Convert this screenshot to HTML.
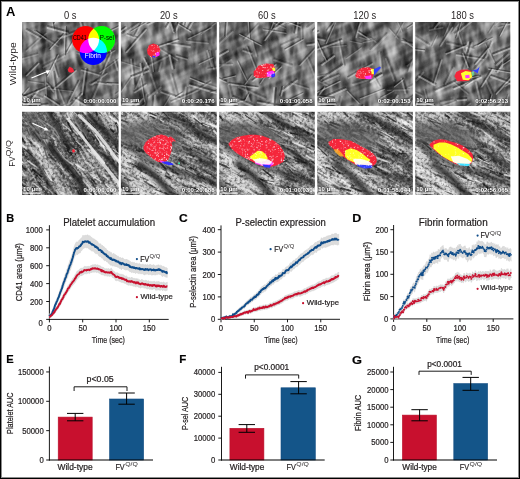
<!DOCTYPE html>
<html><head><meta charset="utf-8"><style>
html,body{margin:0;padding:0;background:#fff;}
body{width:520px;height:479px;position:relative;overflow:hidden;font-family:"Liberation Sans",sans-serif;}
svg text{font-family:"Liberation Sans",sans-serif;} .ct text{stroke:#231f20;stroke-width:0.22px;} .ct text.nb{stroke:none;}
</style></head><body>
<svg xmlns="http://www.w3.org/2000/svg" width="520" height="479" viewBox="0 0 520 479" style="position:absolute;left:0;top:0;will-change:transform">
<defs>
<filter id="blur1" x="-20%" y="-20%" width="140%" height="140%"><feGaussianBlur stdDeviation="1.2"/></filter>
<filter id="blur2" x="-30%" y="-30%" width="160%" height="160%"><feGaussianBlur stdDeviation="2.5"/></filter>
<filter id="blur4" x="-30%" y="-30%" width="160%" height="160%"><feGaussianBlur stdDeviation="4"/></filter>
<filter id="blur05"><feGaussianBlur stdDeviation="0.5"/></filter>
<filter id="b05" filterUnits="userSpaceOnUse" x="0" y="0" width="520" height="479"><feGaussianBlur stdDeviation="0.5"/></filter>
<filter id="b15" filterUnits="userSpaceOnUse" x="0" y="0" width="520" height="479"><feGaussianBlur stdDeviation="1.5"/></filter>
<filter id="b1" filterUnits="userSpaceOnUse" x="0" y="0" width="520" height="479"><feGaussianBlur stdDeviation="1"/></filter>
<filter id="b2" filterUnits="userSpaceOnUse" x="0" y="0" width="520" height="479"><feGaussianBlur stdDeviation="2"/></filter>
<filter id="b3" filterUnits="userSpaceOnUse" x="0" y="0" width="520" height="479"><feGaussianBlur stdDeviation="3"/></filter>
<filter id="b4" filterUnits="userSpaceOnUse" x="0" y="0" width="520" height="479"><feGaussianBlur stdDeviation="4"/></filter>
<filter id="b5" filterUnits="userSpaceOnUse" x="0" y="0" width="520" height="479"><feGaussianBlur stdDeviation="5"/></filter>
<filter id="b6" filterUnits="userSpaceOnUse" x="0" y="0" width="520" height="479"><feGaussianBlur stdDeviation="6"/></filter>
<filter id="soft" x="0" y="0" width="100%" height="100%"><feGaussianBlur stdDeviation="0.55"/></filter>
</defs>
<text x="5.98" y="15.7" font-size="12" font-weight="bold" fill="#000" textLength="9.38" lengthAdjust="spacingAndGlyphs">A</text>
<text x="64.01" y="18.7" font-size="10.2" fill="#231f20" textLength="12.52" lengthAdjust="spacingAndGlyphs">0 s</text>
<text x="159.91" y="18.7" font-size="10.2" fill="#231f20" textLength="17.74" lengthAdjust="spacingAndGlyphs">20 s</text>
<text x="258.06" y="18.7" font-size="10.2" fill="#231f20" textLength="17.74" lengthAdjust="spacingAndGlyphs">60 s</text>
<text x="353.34" y="18.7" font-size="10.2" fill="#231f20" textLength="22.96" lengthAdjust="spacingAndGlyphs">120 s</text>
<text x="451.09" y="18.7" font-size="10.2" fill="#231f20" textLength="22.96" lengthAdjust="spacingAndGlyphs">180 s</text>
<g transform="translate(16.2,64) rotate(-90)"><text x="-21.25" y="0" font-size="9.4" fill="#231f20" textLength="42.94" lengthAdjust="spacingAndGlyphs">Wild-type</text></g>
<g transform="translate(15.4,166) rotate(-90)">
<text x="-0.64" y="0" font-size="9.2" fill="#231f20" textLength="10.2" lengthAdjust="spacingAndGlyphs">FV</text>
<text x="9.6" y="-4.1" font-size="6.6" fill="#231f20" textLength="16.44" lengthAdjust="spacingAndGlyphs">Q/Q</text>
</g>
<clipPath id="c00"><rect x="22" y="22" width="96.6" height="84"/></clipPath>
<g clip-path="url(#c00)">
<g filter="url(#soft)">
<rect x="20" y="20" width="100.6" height="88" fill="rgb(104,104,104)"/>
<line x1="23.49" y1="22" x2="23.49" y2="106" stroke="rgb(200,200,200)" stroke-opacity="0.5" stroke-width="2.61" filter="url(#b1)"/>
<line x1="42.52" y1="22" x2="48.12" y2="106" stroke="rgb(60,60,60)" stroke-opacity="0.35" stroke-width="6.53" filter="url(#b3)"/>
<line x1="22" y1="83.6" x2="119" y2="50" stroke="rgb(70,70,70)" stroke-opacity="0.3" stroke-width="5.6" filter="url(#b4)"/>
<filter id="c00f0" x="0" y="0" width="100%" height="100%" color-interpolation-filters="sRGB"><feTurbulence type="fractalNoise" baseFrequency="0.14 0.025" numOctaves="2" seed="11"/><feColorMatrix type="matrix" values="1.4 0 0 0 -0.2  1.4 0 0 0 -0.2  1.4 0 0 0 -0.2  0 0 0 0 1"/></filter>
<g transform="rotate(65 70.3 64)" opacity="0.5" style="mix-blend-mode:hard-light"><rect x="-4.7" y="-11" width="150" height="150" filter="url(#c00f0)"/></g>
<filter id="c00f1" x="0" y="0" width="100%" height="100%" color-interpolation-filters="sRGB"><feTurbulence type="fractalNoise" baseFrequency="0.14 0.025" numOctaves="2" seed="12"/><feColorMatrix type="matrix" values="1.4 0 0 0 -0.2  1.4 0 0 0 -0.2  1.4 0 0 0 -0.2  0 0 0 0 1"/></filter>
<g transform="rotate(-20 70.3 64)" opacity="0.5" style="mix-blend-mode:hard-light"><rect x="-4.7" y="-11" width="150" height="150" filter="url(#c00f1)"/></g>
<filter id="c00f2" x="0" y="0" width="100%" height="100%" color-interpolation-filters="sRGB"><feTurbulence type="fractalNoise" baseFrequency="0.18 0.03" numOctaves="2" seed="13"/><feColorMatrix type="matrix" values="1.2 0 0 0 -0.1  1.2 0 0 0 -0.1  1.2 0 0 0 -0.1  0 0 0 0 1"/></filter>
<g transform="rotate(5 70.3 64)" opacity="0.45" style="mix-blend-mode:hard-light"><rect x="-4.7" y="-11" width="150" height="150" filter="url(#c00f2)"/></g>
<filter id="c00f3" x="0" y="0" width="100%" height="100%" color-interpolation-filters="sRGB"><feTurbulence type="fractalNoise" baseFrequency="0.06 0.06" numOctaves="2" seed="14"/><feColorMatrix type="matrix" values="1.0 0 0 0 0  1.0 0 0 0 0  1.0 0 0 0 0  0 0 0 0 1"/></filter>
<g transform="rotate(0 70.3 64)" opacity="0.4" style="mix-blend-mode:hard-light"><rect x="-4.7" y="-11" width="150" height="150" filter="url(#c00f3)"/></g>
<path d="M23.2 95.1L29.3 88.0M107.9 56.0L113.1 45.7M49.6 8.6L53.4 30.0M82.8 48.2L110.8 43.7M102.9 57.2L115.0 50.7" stroke="#fff" stroke-opacity="0.28" stroke-width="1.17" stroke-linecap="round" fill="none"/>
<path d="M22.2 94.3L28.3 87.1M106.7 55.4L112.0 45.1M50.9 8.4L54.7 29.8M82.6 46.9L110.6 42.4M102.3 56.0L114.4 49.6" stroke="#000" stroke-opacity="0.28" stroke-width="1.17" stroke-linecap="round" fill="none"/>
<path d="M108.7 61.3L111.8 53.3M48.4 114.7L73.4 101.4M13.0 109.2L25.2 96.9M18.2 60.3L37.8 54.6M33.9 31.8L57.8 46.3M78.1 95.1L79.3 120.6M26.7 51.0L46.5 33.5M58.4 89.7L68.2 114.1M118.2 98.9L132.0 84.5" stroke="#fff" stroke-opacity="0.19" stroke-width="1.50" stroke-linecap="round" fill="none"/>
<path d="M107.1 60.7L110.2 52.7M47.6 113.2L72.7 99.9M11.8 108.1L24.1 95.7M17.7 58.7L37.3 53.0M34.7 30.4L58.7 44.9M79.8 95.1L80.9 120.5M25.7 49.7L45.4 32.3M59.9 89.0L69.7 113.5M117.0 97.8L130.8 83.4" stroke="#000" stroke-opacity="0.19" stroke-width="1.50" stroke-linecap="round" fill="none"/>
<path d="M9.0 84.6L21.3 76.1M47.5 28.0L67.8 33.4M-1.7 91.3L26.6 97.7M74.4 99.6L84.9 105.3M27.1 108.1L47.9 105.3M24.4 109.7L38.2 91.3M120.9 25.4L122.5 35.0M85.5 68.9L82.0 94.7M112.5 115.5L125.2 109.9" stroke="#fff" stroke-opacity="0.36" stroke-width="1.83" stroke-linecap="round" fill="none"/>
<path d="M7.9 83.0L20.2 74.5M48.0 26.0L68.3 31.5M-1.3 89.3L27.1 95.7M75.4 97.8L85.9 103.5M26.8 106.1L47.6 103.3M22.8 108.5L36.6 90.1M122.9 25.1L124.5 34.6M87.5 69.1L84.0 95.0M111.7 113.7L124.4 108.0" stroke="#000" stroke-opacity="0.36" stroke-width="1.83" stroke-linecap="round" fill="none"/>
<path d="M68.8 102.5L79.7 81.1M52.9 19.3L64.5 13.5M100.3 79.7L111.3 52.4M69.1 108.6L82.4 93.6M117.7 2.2L132.5 26.6M53.3 63.7L57.4 77.2M94.9 82.7L111.5 85.0M81.5 70.3L100.3 75.8M91.9 84.9L107.0 73.6" stroke="#fff" stroke-opacity="0.28" stroke-width="1.50" stroke-linecap="round" fill="none"/>
<path d="M67.3 101.7L78.2 80.4M52.2 17.8L63.8 12.1M98.8 79.1L109.7 51.7M67.9 107.5L81.2 92.5M119.2 1.3L133.9 25.7M54.9 63.2L59.0 76.7M95.1 81.1L111.7 83.4M81.9 68.7L100.8 74.2M90.9 83.6L106.0 72.3" stroke="#000" stroke-opacity="0.28" stroke-width="1.50" stroke-linecap="round" fill="none"/>
<path d="M46.8 83.4L53.5 91.7M26.7 75.7L38.8 63.6M44.6 96.2L58.7 105.5M24.3 97.3L50.0 86.1M38.0 105.0L39.2 115.5M16.0 101.8L24.6 104.0M53.4 90.0L76.1 70.9M86.5 58.8L105.0 36.3M114.2 120.0L126.6 107.2M89.7 41.7L110.5 51.1" stroke="#fff" stroke-opacity="0.36" stroke-width="1.50" stroke-linecap="round" fill="none"/>
<path d="M48.0 82.4L54.8 90.6M25.5 74.5L37.6 62.4M45.5 94.8L59.6 104.1M23.7 95.8L49.3 84.6M39.7 104.9L40.8 115.3M16.5 100.2L25.0 102.4M52.3 88.7L75.0 69.7M85.3 57.7L103.7 35.3M113.0 118.8L125.4 106.1M90.4 40.2L111.2 49.6" stroke="#000" stroke-opacity="0.36" stroke-width="1.50" stroke-linecap="round" fill="none"/>
<path d="M99.8 73.0L122.2 57.2M44.9 74.0L46.5 96.2M76.5 53.1L101.0 60.8M116.1 94.5L127.7 85.3M28.2 81.6L43.6 83.9M107.1 115.2L132.1 103.4M46.5 88.6L72.7 91.5" stroke="#fff" stroke-opacity="0.19" stroke-width="1.17" stroke-linecap="round" fill="none"/>
<path d="M99.1 71.9L121.5 56.1M46.2 73.9L47.8 96.1M76.9 51.8L101.4 59.6M115.3 93.4L126.9 84.3M28.4 80.3L43.8 82.6M106.6 114.1L131.5 102.2M46.7 87.3L72.9 90.3" stroke="#000" stroke-opacity="0.19" stroke-width="1.17" stroke-linecap="round" fill="none"/>
<path d="M54.8 23.9L67.0 1.1M67.3 52.5L74.4 39.8M107.1 83.7L122.6 84.5M65.2 26.6L64.2 55.0M105.9 33.3L123.3 25.0M36.0 31.7L45.7 38.6M47.9 76.5L58.4 55.2M50.2 49.5L64.1 34.4" stroke="#fff" stroke-opacity="0.36" stroke-width="1.17" stroke-linecap="round" fill="none"/>
<path d="M53.6 23.3L65.9 0.5M66.2 51.8L73.3 39.2M107.1 82.4L122.7 83.2M66.5 26.7L65.5 55.0M105.3 32.2L122.7 23.8M36.7 30.7L46.4 37.5M46.8 76.0L57.2 54.6M49.3 48.7L63.2 33.5" stroke="#000" stroke-opacity="0.36" stroke-width="1.17" stroke-linecap="round" fill="none"/>
<path d="M120.4 15.2L121.7 23.8M114.5 60.4L117.5 70.3M109.7 17.7L129.6 24.2M122.4 9.1L125.7 38.3M26.0 30.6L39.8 38.3M77.5 12.8L84.9 38.1M52.3 71.9L56.3 98.3M59.0 38.6L79.5 31.5" stroke="#fff" stroke-opacity="0.28" stroke-width="1.83" stroke-linecap="round" fill="none"/>
<path d="M122.4 14.9L123.7 23.5M116.4 59.8L119.4 69.7M110.4 15.7L130.2 22.3M124.4 8.9L127.7 38.0M26.9 28.9L40.8 36.6M79.4 12.2L86.9 37.5M54.3 71.6L58.3 98.0M58.3 36.6L78.8 29.5" stroke="#000" stroke-opacity="0.28" stroke-width="1.83" stroke-linecap="round" fill="none"/>
<path d="M22.2 108.0L29.9 101.6M32.6 95.1L41.9 98.9M43.6 67.5L65.2 55.8M90.5 84.7L101.0 80.0M92.8 99.3L101.5 79.1" stroke="#fff" stroke-opacity="0.19" stroke-width="1.83" stroke-linecap="round" fill="none"/>
<path d="M20.9 106.5L28.6 100.1M33.4 93.2L42.7 97.0M42.6 65.7L64.2 54.1M89.7 82.9L100.2 78.2M90.9 98.5L99.7 78.3" stroke="#000" stroke-opacity="0.19" stroke-width="1.83" stroke-linecap="round" fill="none"/>
</g>
<polygon points="67.7,69.6 69.57,66.8 72.74,68.29 74.23,71.47 71.43,72.77 68.63,72.03" fill="#f5283a" filter="url(#b05)" stroke-linejoin="round"/>
</g>
<clipPath id="c01"><rect x="120.9" y="22" width="95.9" height="84"/></clipPath>
<g clip-path="url(#c01)">
<g filter="url(#soft)">
<rect x="118.9" y="20" width="99.9" height="88" fill="rgb(106,106,106)"/>
<line x1="197.38" y1="22" x2="196.45" y2="106" stroke="rgb(45,45,45)" stroke-opacity="0.6" stroke-width="4.66" filter="url(#b2)"/>
<line x1="120.9" y1="78" x2="217.9" y2="40.67" stroke="rgb(70,70,70)" stroke-opacity="0.3" stroke-width="4.66" filter="url(#b3)"/>
<line x1="124.63" y1="22" x2="132.09" y2="106" stroke="rgb(60,60,60)" stroke-opacity="0.3" stroke-width="5.6" filter="url(#b3)"/>
<filter id="c01f0" x="0" y="0" width="100%" height="100%" color-interpolation-filters="sRGB"><feTurbulence type="fractalNoise" baseFrequency="0.14 0.025" numOctaves="2" seed="21"/><feColorMatrix type="matrix" values="1.4 0 0 0 -0.2  1.4 0 0 0 -0.2  1.4 0 0 0 -0.2  0 0 0 0 1"/></filter>
<g transform="rotate(65 168.85 64)" opacity="0.5" style="mix-blend-mode:hard-light"><rect x="93.85" y="-11" width="150" height="150" filter="url(#c01f0)"/></g>
<filter id="c01f1" x="0" y="0" width="100%" height="100%" color-interpolation-filters="sRGB"><feTurbulence type="fractalNoise" baseFrequency="0.14 0.025" numOctaves="2" seed="22"/><feColorMatrix type="matrix" values="1.4 0 0 0 -0.2  1.4 0 0 0 -0.2  1.4 0 0 0 -0.2  0 0 0 0 1"/></filter>
<g transform="rotate(-20 168.85 64)" opacity="0.5" style="mix-blend-mode:hard-light"><rect x="93.85" y="-11" width="150" height="150" filter="url(#c01f1)"/></g>
<filter id="c01f2" x="0" y="0" width="100%" height="100%" color-interpolation-filters="sRGB"><feTurbulence type="fractalNoise" baseFrequency="0.18 0.03" numOctaves="2" seed="23"/><feColorMatrix type="matrix" values="1.2 0 0 0 -0.1  1.2 0 0 0 -0.1  1.2 0 0 0 -0.1  0 0 0 0 1"/></filter>
<g transform="rotate(5 168.85 64)" opacity="0.45" style="mix-blend-mode:hard-light"><rect x="93.85" y="-11" width="150" height="150" filter="url(#c01f2)"/></g>
<filter id="c01f3" x="0" y="0" width="100%" height="100%" color-interpolation-filters="sRGB"><feTurbulence type="fractalNoise" baseFrequency="0.06 0.06" numOctaves="2" seed="24"/><feColorMatrix type="matrix" values="1.0 0 0 0 0  1.0 0 0 0 0  1.0 0 0 0 0  0 0 0 0 1"/></filter>
<g transform="rotate(0 168.85 64)" opacity="0.4" style="mix-blend-mode:hard-light"><rect x="93.85" y="-11" width="150" height="150" filter="url(#c01f3)"/></g>
<path d="M199.4 103.4L210.4 99.4M216.9 77.0L217.0 97.5M219.3 19.1L224.8 10.9M159.3 114.2L171.0 95.5M121.4 91.8L132.3 76.3M201.3 34.6L217.9 21.5M100.2 28.2L124.1 19.1M113.9 59.7L139.9 67.9" stroke="#fff" stroke-opacity="0.19" stroke-width="1.17" stroke-linecap="round" fill="none"/>
<path d="M198.9 102.2L209.9 98.1M218.2 77.0L218.3 97.5M218.2 18.3L223.8 10.2M158.2 113.5L169.9 94.9M120.4 91.1L131.3 75.6M200.5 33.6L217.1 20.5M99.8 27.0L123.6 17.9M114.3 58.4L140.3 66.7" stroke="#000" stroke-opacity="0.19" stroke-width="1.17" stroke-linecap="round" fill="none"/>
<path d="M171.5 102.4L199.0 90.3M126.9 35.2L136.5 38.5M134.6 37.3L147.6 13.0M191.8 93.7L211.1 82.2M134.9 92.6L146.6 84.9M176.3 56.4L186.9 59.5M209.7 51.3L213.9 68.9M171.7 114.3L179.7 112.4" stroke="#fff" stroke-opacity="0.28" stroke-width="1.50" stroke-linecap="round" fill="none"/>
<path d="M170.8 100.9L198.3 88.8M127.4 33.7L137.1 36.9M133.1 36.5L146.1 12.3M190.9 92.3L210.2 80.8M134.0 91.2L145.7 83.5M176.8 54.8L187.4 57.9M211.3 50.9L215.5 68.5M171.3 112.7L179.3 110.8" stroke="#000" stroke-opacity="0.28" stroke-width="1.50" stroke-linecap="round" fill="none"/>
<path d="M153.1 122.5L155.1 95.4M207.2 51.0L211.8 66.3M161.4 92.5L179.2 99.0M167.8 43.8L189.9 47.1M132.8 108.7L142.9 98.9M105.2 83.9L120.6 105.3M131.0 59.3L133.4 83.8M205.3 104.1L219.7 111.9M185.7 87.4L183.9 101.9" stroke="#fff" stroke-opacity="0.28" stroke-width="1.83" stroke-linecap="round" fill="none"/>
<path d="M151.1 122.4L153.1 95.3M209.1 50.4L213.7 65.7M162.1 90.6L179.9 97.1M168.1 41.8L190.2 45.1M131.4 107.2L141.5 97.4M106.8 82.7L122.3 104.1M133.0 59.1L135.4 83.6M206.3 102.4L220.7 110.2M187.7 87.6L185.9 102.2" stroke="#000" stroke-opacity="0.28" stroke-width="1.83" stroke-linecap="round" fill="none"/>
<path d="M129.9 20.3L147.5 10.1M105.1 92.9L117.7 101.9M186.6 41.5L208.3 43.6M198.9 82.3L222.3 90.0M135.9 88.7L147.5 62.0M146.3 94.2L144.8 104.4M176.1 14.5L177.0 39.7M208.3 69.6L223.7 66.9M121.4 120.2L144.5 105.0M158.3 48.4L177.5 60.4" stroke="#fff" stroke-opacity="0.19" stroke-width="1.50" stroke-linecap="round" fill="none"/>
<path d="M129.1 18.9L146.6 8.6M106.0 91.6L118.7 100.6M186.8 39.9L208.5 42.0M199.4 80.7L222.8 88.5M134.4 88.1L145.9 61.3M147.9 94.5L146.5 104.6M177.7 14.4L178.6 39.6M208.0 68.0L223.5 65.3M120.5 118.8L143.6 103.6M159.2 47.0L178.4 59.0" stroke="#000" stroke-opacity="0.19" stroke-width="1.50" stroke-linecap="round" fill="none"/>
<path d="M189.7 85.4L216.2 93.3M132.0 77.7L148.6 71.2M220.4 20.4L222.1 28.7M169.4 55.1L172.4 68.7M103.0 117.5L128.0 111.0M167.7 15.7L173.6 32.3M188.7 29.6L201.6 6.7M167.3 27.7L177.4 10.0M140.3 63.9L141.7 74.8M216.3 50.7L218.1 78.0M148.2 24.7L158.1 19.6M176.0 31.5L181.4 17.4M121.5 119.7L127.0 112.6" stroke="#fff" stroke-opacity="0.36" stroke-width="1.83" stroke-linecap="round" fill="none"/>
<path d="M190.3 83.5L216.8 91.3M131.3 75.8L147.9 69.3M222.4 20.0L224.0 28.3M171.4 54.7L174.4 68.2M102.5 115.6L127.5 109.1M169.6 15.0L175.5 31.6M186.9 28.6L199.9 5.7M165.6 26.7L175.6 9.0M142.3 63.7L143.7 74.6M218.3 50.6L220.2 77.8M147.3 23.0L157.1 17.8M174.1 30.8L179.5 16.7M119.9 118.5L125.4 111.3" stroke="#000" stroke-opacity="0.36" stroke-width="1.83" stroke-linecap="round" fill="none"/>
<path d="M154.9 48.2L178.6 40.4M197.4 21.5L214.6 7.3M126.8 52.2L146.3 29.7M143.8 58.4L148.1 67.0M188.1 0.9L183.2 24.5M110.7 39.0L126.1 27.8" stroke="#fff" stroke-opacity="0.36" stroke-width="1.50" stroke-linecap="round" fill="none"/>
<path d="M154.4 46.6L178.1 38.9M196.4 20.2L213.6 6.0M125.5 51.1L145.1 28.6M145.2 57.7L149.6 66.3M189.7 1.2L184.8 24.8M109.7 37.7L125.1 26.5" stroke="#000" stroke-opacity="0.36" stroke-width="1.50" stroke-linecap="round" fill="none"/>
<path d="M210.7 93.0L219.6 90.2M130.8 32.0L150.3 20.5M140.5 78.8L144.6 101.5M147.3 114.3L156.5 118.4M188.4 39.0L211.7 27.7M151.3 56.2L153.3 71.4M199.2 64.3L213.1 57.7" stroke="#fff" stroke-opacity="0.28" stroke-width="1.17" stroke-linecap="round" fill="none"/>
<path d="M210.3 91.7L219.2 89.0M130.1 30.9L149.7 19.4M141.8 78.6L145.9 101.3M147.8 113.1L157.0 117.3M187.8 37.8L211.2 26.5M152.6 56.0L154.6 71.3M198.7 63.1L212.6 56.5" stroke="#000" stroke-opacity="0.28" stroke-width="1.17" stroke-linecap="round" fill="none"/>
<path d="M176.1 97.2L183.0 93.0M190.0 78.2L204.1 84.0M178.4 24.5L190.6 31.9" stroke="#fff" stroke-opacity="0.36" stroke-width="1.17" stroke-linecap="round" fill="none"/>
<path d="M175.5 96.1L182.3 91.9M190.5 77.0L204.6 82.8M179.1 23.4L191.2 30.8" stroke="#000" stroke-opacity="0.36" stroke-width="1.17" stroke-linecap="round" fill="none"/>
<path d="M150.8 74.2L157.2 92.9M159.2 71.3L161.4 62.4M170.7 74.4L176.3 94.8M123.1 34.7L139.1 23.8M148.9 97.6L160.6 87.6M143.4 68.9L170.2 55.5" stroke="#fff" stroke-opacity="0.19" stroke-width="1.83" stroke-linecap="round" fill="none"/>
<path d="M152.7 73.5L159.1 92.2M157.3 70.8L159.5 61.9M172.6 73.9L178.3 94.3M122.0 33.0L138.0 22.1M147.6 96.1L159.3 86.1M142.5 67.1L169.3 53.7" stroke="#000" stroke-opacity="0.19" stroke-width="1.83" stroke-linecap="round" fill="none"/>
</g>
<polygon points="147.02,50 148.88,45.33 153.54,43.47 158.21,45.33 160.45,50 159.14,54.67 155.41,57.47 150.75,57.09 147.58,54.11" fill="#f5283a" filter="url(#b05)" stroke-linejoin="round"/>
<polygon points="155.41,52.8 159.14,51.87 159.7,55.23 156.34,57.09" fill="#ff20ff" filter="url(#b05)" stroke-linejoin="round"/>
<polygon points="152.61,55.6 156.34,56.53 154.48,57.84 152.24,57.09" fill="#3030ff" filter="url(#b05)" stroke-linejoin="round"/>
<clipPath id="c01s"><polygon points="147.02,50 148.88,45.33 153.54,43.47 158.21,45.33 160.45,50 159.14,54.67 155.41,57.47 150.75,57.09 147.58,54.11"/></clipPath>
<g clip-path="url(#c01s)">
<path d="M154.8 53.9a0.63 0.63 0 1 0 1.26 0a0.63 0.63 0 1 0 -1.26 0M148.0 47.0a0.38 0.38 0 1 0 0.75 0a0.38 0.38 0 1 0 -0.75 0M157.3 45.4a0.46 0.46 0 1 0 0.91 0a0.46 0.46 0 1 0 -0.91 0M159.4 51.0a0.52 0.52 0 1 0 1.04 0a0.52 0.52 0 1 0 -1.04 0M154.6 43.5a0.55 0.55 0 1 0 1.10 0a0.55 0.55 0 1 0 -1.10 0M150.9 50.2a0.36 0.36 0 1 0 0.72 0a0.36 0.36 0 1 0 -0.72 0M150.0 56.6a0.43 0.43 0 1 0 0.85 0a0.43 0.43 0 1 0 -0.85 0M157.2 52.2a0.54 0.54 0 1 0 1.08 0a0.54 0.54 0 1 0 -1.08 0M148.7 57.2a0.31 0.31 0 1 0 0.62 0a0.31 0.31 0 1 0 -0.62 0M152.7 50.3a0.41 0.41 0 1 0 0.82 0a0.41 0.41 0 1 0 -0.82 0M153.5 51.1a0.43 0.43 0 1 0 0.85 0a0.43 0.43 0 1 0 -0.85 0" fill="#fff" fill-opacity="0.85"/>
<path d="M156.4 56.4a0.59 0.59 0 1 0 1.19 0a0.59 0.59 0 1 0 -1.19 0M156.8 47.0a0.62 0.62 0 1 0 1.23 0a0.62 0.62 0 1 0 -1.23 0M148.1 50.0a0.43 0.43 0 1 0 0.87 0a0.43 0.43 0 1 0 -0.87 0M148.4 57.1a0.37 0.37 0 1 0 0.75 0a0.37 0.37 0 1 0 -0.75 0M149.5 57.2a0.40 0.40 0 1 0 0.80 0a0.40 0.40 0 1 0 -0.80 0M148.8 57.0a0.64 0.64 0 1 0 1.28 0a0.64 0.64 0 1 0 -1.28 0M154.2 43.6a0.55 0.55 0 1 0 1.10 0a0.55 0.55 0 1 0 -1.10 0M154.8 56.8a0.56 0.56 0 1 0 1.13 0a0.56 0.56 0 1 0 -1.13 0M160.1 45.7a0.33 0.33 0 1 0 0.66 0a0.33 0.33 0 1 0 -0.66 0M154.7 56.4a0.38 0.38 0 1 0 0.77 0a0.38 0.38 0 1 0 -0.77 0M153.0 55.2a0.64 0.64 0 1 0 1.29 0a0.64 0.64 0 1 0 -1.29 0M152.5 57.5a0.64 0.64 0 1 0 1.28 0a0.64 0.64 0 1 0 -1.28 0M150.4 50.0a0.34 0.34 0 1 0 0.68 0a0.34 0.34 0 1 0 -0.68 0M157.5 50.9a0.52 0.52 0 1 0 1.04 0a0.52 0.52 0 1 0 -1.04 0M153.2 48.2a0.47 0.47 0 1 0 0.94 0a0.47 0.47 0 1 0 -0.94 0" fill="#fff" fill-opacity="0.35"/>
<path d="M150.4 56.3a0.36 0.36 0 1 0 0.71 0a0.36 0.36 0 1 0 -0.71 0M158.6 47.6a0.45 0.45 0 1 0 0.89 0a0.45 0.45 0 1 0 -0.89 0M159.2 47.2a0.41 0.41 0 1 0 0.81 0a0.41 0.41 0 1 0 -0.81 0M147.4 48.4a0.47 0.47 0 1 0 0.94 0a0.47 0.47 0 1 0 -0.94 0M152.0 51.2a0.43 0.43 0 1 0 0.86 0a0.43 0.43 0 1 0 -0.86 0M159.0 56.7a0.48 0.48 0 1 0 0.96 0a0.48 0.48 0 1 0 -0.96 0M158.7 47.0a0.34 0.34 0 1 0 0.68 0a0.34 0.34 0 1 0 -0.68 0M156.8 54.6a0.31 0.31 0 1 0 0.63 0a0.31 0.31 0 1 0 -0.63 0M159.2 44.7a0.48 0.48 0 1 0 0.96 0a0.48 0.48 0 1 0 -0.96 0M151.3 45.5a0.62 0.62 0 1 0 1.25 0a0.62 0.62 0 1 0 -1.25 0M153.9 47.8a0.41 0.41 0 1 0 0.81 0a0.41 0.41 0 1 0 -0.81 0M154.5 55.0a0.53 0.53 0 1 0 1.06 0a0.53 0.53 0 1 0 -1.06 0M154.3 45.3a0.34 0.34 0 1 0 0.67 0a0.34 0.34 0 1 0 -0.67 0M152.4 45.6a0.40 0.40 0 1 0 0.81 0a0.40 0.40 0 1 0 -0.81 0" fill="#fff" fill-opacity="0.6"/>
</g>
</g>
<clipPath id="c02"><rect x="219.2" y="22" width="95.6" height="84"/></clipPath>
<g clip-path="url(#c02)">
<g filter="url(#soft)">
<rect x="217.2" y="20" width="99.6" height="88" fill="rgb(106,106,106)"/>
<polyline points="236.92,20.13 239.72,59.33 243.45,107.87" fill="none" stroke="rgb(40,40,40)" stroke-opacity="0.5" stroke-width="5.6" stroke-linejoin="round" stroke-linecap="round" filter="url(#b3)"/>
<polyline points="247.18,92.93 275.16,81.73 305.01,68.67" fill="none" stroke="rgb(230,230,230)" stroke-opacity="0.6" stroke-width="1.87" stroke-linejoin="round" stroke-linecap="round" filter="url(#b1)"/>
<polyline points="217.33,68.67 256.51,50 293.82,33.2" fill="none" stroke="rgb(60,60,60)" stroke-opacity="0.35" stroke-width="3.73" stroke-linejoin="round" stroke-linecap="round" filter="url(#b3)"/>
<filter id="c02f0" x="0" y="0" width="100%" height="100%" color-interpolation-filters="sRGB"><feTurbulence type="fractalNoise" baseFrequency="0.14 0.025" numOctaves="2" seed="31"/><feColorMatrix type="matrix" values="1.4 0 0 0 -0.2  1.4 0 0 0 -0.2  1.4 0 0 0 -0.2  0 0 0 0 1"/></filter>
<g transform="rotate(65 267 64)" opacity="0.5" style="mix-blend-mode:hard-light"><rect x="192" y="-11" width="150" height="150" filter="url(#c02f0)"/></g>
<filter id="c02f1" x="0" y="0" width="100%" height="100%" color-interpolation-filters="sRGB"><feTurbulence type="fractalNoise" baseFrequency="0.14 0.025" numOctaves="2" seed="32"/><feColorMatrix type="matrix" values="1.4 0 0 0 -0.2  1.4 0 0 0 -0.2  1.4 0 0 0 -0.2  0 0 0 0 1"/></filter>
<g transform="rotate(-20 267 64)" opacity="0.5" style="mix-blend-mode:hard-light"><rect x="192" y="-11" width="150" height="150" filter="url(#c02f1)"/></g>
<filter id="c02f2" x="0" y="0" width="100%" height="100%" color-interpolation-filters="sRGB"><feTurbulence type="fractalNoise" baseFrequency="0.18 0.03" numOctaves="2" seed="33"/><feColorMatrix type="matrix" values="1.2 0 0 0 -0.1  1.2 0 0 0 -0.1  1.2 0 0 0 -0.1  0 0 0 0 1"/></filter>
<g transform="rotate(5 267 64)" opacity="0.45" style="mix-blend-mode:hard-light"><rect x="192" y="-11" width="150" height="150" filter="url(#c02f2)"/></g>
<filter id="c02f3" x="0" y="0" width="100%" height="100%" color-interpolation-filters="sRGB"><feTurbulence type="fractalNoise" baseFrequency="0.06 0.06" numOctaves="2" seed="34"/><feColorMatrix type="matrix" values="1.0 0 0 0 0  1.0 0 0 0 0  1.0 0 0 0 0  0 0 0 0 1"/></filter>
<g transform="rotate(0 267 64)" opacity="0.4" style="mix-blend-mode:hard-light"><rect x="192" y="-11" width="150" height="150" filter="url(#c02f3)"/></g>
<path d="M253.0 81.2L276.0 64.9M205.8 73.6L225.9 82.4M277.6 115.5L302.0 102.1M231.1 104.4L246.1 100.4M281.3 95.7L283.7 86.8M226.3 35.9L228.2 8.2M228.9 84.2L257.6 88.1M313.7 31.1L321.3 23.5M265.1 40.4L280.5 20.0" stroke="#fff" stroke-opacity="0.36" stroke-width="1.50" stroke-linecap="round" fill="none"/>
<path d="M252.0 79.9L275.0 63.6M206.4 72.1L226.5 80.9M276.8 114.0L301.2 100.7M230.7 102.8L245.7 98.8M279.7 95.3L282.1 86.4M224.7 35.8L226.6 8.1M229.2 82.6L257.9 86.5M312.5 29.9L320.1 22.4M263.8 39.4L279.2 19.0" stroke="#000" stroke-opacity="0.36" stroke-width="1.50" stroke-linecap="round" fill="none"/>
<path d="M317.8 59.8L330.4 63.6M300.1 65.5L317.3 47.2M247.0 47.3L257.3 73.1M285.7 107.7L287.4 116.9M320.8 38.1L315.4 65.2" stroke="#fff" stroke-opacity="0.28" stroke-width="1.50" stroke-linecap="round" fill="none"/>
<path d="M318.2 58.2L330.8 62.0M298.9 64.4L316.1 46.1M248.5 46.7L258.8 72.4M287.3 107.4L289.0 116.6M322.4 38.5L317.1 65.5" stroke="#000" stroke-opacity="0.28" stroke-width="1.50" stroke-linecap="round" fill="none"/>
<path d="M242.4 21.4L267.1 7.5M307.1 58.1L318.6 85.0M273.9 60.2L291.5 66.3M228.3 85.3L230.9 96.9M248.1 120.5L271.9 102.7M308.1 28.4L316.7 22.1M281.6 46.3L298.6 38.7M315.3 90.0L320.5 98.0M289.3 24.6L309.7 15.7M239.0 87.3L265.1 99.2M212.9 49.7L232.8 32.0" stroke="#fff" stroke-opacity="0.19" stroke-width="1.83" stroke-linecap="round" fill="none"/>
<path d="M241.4 19.6L266.2 5.8M309.0 57.4L320.4 84.2M274.6 58.3L292.2 64.4M230.3 84.8L232.9 96.4M246.9 118.9L270.7 101.1M306.9 26.7L315.5 20.4M280.8 44.5L297.8 36.9M317.0 88.9L322.2 96.9M288.4 22.7L308.9 13.8M239.8 85.5L265.9 97.4M211.5 48.2L231.4 30.5" stroke="#000" stroke-opacity="0.19" stroke-width="1.83" stroke-linecap="round" fill="none"/>
<path d="M206.5 105.8L219.9 100.1M307.4 45.4L335.9 41.2M275.2 29.1L294.5 16.7M257.6 102.6L286.2 108.4M207.8 62.8L228.1 51.3M274.1 87.8L271.6 117.0M323.2 74.4L324.0 84.1M296.2 32.8L298.1 22.0" stroke="#fff" stroke-opacity="0.36" stroke-width="1.83" stroke-linecap="round" fill="none"/>
<path d="M205.7 104.0L219.1 98.2M307.1 43.4L335.6 39.2M274.1 27.4L293.4 15.0M258.0 100.7L286.6 106.4M206.8 61.1L227.1 49.6M276.1 88.0L273.6 117.2M325.2 74.3L326.0 83.9M294.2 32.5L296.1 21.7" stroke="#000" stroke-opacity="0.36" stroke-width="1.83" stroke-linecap="round" fill="none"/>
<path d="M316.0 112.2L320.0 94.9M263.1 18.3L285.1 28.4M219.4 26.8L221.4 18.1M213.0 97.7L212.6 120.5" stroke="#fff" stroke-opacity="0.19" stroke-width="1.17" stroke-linecap="round" fill="none"/>
<path d="M314.7 111.9L318.7 94.6M263.7 17.1L285.6 27.2M218.2 26.6L220.2 17.8M214.3 97.7L213.9 120.5" stroke="#000" stroke-opacity="0.19" stroke-width="1.17" stroke-linecap="round" fill="none"/>
<path d="M315.7 112.6L318.7 89.7M285.6 49.9L303.4 39.7M247.6 12.7L249.4 38.4M244.9 101.5L249.3 93.5M282.7 20.3L300.6 27.1M269.0 78.6L281.6 67.0M239.7 34.6L261.2 45.8M301.0 108.0L319.4 113.8M223.0 79.2L235.7 76.0" stroke="#fff" stroke-opacity="0.36" stroke-width="1.17" stroke-linecap="round" fill="none"/>
<path d="M314.4 112.4L317.5 89.6M284.9 48.8L302.8 38.6M248.9 12.6L250.6 38.3M243.8 100.9L248.2 92.9M283.1 19.1L301.1 25.9M268.2 77.6L280.8 66.0M240.2 33.5L261.8 44.7M301.4 106.8L319.8 112.6M222.7 78.0L235.4 74.8" stroke="#000" stroke-opacity="0.36" stroke-width="1.17" stroke-linecap="round" fill="none"/>
<path d="M291.7 106.3L304.9 100.4M245.0 84.6L252.2 75.4M237.4 61.5L247.0 81.2M260.5 83.7L265.5 76.3M270.0 32.4L275.5 16.8M263.2 29.9L285.9 33.3M287.8 101.3L303.1 93.5M306.3 16.5L330.2 31.8" stroke="#fff" stroke-opacity="0.28" stroke-width="1.17" stroke-linecap="round" fill="none"/>
<path d="M291.2 105.1L304.4 99.3M244.0 83.8L251.2 74.6M238.5 61.0L248.2 80.7M259.4 83.0L264.5 75.6M268.8 32.0L274.2 16.3M263.4 28.6L286.1 32.0M287.2 100.1L302.5 92.4M307.0 15.4L330.9 30.7" stroke="#000" stroke-opacity="0.28" stroke-width="1.17" stroke-linecap="round" fill="none"/>
<path d="M252.9 114.6L282.2 118.7M245.3 87.3L249.9 101.2M215.9 70.1L231.4 59.9M299.8 23.3L318.8 12.6M205.8 65.1L232.6 64.9M244.3 40.0L258.7 24.9M252.1 40.9L256.4 56.4M301.1 26.0L301.6 39.8M207.9 26.0L230.9 18.9M290.5 83.3L308.2 89.0" stroke="#fff" stroke-opacity="0.19" stroke-width="1.50" stroke-linecap="round" fill="none"/>
<path d="M253.1 113.0L282.4 117.1M246.8 86.8L251.5 100.7M215.0 68.8L230.5 58.5M299.0 21.8L318.0 11.1M205.8 63.5L232.5 63.3M243.1 38.9L257.5 23.7M253.7 40.5L258.0 56.0M302.7 25.9L303.2 39.8M207.4 24.4L230.4 17.3M291.0 81.8L308.7 87.4" stroke="#000" stroke-opacity="0.19" stroke-width="1.50" stroke-linecap="round" fill="none"/>
<path d="M317.5 93.3L324.4 100.9M316.2 47.3L324.3 44.1M283.5 90.9L297.3 80.6M243.1 51.0L251.3 53.8M316.2 42.4L318.6 52.5M232.9 97.7L253.9 107.1" stroke="#fff" stroke-opacity="0.28" stroke-width="1.83" stroke-linecap="round" fill="none"/>
<path d="M319.0 91.9L325.9 99.5M315.5 45.4L323.6 42.3M282.3 89.3L296.1 79.0M243.8 49.1L251.9 51.9M318.2 41.9L320.5 52.0M233.7 95.8L254.8 105.2" stroke="#000" stroke-opacity="0.28" stroke-width="1.83" stroke-linecap="round" fill="none"/>
</g>
<polygon points="253.71,71.47 258.37,65.87 265.83,63.44 273.3,64 275.16,68.67 274.23,75.2 269.57,77.07 262.1,78 256.51,78 253.71,76.13" fill="#f5283a" filter="url(#b05)" stroke-linejoin="round"/>
<polygon points="266.77,72.03 273.3,70.16 275.16,74.27 271.43,77.07 266.77,76.51" fill="#ff30ff" filter="url(#b05)" stroke-linejoin="round"/>
<polygon points="270.5,75.2 274.79,72.77 275.16,76.13 272.36,77.63" fill="#3030ff" filter="url(#b05)" stroke-linejoin="round"/>
<polygon points="271.99,67.73 274.79,67.73 275.16,70.91 272.92,70.91" fill="#ffff30" filter="url(#b05)" stroke-linejoin="round"/>
<clipPath id="c02s"><polygon points="253.71,71.47 258.37,65.87 265.83,63.44 273.3,64 275.16,68.67 274.23,75.2 269.57,77.07 262.1,78 256.51,78 253.71,76.13"/></clipPath>
<g clip-path="url(#c02s)">
<path d="M270.2 75.4a0.57 0.57 0 1 0 1.13 0a0.57 0.57 0 1 0 -1.13 0M270.3 74.1a0.62 0.62 0 1 0 1.24 0a0.62 0.62 0 1 0 -1.24 0M257.6 72.7a0.33 0.33 0 1 0 0.67 0a0.33 0.33 0 1 0 -0.67 0M272.7 72.5a0.43 0.43 0 1 0 0.86 0a0.43 0.43 0 1 0 -0.86 0M267.5 76.4a0.57 0.57 0 1 0 1.15 0a0.57 0.57 0 1 0 -1.15 0M261.4 64.6a0.46 0.46 0 1 0 0.93 0a0.46 0.46 0 1 0 -0.93 0M273.0 67.1a0.62 0.62 0 1 0 1.25 0a0.62 0.62 0 1 0 -1.25 0M263.5 65.5a0.47 0.47 0 1 0 0.95 0a0.47 0.47 0 1 0 -0.95 0M266.8 70.2a0.53 0.53 0 1 0 1.06 0a0.53 0.53 0 1 0 -1.06 0M274.0 76.9a0.54 0.54 0 1 0 1.09 0a0.54 0.54 0 1 0 -1.09 0M258.9 72.8a0.56 0.56 0 1 0 1.11 0a0.56 0.56 0 1 0 -1.11 0M265.5 73.4a0.43 0.43 0 1 0 0.85 0a0.43 0.43 0 1 0 -0.85 0M270.2 75.3a0.33 0.33 0 1 0 0.65 0a0.33 0.33 0 1 0 -0.65 0M257.2 77.0a0.57 0.57 0 1 0 1.14 0a0.57 0.57 0 1 0 -1.14 0M271.1 67.7a0.40 0.40 0 1 0 0.80 0a0.40 0.40 0 1 0 -0.80 0M273.5 64.7a0.40 0.40 0 1 0 0.80 0a0.40 0.40 0 1 0 -0.80 0M274.1 69.7a0.31 0.31 0 1 0 0.62 0a0.31 0.31 0 1 0 -0.62 0M269.3 74.2a0.43 0.43 0 1 0 0.86 0a0.43 0.43 0 1 0 -0.86 0M256.4 71.7a0.58 0.58 0 1 0 1.16 0a0.58 0.58 0 1 0 -1.16 0M262.1 65.8a0.65 0.65 0 1 0 1.30 0a0.65 0.65 0 1 0 -1.30 0" fill="#fff" fill-opacity="0.6"/>
<path d="M254.0 65.6a0.46 0.46 0 1 0 0.93 0a0.46 0.46 0 1 0 -0.93 0M264.8 64.8a0.49 0.49 0 1 0 0.99 0a0.49 0.49 0 1 0 -0.99 0M270.4 67.3a0.54 0.54 0 1 0 1.08 0a0.54 0.54 0 1 0 -1.08 0M262.2 67.1a0.33 0.33 0 1 0 0.67 0a0.33 0.33 0 1 0 -0.67 0M254.1 76.6a0.62 0.62 0 1 0 1.24 0a0.62 0.62 0 1 0 -1.24 0M266.9 73.6a0.64 0.64 0 1 0 1.28 0a0.64 0.64 0 1 0 -1.28 0M253.9 68.7a0.45 0.45 0 1 0 0.90 0a0.45 0.45 0 1 0 -0.90 0M260.8 65.2a0.61 0.61 0 1 0 1.22 0a0.61 0.61 0 1 0 -1.22 0M264.6 65.1a0.39 0.39 0 1 0 0.79 0a0.39 0.39 0 1 0 -0.79 0M257.7 76.0a0.48 0.48 0 1 0 0.97 0a0.48 0.48 0 1 0 -0.97 0M257.3 65.9a0.42 0.42 0 1 0 0.83 0a0.42 0.42 0 1 0 -0.83 0M264.4 67.7a0.65 0.65 0 1 0 1.30 0a0.65 0.65 0 1 0 -1.30 0M254.2 69.6a0.65 0.65 0 1 0 1.30 0a0.65 0.65 0 1 0 -1.30 0M267.7 70.0a0.57 0.57 0 1 0 1.15 0a0.57 0.57 0 1 0 -1.15 0M270.5 66.2a0.46 0.46 0 1 0 0.92 0a0.46 0.46 0 1 0 -0.92 0M262.3 70.5a0.47 0.47 0 1 0 0.93 0a0.47 0.47 0 1 0 -0.93 0M256.8 75.5a0.30 0.30 0 1 0 0.60 0a0.30 0.30 0 1 0 -0.60 0M255.3 65.0a0.47 0.47 0 1 0 0.93 0a0.47 0.47 0 1 0 -0.93 0M266.8 67.3a0.46 0.46 0 1 0 0.92 0a0.46 0.46 0 1 0 -0.92 0M262.8 67.5a0.50 0.50 0 1 0 1.01 0a0.50 0.50 0 1 0 -1.01 0M255.2 75.3a0.38 0.38 0 1 0 0.77 0a0.38 0.38 0 1 0 -0.77 0M260.5 64.6a0.54 0.54 0 1 0 1.07 0a0.54 0.54 0 1 0 -1.07 0M261.8 65.4a0.47 0.47 0 1 0 0.95 0a0.47 0.47 0 1 0 -0.95 0M254.7 64.5a0.64 0.64 0 1 0 1.28 0a0.64 0.64 0 1 0 -1.28 0M273.4 73.6a0.62 0.62 0 1 0 1.24 0a0.62 0.62 0 1 0 -1.24 0M265.3 63.5a0.44 0.44 0 1 0 0.87 0a0.44 0.44 0 1 0 -0.87 0M269.6 75.9a0.45 0.45 0 1 0 0.91 0a0.45 0.45 0 1 0 -0.91 0M261.6 78.0a0.60 0.60 0 1 0 1.20 0a0.60 0.60 0 1 0 -1.20 0M256.1 66.8a0.58 0.58 0 1 0 1.16 0a0.58 0.58 0 1 0 -1.16 0M263.3 64.3a0.55 0.55 0 1 0 1.10 0a0.55 0.55 0 1 0 -1.10 0" fill="#fff" fill-opacity="0.85"/>
<path d="M269.6 68.9a0.40 0.40 0 1 0 0.79 0a0.40 0.40 0 1 0 -0.79 0M271.4 68.3a0.43 0.43 0 1 0 0.85 0a0.43 0.43 0 1 0 -0.85 0M263.7 75.6a0.48 0.48 0 1 0 0.96 0a0.48 0.48 0 1 0 -0.96 0M268.8 69.0a0.35 0.35 0 1 0 0.70 0a0.35 0.35 0 1 0 -0.70 0M255.2 69.9a0.61 0.61 0 1 0 1.22 0a0.61 0.61 0 1 0 -1.22 0M268.5 69.4a0.37 0.37 0 1 0 0.73 0a0.37 0.37 0 1 0 -0.73 0M257.0 63.8a0.39 0.39 0 1 0 0.78 0a0.39 0.39 0 1 0 -0.78 0M262.8 64.3a0.51 0.51 0 1 0 1.03 0a0.51 0.51 0 1 0 -1.03 0M273.2 75.9a0.62 0.62 0 1 0 1.24 0a0.62 0.62 0 1 0 -1.24 0M256.6 67.4a0.45 0.45 0 1 0 0.90 0a0.45 0.45 0 1 0 -0.90 0M258.1 68.8a0.54 0.54 0 1 0 1.08 0a0.54 0.54 0 1 0 -1.08 0M258.4 68.1a0.52 0.52 0 1 0 1.04 0a0.52 0.52 0 1 0 -1.04 0M268.7 64.4a0.55 0.55 0 1 0 1.09 0a0.55 0.55 0 1 0 -1.09 0M256.1 75.6a0.36 0.36 0 1 0 0.71 0a0.36 0.36 0 1 0 -0.71 0M268.0 75.0a0.59 0.59 0 1 0 1.17 0a0.59 0.59 0 1 0 -1.17 0M254.3 77.9a0.55 0.55 0 1 0 1.09 0a0.55 0.55 0 1 0 -1.09 0M257.3 73.7a0.40 0.40 0 1 0 0.80 0a0.40 0.40 0 1 0 -0.80 0M261.3 73.1a0.36 0.36 0 1 0 0.71 0a0.36 0.36 0 1 0 -0.71 0M266.8 69.0a0.30 0.30 0 1 0 0.61 0a0.30 0.30 0 1 0 -0.61 0M255.5 68.8a0.32 0.32 0 1 0 0.64 0a0.32 0.32 0 1 0 -0.64 0" fill="#fff" fill-opacity="0.35"/>
</g>
</g>
<clipPath id="c03"><rect x="317.2" y="22" width="95.6" height="84"/></clipPath>
<g clip-path="url(#c03)">
<g filter="url(#soft)">
<rect x="315.2" y="20" width="99.6" height="88" fill="rgb(104,104,104)"/>
<polyline points="334.92,20.13 337.72,59.33 341.45,107.87" fill="none" stroke="rgb(40,40,40)" stroke-opacity="0.5" stroke-width="5.6" stroke-linejoin="round" stroke-linecap="round" filter="url(#b3)"/>
<polyline points="345.18,92.93 373.16,81.73 403.01,68.67" fill="none" stroke="rgb(230,230,230)" stroke-opacity="0.6" stroke-width="1.87" stroke-linejoin="round" stroke-linecap="round" filter="url(#b1)"/>
<polyline points="315.33,68.67 354.51,50 391.82,33.2" fill="none" stroke="rgb(60,60,60)" stroke-opacity="0.35" stroke-width="3.73" stroke-linejoin="round" stroke-linecap="round" filter="url(#b3)"/>
<filter id="c03f0" x="0" y="0" width="100%" height="100%" color-interpolation-filters="sRGB"><feTurbulence type="fractalNoise" baseFrequency="0.14 0.025" numOctaves="2" seed="41"/><feColorMatrix type="matrix" values="1.4 0 0 0 -0.2  1.4 0 0 0 -0.2  1.4 0 0 0 -0.2  0 0 0 0 1"/></filter>
<g transform="rotate(65 365 64)" opacity="0.5" style="mix-blend-mode:hard-light"><rect x="290" y="-11" width="150" height="150" filter="url(#c03f0)"/></g>
<filter id="c03f1" x="0" y="0" width="100%" height="100%" color-interpolation-filters="sRGB"><feTurbulence type="fractalNoise" baseFrequency="0.14 0.025" numOctaves="2" seed="42"/><feColorMatrix type="matrix" values="1.4 0 0 0 -0.2  1.4 0 0 0 -0.2  1.4 0 0 0 -0.2  0 0 0 0 1"/></filter>
<g transform="rotate(-20 365 64)" opacity="0.5" style="mix-blend-mode:hard-light"><rect x="290" y="-11" width="150" height="150" filter="url(#c03f1)"/></g>
<filter id="c03f2" x="0" y="0" width="100%" height="100%" color-interpolation-filters="sRGB"><feTurbulence type="fractalNoise" baseFrequency="0.18 0.03" numOctaves="2" seed="43"/><feColorMatrix type="matrix" values="1.2 0 0 0 -0.1  1.2 0 0 0 -0.1  1.2 0 0 0 -0.1  0 0 0 0 1"/></filter>
<g transform="rotate(5 365 64)" opacity="0.45" style="mix-blend-mode:hard-light"><rect x="290" y="-11" width="150" height="150" filter="url(#c03f2)"/></g>
<filter id="c03f3" x="0" y="0" width="100%" height="100%" color-interpolation-filters="sRGB"><feTurbulence type="fractalNoise" baseFrequency="0.06 0.06" numOctaves="2" seed="44"/><feColorMatrix type="matrix" values="1.0 0 0 0 0  1.0 0 0 0 0  1.0 0 0 0 0  0 0 0 0 1"/></filter>
<g transform="rotate(0 365 64)" opacity="0.4" style="mix-blend-mode:hard-light"><rect x="290" y="-11" width="150" height="150" filter="url(#c03f3)"/></g>
<path d="M310.7 20.4L325.7 9.4M353.3 85.1L381.7 75.6M324.3 112.9L339.1 103.4M336.6 119.5L341.8 96.9M308.5 109.0L322.2 116.4M407.4 65.9L419.3 56.9M371.7 50.5L387.9 34.3M416.4 84.4L427.1 78.9M379.2 52.4L381.2 71.0M385.8 58.9L394.0 80.7M349.5 20.0L363.7 11.6M364.6 21.8L369.9 9.2M404.6 90.4L430.7 77.7" stroke="#fff" stroke-opacity="0.19" stroke-width="1.83" stroke-linecap="round" fill="none"/>
<path d="M309.5 18.7L324.5 7.8M352.7 83.1L381.1 73.7M323.2 111.2L338.1 101.7M334.7 119.0L339.8 96.5M309.4 107.2L323.2 114.6M406.2 64.3L418.0 55.3M370.3 49.0L386.5 32.9M415.5 82.6L426.2 77.1M381.2 52.2L383.2 70.7M387.7 58.2L395.9 80.0M348.5 18.2L362.7 9.9M362.7 21.0L368.0 8.5M403.7 88.6L429.8 75.9" stroke="#000" stroke-opacity="0.19" stroke-width="1.83" stroke-linecap="round" fill="none"/>
<path d="M363.1 42.7L375.7 40.1M350.0 41.3L362.0 43.9M305.0 78.9L327.6 74.8M358.8 27.0L372.0 4.3M328.9 47.2L346.1 45.7M387.4 90.3L409.8 89.9M346.7 58.4L361.8 47.8M367.3 36.3L376.0 42.2M391.2 6.8L401.6 31.6M395.9 37.3L404.2 22.2M299.7 41.8L316.9 18.0M408.6 115.0L434.7 101.5M389.1 28.8L398.1 38.8M354.7 110.4L369.5 113.6M402.4 103.8L418.2 92.9" stroke="#fff" stroke-opacity="0.19" stroke-width="1.17" stroke-linecap="round" fill="none"/>
<path d="M362.8 41.5L375.4 38.8M350.3 40.0L362.3 42.7M304.8 77.7L327.4 73.6M357.7 26.3L370.9 3.6M328.8 45.9L346.0 44.4M387.4 89.0L409.8 88.6M346.0 57.4L361.0 46.8M368.0 35.3L376.7 41.1M392.4 6.3L402.8 31.1M394.7 36.7L403.1 21.5M298.6 41.1L315.9 17.3M408.0 113.9L434.1 100.3M390.0 28.0L399.0 37.9M355.0 109.1L369.8 112.3M401.7 102.7L417.5 91.8" stroke="#000" stroke-opacity="0.19" stroke-width="1.17" stroke-linecap="round" fill="none"/>
<path d="M317.8 49.5L342.0 40.9M322.1 65.0L334.5 56.1M413.8 101.3L421.1 97.0M320.7 100.2L345.9 89.2M323.6 19.9L337.1 21.0M353.1 121.1L364.0 106.2M370.6 82.2L382.2 74.8" stroke="#fff" stroke-opacity="0.36" stroke-width="1.83" stroke-linecap="round" fill="none"/>
<path d="M317.2 47.6L341.3 39.0M320.9 63.4L333.3 54.4M412.8 99.6L420.1 95.3M319.9 98.4L345.1 87.4M323.8 17.9L337.2 18.9M351.5 120.0L362.4 105.0M369.5 80.5L381.1 73.1" stroke="#000" stroke-opacity="0.36" stroke-width="1.83" stroke-linecap="round" fill="none"/>
<path d="M374.1 77.9L378.9 86.6M359.4 37.4L367.9 40.0M361.5 118.8L366.9 106.8M303.5 73.7L328.0 86.0M409.0 71.3L412.7 60.3M338.2 39.9L343.5 65.3" stroke="#fff" stroke-opacity="0.19" stroke-width="1.50" stroke-linecap="round" fill="none"/>
<path d="M375.5 77.1L380.4 85.8M359.9 35.8L368.4 38.4M360.0 118.1L365.4 106.2M304.2 72.3L328.7 84.6M407.4 70.8L411.1 59.8M339.9 39.5L345.1 64.9" stroke="#000" stroke-opacity="0.19" stroke-width="1.50" stroke-linecap="round" fill="none"/>
<path d="M390.3 15.7L418.6 11.1M407.7 28.3L415.2 23.4M394.5 86.9L403.5 79.7M321.5 50.0L326.2 60.8M316.2 38.9L323.4 56.4M316.2 93.1L340.2 81.4" stroke="#fff" stroke-opacity="0.36" stroke-width="1.17" stroke-linecap="round" fill="none"/>
<path d="M390.1 14.4L418.4 9.8M407.0 27.2L414.5 22.3M393.7 85.9L402.7 78.7M322.7 49.5L327.3 60.3M317.4 38.4L324.6 55.9M315.7 92.0L339.6 80.3" stroke="#000" stroke-opacity="0.36" stroke-width="1.17" stroke-linecap="round" fill="none"/>
<path d="M323.2 82.1L338.9 75.3M401.3 78.6L405.3 93.2M338.7 108.6L340.6 116.8M306.6 36.4L324.8 40.6M381.6 120.9L397.9 95.8M321.3 80.2L343.2 66.0M406.2 117.5L416.2 93.1M307.7 50.1L312.6 73.7M333.2 113.0L354.0 107.5" stroke="#fff" stroke-opacity="0.28" stroke-width="1.83" stroke-linecap="round" fill="none"/>
<path d="M322.4 80.3L338.1 73.5M403.2 78.1L407.2 92.7M340.7 108.1L342.5 116.3M307.1 34.5L325.3 38.6M379.9 119.8L396.2 94.7M320.2 78.5L342.1 64.3M404.3 116.7L414.3 92.3M309.7 49.7L314.6 73.3M332.7 111.1L353.5 105.5" stroke="#000" stroke-opacity="0.28" stroke-width="1.83" stroke-linecap="round" fill="none"/>
<path d="M308.5 28.1L315.6 32.3M326.4 43.5L335.5 23.0M360.3 98.9L384.6 89.4M347.2 91.5L358.9 103.5M381.0 98.2L393.7 91.0" stroke="#fff" stroke-opacity="0.28" stroke-width="1.17" stroke-linecap="round" fill="none"/>
<path d="M309.2 27.0L316.2 31.2M325.2 42.9L334.3 22.5M359.9 97.7L384.1 88.2M348.1 90.6L359.8 102.6M380.4 97.1L393.1 89.9" stroke="#000" stroke-opacity="0.28" stroke-width="1.17" stroke-linecap="round" fill="none"/>
<path d="M402.2 39.8L425.0 55.6M307.0 95.2L334.0 98.8M357.8 32.2L369.0 39.2M299.6 41.3L319.0 32.3M401.9 41.7L422.8 47.4M312.9 103.1L324.8 87.8" stroke="#fff" stroke-opacity="0.36" stroke-width="1.50" stroke-linecap="round" fill="none"/>
<path d="M403.1 38.4L426.0 54.3M307.2 93.6L334.2 97.2M358.7 30.8L369.9 37.8M298.9 39.8L318.3 30.8M402.4 40.1L423.2 45.8M311.6 102.1L323.5 86.8" stroke="#000" stroke-opacity="0.36" stroke-width="1.50" stroke-linecap="round" fill="none"/>
<path d="M356.3 37.2L361.9 16.5M348.7 78.1L372.6 64.0M327.8 30.9L334.1 22.7" stroke="#fff" stroke-opacity="0.28" stroke-width="1.50" stroke-linecap="round" fill="none"/>
<path d="M354.7 36.8L360.3 16.0M347.8 76.7L371.7 62.6M326.5 29.9L332.7 21.7" stroke="#000" stroke-opacity="0.28" stroke-width="1.50" stroke-linecap="round" fill="none"/>
</g>
<polygon points="355.44,75.2 357.31,70.53 361.97,67.73 368.5,67.17 373.16,68.67 374.09,73.33 372.23,78 367.57,78.93 361.97,78.93 356.37,78" fill="#f5283a" filter="url(#b05)" stroke-linejoin="round"/>
<polygon points="370.92,68.67 374.09,69.04 374.65,73.89 371.67,74.27" fill="#ffff30" filter="url(#b05)" stroke-linejoin="round"/>
<polygon points="373.72,69.6 379.69,66.43 381,67.73 376.52,72.4 374.09,75.2" fill="#3040ff" filter="url(#b05)" stroke-linejoin="round"/>
<polygon points="364.77,76.13 371.3,75.2 371.67,78.93 365.7,79.12" fill="#ff30ff" filter="url(#b05)" stroke-linejoin="round"/>
<clipPath id="c03s"><polygon points="355.44,75.2 357.31,70.53 361.97,67.73 368.5,67.17 373.16,68.67 374.09,73.33 372.23,78 367.57,78.93 361.97,78.93 356.37,78"/></clipPath>
<g clip-path="url(#c03s)">
<path d="M361.2 68.9a0.32 0.32 0 1 0 0.63 0a0.32 0.32 0 1 0 -0.63 0M370.4 68.3a0.32 0.32 0 1 0 0.64 0a0.32 0.32 0 1 0 -0.64 0M357.2 69.8a0.50 0.50 0 1 0 1.01 0a0.50 0.50 0 1 0 -1.01 0M364.9 73.9a0.59 0.59 0 1 0 1.17 0a0.59 0.59 0 1 0 -1.17 0M358.4 74.0a0.37 0.37 0 1 0 0.73 0a0.37 0.37 0 1 0 -0.73 0M356.9 75.5a0.32 0.32 0 1 0 0.64 0a0.32 0.32 0 1 0 -0.64 0M372.9 68.1a0.50 0.50 0 1 0 1.00 0a0.50 0.50 0 1 0 -1.00 0M371.3 70.9a0.42 0.42 0 1 0 0.85 0a0.42 0.42 0 1 0 -0.85 0M372.7 72.7a0.32 0.32 0 1 0 0.65 0a0.32 0.32 0 1 0 -0.65 0M368.4 70.8a0.65 0.65 0 1 0 1.30 0a0.65 0.65 0 1 0 -1.30 0M362.8 71.5a0.41 0.41 0 1 0 0.82 0a0.41 0.41 0 1 0 -0.82 0M357.3 77.3a0.53 0.53 0 1 0 1.06 0a0.53 0.53 0 1 0 -1.06 0M368.7 72.5a0.58 0.58 0 1 0 1.16 0a0.58 0.58 0 1 0 -1.16 0M360.8 68.9a0.42 0.42 0 1 0 0.84 0a0.42 0.42 0 1 0 -0.84 0M365.2 67.5a0.40 0.40 0 1 0 0.81 0a0.40 0.40 0 1 0 -0.81 0" fill="#fff" fill-opacity="0.85"/>
<path d="M364.5 67.6a0.45 0.45 0 1 0 0.89 0a0.45 0.45 0 1 0 -0.89 0M355.9 77.3a0.45 0.45 0 1 0 0.89 0a0.45 0.45 0 1 0 -0.89 0M358.7 75.2a0.57 0.57 0 1 0 1.14 0a0.57 0.57 0 1 0 -1.14 0M363.7 78.0a0.40 0.40 0 1 0 0.81 0a0.40 0.40 0 1 0 -0.81 0M360.5 73.0a0.56 0.56 0 1 0 1.11 0a0.56 0.56 0 1 0 -1.11 0M358.1 71.2a0.45 0.45 0 1 0 0.90 0a0.45 0.45 0 1 0 -0.90 0M370.2 70.5a0.61 0.61 0 1 0 1.22 0a0.61 0.61 0 1 0 -1.22 0M361.6 78.2a0.36 0.36 0 1 0 0.72 0a0.36 0.36 0 1 0 -0.72 0M357.3 67.9a0.35 0.35 0 1 0 0.69 0a0.35 0.35 0 1 0 -0.69 0M359.7 71.8a0.33 0.33 0 1 0 0.66 0a0.33 0.33 0 1 0 -0.66 0M370.9 70.4a0.65 0.65 0 1 0 1.29 0a0.65 0.65 0 1 0 -1.29 0M370.6 69.3a0.30 0.30 0 1 0 0.60 0a0.30 0.30 0 1 0 -0.60 0M357.7 68.4a0.51 0.51 0 1 0 1.03 0a0.51 0.51 0 1 0 -1.03 0M356.4 69.6a0.35 0.35 0 1 0 0.70 0a0.35 0.35 0 1 0 -0.70 0M359.7 71.3a0.47 0.47 0 1 0 0.93 0a0.47 0.47 0 1 0 -0.93 0M357.1 72.9a0.47 0.47 0 1 0 0.94 0a0.47 0.47 0 1 0 -0.94 0M358.9 78.4a0.35 0.35 0 1 0 0.70 0a0.35 0.35 0 1 0 -0.70 0M367.0 68.2a0.48 0.48 0 1 0 0.96 0a0.48 0.48 0 1 0 -0.96 0" fill="#fff" fill-opacity="0.6"/>
<path d="M359.3 73.7a0.59 0.59 0 1 0 1.18 0a0.59 0.59 0 1 0 -1.18 0M356.0 74.1a0.64 0.64 0 1 0 1.28 0a0.64 0.64 0 1 0 -1.28 0M369.9 75.4a0.33 0.33 0 1 0 0.66 0a0.33 0.33 0 1 0 -0.66 0M360.3 78.7a0.48 0.48 0 1 0 0.96 0a0.48 0.48 0 1 0 -0.96 0M364.1 76.5a0.59 0.59 0 1 0 1.19 0a0.59 0.59 0 1 0 -1.19 0M363.2 73.6a0.59 0.59 0 1 0 1.17 0a0.59 0.59 0 1 0 -1.17 0M367.8 71.6a0.35 0.35 0 1 0 0.71 0a0.35 0.35 0 1 0 -0.71 0M358.4 69.9a0.30 0.30 0 1 0 0.61 0a0.30 0.30 0 1 0 -0.61 0M362.3 71.9a0.47 0.47 0 1 0 0.94 0a0.47 0.47 0 1 0 -0.94 0M362.5 69.4a0.45 0.45 0 1 0 0.91 0a0.45 0.45 0 1 0 -0.91 0M357.2 74.2a0.30 0.30 0 1 0 0.60 0a0.30 0.30 0 1 0 -0.60 0M359.9 76.9a0.48 0.48 0 1 0 0.96 0a0.48 0.48 0 1 0 -0.96 0M371.9 71.4a0.49 0.49 0 1 0 0.97 0a0.49 0.49 0 1 0 -0.97 0M369.5 71.1a0.51 0.51 0 1 0 1.03 0a0.51 0.51 0 1 0 -1.03 0M369.6 76.1a0.58 0.58 0 1 0 1.16 0a0.58 0.58 0 1 0 -1.16 0M370.3 75.9a0.37 0.37 0 1 0 0.74 0a0.37 0.37 0 1 0 -0.74 0M364.1 75.8a0.58 0.58 0 1 0 1.15 0a0.58 0.58 0 1 0 -1.15 0" fill="#fff" fill-opacity="0.35"/>
</g>
</g>
<clipPath id="c04"><rect x="415.2" y="22" width="95.1" height="84"/></clipPath>
<g clip-path="url(#c04)">
<g filter="url(#soft)">
<rect x="413.2" y="20" width="99.1" height="88" fill="rgb(104,104,104)"/>
<polyline points="432.92,20.13 435.72,59.33 439.45,107.87" fill="none" stroke="rgb(40,40,40)" stroke-opacity="0.5" stroke-width="5.6" stroke-linejoin="round" stroke-linecap="round" filter="url(#b3)"/>
<polyline points="443.18,92.93 471.16,81.73 501.01,68.67" fill="none" stroke="rgb(230,230,230)" stroke-opacity="0.6" stroke-width="1.87" stroke-linejoin="round" stroke-linecap="round" filter="url(#b1)"/>
<polyline points="413.33,68.67 452.51,50 489.82,33.2" fill="none" stroke="rgb(60,60,60)" stroke-opacity="0.35" stroke-width="3.73" stroke-linejoin="round" stroke-linecap="round" filter="url(#b3)"/>
<filter id="c04f0" x="0" y="0" width="100%" height="100%" color-interpolation-filters="sRGB"><feTurbulence type="fractalNoise" baseFrequency="0.14 0.025" numOctaves="2" seed="51"/><feColorMatrix type="matrix" values="1.4 0 0 0 -0.2  1.4 0 0 0 -0.2  1.4 0 0 0 -0.2  0 0 0 0 1"/></filter>
<g transform="rotate(65 462.75 64)" opacity="0.5" style="mix-blend-mode:hard-light"><rect x="387.75" y="-11" width="150" height="150" filter="url(#c04f0)"/></g>
<filter id="c04f1" x="0" y="0" width="100%" height="100%" color-interpolation-filters="sRGB"><feTurbulence type="fractalNoise" baseFrequency="0.14 0.025" numOctaves="2" seed="52"/><feColorMatrix type="matrix" values="1.4 0 0 0 -0.2  1.4 0 0 0 -0.2  1.4 0 0 0 -0.2  0 0 0 0 1"/></filter>
<g transform="rotate(-20 462.75 64)" opacity="0.5" style="mix-blend-mode:hard-light"><rect x="387.75" y="-11" width="150" height="150" filter="url(#c04f1)"/></g>
<filter id="c04f2" x="0" y="0" width="100%" height="100%" color-interpolation-filters="sRGB"><feTurbulence type="fractalNoise" baseFrequency="0.18 0.03" numOctaves="2" seed="53"/><feColorMatrix type="matrix" values="1.2 0 0 0 -0.1  1.2 0 0 0 -0.1  1.2 0 0 0 -0.1  0 0 0 0 1"/></filter>
<g transform="rotate(5 462.75 64)" opacity="0.45" style="mix-blend-mode:hard-light"><rect x="387.75" y="-11" width="150" height="150" filter="url(#c04f2)"/></g>
<filter id="c04f3" x="0" y="0" width="100%" height="100%" color-interpolation-filters="sRGB"><feTurbulence type="fractalNoise" baseFrequency="0.06 0.06" numOctaves="2" seed="54"/><feColorMatrix type="matrix" values="1.0 0 0 0 0  1.0 0 0 0 0  1.0 0 0 0 0  0 0 0 0 1"/></filter>
<g transform="rotate(0 462.75 64)" opacity="0.4" style="mix-blend-mode:hard-light"><rect x="387.75" y="-11" width="150" height="150" filter="url(#c04f3)"/></g>
<path d="M490.8 76.9L512.6 84.7M454.3 89.1L481.1 77.7M408.4 124.7L417.0 102.9M457.8 100.6L466.4 99.8M497.7 72.2L503.6 63.5M493.7 55.2L517.1 45.8M468.2 42.2L465.8 51.9M406.9 75.9L407.3 98.5M418.8 76.4L434.7 85.3" stroke="#fff" stroke-opacity="0.36" stroke-width="1.83" stroke-linecap="round" fill="none"/>
<path d="M491.5 75.0L513.3 82.8M453.5 87.3L480.3 75.8M406.5 124.0L415.2 102.1M457.6 98.6L466.3 97.8M496.1 71.1L501.9 62.4M493.0 53.3L516.4 43.9M470.1 42.6L467.7 52.4M409.0 75.8L409.3 98.4M419.8 74.6L435.7 83.5" stroke="#000" stroke-opacity="0.36" stroke-width="1.83" stroke-linecap="round" fill="none"/>
<path d="M498.6 28.1L519.7 21.0M495.6 25.3L513.8 7.5M395.6 83.9L421.4 95.6M452.6 32.1L459.1 24.0M453.9 82.8L467.8 94.2M436.0 109.6L455.9 101.7M456.2 28.0L465.9 56.1M429.6 30.2L442.7 27.7M424.3 89.8L427.1 101.5M407.3 22.3L416.2 10.6" stroke="#fff" stroke-opacity="0.19" stroke-width="1.50" stroke-linecap="round" fill="none"/>
<path d="M498.1 26.6L519.2 19.4M494.5 24.2L512.7 6.3M396.3 82.4L422.1 94.1M451.3 31.0L457.8 23.0M455.0 81.5L468.8 93.0M435.4 108.1L455.2 100.2M457.7 27.5L467.4 55.5M429.3 28.5L442.4 26.0M425.9 89.4L428.7 101.1M406.0 21.3L414.9 9.6" stroke="#000" stroke-opacity="0.19" stroke-width="1.50" stroke-linecap="round" fill="none"/>
<path d="M418.0 99.9L433.9 105.7M401.0 48.3L424.4 50.9M466.8 78.8L478.9 76.3M500.4 36.1L508.0 21.5M465.8 86.0L472.6 81.7M485.2 116.7L492.1 94.7M503.4 64.8L525.2 49.5M478.3 46.0L486.8 39.6M467.3 113.5L486.0 101.2M488.5 69.1L514.5 73.7" stroke="#fff" stroke-opacity="0.36" stroke-width="1.17" stroke-linecap="round" fill="none"/>
<path d="M418.4 98.7L434.4 104.5M401.2 47.1L424.6 49.6M466.5 77.5L478.6 75.0M499.3 35.5L506.8 20.9M465.1 84.9L471.9 80.6M484.0 116.3L490.9 94.3M502.6 63.8L524.5 48.5M477.5 44.9L486.0 38.6M466.6 112.5L485.3 100.1M488.7 67.9L514.7 72.4" stroke="#000" stroke-opacity="0.36" stroke-width="1.17" stroke-linecap="round" fill="none"/>
<path d="M411.0 5.8L427.7 19.5M444.5 36.2L450.2 22.8M502.7 55.4L502.5 67.3M501.6 112.8L508.8 94.8M485.3 44.2L494.3 62.7M432.6 46.3L437.4 36.0M489.0 33.2L504.6 9.5" stroke="#fff" stroke-opacity="0.19" stroke-width="1.17" stroke-linecap="round" fill="none"/>
<path d="M411.9 4.8L428.5 18.5M443.3 35.7L449.0 22.3M503.9 55.4L503.8 67.3M500.4 112.4L507.6 94.3M486.5 43.6L495.5 62.1M431.5 45.7L436.3 35.4M487.9 32.5L503.5 8.8" stroke="#000" stroke-opacity="0.19" stroke-width="1.17" stroke-linecap="round" fill="none"/>
<path d="M496.6 65.3L508.8 54.4M436.2 91.4L458.7 81.0M475.8 82.5L481.6 107.8M455.8 34.4L474.9 19.0M486.0 57.1L492.6 42.2M434.7 28.3L450.0 9.2" stroke="#fff" stroke-opacity="0.28" stroke-width="1.83" stroke-linecap="round" fill="none"/>
<path d="M495.3 63.8L507.4 52.9M435.4 89.6L457.8 79.1M477.8 82.1L483.6 107.4M454.5 32.8L473.6 17.5M484.1 56.3L490.8 41.4M433.1 27.1L448.5 7.9" stroke="#000" stroke-opacity="0.28" stroke-width="1.83" stroke-linecap="round" fill="none"/>
<path d="M502.4 117.5L522.9 103.8M481.4 126.8L489.1 100.7M502.0 24.0L513.6 24.7M456.6 55.2L483.5 59.7M406.6 32.1L414.3 21.2M489.6 111.4L501.4 103.4M434.5 83.3L441.9 60.0M440.8 46.0L452.6 27.8" stroke="#fff" stroke-opacity="0.28" stroke-width="1.50" stroke-linecap="round" fill="none"/>
<path d="M501.5 116.1L522.0 102.4M479.8 126.3L487.5 100.3M502.1 22.4L513.7 23.0M456.8 53.5L483.7 58.1M405.3 31.2L413.0 20.2M488.7 110.1L500.5 102.0M432.9 82.8L440.3 59.5M439.4 45.1L451.2 26.9" stroke="#000" stroke-opacity="0.28" stroke-width="1.50" stroke-linecap="round" fill="none"/>
<path d="M415.0 37.2L428.5 45.8M482.8 110.2L484.3 121.4M441.0 103.0L453.1 100.6M445.7 84.2L454.0 68.0M463.5 70.6L472.6 42.6M416.6 80.6L423.5 72.5M454.0 117.1L470.4 103.6M403.3 51.3L412.5 45.4M447.0 43.6L473.6 49.6M485.5 80.7L491.6 93.5M472.5 73.0L487.7 55.8" stroke="#fff" stroke-opacity="0.19" stroke-width="1.83" stroke-linecap="round" fill="none"/>
<path d="M416.1 35.5L429.5 44.1M484.8 109.9L486.3 121.1M440.6 101.0L452.7 98.6M443.9 83.3L452.2 67.1M461.6 69.9L470.7 42.0M415.0 79.3L422.0 71.2M452.7 115.6L469.1 102.1M402.2 49.6L411.4 43.7M447.4 41.7L474.0 47.6M487.4 79.8L493.4 92.7M471.0 71.7L486.2 54.4" stroke="#000" stroke-opacity="0.19" stroke-width="1.83" stroke-linecap="round" fill="none"/>
<path d="M475.8 64.3L489.1 48.3M496.5 94.1L514.6 74.3M462.9 53.8L468.0 67.4M481.9 86.9L492.9 69.5M446.2 54.0L466.4 45.9" stroke="#fff" stroke-opacity="0.36" stroke-width="1.50" stroke-linecap="round" fill="none"/>
<path d="M474.5 63.2L487.8 47.3M495.2 93.0L513.4 73.2M464.4 53.2L469.5 66.8M480.5 86.1L491.5 68.6M445.6 52.5L465.8 44.4" stroke="#000" stroke-opacity="0.36" stroke-width="1.50" stroke-linecap="round" fill="none"/>
<path d="M456.7 38.0L462.5 19.0M474.3 47.2L492.8 38.3M505.4 86.3L521.4 76.4M394.7 27.9L418.0 9.8" stroke="#fff" stroke-opacity="0.28" stroke-width="1.17" stroke-linecap="round" fill="none"/>
<path d="M455.5 37.6L461.3 18.6M473.7 46.0L492.2 37.2M504.7 85.2L520.7 75.3M393.9 26.8L417.2 8.8" stroke="#000" stroke-opacity="0.28" stroke-width="1.17" stroke-linecap="round" fill="none"/>
</g>
<polygon points="454.37,76.13 456.24,72.03 460.9,69.79 467.43,69.6 471.16,70.91 472.09,76.13 469.3,80.8 462.77,81.36 457.17,81.36" fill="#f5283a" filter="url(#b05)" stroke-linejoin="round"/>
<polygon points="460.9,73.33 465.57,70.91 471.16,72.03 472.09,77.07 468.36,80.24 462.77,79.87" fill="#ffff30" filter="url(#b05)" stroke-linejoin="round"/>
<polygon points="465.19,75.2 469.3,74.64 469.67,78 465.57,78.37" fill="#ff30ff" filter="url(#b05)" stroke-linejoin="round"/>
<polygon points="471.16,71.65 473.77,71.65 474.52,75.01 472.28,76.13" fill="#60ffa0" fill-opacity="0.6" filter="url(#b05)" stroke-linejoin="round"/>
<polygon points="472.09,70.53 476.76,69.6 479.56,66.8 477.69,73.33 474.52,71.47" fill="#3040ff" filter="url(#b05)" stroke-linejoin="round"/>
</g>
<clipPath id="c10"><rect x="22" y="111.7" width="96.6" height="83.3"/></clipPath>
<g clip-path="url(#c10)">
<g filter="url(#soft)">
<rect x="20" y="109.7" width="100.6" height="87.3" fill="rgb(105,105,105)"/>
<polyline points="30,135 45,160 60,197" fill="none" stroke="rgb(205,205,205)" stroke-opacity="0.8" stroke-width="14" stroke-linejoin="round" stroke-linecap="round" filter="url(#b2)"/>
<polyline points="20,140 34,150" fill="none" stroke="rgb(200,200,200)" stroke-opacity="0.7" stroke-width="10" stroke-linejoin="round" stroke-linecap="round" filter="url(#b2)"/>
<polygon points="93,109 121,109 121,133 105,125" fill="rgb(195,195,195)" fill-opacity="0.75" filter="url(#b2)"/>
<polygon points="80,153 100,153 110,197 90,197" fill="rgb(175,175,175)" fill-opacity="0.5" filter="url(#b2)"/>
<polygon points="107,181 121,181 121,197 107,197" fill="rgb(200,200,200)" fill-opacity="0.6" filter="url(#b2)"/>
<polygon points="20,165 30,165 40,197 20,197" fill="rgb(130,130,130)" fill-opacity="0.4" filter="url(#b2)"/>
<filter id="c10f0" x="0" y="0" width="100%" height="100%" color-interpolation-filters="sRGB"><feTurbulence type="fractalNoise" baseFrequency="0.3 0.05" numOctaves="2" seed="61"/><feColorMatrix type="matrix" values="1.6 0 0 0 -0.3  1.6 0 0 0 -0.3  1.6 0 0 0 -0.3  0 0 0 0 1"/></filter>
<g transform="rotate(-35 70.3 153.35)" opacity="0.6" style="mix-blend-mode:hard-light"><rect x="-4.7" y="78.35" width="150" height="150" filter="url(#c10f0)"/></g>
<filter id="c10f1" x="0" y="0" width="100%" height="100%" color-interpolation-filters="sRGB"><feTurbulence type="fractalNoise" baseFrequency="0.4 0.4" numOctaves="2" seed="64"/><feColorMatrix type="matrix" values="1.5 0 0 0 -0.25  1.5 0 0 0 -0.25  1.5 0 0 0 -0.25  0 0 0 0 1"/></filter>
<g transform="rotate(0 70.3 153.35)" opacity="0.5" style="mix-blend-mode:hard-light"><rect x="-4.7" y="78.35" width="150" height="150" filter="url(#c10f1)"/></g>
<path d="M10.8 167.5L13.3 172.8M127.2 105.6L130.0 108.9M27.7 160.8L38.9 168.6M19.5 159.6L22.5 162.3M110.3 153.1L114.7 160.0M96.5 187.4L99.4 193.4M89.9 189.1L97.9 196.6M43.9 139.7L50.3 151.8M62.2 157.1L72.6 164.7M120.7 121.0L129.2 126.8M103.2 145.5L107.0 154.8" stroke="#fff" stroke-opacity="0.68" stroke-width="1.45" stroke-linecap="round" fill="none"/>
<path d="M103.3 175.1L107.7 179.1M85.0 161.3L93.6 168.2M80.6 131.6L84.0 137.9M83.6 180.8L90.8 189.0M50.2 147.2L55.4 154.9M90.7 174.5L100.6 181.9M117.1 194.6L120.3 201.3M107.1 195.7L111.3 199.1M10.0 172.8L16.6 181.1M15.7 124.4L20.3 128.5" stroke="#fff" stroke-opacity="0.55" stroke-width="1.82" stroke-linecap="round" fill="none"/>
<path d="M101.3 143.9L110.3 151.5M19.2 180.0L29.8 187.4M65.9 187.6L71.3 193.2M38.6 118.4L45.5 125.9M28.6 169.1L35.7 180.2M32.0 103.3L35.5 109.3M123.3 107.3L128.1 120.4M97.9 108.2L104.8 118.1M15.2 174.0L18.7 178.9M24.9 191.0L28.1 193.8M60.0 162.8L63.0 169.9M124.4 162.3L127.3 169.8M11.9 165.6L15.4 172.0M111.4 120.0L112.4 123.0" stroke="#fff" stroke-opacity="0.42" stroke-width="1.45" stroke-linecap="round" fill="none"/>
<path d="M104.1 191.3L112.9 200.7M92.7 101.9L97.8 110.9M82.7 110.9L90.4 119.0M13.5 135.5L18.1 143.8M21.1 115.1L27.3 124.7M69.4 111.6L72.4 115.2M94.9 198.3L100.3 205.8M83.5 130.9L87.6 138.2M12.0 104.7L15.5 109.2M109.1 136.4L112.6 139.8M121.5 184.9L131.1 193.8M113.1 149.1L118.8 153.7M36.0 190.3L39.2 193.6M95.6 134.7L102.1 145.8" stroke="#fff" stroke-opacity="0.68" stroke-width="1.08" stroke-linecap="round" fill="none"/>
<path d="M91.0 180.5L95.8 189.3M54.6 131.5L57.5 135.0M13.9 154.7L17.6 160.8M123.6 196.6L127.5 207.0M87.6 121.6L94.6 128.0M34.3 104.4L38.4 113.3M43.9 147.2L47.9 159.9" stroke="#000" stroke-opacity="0.42" stroke-width="1.45" stroke-linecap="round" fill="none"/>
<path d="M69.0 170.1L71.6 173.5M12.5 113.2L16.6 115.7M52.9 115.1L55.5 118.3M43.8 115.2L45.9 119.4M24.0 105.5L31.3 113.2M79.4 128.6L82.3 131.3M86.6 192.9L87.7 197.1M51.3 191.7L59.6 198.6M47.6 176.1L51.3 180.8M57.4 149.0L65.5 159.5M72.7 110.5L76.8 114.9M88.0 116.5L93.7 122.2M70.6 167.9L77.9 177.6M87.2 149.2L90.3 152.5M51.0 136.5L54.6 139.3" stroke="#fff" stroke-opacity="0.55" stroke-width="1.08" stroke-linecap="round" fill="none"/>
<path d="M67.2 113.7L69.6 118.3M85.7 189.0L94.6 198.2M98.8 149.9L106.3 154.3M63.7 105.9L72.2 112.0M109.9 116.5L120.4 125.3M115.0 156.9L124.6 165.6M11.3 132.3L17.7 139.8M21.0 144.3L26.3 148.3M75.8 164.2L83.9 170.0M32.4 100.7L37.7 111.9M106.0 184.1L112.2 191.5M36.8 104.2L39.7 108.7M11.8 131.2L14.9 134.7" stroke="#fff" stroke-opacity="0.68" stroke-width="1.82" stroke-linecap="round" fill="none"/>
<path d="M73.9 167.1L80.2 175.0M86.1 108.2L90.9 113.3M14.6 164.5L22.6 175.8M34.4 183.7L41.1 189.5M37.9 144.6L42.2 154.0M105.4 198.9L112.2 206.3M22.2 134.1L28.6 141.0M45.9 172.2L51.6 180.6M75.5 122.3L80.0 127.5M54.4 128.8L59.1 136.7M76.8 141.5L83.0 147.0M62.4 123.9L70.8 130.8M21.4 117.2L24.0 120.6M118.1 155.5L122.3 158.5M69.9 201.5L74.2 205.1M47.1 123.6L53.6 128.3M63.4 106.3L65.5 109.3" stroke="#fff" stroke-opacity="0.55" stroke-width="1.45" stroke-linecap="round" fill="none"/>
<path d="M46.9 182.2L47.9 189.9M11.2 164.8L17.6 170.3M117.5 162.8L122.8 169.2M94.7 179.2L99.2 182.1M27.0 138.7L30.9 142.9" stroke="#000" stroke-opacity="0.42" stroke-width="1.82" stroke-linecap="round" fill="none"/>
<path d="M70.0 200.7L74.6 205.5M14.6 117.5L23.9 125.7M16.7 122.9L18.9 126.5M118.7 190.6L126.2 200.3M21.7 183.8L24.2 186.9M66.2 202.9L69.7 206.7" stroke="#000" stroke-opacity="0.55" stroke-width="1.45" stroke-linecap="round" fill="none"/>
<path d="M17.7 161.0L25.8 170.1M92.1 191.3L93.7 195.7M18.2 132.9L24.9 142.7M116.1 123.0L119.4 133.5M33.0 169.8L41.5 176.6" stroke="#000" stroke-opacity="0.68" stroke-width="1.82" stroke-linecap="round" fill="none"/>
<path d="M93.0 106.1L97.2 110.5M32.6 187.9L38.6 193.0M33.7 132.2L40.7 141.1M74.9 152.7L79.0 162.9M26.7 128.5L29.3 134.8M55.2 193.4L58.4 196.3M24.5 149.1L32.3 156.1" stroke="#000" stroke-opacity="0.68" stroke-width="1.08" stroke-linecap="round" fill="none"/>
<path d="M110.6 129.3L113.5 131.9M12.1 184.6L19.0 192.5M110.9 112.6L120.4 122.0M49.1 154.8L55.5 161.1M111.9 193.3L116.2 200.9M115.1 144.2L117.7 151.4M29.8 122.7L38.5 133.0" stroke="#000" stroke-opacity="0.55" stroke-width="1.82" stroke-linecap="round" fill="none"/>
<path d="M36.6 175.1L43.0 182.3M91.0 178.4L94.1 181.5M91.3 131.8L98.8 142.4M23.4 119.5L34.1 128.3" stroke="#000" stroke-opacity="0.55" stroke-width="1.08" stroke-linecap="round" fill="none"/>
<path d="M119.4 169.5L126.1 178.7M98.2 187.3L103.1 192.7M82.3 147.7L87.9 155.0M117.7 105.7L122.4 116.1M20.1 169.6L25.0 175.6M75.1 119.8L81.7 130.3M63.1 108.1L71.7 116.5M20.6 169.8L22.4 173.1M112.9 194.2L120.6 204.0M54.7 142.1L56.3 145.1M46.4 139.9L48.8 146.4M10.7 183.2L14.0 186.2M71.9 195.0L77.5 201.7M26.5 122.6L34.5 129.0M42.0 143.1L47.8 148.1" stroke="#fff" stroke-opacity="0.42" stroke-width="1.82" stroke-linecap="round" fill="none"/>
<path d="M15.8 110.5L20.3 121.7M44.6 186.6L54.2 194.3M46.8 165.7L51.4 174.8M73.1 129.8L77.4 134.8M72.9 148.5L75.8 150.9M79.6 150.4L85.6 161.2M121.3 162.0L129.6 172.8M116.5 124.5L121.6 128.8M39.0 154.4L43.1 158.5M44.4 173.6L53.1 181.6M40.9 119.7L49.4 125.7M76.0 155.7L79.3 162.2M100.0 187.0L109.0 197.2" stroke="#fff" stroke-opacity="0.42" stroke-width="1.08" stroke-linecap="round" fill="none"/>
<path d="M27.5 190.7L32.5 202.6M67.7 122.4L73.0 132.6M95.8 111.9L97.2 115.0" stroke="#000" stroke-opacity="0.68" stroke-width="1.45" stroke-linecap="round" fill="none"/>
<path d="M41.9 167.2L45.8 173.3M39.6 184.4L48.5 195.0M19.8 199.0L21.7 201.5M99.7 112.9L101.9 115.4" stroke="#000" stroke-opacity="0.42" stroke-width="1.08" stroke-linecap="round" fill="none"/>
<polygon points="20,109 47,109 60,135 40,140 20,137" fill="rgb(98,98,98)" fill-opacity="0.45" filter="url(#b2)"/>
<polyline points="47.5,109 64.5,139.3 70,148" fill="none" stroke="rgb(25,25,25)" stroke-opacity="0.8" stroke-width="5" stroke-linejoin="round" stroke-linecap="round" filter="url(#b15)"/>
<polyline points="31.4,132.7 53.1,153.1" fill="none" stroke="rgb(30,30,30)" stroke-opacity="0.7" stroke-width="4" stroke-linejoin="round" stroke-linecap="round" filter="url(#b15)"/>
<polyline points="28,150 29.5,153 40.9,170 53.1,190.7 56,197" fill="none" stroke="rgb(25,25,25)" stroke-opacity="0.8" stroke-width="3" stroke-linejoin="round" stroke-linecap="round" filter="url(#b1)"/>
<polyline points="50,145 55,153 71,170 79.4,181.3 85.1,197" fill="none" stroke="rgb(20,20,20)" stroke-opacity="0.85" stroke-width="6" stroke-linejoin="round" stroke-linecap="round" filter="url(#b15)"/>
<polyline points="75,118 90,140 100,153" fill="none" stroke="rgb(30,30,30)" stroke-opacity="0.7" stroke-width="4" stroke-linejoin="round" stroke-linecap="round" filter="url(#b15)"/>
<polyline points="88.9,115.7 117.2,144 121,148" fill="none" stroke="rgb(25,25,25)" stroke-opacity="0.8" stroke-width="6" stroke-linejoin="round" stroke-linecap="round" filter="url(#b15)"/>
<polyline points="103,153 121,173" fill="none" stroke="rgb(25,25,25)" stroke-opacity="0.8" stroke-width="5" stroke-linejoin="round" stroke-linecap="round" filter="url(#b15)"/>
<polyline points="68,119 95.5,153.1 104,163" fill="none" stroke="rgb(235,235,235)" stroke-opacity="0.85" stroke-width="2.6" stroke-linejoin="round" stroke-linecap="round" filter="url(#b05)"/>
<polyline points="79,115.5 94.5,129.9 105.8,144 112.5,153.1 121,164" fill="none" stroke="rgb(235,235,235)" stroke-opacity="0.85" stroke-width="2.8" stroke-linejoin="round" stroke-linecap="round" filter="url(#b05)"/>
<polyline points="92,150 105.8,167.2 117.2,181.3 121,186" fill="none" stroke="rgb(230,230,230)" stroke-opacity="0.85" stroke-width="3.2" stroke-linejoin="round" stroke-linecap="round" filter="url(#b05)"/>
</g>
<polygon points="71.99,149.97 74.23,149.03 75.16,151.83 72.74,152.77" fill="#f5283a" filter="url(#b05)" stroke-linejoin="round"/>
</g>
<clipPath id="c11"><rect x="120.9" y="111.7" width="95.9" height="83.3"/></clipPath>
<g clip-path="url(#c11)">
<g filter="url(#soft)">
<rect x="118.9" y="109.7" width="99.9" height="87.3" fill="rgb(110,110,110)"/>
<polygon points="119.03,109.83 163.8,109.83 158.21,121.03 119.03,122.9" fill="rgb(210,210,210)" fill-opacity="0.8" filter="url(#b3)"/>
<polyline points="173.13,109.83 221.63,128.5" fill="none" stroke="rgb(215,215,215)" stroke-opacity="0.75" stroke-width="6.53" stroke-linejoin="round" stroke-linecap="round" filter="url(#b2)"/>
<polygon points="119.03,147.17 132.09,147.17 158.21,162.1 180.59,171.43 182.46,197.57 119.03,197.57" fill="rgb(215,215,215)" fill-opacity="0.85" filter="url(#b3)"/>
<polyline points="188.05,137.83 221.63,156.5" fill="none" stroke="rgb(205,205,205)" stroke-opacity="0.65" stroke-width="4.66" stroke-linejoin="round" stroke-linecap="round" filter="url(#b2)"/>
<polyline points="176.86,177.03 221.63,191.97" fill="none" stroke="rgb(205,205,205)" stroke-opacity="0.6" stroke-width="4.66" stroke-linejoin="round" stroke-linecap="round" filter="url(#b3)"/>
<filter id="c11f0" x="0" y="0" width="100%" height="100%" color-interpolation-filters="sRGB"><feTurbulence type="fractalNoise" baseFrequency="0.3 0.05" numOctaves="2" seed="71"/><feColorMatrix type="matrix" values="1.6 0 0 0 -0.3  1.6 0 0 0 -0.3  1.6 0 0 0 -0.3  0 0 0 0 1"/></filter>
<g transform="rotate(-60 168.85 153.35)" opacity="0.6" style="mix-blend-mode:hard-light"><rect x="93.85" y="78.35" width="150" height="150" filter="url(#c11f0)"/></g>
<filter id="c11f1" x="0" y="0" width="100%" height="100%" color-interpolation-filters="sRGB"><feTurbulence type="fractalNoise" baseFrequency="0.4 0.4" numOctaves="2" seed="74"/><feColorMatrix type="matrix" values="1.5 0 0 0 -0.25  1.5 0 0 0 -0.25  1.5 0 0 0 -0.25  0 0 0 0 1"/></filter>
<g transform="rotate(0 168.85 153.35)" opacity="0.5" style="mix-blend-mode:hard-light"><rect x="93.85" y="78.35" width="150" height="150" filter="url(#c11f1)"/></g>
<path d="M204.5 110.6L207.7 112.2M115.4 109.6L122.6 112.6M160.5 119.9L163.3 121.4M158.5 133.0L168.5 140.5M222.1 133.6L228.0 136.7M201.3 186.7L208.1 191.5M156.2 128.8L169.8 130.1M205.3 190.3L212.7 198.0M202.9 124.6L209.0 126.5M144.3 133.3L153.5 136.2M110.8 157.1L114.4 160.3M202.4 182.0L207.4 185.6M138.6 133.5L147.7 137.7M159.0 150.3L167.8 160.8M168.4 101.3L176.4 103.4M189.3 156.4L195.9 158.1M147.5 141.2L156.7 145.1M213.1 151.6L217.6 155.4" stroke="#fff" stroke-opacity="0.68" stroke-width="1.08" stroke-linecap="round" fill="none"/>
<path d="M177.0 106.3L180.5 107.4M160.0 162.8L165.8 166.4M117.1 122.4L120.3 124.2M139.3 123.8L147.9 129.6M177.1 141.0L180.7 143.8M192.3 151.2L203.0 156.1M145.0 167.1L153.8 170.9M216.7 125.8L221.9 129.1M190.9 121.0L194.4 122.8M177.4 120.7L186.9 123.2M179.6 199.8L184.8 201.5M173.4 197.7L185.7 203.5" stroke="#fff" stroke-opacity="0.55" stroke-width="1.08" stroke-linecap="round" fill="none"/>
<path d="M122.3 133.1L126.8 134.1M216.2 174.6L220.3 176.1M108.2 130.7L115.2 133.0M156.9 169.1L161.6 171.8M134.9 106.5L142.0 109.0M140.4 177.2L148.1 180.2" stroke="#000" stroke-opacity="0.42" stroke-width="1.45" stroke-linecap="round" fill="none"/>
<path d="M171.9 162.4L180.7 168.9M217.0 171.6L225.7 174.5M125.3 154.2L130.5 161.4M140.3 180.4L145.6 182.6M207.8 196.4L217.2 201.6M194.4 158.1L197.4 159.1M160.6 158.5L170.9 166.3M119.0 198.6L131.4 204.0M135.5 107.1L147.7 113.6M182.2 200.1L191.1 208.0M213.7 165.4L218.5 168.3" stroke="#fff" stroke-opacity="0.55" stroke-width="1.82" stroke-linecap="round" fill="none"/>
<path d="M159.1 130.8L167.8 134.5M190.6 167.6L193.8 169.5M156.5 137.2L161.6 140.4M187.1 155.5L193.9 157.2M150.4 116.2L154.7 118.1" stroke="#000" stroke-opacity="0.68" stroke-width="1.08" stroke-linecap="round" fill="none"/>
<path d="M165.5 104.6L169.6 106.9M136.5 137.1L145.9 142.1M136.0 132.6L144.2 137.7M152.8 180.9L160.4 187.3M124.1 103.7L130.6 105.7M109.9 126.5L116.7 130.0M217.6 179.7L221.8 182.1M193.2 115.7L200.6 122.8" stroke="#fff" stroke-opacity="0.68" stroke-width="1.45" stroke-linecap="round" fill="none"/>
<path d="M199.2 107.6L207.3 110.0M119.4 138.9L130.1 144.8M146.6 157.0L156.4 159.7M176.8 126.6L180.9 130.4M201.1 156.8L208.9 160.3M143.8 198.4L147.6 199.9M157.0 168.5L160.3 169.1M194.8 193.3L200.2 195.7M213.7 187.4L217.9 189.9M117.9 119.0L128.7 126.9M182.8 171.6L188.0 175.7" stroke="#fff" stroke-opacity="0.42" stroke-width="1.82" stroke-linecap="round" fill="none"/>
<path d="M146.1 161.9L158.1 167.7M169.2 197.3L177.0 202.2M215.6 159.2L219.3 162.1M212.5 128.2L216.8 130.7M184.5 170.1L195.6 176.5M191.5 143.9L198.8 145.5M168.6 117.0L180.7 121.7M141.9 155.9L149.6 162.6M215.2 166.8L219.8 170.0M202.0 178.7L208.0 183.1M217.4 143.9L222.7 149.2M190.6 116.2L202.1 122.6M138.7 153.9L144.0 154.1M120.4 122.3L132.0 128.0M168.6 155.6L174.4 158.2M166.2 151.7L175.6 153.6M158.1 123.2L168.6 126.9" stroke="#fff" stroke-opacity="0.42" stroke-width="1.08" stroke-linecap="round" fill="none"/>
<path d="M153.7 190.3L158.7 193.2M208.3 198.1L215.4 202.0M166.1 172.2L174.4 174.3M222.6 184.9L228.7 190.5M148.6 110.1L155.9 112.4M204.1 173.8L210.6 175.6M208.4 144.1L217.3 148.3M186.4 169.2L195.8 173.8M196.0 127.5L199.1 130.0M153.8 141.7L163.7 147.2M199.6 183.2L211.1 189.4M114.3 110.0L122.2 114.4M175.0 144.1L181.9 147.3M123.8 145.4L127.7 146.9M152.4 126.2L162.6 131.8M221.6 174.5L230.6 178.5M196.8 201.8L201.7 203.6" stroke="#fff" stroke-opacity="0.55" stroke-width="1.45" stroke-linecap="round" fill="none"/>
<path d="M184.9 102.5L189.5 103.4M223.7 120.2L226.8 123.4M165.6 184.2L176.0 190.1M191.5 197.9L194.7 199.3M169.3 191.9L179.0 195.1M137.5 168.5L143.9 172.7M173.8 139.0L179.5 141.5M209.5 173.4L219.9 181.5M165.4 165.7L173.9 170.3" stroke="#000" stroke-opacity="0.42" stroke-width="1.08" stroke-linecap="round" fill="none"/>
<path d="M150.0 113.0L156.2 115.8M165.8 175.9L170.3 178.5M181.2 102.7L189.7 109.7M136.6 150.0L139.4 151.6M153.0 126.5L161.0 132.9" stroke="#000" stroke-opacity="0.68" stroke-width="1.45" stroke-linecap="round" fill="none"/>
<path d="M124.7 177.8L130.5 180.5M124.4 189.7L133.4 198.1M165.1 192.7L173.9 198.7M155.4 101.9L165.6 107.5M144.5 148.5L147.2 150.1M214.5 128.5L221.6 136.3M121.8 120.1L127.6 122.4" stroke="#000" stroke-opacity="0.55" stroke-width="1.82" stroke-linecap="round" fill="none"/>
<path d="M220.0 186.6L230.1 193.0M166.6 105.0L173.9 111.6M208.1 109.3L215.4 109.9M160.0 162.6L165.4 168.6M121.2 186.3L132.1 194.2" stroke="#000" stroke-opacity="0.68" stroke-width="1.82" stroke-linecap="round" fill="none"/>
<path d="M215.7 202.5L223.3 205.0M146.0 151.1L154.1 152.0M194.1 147.6L197.4 149.0M191.9 187.5L198.1 189.3M127.4 162.6L135.6 165.4M155.9 189.7L162.4 192.2M162.8 111.8L169.6 119.0" stroke="#000" stroke-opacity="0.55" stroke-width="1.08" stroke-linecap="round" fill="none"/>
<path d="M144.4 181.5L154.5 187.3M163.8 169.8L169.0 174.8M194.2 118.5L204.1 126.0" stroke="#000" stroke-opacity="0.55" stroke-width="1.45" stroke-linecap="round" fill="none"/>
<path d="M126.4 194.3L130.4 196.1M166.6 101.4L170.3 103.8M137.6 166.4L145.7 169.7" stroke="#000" stroke-opacity="0.42" stroke-width="1.82" stroke-linecap="round" fill="none"/>
<path d="M188.2 156.0L191.7 157.1M115.7 125.0L122.9 128.1M140.6 194.4L144.2 196.1M160.0 170.5L165.1 171.7M182.5 144.8L189.0 147.8M213.9 130.8L223.8 140.6M210.5 124.5L217.9 127.5M217.9 118.9L228.0 125.2M178.4 166.0L184.2 168.8M144.6 138.5L152.3 145.4M141.5 172.9L153.0 179.3" stroke="#fff" stroke-opacity="0.68" stroke-width="1.82" stroke-linecap="round" fill="none"/>
<path d="M179.6 136.4L191.4 142.7M153.8 150.1L156.5 151.4M147.9 147.1L161.2 149.6M220.7 156.2L231.3 160.6M212.5 150.6L217.4 153.3M148.7 110.3L152.4 111.9M218.7 123.6L228.5 131.1M178.5 143.9L181.5 145.3M182.7 150.1L189.7 152.8M126.9 105.6L138.6 111.2M151.2 115.1L156.1 117.5M217.3 126.3L221.6 127.4M211.8 197.9L224.4 200.3M172.0 117.7L180.8 121.2M177.7 172.1L181.8 173.7" stroke="#fff" stroke-opacity="0.42" stroke-width="1.45" stroke-linecap="round" fill="none"/>
<polygon points="119.03,122.9 158.21,121.97 182.46,132.23 182.46,149.03 158.21,149.03 119.03,144.37" fill="rgb(92,92,92)" fill-opacity="0.7" filter="url(#b3)"/>
<polyline points="163.8,109.83 199.25,132.23 221.63,144.37" fill="none" stroke="rgb(25,25,25)" stroke-opacity="0.8" stroke-width="5.6" stroke-linejoin="round" stroke-linecap="round" filter="url(#b2)"/>
<polyline points="184.32,147.17 221.63,171.43" fill="none" stroke="rgb(30,30,30)" stroke-opacity="0.7" stroke-width="5.22" stroke-linejoin="round" stroke-linecap="round" filter="url(#b2)"/>
<polyline points="128.36,147.17 158.21,164.9 176.86,170.5 221.63,184.5" fill="none" stroke="rgb(20,20,20)" stroke-opacity="0.8" stroke-width="4.1" stroke-linejoin="round" stroke-linecap="round" filter="url(#b2)"/>
<polyline points="139.55,163.97 154.48,175.17 175,197.57" fill="none" stroke="rgb(15,15,15)" stroke-opacity="0.8" stroke-width="7.09" stroke-linejoin="round" stroke-linecap="round" filter="url(#b2)"/>
<polyline points="119.03,178.9 135.82,197.57" fill="none" stroke="rgb(25,25,25)" stroke-opacity="0.7" stroke-width="5.22" stroke-linejoin="round" stroke-linecap="round" filter="url(#b2)"/>
</g>
<polygon points="143.5,146.4 145.4,142.5 148.5,139.5 152.3,137.2 156.9,135.2 161.5,134.5 165.4,135.6 168.5,137.2 170.8,136.4 173.8,138.7 176.2,141.8 173.8,141 171.5,142.5 172.3,146.4 171.5,151 170,155.6 168.5,159.5 165.4,161.8 161.5,162.5 157.7,161.8 153.8,159.5 150,156.4 146.2,153.3 143.8,150.2" fill="#f5283a" filter="url(#b05)" stroke-linejoin="round"/>
<polygon points="160,160.6 164.6,161.4 163.1,162.6 160.4,162.2" fill="#ff30ff" filter="url(#b05)" stroke-linejoin="round"/>
<polygon points="161.5,161.8 166.9,161.4 172.3,163.3 173.8,164.8 169.2,165.2 163.1,163.3" fill="#3030ff" filter="url(#b05)" stroke-linejoin="round"/>
<polygon points="178.5,162.5 180,162.8 179.6,164.3 178.2,164" fill="#30ffb0" filter="url(#b05)" stroke-linejoin="round"/>
<clipPath id="c11s"><polygon points="143.5,146.4 145.4,142.5 148.5,139.5 152.3,137.2 156.9,135.2 161.5,134.5 165.4,135.6 168.5,137.2 170.8,136.4 173.8,138.7 176.2,141.8 173.8,141 171.5,142.5 172.3,146.4 171.5,151 170,155.6 168.5,159.5 165.4,161.8 161.5,162.5 157.7,161.8 153.8,159.5 150,156.4 146.2,153.3 143.8,150.2"/></clipPath>
<g clip-path="url(#c11s)">
<path d="M150.1 161.9a0.37 0.37 0 1 0 0.74 0a0.37 0.37 0 1 0 -0.74 0M151.1 162.8a0.44 0.44 0 1 0 0.87 0a0.44 0.44 0 1 0 -0.87 0M170.0 137.1a0.42 0.42 0 1 0 0.84 0a0.42 0.42 0 1 0 -0.84 0M173.9 148.2a0.35 0.35 0 1 0 0.70 0a0.35 0.35 0 1 0 -0.70 0M160.6 144.0a0.40 0.40 0 1 0 0.81 0a0.40 0.40 0 1 0 -0.81 0M170.0 159.9a0.53 0.53 0 1 0 1.06 0a0.53 0.53 0 1 0 -1.06 0M146.5 161.0a0.37 0.37 0 1 0 0.74 0a0.37 0.37 0 1 0 -0.74 0M167.7 142.7a0.58 0.58 0 1 0 1.16 0a0.58 0.58 0 1 0 -1.16 0M174.7 135.8a0.62 0.62 0 1 0 1.24 0a0.62 0.62 0 1 0 -1.24 0M153.7 153.1a0.56 0.56 0 1 0 1.12 0a0.56 0.56 0 1 0 -1.12 0M154.1 162.0a0.53 0.53 0 1 0 1.05 0a0.53 0.53 0 1 0 -1.05 0M153.8 146.5a0.33 0.33 0 1 0 0.66 0a0.33 0.33 0 1 0 -0.66 0M144.3 135.4a0.34 0.34 0 1 0 0.68 0a0.34 0.34 0 1 0 -0.68 0M167.1 152.8a0.40 0.40 0 1 0 0.80 0a0.40 0.40 0 1 0 -0.80 0M152.3 158.5a0.47 0.47 0 1 0 0.94 0a0.47 0.47 0 1 0 -0.94 0M159.4 136.4a0.32 0.32 0 1 0 0.65 0a0.32 0.32 0 1 0 -0.65 0M148.9 148.4a0.58 0.58 0 1 0 1.16 0a0.58 0.58 0 1 0 -1.16 0M173.1 156.8a0.31 0.31 0 1 0 0.62 0a0.31 0.31 0 1 0 -0.62 0M148.8 141.7a0.46 0.46 0 1 0 0.92 0a0.46 0.46 0 1 0 -0.92 0M168.5 158.2a0.60 0.60 0 1 0 1.20 0a0.60 0.60 0 1 0 -1.20 0M164.0 144.6a0.59 0.59 0 1 0 1.17 0a0.59 0.59 0 1 0 -1.17 0M167.1 162.0a0.48 0.48 0 1 0 0.96 0a0.48 0.48 0 1 0 -0.96 0M147.7 159.9a0.45 0.45 0 1 0 0.90 0a0.45 0.45 0 1 0 -0.90 0M168.5 136.9a0.33 0.33 0 1 0 0.66 0a0.33 0.33 0 1 0 -0.66 0M173.2 143.8a0.34 0.34 0 1 0 0.68 0a0.34 0.34 0 1 0 -0.68 0M153.4 145.8a0.35 0.35 0 1 0 0.69 0a0.35 0.35 0 1 0 -0.69 0M149.6 149.3a0.59 0.59 0 1 0 1.18 0a0.59 0.59 0 1 0 -1.18 0M165.5 152.0a0.59 0.59 0 1 0 1.18 0a0.59 0.59 0 1 0 -1.18 0M158.3 138.9a0.47 0.47 0 1 0 0.93 0a0.47 0.47 0 1 0 -0.93 0M163.1 135.1a0.63 0.63 0 1 0 1.25 0a0.63 0.63 0 1 0 -1.25 0M164.6 152.9a0.31 0.31 0 1 0 0.62 0a0.31 0.31 0 1 0 -0.62 0M168.5 148.6a0.33 0.33 0 1 0 0.66 0a0.33 0.33 0 1 0 -0.66 0M168.8 156.0a0.35 0.35 0 1 0 0.70 0a0.35 0.35 0 1 0 -0.70 0M155.6 161.5a0.63 0.63 0 1 0 1.27 0a0.63 0.63 0 1 0 -1.27 0M143.0 146.8a0.41 0.41 0 1 0 0.82 0a0.41 0.41 0 1 0 -0.82 0M143.4 134.2a0.56 0.56 0 1 0 1.12 0a0.56 0.56 0 1 0 -1.12 0M161.7 152.6a0.32 0.32 0 1 0 0.63 0a0.32 0.32 0 1 0 -0.63 0M149.6 143.2a0.45 0.45 0 1 0 0.89 0a0.45 0.45 0 1 0 -0.89 0M173.5 146.7a0.39 0.39 0 1 0 0.78 0a0.39 0.39 0 1 0 -0.78 0M165.5 139.8a0.40 0.40 0 1 0 0.80 0a0.40 0.40 0 1 0 -0.80 0M168.0 143.1a0.38 0.38 0 1 0 0.76 0a0.38 0.38 0 1 0 -0.76 0M151.6 134.6a0.55 0.55 0 1 0 1.09 0a0.55 0.55 0 1 0 -1.09 0M165.3 140.1a0.58 0.58 0 1 0 1.17 0a0.58 0.58 0 1 0 -1.17 0M169.8 140.9a0.45 0.45 0 1 0 0.90 0a0.45 0.45 0 1 0 -0.90 0M162.9 147.6a0.48 0.48 0 1 0 0.96 0a0.48 0.48 0 1 0 -0.96 0M158.8 149.9a0.31 0.31 0 1 0 0.61 0a0.31 0.31 0 1 0 -0.61 0M151.6 161.3a0.47 0.47 0 1 0 0.93 0a0.47 0.47 0 1 0 -0.93 0M155.7 149.9a0.36 0.36 0 1 0 0.73 0a0.36 0.36 0 1 0 -0.73 0M157.5 154.0a0.31 0.31 0 1 0 0.62 0a0.31 0.31 0 1 0 -0.62 0M172.5 146.3a0.57 0.57 0 1 0 1.15 0a0.57 0.57 0 1 0 -1.15 0M168.2 154.8a0.46 0.46 0 1 0 0.91 0a0.46 0.46 0 1 0 -0.91 0M152.4 140.4a0.51 0.51 0 1 0 1.01 0a0.51 0.51 0 1 0 -1.01 0M172.2 140.4a0.53 0.53 0 1 0 1.05 0a0.53 0.53 0 1 0 -1.05 0M157.1 142.4a0.43 0.43 0 1 0 0.87 0a0.43 0.43 0 1 0 -0.87 0M164.0 139.1a0.49 0.49 0 1 0 0.98 0a0.49 0.49 0 1 0 -0.98 0M173.6 135.5a0.32 0.32 0 1 0 0.64 0a0.32 0.32 0 1 0 -0.64 0M171.8 143.2a0.59 0.59 0 1 0 1.17 0a0.59 0.59 0 1 0 -1.17 0M158.9 140.6a0.63 0.63 0 1 0 1.25 0a0.63 0.63 0 1 0 -1.25 0M163.2 149.8a0.49 0.49 0 1 0 0.97 0a0.49 0.49 0 1 0 -0.97 0M174.0 156.1a0.60 0.60 0 1 0 1.21 0a0.60 0.60 0 1 0 -1.21 0M161.6 139.8a0.54 0.54 0 1 0 1.08 0a0.54 0.54 0 1 0 -1.08 0M146.6 152.2a0.61 0.61 0 1 0 1.22 0a0.61 0.61 0 1 0 -1.22 0M154.9 150.4a0.47 0.47 0 1 0 0.94 0a0.47 0.47 0 1 0 -0.94 0M161.3 139.0a0.60 0.60 0 1 0 1.21 0a0.60 0.60 0 1 0 -1.21 0M147.7 140.7a0.63 0.63 0 1 0 1.27 0a0.63 0.63 0 1 0 -1.27 0M164.0 150.5a0.50 0.50 0 1 0 1.00 0a0.50 0.50 0 1 0 -1.00 0M164.3 135.4a0.42 0.42 0 1 0 0.84 0a0.42 0.42 0 1 0 -0.84 0M154.7 140.6a0.43 0.43 0 1 0 0.85 0a0.43 0.43 0 1 0 -0.85 0M151.5 146.5a0.38 0.38 0 1 0 0.76 0a0.38 0.38 0 1 0 -0.76 0M148.9 149.3a0.46 0.46 0 1 0 0.91 0a0.46 0.46 0 1 0 -0.91 0M142.5 146.4a0.53 0.53 0 1 0 1.06 0a0.53 0.53 0 1 0 -1.06 0M150.1 137.1a0.47 0.47 0 1 0 0.93 0a0.47 0.47 0 1 0 -0.93 0M166.0 153.7a0.49 0.49 0 1 0 0.99 0a0.49 0.49 0 1 0 -0.99 0M166.9 136.1a0.52 0.52 0 1 0 1.04 0a0.52 0.52 0 1 0 -1.04 0M172.9 135.5a0.31 0.31 0 1 0 0.62 0a0.31 0.31 0 1 0 -0.62 0M142.8 151.6a0.48 0.48 0 1 0 0.97 0a0.48 0.48 0 1 0 -0.97 0M170.2 142.5a0.64 0.64 0 1 0 1.28 0a0.64 0.64 0 1 0 -1.28 0M172.9 147.3a0.62 0.62 0 1 0 1.25 0a0.62 0.62 0 1 0 -1.25 0M172.5 146.1a0.36 0.36 0 1 0 0.71 0a0.36 0.36 0 1 0 -0.71 0M142.5 154.1a0.59 0.59 0 1 0 1.19 0a0.59 0.59 0 1 0 -1.19 0M143.6 142.3a0.57 0.57 0 1 0 1.14 0a0.57 0.57 0 1 0 -1.14 0M146.9 153.2a0.39 0.39 0 1 0 0.78 0a0.39 0.39 0 1 0 -0.78 0M153.2 142.4a0.37 0.37 0 1 0 0.75 0a0.37 0.37 0 1 0 -0.75 0" fill="#fff" fill-opacity="0.35"/>
<path d="M144.1 138.0a0.37 0.37 0 1 0 0.75 0a0.37 0.37 0 1 0 -0.75 0M158.3 160.4a0.34 0.34 0 1 0 0.68 0a0.34 0.34 0 1 0 -0.68 0M165.3 148.4a0.48 0.48 0 1 0 0.96 0a0.48 0.48 0 1 0 -0.96 0M149.5 157.4a0.32 0.32 0 1 0 0.65 0a0.32 0.32 0 1 0 -0.65 0M170.8 147.2a0.61 0.61 0 1 0 1.22 0a0.61 0.61 0 1 0 -1.22 0M167.8 136.8a0.41 0.41 0 1 0 0.82 0a0.41 0.41 0 1 0 -0.82 0M149.1 138.4a0.40 0.40 0 1 0 0.80 0a0.40 0.40 0 1 0 -0.80 0M164.1 157.4a0.62 0.62 0 1 0 1.24 0a0.62 0.62 0 1 0 -1.24 0M155.1 158.3a0.45 0.45 0 1 0 0.90 0a0.45 0.45 0 1 0 -0.90 0M145.3 136.0a0.33 0.33 0 1 0 0.67 0a0.33 0.33 0 1 0 -0.67 0M145.3 137.1a0.48 0.48 0 1 0 0.97 0a0.48 0.48 0 1 0 -0.97 0M159.2 135.8a0.31 0.31 0 1 0 0.62 0a0.31 0.31 0 1 0 -0.62 0M174.5 156.0a0.36 0.36 0 1 0 0.72 0a0.36 0.36 0 1 0 -0.72 0M155.1 137.1a0.46 0.46 0 1 0 0.92 0a0.46 0.46 0 1 0 -0.92 0M146.8 146.7a0.33 0.33 0 1 0 0.66 0a0.33 0.33 0 1 0 -0.66 0M166.3 154.5a0.62 0.62 0 1 0 1.23 0a0.62 0.62 0 1 0 -1.23 0M164.3 158.0a0.33 0.33 0 1 0 0.67 0a0.33 0.33 0 1 0 -0.67 0M174.4 155.9a0.59 0.59 0 1 0 1.17 0a0.59 0.59 0 1 0 -1.17 0M156.2 155.6a0.60 0.60 0 1 0 1.20 0a0.60 0.60 0 1 0 -1.20 0M155.6 145.1a0.48 0.48 0 1 0 0.97 0a0.48 0.48 0 1 0 -0.97 0M165.3 144.3a0.51 0.51 0 1 0 1.02 0a0.51 0.51 0 1 0 -1.02 0M169.8 141.8a0.44 0.44 0 1 0 0.89 0a0.44 0.44 0 1 0 -0.89 0M154.4 162.0a0.56 0.56 0 1 0 1.12 0a0.56 0.56 0 1 0 -1.12 0M150.8 157.6a0.48 0.48 0 1 0 0.97 0a0.48 0.48 0 1 0 -0.97 0M155.2 153.0a0.65 0.65 0 1 0 1.30 0a0.65 0.65 0 1 0 -1.30 0M171.3 160.3a0.33 0.33 0 1 0 0.66 0a0.33 0.33 0 1 0 -0.66 0M162.7 159.1a0.32 0.32 0 1 0 0.65 0a0.32 0.32 0 1 0 -0.65 0M144.3 150.1a0.36 0.36 0 1 0 0.72 0a0.36 0.36 0 1 0 -0.72 0M166.7 147.9a0.55 0.55 0 1 0 1.10 0a0.55 0.55 0 1 0 -1.10 0M145.4 138.0a0.35 0.35 0 1 0 0.69 0a0.35 0.35 0 1 0 -0.69 0M172.1 160.8a0.50 0.50 0 1 0 0.99 0a0.50 0.50 0 1 0 -0.99 0M165.8 159.2a0.60 0.60 0 1 0 1.19 0a0.60 0.60 0 1 0 -1.19 0M159.8 143.0a0.63 0.63 0 1 0 1.26 0a0.63 0.63 0 1 0 -1.26 0M174.7 149.5a0.40 0.40 0 1 0 0.80 0a0.40 0.40 0 1 0 -0.80 0M143.9 151.4a0.43 0.43 0 1 0 0.86 0a0.43 0.43 0 1 0 -0.86 0M168.3 155.5a0.54 0.54 0 1 0 1.08 0a0.54 0.54 0 1 0 -1.08 0M157.1 137.9a0.34 0.34 0 1 0 0.68 0a0.34 0.34 0 1 0 -0.68 0M155.2 149.9a0.51 0.51 0 1 0 1.01 0a0.51 0.51 0 1 0 -1.01 0M172.7 134.0a0.33 0.33 0 1 0 0.67 0a0.33 0.33 0 1 0 -0.67 0M159.3 148.0a0.59 0.59 0 1 0 1.17 0a0.59 0.59 0 1 0 -1.17 0M156.6 137.2a0.35 0.35 0 1 0 0.70 0a0.35 0.35 0 1 0 -0.70 0M147.3 154.6a0.55 0.55 0 1 0 1.09 0a0.55 0.55 0 1 0 -1.09 0M171.9 157.9a0.54 0.54 0 1 0 1.08 0a0.54 0.54 0 1 0 -1.08 0M153.7 161.4a0.38 0.38 0 1 0 0.77 0a0.38 0.38 0 1 0 -0.77 0M149.7 155.0a0.62 0.62 0 1 0 1.24 0a0.62 0.62 0 1 0 -1.24 0M153.3 150.6a0.38 0.38 0 1 0 0.77 0a0.38 0.38 0 1 0 -0.77 0M143.0 154.4a0.48 0.48 0 1 0 0.95 0a0.48 0.48 0 1 0 -0.95 0M155.0 148.0a0.34 0.34 0 1 0 0.67 0a0.34 0.34 0 1 0 -0.67 0M160.4 139.8a0.62 0.62 0 1 0 1.24 0a0.62 0.62 0 1 0 -1.24 0M144.6 144.0a0.41 0.41 0 1 0 0.82 0a0.41 0.41 0 1 0 -0.82 0M157.8 156.1a0.64 0.64 0 1 0 1.29 0a0.64 0.64 0 1 0 -1.29 0M168.3 135.7a0.53 0.53 0 1 0 1.06 0a0.53 0.53 0 1 0 -1.06 0M173.7 149.2a0.36 0.36 0 1 0 0.71 0a0.36 0.36 0 1 0 -0.71 0M146.3 160.8a0.58 0.58 0 1 0 1.17 0a0.58 0.58 0 1 0 -1.17 0M150.7 158.2a0.47 0.47 0 1 0 0.93 0a0.47 0.47 0 1 0 -0.93 0M158.6 150.5a0.37 0.37 0 1 0 0.74 0a0.37 0.37 0 1 0 -0.74 0M150.8 145.0a0.42 0.42 0 1 0 0.84 0a0.42 0.42 0 1 0 -0.84 0M146.6 149.0a0.31 0.31 0 1 0 0.63 0a0.31 0.31 0 1 0 -0.63 0M151.5 150.3a0.59 0.59 0 1 0 1.19 0a0.59 0.59 0 1 0 -1.19 0M172.8 140.1a0.30 0.30 0 1 0 0.60 0a0.30 0.30 0 1 0 -0.60 0M158.9 159.4a0.44 0.44 0 1 0 0.87 0a0.44 0.44 0 1 0 -0.87 0M152.7 162.4a0.54 0.54 0 1 0 1.07 0a0.54 0.54 0 1 0 -1.07 0M156.6 155.0a0.43 0.43 0 1 0 0.86 0a0.43 0.43 0 1 0 -0.86 0M154.4 159.6a0.53 0.53 0 1 0 1.06 0a0.53 0.53 0 1 0 -1.06 0M154.2 136.4a0.62 0.62 0 1 0 1.24 0a0.62 0.62 0 1 0 -1.24 0M159.2 142.1a0.62 0.62 0 1 0 1.24 0a0.62 0.62 0 1 0 -1.24 0M171.9 148.9a0.36 0.36 0 1 0 0.71 0a0.36 0.36 0 1 0 -0.71 0M163.0 162.3a0.52 0.52 0 1 0 1.04 0a0.52 0.52 0 1 0 -1.04 0M142.9 135.3a0.58 0.58 0 1 0 1.16 0a0.58 0.58 0 1 0 -1.16 0M152.2 138.1a0.51 0.51 0 1 0 1.02 0a0.51 0.51 0 1 0 -1.02 0M143.4 154.2a0.48 0.48 0 1 0 0.96 0a0.48 0.48 0 1 0 -0.96 0M164.7 144.0a0.41 0.41 0 1 0 0.81 0a0.41 0.41 0 1 0 -0.81 0M162.6 140.6a0.61 0.61 0 1 0 1.22 0a0.61 0.61 0 1 0 -1.22 0M161.6 154.1a0.61 0.61 0 1 0 1.22 0a0.61 0.61 0 1 0 -1.22 0M170.3 150.2a0.38 0.38 0 1 0 0.75 0a0.38 0.38 0 1 0 -0.75 0M167.4 145.8a0.50 0.50 0 1 0 1.01 0a0.50 0.50 0 1 0 -1.01 0M171.1 148.2a0.58 0.58 0 1 0 1.15 0a0.58 0.58 0 1 0 -1.15 0M159.1 144.9a0.32 0.32 0 1 0 0.64 0a0.32 0.32 0 1 0 -0.64 0M160.2 159.5a0.37 0.37 0 1 0 0.74 0a0.37 0.37 0 1 0 -0.74 0M151.4 143.8a0.30 0.30 0 1 0 0.61 0a0.30 0.30 0 1 0 -0.61 0M152.5 146.1a0.39 0.39 0 1 0 0.78 0a0.39 0.39 0 1 0 -0.78 0M158.5 135.8a0.38 0.38 0 1 0 0.76 0a0.38 0.38 0 1 0 -0.76 0M163.9 155.5a0.59 0.59 0 1 0 1.18 0a0.59 0.59 0 1 0 -1.18 0M154.0 142.0a0.61 0.61 0 1 0 1.22 0a0.61 0.61 0 1 0 -1.22 0M161.3 159.4a0.55 0.55 0 1 0 1.09 0a0.55 0.55 0 1 0 -1.09 0M164.8 143.7a0.44 0.44 0 1 0 0.89 0a0.44 0.44 0 1 0 -0.89 0M170.3 146.6a0.62 0.62 0 1 0 1.23 0a0.62 0.62 0 1 0 -1.23 0M171.3 155.0a0.34 0.34 0 1 0 0.68 0a0.34 0.34 0 1 0 -0.68 0M152.9 148.1a0.46 0.46 0 1 0 0.91 0a0.46 0.46 0 1 0 -0.91 0M168.4 134.8a0.34 0.34 0 1 0 0.68 0a0.34 0.34 0 1 0 -0.68 0M161.6 157.9a0.33 0.33 0 1 0 0.67 0a0.33 0.33 0 1 0 -0.67 0" fill="#fff" fill-opacity="0.85"/>
<path d="M163.7 147.3a0.44 0.44 0 1 0 0.87 0a0.44 0.44 0 1 0 -0.87 0M161.6 160.0a0.33 0.33 0 1 0 0.66 0a0.33 0.33 0 1 0 -0.66 0M150.2 134.6a0.48 0.48 0 1 0 0.96 0a0.48 0.48 0 1 0 -0.96 0M152.1 144.3a0.35 0.35 0 1 0 0.69 0a0.35 0.35 0 1 0 -0.69 0M154.3 152.7a0.48 0.48 0 1 0 0.95 0a0.48 0.48 0 1 0 -0.95 0M149.8 135.0a0.43 0.43 0 1 0 0.86 0a0.43 0.43 0 1 0 -0.86 0M150.2 145.9a0.44 0.44 0 1 0 0.89 0a0.44 0.44 0 1 0 -0.89 0M147.5 161.2a0.55 0.55 0 1 0 1.10 0a0.55 0.55 0 1 0 -1.10 0M162.4 148.4a0.58 0.58 0 1 0 1.15 0a0.58 0.58 0 1 0 -1.15 0M173.2 150.4a0.46 0.46 0 1 0 0.92 0a0.46 0.46 0 1 0 -0.92 0M161.3 148.5a0.48 0.48 0 1 0 0.97 0a0.48 0.48 0 1 0 -0.97 0M152.2 136.3a0.62 0.62 0 1 0 1.25 0a0.62 0.62 0 1 0 -1.25 0M175.1 140.5a0.33 0.33 0 1 0 0.66 0a0.33 0.33 0 1 0 -0.66 0M159.5 152.1a0.57 0.57 0 1 0 1.15 0a0.57 0.57 0 1 0 -1.15 0M155.1 151.0a0.37 0.37 0 1 0 0.74 0a0.37 0.37 0 1 0 -0.74 0M154.4 146.4a0.59 0.59 0 1 0 1.18 0a0.59 0.59 0 1 0 -1.18 0M166.6 141.9a0.57 0.57 0 1 0 1.15 0a0.57 0.57 0 1 0 -1.15 0M163.2 157.9a0.40 0.40 0 1 0 0.79 0a0.40 0.40 0 1 0 -0.79 0M166.5 151.4a0.38 0.38 0 1 0 0.76 0a0.38 0.38 0 1 0 -0.76 0M146.3 154.9a0.45 0.45 0 1 0 0.90 0a0.45 0.45 0 1 0 -0.90 0M148.0 152.5a0.61 0.61 0 1 0 1.22 0a0.61 0.61 0 1 0 -1.22 0M157.0 154.2a0.50 0.50 0 1 0 1.01 0a0.50 0.50 0 1 0 -1.01 0M162.8 146.0a0.50 0.50 0 1 0 1.00 0a0.50 0.50 0 1 0 -1.00 0M170.0 158.3a0.47 0.47 0 1 0 0.95 0a0.47 0.47 0 1 0 -0.95 0M164.1 137.6a0.31 0.31 0 1 0 0.62 0a0.31 0.31 0 1 0 -0.62 0M171.3 148.7a0.42 0.42 0 1 0 0.84 0a0.42 0.42 0 1 0 -0.84 0M143.0 158.0a0.50 0.50 0 1 0 1.01 0a0.50 0.50 0 1 0 -1.01 0M146.7 162.0a0.50 0.50 0 1 0 0.99 0a0.50 0.50 0 1 0 -0.99 0M161.4 159.4a0.65 0.65 0 1 0 1.30 0a0.65 0.65 0 1 0 -1.30 0M174.9 137.1a0.53 0.53 0 1 0 1.06 0a0.53 0.53 0 1 0 -1.06 0M161.6 161.0a0.43 0.43 0 1 0 0.86 0a0.43 0.43 0 1 0 -0.86 0M150.2 144.5a0.47 0.47 0 1 0 0.93 0a0.47 0.47 0 1 0 -0.93 0M148.1 138.0a0.58 0.58 0 1 0 1.15 0a0.58 0.58 0 1 0 -1.15 0M157.4 142.6a0.60 0.60 0 1 0 1.20 0a0.60 0.60 0 1 0 -1.20 0M157.1 152.2a0.61 0.61 0 1 0 1.23 0a0.61 0.61 0 1 0 -1.23 0M166.2 153.3a0.46 0.46 0 1 0 0.93 0a0.46 0.46 0 1 0 -0.93 0M155.7 154.1a0.41 0.41 0 1 0 0.82 0a0.41 0.41 0 1 0 -0.82 0M164.3 159.1a0.35 0.35 0 1 0 0.71 0a0.35 0.35 0 1 0 -0.71 0M172.5 159.2a0.52 0.52 0 1 0 1.03 0a0.52 0.52 0 1 0 -1.03 0M153.8 137.7a0.33 0.33 0 1 0 0.65 0a0.33 0.33 0 1 0 -0.65 0M162.2 158.4a0.44 0.44 0 1 0 0.88 0a0.44 0.44 0 1 0 -0.88 0M167.8 137.4a0.54 0.54 0 1 0 1.07 0a0.54 0.54 0 1 0 -1.07 0M173.0 158.9a0.51 0.51 0 1 0 1.02 0a0.51 0.51 0 1 0 -1.02 0M148.4 135.6a0.40 0.40 0 1 0 0.79 0a0.40 0.40 0 1 0 -0.79 0M158.5 138.6a0.56 0.56 0 1 0 1.12 0a0.56 0.56 0 1 0 -1.12 0M148.2 143.6a0.50 0.50 0 1 0 1.00 0a0.50 0.50 0 1 0 -1.00 0M173.9 152.1a0.49 0.49 0 1 0 0.99 0a0.49 0.49 0 1 0 -0.99 0M152.4 155.7a0.42 0.42 0 1 0 0.85 0a0.42 0.42 0 1 0 -0.85 0M144.5 145.6a0.32 0.32 0 1 0 0.65 0a0.32 0.32 0 1 0 -0.65 0M151.9 161.3a0.49 0.49 0 1 0 0.98 0a0.49 0.49 0 1 0 -0.98 0M164.2 152.3a0.32 0.32 0 1 0 0.65 0a0.32 0.32 0 1 0 -0.65 0M145.7 155.1a0.41 0.41 0 1 0 0.83 0a0.41 0.41 0 1 0 -0.83 0M146.1 139.6a0.45 0.45 0 1 0 0.90 0a0.45 0.45 0 1 0 -0.90 0M146.6 147.0a0.53 0.53 0 1 0 1.07 0a0.53 0.53 0 1 0 -1.07 0M157.9 153.6a0.59 0.59 0 1 0 1.18 0a0.59 0.59 0 1 0 -1.18 0M172.0 162.6a0.33 0.33 0 1 0 0.66 0a0.33 0.33 0 1 0 -0.66 0M147.8 143.3a0.63 0.63 0 1 0 1.26 0a0.63 0.63 0 1 0 -1.26 0M172.8 146.6a0.56 0.56 0 1 0 1.11 0a0.56 0.56 0 1 0 -1.11 0M143.2 160.4a0.53 0.53 0 1 0 1.06 0a0.53 0.53 0 1 0 -1.06 0M143.6 134.7a0.41 0.41 0 1 0 0.82 0a0.41 0.41 0 1 0 -0.82 0M152.5 134.6a0.56 0.56 0 1 0 1.11 0a0.56 0.56 0 1 0 -1.11 0M162.4 144.2a0.55 0.55 0 1 0 1.11 0a0.55 0.55 0 1 0 -1.11 0M172.0 137.9a0.46 0.46 0 1 0 0.91 0a0.46 0.46 0 1 0 -0.91 0M154.0 148.6a0.31 0.31 0 1 0 0.61 0a0.31 0.31 0 1 0 -0.61 0M170.1 149.4a0.61 0.61 0 1 0 1.22 0a0.61 0.61 0 1 0 -1.22 0M150.3 138.6a0.41 0.41 0 1 0 0.82 0a0.41 0.41 0 1 0 -0.82 0M171.8 137.6a0.40 0.40 0 1 0 0.81 0a0.40 0.40 0 1 0 -0.81 0M147.4 148.0a0.60 0.60 0 1 0 1.20 0a0.60 0.60 0 1 0 -1.20 0M162.6 148.9a0.57 0.57 0 1 0 1.14 0a0.57 0.57 0 1 0 -1.14 0M167.4 134.3a0.46 0.46 0 1 0 0.93 0a0.46 0.46 0 1 0 -0.93 0M150.3 157.9a0.44 0.44 0 1 0 0.89 0a0.44 0.44 0 1 0 -0.89 0M162.8 137.9a0.47 0.47 0 1 0 0.95 0a0.47 0.47 0 1 0 -0.95 0M152.2 150.0a0.33 0.33 0 1 0 0.66 0a0.33 0.33 0 1 0 -0.66 0M154.6 158.8a0.49 0.49 0 1 0 0.98 0a0.49 0.49 0 1 0 -0.98 0M150.5 136.1a0.41 0.41 0 1 0 0.82 0a0.41 0.41 0 1 0 -0.82 0M165.6 143.1a0.54 0.54 0 1 0 1.08 0a0.54 0.54 0 1 0 -1.08 0M171.1 157.1a0.47 0.47 0 1 0 0.94 0a0.47 0.47 0 1 0 -0.94 0M158.6 136.1a0.42 0.42 0 1 0 0.84 0a0.42 0.42 0 1 0 -0.84 0M153.3 142.9a0.46 0.46 0 1 0 0.91 0a0.46 0.46 0 1 0 -0.91 0M157.2 140.0a0.50 0.50 0 1 0 0.99 0a0.50 0.50 0 1 0 -0.99 0M166.4 140.4a0.49 0.49 0 1 0 0.99 0a0.49 0.49 0 1 0 -0.99 0M150.7 145.0a0.51 0.51 0 1 0 1.03 0a0.51 0.51 0 1 0 -1.03 0M154.3 147.1a0.40 0.40 0 1 0 0.79 0a0.40 0.40 0 1 0 -0.79 0M156.3 135.8a0.31 0.31 0 1 0 0.63 0a0.31 0.31 0 1 0 -0.63 0M142.7 150.7a0.52 0.52 0 1 0 1.05 0a0.52 0.52 0 1 0 -1.05 0M159.7 160.6a0.41 0.41 0 1 0 0.82 0a0.41 0.41 0 1 0 -0.82 0" fill="#fff" fill-opacity="0.6"/>
</g>
</g>
<clipPath id="c12"><rect x="219.2" y="111.7" width="95.6" height="83.3"/></clipPath>
<g clip-path="url(#c12)">
<g filter="url(#soft)">
<rect x="217.2" y="109.7" width="99.6" height="87.3" fill="rgb(110,110,110)"/>
<polygon points="217.33,109.83 262.1,109.83 256.51,121.03 217.33,122.9" fill="rgb(210,210,210)" fill-opacity="0.8" filter="url(#b3)"/>
<polyline points="271.43,109.83 319.93,128.5" fill="none" stroke="rgb(215,215,215)" stroke-opacity="0.75" stroke-width="6.53" stroke-linejoin="round" stroke-linecap="round" filter="url(#b2)"/>
<polygon points="217.33,147.17 230.39,147.17 256.51,162.1 278.89,171.43 280.76,197.57 217.33,197.57" fill="rgb(215,215,215)" fill-opacity="0.85" filter="url(#b3)"/>
<polyline points="286.35,137.83 319.93,156.5" fill="none" stroke="rgb(205,205,205)" stroke-opacity="0.65" stroke-width="4.66" stroke-linejoin="round" stroke-linecap="round" filter="url(#b2)"/>
<polyline points="275.16,177.03 319.93,191.97" fill="none" stroke="rgb(205,205,205)" stroke-opacity="0.6" stroke-width="4.66" stroke-linejoin="round" stroke-linecap="round" filter="url(#b3)"/>
<filter id="c12f0" x="0" y="0" width="100%" height="100%" color-interpolation-filters="sRGB"><feTurbulence type="fractalNoise" baseFrequency="0.3 0.05" numOctaves="2" seed="81"/><feColorMatrix type="matrix" values="1.6 0 0 0 -0.3  1.6 0 0 0 -0.3  1.6 0 0 0 -0.3  0 0 0 0 1"/></filter>
<g transform="rotate(-60 267 153.35)" opacity="0.6" style="mix-blend-mode:hard-light"><rect x="192" y="78.35" width="150" height="150" filter="url(#c12f0)"/></g>
<filter id="c12f1" x="0" y="0" width="100%" height="100%" color-interpolation-filters="sRGB"><feTurbulence type="fractalNoise" baseFrequency="0.4 0.4" numOctaves="2" seed="84"/><feColorMatrix type="matrix" values="1.5 0 0 0 -0.25  1.5 0 0 0 -0.25  1.5 0 0 0 -0.25  0 0 0 0 1"/></filter>
<g transform="rotate(0 267 153.35)" opacity="0.5" style="mix-blend-mode:hard-light"><rect x="192" y="78.35" width="150" height="150" filter="url(#c12f1)"/></g>
<path d="M211.8 115.0L216.7 116.7M318.4 137.0L328.0 140.4M304.1 129.9L308.8 133.3M224.0 173.9L228.1 176.0M225.2 183.0L230.0 184.1M311.4 111.7L316.9 113.5M235.4 201.5L240.8 205.1M310.9 200.7L320.1 204.6" stroke="#000" stroke-opacity="0.55" stroke-width="1.45" stroke-linecap="round" fill="none"/>
<path d="M258.1 150.8L265.0 154.9M274.2 154.5L284.5 160.4M252.8 117.8L257.2 119.9M272.1 177.3L278.9 179.7M294.4 112.6L305.8 119.1M232.9 131.5L236.9 132.5M211.6 142.1L218.3 146.0M269.3 127.5L279.3 131.0M283.9 132.3L293.5 137.0M272.2 191.3L283.1 198.4M223.8 152.9L228.9 158.9M275.0 141.6L284.9 145.0M295.8 123.5L299.2 125.8" stroke="#fff" stroke-opacity="0.68" stroke-width="1.08" stroke-linecap="round" fill="none"/>
<path d="M260.1 193.9L268.0 197.7M285.6 197.6L295.2 202.1M319.2 179.5L322.3 180.8M214.5 150.8L218.9 153.1M288.7 168.6L294.4 174.9M214.2 134.6L222.8 144.7M262.5 184.0L265.5 187.4M260.4 179.4L273.6 182.0M240.3 141.4L247.6 146.3M212.9 184.5L222.9 190.4" stroke="#000" stroke-opacity="0.55" stroke-width="1.08" stroke-linecap="round" fill="none"/>
<path d="M301.6 112.0L308.6 113.6M211.6 104.9L218.6 108.6M229.1 149.6L234.5 156.4M289.3 192.6L293.3 194.8M211.8 121.7L216.8 125.8M303.1 133.1L306.6 134.2M270.0 168.6L275.1 169.4M226.3 173.7L234.2 178.1M283.5 143.6L291.3 146.2M313.0 138.3L315.9 139.9M239.6 156.5L248.3 159.1M250.5 127.2L262.7 131.8M242.2 133.5L247.5 136.8M306.9 198.1L313.0 202.4M220.6 128.8L224.5 129.8M229.1 169.8L238.9 174.3M218.8 187.8L228.8 192.0" stroke="#fff" stroke-opacity="0.42" stroke-width="1.08" stroke-linecap="round" fill="none"/>
<path d="M273.4 145.4L280.1 149.9M288.2 151.9L296.5 157.7M308.6 195.1L317.1 198.9M252.9 104.2L256.6 106.4M322.4 186.8L325.4 188.2M319.4 111.9L323.4 113.9M259.2 134.8L262.8 137.4M240.0 101.5L248.7 106.2M228.9 100.0L235.8 106.4M288.6 132.7L291.9 135.4M243.6 129.9L248.9 133.6M271.8 143.2L276.5 145.4M268.2 105.8L274.4 109.9M317.2 163.3L322.3 165.8M313.0 190.1L316.3 191.7M267.9 181.8L273.3 182.9M291.9 112.3L301.7 114.2" stroke="#fff" stroke-opacity="0.68" stroke-width="1.45" stroke-linecap="round" fill="none"/>
<path d="M238.9 168.3L245.3 170.8M223.1 142.3L229.4 143.9M314.4 152.0L321.2 159.5M221.0 192.6L224.0 194.5M306.6 194.5L318.0 202.3" stroke="#000" stroke-opacity="0.68" stroke-width="1.82" stroke-linecap="round" fill="none"/>
<path d="M247.6 128.3L250.1 130.2M314.8 188.1L321.3 191.0M262.1 108.4L273.6 112.0M272.0 190.2L280.2 194.4M300.2 193.5L311.5 198.4M245.4 180.7L257.4 187.7M242.4 105.9L249.9 115.1M283.6 192.9L293.5 199.1M213.1 106.4L222.4 112.5M274.4 117.5L286.0 122.4M309.4 136.9L318.3 140.5M309.6 188.2L323.2 191.0M286.6 163.1L294.9 169.4M226.3 141.0L235.0 146.9M273.2 199.9L278.3 204.8" stroke="#fff" stroke-opacity="0.55" stroke-width="1.82" stroke-linecap="round" fill="none"/>
<path d="M243.5 116.9L253.9 121.7M215.0 107.6L221.9 110.3M310.9 202.5L322.0 203.8M282.5 131.2L290.6 130.5M227.0 166.2L230.9 169.3M264.5 196.0L277.3 200.9M322.7 129.3L326.6 131.1M304.1 192.7L315.6 200.2M301.9 156.2L308.5 160.0M233.9 117.0L238.6 119.4M300.9 136.1L309.3 137.8M241.8 118.1L245.6 119.3M224.5 174.2L231.2 176.8M311.6 136.4L315.5 139.3M290.5 138.9L298.0 143.2M275.1 185.3L284.4 190.8" stroke="#fff" stroke-opacity="0.42" stroke-width="1.45" stroke-linecap="round" fill="none"/>
<path d="M259.9 113.7L271.4 120.4M285.9 146.5L293.2 149.5M269.3 173.2L275.5 176.8M244.1 137.8L247.1 139.1M280.8 102.7L289.7 110.9M264.1 144.8L275.6 150.9M230.2 149.5L235.4 153.7M294.9 143.5L305.6 147.7" stroke="#fff" stroke-opacity="0.42" stroke-width="1.82" stroke-linecap="round" fill="none"/>
<path d="M215.7 161.9L222.0 166.5M263.3 132.6L271.0 137.8M273.8 131.9L283.2 137.5M222.9 128.8L227.7 129.7M210.3 179.9L213.4 181.2M268.4 186.4L274.0 191.5M231.9 194.3L239.4 199.8M213.4 187.9L223.3 191.8M303.3 135.7L309.2 141.1M260.7 157.4L266.5 160.6" stroke="#fff" stroke-opacity="0.55" stroke-width="1.08" stroke-linecap="round" fill="none"/>
<path d="M256.3 109.4L262.1 113.3M282.4 196.6L294.2 200.2M311.5 145.3L316.5 148.0M263.1 169.5L273.2 177.9M290.4 133.0L297.0 134.4M219.0 128.0L229.7 131.9" stroke="#000" stroke-opacity="0.68" stroke-width="1.45" stroke-linecap="round" fill="none"/>
<path d="M249.0 160.9L256.9 163.4M230.9 110.5L240.2 114.7M292.0 112.8L300.9 122.4" stroke="#000" stroke-opacity="0.42" stroke-width="1.45" stroke-linecap="round" fill="none"/>
<path d="M275.8 185.4L287.0 188.4M256.3 114.2L262.6 121.6M267.2 155.0L272.2 157.3M309.1 128.0L313.9 130.5M308.0 101.5L316.2 102.7" stroke="#000" stroke-opacity="0.42" stroke-width="1.82" stroke-linecap="round" fill="none"/>
<path d="M247.4 200.3L254.6 202.5M214.8 111.4L223.0 120.4M237.6 198.6L242.4 200.2M311.5 161.4L320.7 167.1M245.4 115.4L256.0 122.9M217.2 163.4L229.6 168.2M217.5 162.5L227.1 166.4M244.2 201.7L249.0 204.5" stroke="#000" stroke-opacity="0.68" stroke-width="1.08" stroke-linecap="round" fill="none"/>
<path d="M313.4 202.4L321.4 207.0M305.7 146.9L313.7 149.4M317.0 172.5L321.2 174.0M265.3 172.4L274.4 176.1M258.2 180.4L262.1 183.0" stroke="#000" stroke-opacity="0.42" stroke-width="1.08" stroke-linecap="round" fill="none"/>
<path d="M312.6 178.0L321.4 181.1M290.7 123.0L293.8 124.2M282.5 151.9L293.4 158.2M284.8 120.9L294.2 126.1M267.0 197.0L279.8 201.1M251.2 100.0L262.3 105.6M316.4 107.2L322.9 110.8M306.6 155.7L313.9 160.0M294.1 115.8L300.7 121.4M260.1 203.1L264.0 205.3M206.3 149.2L212.1 150.7M248.2 121.4L259.4 128.1M308.1 149.0L313.2 151.8" stroke="#fff" stroke-opacity="0.68" stroke-width="1.82" stroke-linecap="round" fill="none"/>
<path d="M304.2 198.5L315.2 205.5M219.9 153.6L226.1 156.5M248.5 122.7L255.0 127.6M206.3 199.0L216.2 202.7M292.6 142.0L304.5 146.8M318.6 131.3L323.5 137.0M265.7 117.7L271.4 121.9M222.0 197.0L229.1 201.8" stroke="#fff" stroke-opacity="0.55" stroke-width="1.45" stroke-linecap="round" fill="none"/>
<path d="M259.6 178.5L266.9 182.4M294.1 157.0L303.1 161.2M295.6 160.8L306.3 162.9" stroke="#000" stroke-opacity="0.55" stroke-width="1.82" stroke-linecap="round" fill="none"/>
<polygon points="217.33,122.9 256.51,121.97 280.76,132.23 280.76,149.03 256.51,149.03 217.33,144.37" fill="rgb(92,92,92)" fill-opacity="0.7" filter="url(#b3)"/>
<polyline points="262.1,109.83 297.55,132.23 319.93,144.37" fill="none" stroke="rgb(25,25,25)" stroke-opacity="0.8" stroke-width="5.6" stroke-linejoin="round" stroke-linecap="round" filter="url(#b2)"/>
<polyline points="282.62,147.17 319.93,171.43" fill="none" stroke="rgb(30,30,30)" stroke-opacity="0.7" stroke-width="5.22" stroke-linejoin="round" stroke-linecap="round" filter="url(#b2)"/>
<polyline points="226.66,147.17 256.51,164.9 275.16,170.5 319.93,184.5" fill="none" stroke="rgb(20,20,20)" stroke-opacity="0.8" stroke-width="4.1" stroke-linejoin="round" stroke-linecap="round" filter="url(#b2)"/>
<polyline points="237.85,163.97 252.78,175.17 273.3,197.57" fill="none" stroke="rgb(15,15,15)" stroke-opacity="0.8" stroke-width="7.09" stroke-linejoin="round" stroke-linecap="round" filter="url(#b2)"/>
<polyline points="217.33,178.9 234.12,197.57" fill="none" stroke="rgb(25,25,25)" stroke-opacity="0.7" stroke-width="5.22" stroke-linejoin="round" stroke-linecap="round" filter="url(#b2)"/>
</g>
<polygon points="228.4,143.7 231.6,139.9 236.7,137.3 243,135.8 249.4,134.8 255.7,134.8 262.1,135.8 268.4,138 274.8,141.2 279.8,145.6 283.6,151.3 284.9,156.4 283.6,161.5 279.8,164 274.8,165.9 268.4,167.2 262.1,165.9 255.7,163.4 249.4,160.2 243,157 236.7,153.2 231.6,148.8 229.1,145.6" fill="#f5283a" filter="url(#b05)" stroke-linejoin="round"/>
<polygon points="254.5,161.5 262.1,163.4 272.2,161.5 273.5,164.6 268.4,167.2 260.8,165.3 255.7,163.7" fill="#ff30ff" filter="url(#b05)" stroke-linejoin="round"/>
<polygon points="249.4,157 254.5,153.2 257.6,150.7 262.1,151.3 265.9,154.5 267.8,158.3 265.9,160.8 259.5,162.1 253.2,160.2" fill="#ffff20" filter="url(#b05)" stroke-linejoin="round"/>
<polygon points="253.2,159.6 260.8,158.3 268.4,159.6 272.2,162.1 269.7,164.6 262.1,164.6 255.7,162.7" fill="#ffffff" fill-opacity="0.9" filter="url(#b05)" stroke-linejoin="round"/>
<polygon points="262.1,164.6 271,165.3 269.7,167.8 264.6,167.2" fill="#3030ff" filter="url(#b05)" stroke-linejoin="round"/>
<clipPath id="c12s"><polygon points="228.4,143.7 231.6,139.9 236.7,137.3 243,135.8 249.4,134.8 255.7,134.8 262.1,135.8 268.4,138 274.8,141.2 279.8,145.6 283.6,151.3 284.9,156.4 283.6,161.5 279.8,164 274.8,165.9 268.4,167.2 262.1,165.9 255.7,163.4 249.4,160.2 243,157 236.7,153.2 231.6,148.8 229.1,145.6"/></clipPath>
<g clip-path="url(#c12s)">
<path d="M254.0 146.3a0.37 0.37 0 1 0 0.73 0a0.37 0.37 0 1 0 -0.73 0M251.7 139.6a0.34 0.34 0 1 0 0.68 0a0.34 0.34 0 1 0 -0.68 0M266.6 160.1a0.62 0.62 0 1 0 1.24 0a0.62 0.62 0 1 0 -1.24 0M273.5 140.6a0.61 0.61 0 1 0 1.22 0a0.61 0.61 0 1 0 -1.22 0M240.9 158.3a0.64 0.64 0 1 0 1.27 0a0.64 0.64 0 1 0 -1.27 0M227.6 159.2a0.61 0.61 0 1 0 1.23 0a0.61 0.61 0 1 0 -1.23 0M239.2 134.3a0.35 0.35 0 1 0 0.69 0a0.35 0.35 0 1 0 -0.69 0M271.2 157.1a0.36 0.36 0 1 0 0.72 0a0.36 0.36 0 1 0 -0.72 0M262.3 165.6a0.39 0.39 0 1 0 0.79 0a0.39 0.39 0 1 0 -0.79 0M284.1 166.9a0.60 0.60 0 1 0 1.21 0a0.60 0.60 0 1 0 -1.21 0M250.4 163.9a0.51 0.51 0 1 0 1.03 0a0.51 0.51 0 1 0 -1.03 0M277.8 146.1a0.44 0.44 0 1 0 0.88 0a0.44 0.44 0 1 0 -0.88 0M283.8 153.0a0.43 0.43 0 1 0 0.87 0a0.43 0.43 0 1 0 -0.87 0M262.3 134.0a0.37 0.37 0 1 0 0.75 0a0.37 0.37 0 1 0 -0.75 0M252.9 144.7a0.41 0.41 0 1 0 0.82 0a0.41 0.41 0 1 0 -0.82 0M243.9 151.1a0.31 0.31 0 1 0 0.62 0a0.31 0.31 0 1 0 -0.62 0M271.9 152.7a0.45 0.45 0 1 0 0.90 0a0.45 0.45 0 1 0 -0.90 0M281.9 152.5a0.53 0.53 0 1 0 1.07 0a0.53 0.53 0 1 0 -1.07 0M283.9 154.0a0.32 0.32 0 1 0 0.63 0a0.32 0.32 0 1 0 -0.63 0M282.6 145.7a0.47 0.47 0 1 0 0.94 0a0.47 0.47 0 1 0 -0.94 0M255.8 137.3a0.40 0.40 0 1 0 0.79 0a0.40 0.40 0 1 0 -0.79 0M235.0 160.3a0.36 0.36 0 1 0 0.71 0a0.36 0.36 0 1 0 -0.71 0M272.6 162.4a0.36 0.36 0 1 0 0.72 0a0.36 0.36 0 1 0 -0.72 0M233.2 150.2a0.47 0.47 0 1 0 0.94 0a0.47 0.47 0 1 0 -0.94 0M269.3 154.6a0.31 0.31 0 1 0 0.63 0a0.31 0.31 0 1 0 -0.63 0M261.0 136.7a0.51 0.51 0 1 0 1.03 0a0.51 0.51 0 1 0 -1.03 0M246.6 159.8a0.46 0.46 0 1 0 0.92 0a0.46 0.46 0 1 0 -0.92 0M253.4 138.3a0.34 0.34 0 1 0 0.68 0a0.34 0.34 0 1 0 -0.68 0M239.1 162.9a0.38 0.38 0 1 0 0.77 0a0.38 0.38 0 1 0 -0.77 0M242.3 151.1a0.31 0.31 0 1 0 0.61 0a0.31 0.31 0 1 0 -0.61 0M242.0 154.2a0.48 0.48 0 1 0 0.96 0a0.48 0.48 0 1 0 -0.96 0M262.0 141.3a0.54 0.54 0 1 0 1.08 0a0.54 0.54 0 1 0 -1.08 0M234.9 135.3a0.64 0.64 0 1 0 1.28 0a0.64 0.64 0 1 0 -1.28 0M272.2 163.8a0.61 0.61 0 1 0 1.21 0a0.61 0.61 0 1 0 -1.21 0M280.1 165.9a0.31 0.31 0 1 0 0.62 0a0.31 0.31 0 1 0 -0.62 0M260.0 148.5a0.42 0.42 0 1 0 0.83 0a0.42 0.42 0 1 0 -0.83 0M265.6 147.9a0.60 0.60 0 1 0 1.21 0a0.60 0.60 0 1 0 -1.21 0M236.0 139.4a0.48 0.48 0 1 0 0.96 0a0.48 0.48 0 1 0 -0.96 0M259.8 160.4a0.50 0.50 0 1 0 1.00 0a0.50 0.50 0 1 0 -1.00 0M228.1 156.6a0.40 0.40 0 1 0 0.79 0a0.40 0.40 0 1 0 -0.79 0M270.5 143.0a0.48 0.48 0 1 0 0.96 0a0.48 0.48 0 1 0 -0.96 0M254.9 166.8a0.42 0.42 0 1 0 0.83 0a0.42 0.42 0 1 0 -0.83 0M271.9 156.1a0.46 0.46 0 1 0 0.92 0a0.46 0.46 0 1 0 -0.92 0M246.8 158.7a0.62 0.62 0 1 0 1.23 0a0.62 0.62 0 1 0 -1.23 0M227.9 152.3a0.63 0.63 0 1 0 1.26 0a0.63 0.63 0 1 0 -1.26 0M268.4 150.4a0.43 0.43 0 1 0 0.86 0a0.43 0.43 0 1 0 -0.86 0M282.3 152.3a0.64 0.64 0 1 0 1.27 0a0.64 0.64 0 1 0 -1.27 0M232.3 145.7a0.57 0.57 0 1 0 1.14 0a0.57 0.57 0 1 0 -1.14 0M265.1 145.1a0.64 0.64 0 1 0 1.28 0a0.64 0.64 0 1 0 -1.28 0M246.4 147.1a0.44 0.44 0 1 0 0.88 0a0.44 0.44 0 1 0 -0.88 0M245.2 162.1a0.60 0.60 0 1 0 1.20 0a0.60 0.60 0 1 0 -1.20 0M279.8 152.2a0.35 0.35 0 1 0 0.69 0a0.35 0.35 0 1 0 -0.69 0M283.1 136.9a0.31 0.31 0 1 0 0.61 0a0.31 0.31 0 1 0 -0.61 0M271.5 163.9a0.55 0.55 0 1 0 1.09 0a0.55 0.55 0 1 0 -1.09 0M268.0 165.1a0.38 0.38 0 1 0 0.77 0a0.38 0.38 0 1 0 -0.77 0M256.8 147.5a0.64 0.64 0 1 0 1.28 0a0.64 0.64 0 1 0 -1.28 0M283.4 148.0a0.32 0.32 0 1 0 0.64 0a0.32 0.32 0 1 0 -0.64 0M242.2 148.9a0.65 0.65 0 1 0 1.30 0a0.65 0.65 0 1 0 -1.30 0M255.8 144.2a0.44 0.44 0 1 0 0.87 0a0.44 0.44 0 1 0 -0.87 0M229.2 143.6a0.48 0.48 0 1 0 0.96 0a0.48 0.48 0 1 0 -0.96 0M249.1 143.0a0.64 0.64 0 1 0 1.28 0a0.64 0.64 0 1 0 -1.28 0M270.1 163.4a0.41 0.41 0 1 0 0.81 0a0.41 0.41 0 1 0 -0.81 0M258.0 157.4a0.33 0.33 0 1 0 0.66 0a0.33 0.33 0 1 0 -0.66 0M281.0 153.1a0.55 0.55 0 1 0 1.09 0a0.55 0.55 0 1 0 -1.09 0M271.0 139.6a0.60 0.60 0 1 0 1.19 0a0.60 0.60 0 1 0 -1.19 0M284.6 144.7a0.36 0.36 0 1 0 0.71 0a0.36 0.36 0 1 0 -0.71 0M262.3 160.7a0.41 0.41 0 1 0 0.81 0a0.41 0.41 0 1 0 -0.81 0M253.1 139.6a0.39 0.39 0 1 0 0.79 0a0.39 0.39 0 1 0 -0.79 0M283.8 138.0a0.39 0.39 0 1 0 0.78 0a0.39 0.39 0 1 0 -0.78 0M268.9 140.1a0.51 0.51 0 1 0 1.02 0a0.51 0.51 0 1 0 -1.02 0M249.2 149.0a0.51 0.51 0 1 0 1.02 0a0.51 0.51 0 1 0 -1.02 0M246.5 141.3a0.43 0.43 0 1 0 0.85 0a0.43 0.43 0 1 0 -0.85 0M280.7 136.8a0.30 0.30 0 1 0 0.60 0a0.30 0.30 0 1 0 -0.60 0M253.0 163.5a0.52 0.52 0 1 0 1.04 0a0.52 0.52 0 1 0 -1.04 0M242.2 153.2a0.43 0.43 0 1 0 0.86 0a0.43 0.43 0 1 0 -0.86 0M274.2 138.0a0.50 0.50 0 1 0 1.00 0a0.50 0.50 0 1 0 -1.00 0M231.7 163.9a0.45 0.45 0 1 0 0.89 0a0.45 0.45 0 1 0 -0.89 0M235.7 151.5a0.43 0.43 0 1 0 0.86 0a0.43 0.43 0 1 0 -0.86 0M270.0 162.0a0.30 0.30 0 1 0 0.61 0a0.30 0.30 0 1 0 -0.61 0M231.6 152.2a0.54 0.54 0 1 0 1.07 0a0.54 0.54 0 1 0 -1.07 0M256.8 137.1a0.38 0.38 0 1 0 0.75 0a0.38 0.38 0 1 0 -0.75 0M229.6 161.4a0.55 0.55 0 1 0 1.10 0a0.55 0.55 0 1 0 -1.10 0M265.2 153.5a0.58 0.58 0 1 0 1.15 0a0.58 0.58 0 1 0 -1.15 0M230.7 146.0a0.60 0.60 0 1 0 1.20 0a0.60 0.60 0 1 0 -1.20 0M252.9 149.5a0.35 0.35 0 1 0 0.70 0a0.35 0.35 0 1 0 -0.70 0M281.5 166.0a0.40 0.40 0 1 0 0.80 0a0.40 0.40 0 1 0 -0.80 0M238.9 163.0a0.42 0.42 0 1 0 0.83 0a0.42 0.42 0 1 0 -0.83 0M241.7 157.3a0.44 0.44 0 1 0 0.89 0a0.44 0.44 0 1 0 -0.89 0M228.3 140.2a0.64 0.64 0 1 0 1.27 0a0.64 0.64 0 1 0 -1.27 0M259.6 146.1a0.63 0.63 0 1 0 1.26 0a0.63 0.63 0 1 0 -1.26 0M235.4 145.4a0.50 0.50 0 1 0 1.00 0a0.50 0.50 0 1 0 -1.00 0M261.5 164.0a0.36 0.36 0 1 0 0.72 0a0.36 0.36 0 1 0 -0.72 0M234.7 138.2a0.31 0.31 0 1 0 0.61 0a0.31 0.31 0 1 0 -0.61 0M281.6 140.9a0.57 0.57 0 1 0 1.13 0a0.57 0.57 0 1 0 -1.13 0M230.2 144.6a0.53 0.53 0 1 0 1.06 0a0.53 0.53 0 1 0 -1.06 0M264.0 134.1a0.34 0.34 0 1 0 0.67 0a0.34 0.34 0 1 0 -0.67 0M256.0 154.4a0.56 0.56 0 1 0 1.13 0a0.56 0.56 0 1 0 -1.13 0M247.1 144.9a0.32 0.32 0 1 0 0.64 0a0.32 0.32 0 1 0 -0.64 0M268.7 141.9a0.38 0.38 0 1 0 0.77 0a0.38 0.38 0 1 0 -0.77 0M253.1 159.2a0.62 0.62 0 1 0 1.24 0a0.62 0.62 0 1 0 -1.24 0M243.8 134.9a0.33 0.33 0 1 0 0.66 0a0.33 0.33 0 1 0 -0.66 0M269.6 163.1a0.52 0.52 0 1 0 1.04 0a0.52 0.52 0 1 0 -1.04 0M234.3 146.4a0.34 0.34 0 1 0 0.68 0a0.34 0.34 0 1 0 -0.68 0M269.3 158.9a0.32 0.32 0 1 0 0.65 0a0.32 0.32 0 1 0 -0.65 0M241.3 160.6a0.60 0.60 0 1 0 1.20 0a0.60 0.60 0 1 0 -1.20 0M239.9 164.1a0.39 0.39 0 1 0 0.78 0a0.39 0.39 0 1 0 -0.78 0M228.6 165.6a0.59 0.59 0 1 0 1.19 0a0.59 0.59 0 1 0 -1.19 0M248.9 135.0a0.51 0.51 0 1 0 1.03 0a0.51 0.51 0 1 0 -1.03 0M241.2 141.1a0.56 0.56 0 1 0 1.12 0a0.56 0.56 0 1 0 -1.12 0M271.5 149.1a0.31 0.31 0 1 0 0.61 0a0.31 0.31 0 1 0 -0.61 0M236.4 159.4a0.61 0.61 0 1 0 1.22 0a0.61 0.61 0 1 0 -1.22 0M269.2 160.4a0.35 0.35 0 1 0 0.70 0a0.35 0.35 0 1 0 -0.70 0M260.3 155.5a0.49 0.49 0 1 0 0.98 0a0.49 0.49 0 1 0 -0.98 0M246.5 148.9a0.54 0.54 0 1 0 1.09 0a0.54 0.54 0 1 0 -1.09 0M265.8 142.1a0.62 0.62 0 1 0 1.24 0a0.62 0.62 0 1 0 -1.24 0M237.7 149.0a0.31 0.31 0 1 0 0.62 0a0.31 0.31 0 1 0 -0.62 0M228.5 152.9a0.46 0.46 0 1 0 0.92 0a0.46 0.46 0 1 0 -0.92 0M257.3 148.4a0.45 0.45 0 1 0 0.91 0a0.45 0.45 0 1 0 -0.91 0M283.1 138.4a0.60 0.60 0 1 0 1.21 0a0.60 0.60 0 1 0 -1.21 0M265.6 162.1a0.46 0.46 0 1 0 0.91 0a0.46 0.46 0 1 0 -0.91 0M252.2 152.9a0.42 0.42 0 1 0 0.84 0a0.42 0.42 0 1 0 -0.84 0M234.0 159.8a0.43 0.43 0 1 0 0.86 0a0.43 0.43 0 1 0 -0.86 0M233.0 148.0a0.31 0.31 0 1 0 0.62 0a0.31 0.31 0 1 0 -0.62 0M276.6 154.2a0.41 0.41 0 1 0 0.82 0a0.41 0.41 0 1 0 -0.82 0M260.0 135.0a0.44 0.44 0 1 0 0.88 0a0.44 0.44 0 1 0 -0.88 0M256.4 142.6a0.60 0.60 0 1 0 1.19 0a0.60 0.60 0 1 0 -1.19 0M261.5 135.4a0.35 0.35 0 1 0 0.71 0a0.35 0.35 0 1 0 -0.71 0M260.4 151.0a0.31 0.31 0 1 0 0.62 0a0.31 0.31 0 1 0 -0.62 0M229.2 147.6a0.52 0.52 0 1 0 1.04 0a0.52 0.52 0 1 0 -1.04 0M272.0 161.1a0.52 0.52 0 1 0 1.04 0a0.52 0.52 0 1 0 -1.04 0M271.6 136.0a0.53 0.53 0 1 0 1.05 0a0.53 0.53 0 1 0 -1.05 0M234.2 152.2a0.56 0.56 0 1 0 1.12 0a0.56 0.56 0 1 0 -1.12 0M241.0 162.5a0.56 0.56 0 1 0 1.12 0a0.56 0.56 0 1 0 -1.12 0M282.5 147.1a0.35 0.35 0 1 0 0.69 0a0.35 0.35 0 1 0 -0.69 0M254.2 141.8a0.45 0.45 0 1 0 0.89 0a0.45 0.45 0 1 0 -0.89 0M237.5 163.5a0.39 0.39 0 1 0 0.77 0a0.39 0.39 0 1 0 -0.77 0M234.7 135.8a0.51 0.51 0 1 0 1.02 0a0.51 0.51 0 1 0 -1.02 0M260.7 161.8a0.64 0.64 0 1 0 1.28 0a0.64 0.64 0 1 0 -1.28 0M267.3 161.5a0.50 0.50 0 1 0 1.01 0a0.50 0.50 0 1 0 -1.01 0M234.6 159.3a0.39 0.39 0 1 0 0.77 0a0.39 0.39 0 1 0 -0.77 0M237.6 144.9a0.48 0.48 0 1 0 0.96 0a0.48 0.48 0 1 0 -0.96 0M260.3 163.8a0.34 0.34 0 1 0 0.68 0a0.34 0.34 0 1 0 -0.68 0M248.9 159.8a0.62 0.62 0 1 0 1.24 0a0.62 0.62 0 1 0 -1.24 0M236.7 162.9a0.60 0.60 0 1 0 1.21 0a0.60 0.60 0 1 0 -1.21 0M274.3 144.4a0.53 0.53 0 1 0 1.05 0a0.53 0.53 0 1 0 -1.05 0M236.2 159.1a0.42 0.42 0 1 0 0.84 0a0.42 0.42 0 1 0 -0.84 0M281.3 152.3a0.53 0.53 0 1 0 1.05 0a0.53 0.53 0 1 0 -1.05 0M248.4 146.0a0.33 0.33 0 1 0 0.66 0a0.33 0.33 0 1 0 -0.66 0M248.6 141.6a0.63 0.63 0 1 0 1.27 0a0.63 0.63 0 1 0 -1.27 0M268.8 149.7a0.56 0.56 0 1 0 1.12 0a0.56 0.56 0 1 0 -1.12 0M280.9 157.6a0.47 0.47 0 1 0 0.95 0a0.47 0.47 0 1 0 -0.95 0M280.5 160.6a0.64 0.64 0 1 0 1.27 0a0.64 0.64 0 1 0 -1.27 0M228.9 161.6a0.54 0.54 0 1 0 1.07 0a0.54 0.54 0 1 0 -1.07 0M269.1 142.3a0.55 0.55 0 1 0 1.11 0a0.55 0.55 0 1 0 -1.11 0M243.4 146.1a0.53 0.53 0 1 0 1.07 0a0.53 0.53 0 1 0 -1.07 0M244.1 143.9a0.59 0.59 0 1 0 1.19 0a0.59 0.59 0 1 0 -1.19 0" fill="#fff" fill-opacity="0.35"/>
<path d="M266.0 145.2a0.61 0.61 0 1 0 1.23 0a0.61 0.61 0 1 0 -1.23 0M268.9 139.6a0.63 0.63 0 1 0 1.27 0a0.63 0.63 0 1 0 -1.27 0M239.1 141.4a0.61 0.61 0 1 0 1.22 0a0.61 0.61 0 1 0 -1.22 0M271.6 164.1a0.40 0.40 0 1 0 0.80 0a0.40 0.40 0 1 0 -0.80 0M230.8 146.5a0.35 0.35 0 1 0 0.70 0a0.35 0.35 0 1 0 -0.70 0M280.1 147.9a0.37 0.37 0 1 0 0.73 0a0.37 0.37 0 1 0 -0.73 0M259.9 156.7a0.34 0.34 0 1 0 0.68 0a0.34 0.34 0 1 0 -0.68 0M272.1 160.6a0.42 0.42 0 1 0 0.84 0a0.42 0.42 0 1 0 -0.84 0M240.7 165.8a0.48 0.48 0 1 0 0.96 0a0.48 0.48 0 1 0 -0.96 0M237.4 161.8a0.31 0.31 0 1 0 0.62 0a0.31 0.31 0 1 0 -0.62 0M280.9 160.7a0.63 0.63 0 1 0 1.26 0a0.63 0.63 0 1 0 -1.26 0M253.2 160.0a0.51 0.51 0 1 0 1.03 0a0.51 0.51 0 1 0 -1.03 0M267.3 136.2a0.35 0.35 0 1 0 0.70 0a0.35 0.35 0 1 0 -0.70 0M253.7 152.5a0.33 0.33 0 1 0 0.66 0a0.33 0.33 0 1 0 -0.66 0M258.8 153.6a0.49 0.49 0 1 0 0.97 0a0.49 0.49 0 1 0 -0.97 0M241.3 149.1a0.59 0.59 0 1 0 1.18 0a0.59 0.59 0 1 0 -1.18 0M237.8 136.1a0.52 0.52 0 1 0 1.04 0a0.52 0.52 0 1 0 -1.04 0M253.0 138.9a0.65 0.65 0 1 0 1.29 0a0.65 0.65 0 1 0 -1.29 0M274.9 137.5a0.53 0.53 0 1 0 1.07 0a0.53 0.53 0 1 0 -1.07 0M248.7 158.5a0.52 0.52 0 1 0 1.04 0a0.52 0.52 0 1 0 -1.04 0M251.2 163.7a0.60 0.60 0 1 0 1.20 0a0.60 0.60 0 1 0 -1.20 0M252.6 147.7a0.47 0.47 0 1 0 0.94 0a0.47 0.47 0 1 0 -0.94 0M247.3 161.6a0.45 0.45 0 1 0 0.90 0a0.45 0.45 0 1 0 -0.90 0M232.0 143.9a0.51 0.51 0 1 0 1.03 0a0.51 0.51 0 1 0 -1.03 0M230.9 137.0a0.49 0.49 0 1 0 0.98 0a0.49 0.49 0 1 0 -0.98 0M281.2 136.8a0.64 0.64 0 1 0 1.27 0a0.64 0.64 0 1 0 -1.27 0M239.7 151.9a0.33 0.33 0 1 0 0.65 0a0.33 0.33 0 1 0 -0.65 0M240.4 166.4a0.31 0.31 0 1 0 0.63 0a0.31 0.31 0 1 0 -0.63 0M272.6 147.3a0.44 0.44 0 1 0 0.87 0a0.44 0.44 0 1 0 -0.87 0M247.8 142.9a0.62 0.62 0 1 0 1.24 0a0.62 0.62 0 1 0 -1.24 0M257.2 158.9a0.62 0.62 0 1 0 1.24 0a0.62 0.62 0 1 0 -1.24 0M273.0 163.3a0.52 0.52 0 1 0 1.04 0a0.52 0.52 0 1 0 -1.04 0M238.9 161.5a0.55 0.55 0 1 0 1.10 0a0.55 0.55 0 1 0 -1.10 0M249.3 165.7a0.35 0.35 0 1 0 0.70 0a0.35 0.35 0 1 0 -0.70 0M248.8 159.5a0.49 0.49 0 1 0 0.98 0a0.49 0.49 0 1 0 -0.98 0M238.9 157.8a0.41 0.41 0 1 0 0.82 0a0.41 0.41 0 1 0 -0.82 0M243.1 165.1a0.41 0.41 0 1 0 0.83 0a0.41 0.41 0 1 0 -0.83 0M275.5 157.4a0.42 0.42 0 1 0 0.85 0a0.42 0.42 0 1 0 -0.85 0M236.4 152.9a0.43 0.43 0 1 0 0.85 0a0.43 0.43 0 1 0 -0.85 0M265.2 163.6a0.55 0.55 0 1 0 1.11 0a0.55 0.55 0 1 0 -1.11 0M245.4 149.1a0.45 0.45 0 1 0 0.91 0a0.45 0.45 0 1 0 -0.91 0M281.5 166.1a0.36 0.36 0 1 0 0.72 0a0.36 0.36 0 1 0 -0.72 0M261.3 134.2a0.51 0.51 0 1 0 1.03 0a0.51 0.51 0 1 0 -1.03 0M231.9 151.3a0.35 0.35 0 1 0 0.70 0a0.35 0.35 0 1 0 -0.70 0M245.6 156.5a0.32 0.32 0 1 0 0.64 0a0.32 0.32 0 1 0 -0.64 0M270.6 161.8a0.33 0.33 0 1 0 0.65 0a0.33 0.33 0 1 0 -0.65 0M284.1 150.1a0.49 0.49 0 1 0 0.97 0a0.49 0.49 0 1 0 -0.97 0M283.5 157.0a0.42 0.42 0 1 0 0.83 0a0.42 0.42 0 1 0 -0.83 0M232.8 152.6a0.58 0.58 0 1 0 1.16 0a0.58 0.58 0 1 0 -1.16 0M240.8 143.7a0.46 0.46 0 1 0 0.92 0a0.46 0.46 0 1 0 -0.92 0M243.8 149.9a0.57 0.57 0 1 0 1.14 0a0.57 0.57 0 1 0 -1.14 0M250.8 157.6a0.46 0.46 0 1 0 0.93 0a0.46 0.46 0 1 0 -0.93 0M250.3 136.9a0.65 0.65 0 1 0 1.29 0a0.65 0.65 0 1 0 -1.29 0M234.1 141.6a0.61 0.61 0 1 0 1.21 0a0.61 0.61 0 1 0 -1.21 0M269.9 151.2a0.63 0.63 0 1 0 1.26 0a0.63 0.63 0 1 0 -1.26 0M243.2 139.4a0.53 0.53 0 1 0 1.07 0a0.53 0.53 0 1 0 -1.07 0M250.5 134.2a0.31 0.31 0 1 0 0.61 0a0.31 0.31 0 1 0 -0.61 0M271.0 157.0a0.62 0.62 0 1 0 1.25 0a0.62 0.62 0 1 0 -1.25 0M261.0 141.4a0.65 0.65 0 1 0 1.30 0a0.65 0.65 0 1 0 -1.30 0M236.5 137.7a0.56 0.56 0 1 0 1.12 0a0.56 0.56 0 1 0 -1.12 0M231.3 146.1a0.48 0.48 0 1 0 0.96 0a0.48 0.48 0 1 0 -0.96 0M242.3 150.5a0.44 0.44 0 1 0 0.89 0a0.44 0.44 0 1 0 -0.89 0M250.1 166.9a0.42 0.42 0 1 0 0.85 0a0.42 0.42 0 1 0 -0.85 0M278.2 164.5a0.65 0.65 0 1 0 1.29 0a0.65 0.65 0 1 0 -1.29 0M242.1 165.8a0.46 0.46 0 1 0 0.92 0a0.46 0.46 0 1 0 -0.92 0M229.2 166.6a0.32 0.32 0 1 0 0.64 0a0.32 0.32 0 1 0 -0.64 0M230.4 146.0a0.42 0.42 0 1 0 0.85 0a0.42 0.42 0 1 0 -0.85 0M238.7 163.4a0.39 0.39 0 1 0 0.77 0a0.39 0.39 0 1 0 -0.77 0M231.4 153.6a0.46 0.46 0 1 0 0.92 0a0.46 0.46 0 1 0 -0.92 0M252.2 146.2a0.36 0.36 0 1 0 0.73 0a0.36 0.36 0 1 0 -0.73 0M231.0 158.8a0.42 0.42 0 1 0 0.84 0a0.42 0.42 0 1 0 -0.84 0M265.4 155.7a0.38 0.38 0 1 0 0.76 0a0.38 0.38 0 1 0 -0.76 0M231.2 162.5a0.32 0.32 0 1 0 0.64 0a0.32 0.32 0 1 0 -0.64 0M240.3 146.0a0.56 0.56 0 1 0 1.13 0a0.56 0.56 0 1 0 -1.13 0M253.6 166.2a0.39 0.39 0 1 0 0.77 0a0.39 0.39 0 1 0 -0.77 0M278.5 150.4a0.33 0.33 0 1 0 0.66 0a0.33 0.33 0 1 0 -0.66 0M241.9 152.4a0.39 0.39 0 1 0 0.77 0a0.39 0.39 0 1 0 -0.77 0M239.8 145.5a0.42 0.42 0 1 0 0.83 0a0.42 0.42 0 1 0 -0.83 0M255.6 164.9a0.63 0.63 0 1 0 1.27 0a0.63 0.63 0 1 0 -1.27 0M232.6 167.0a0.54 0.54 0 1 0 1.08 0a0.54 0.54 0 1 0 -1.08 0M255.7 154.8a0.45 0.45 0 1 0 0.91 0a0.45 0.45 0 1 0 -0.91 0M257.7 145.7a0.57 0.57 0 1 0 1.14 0a0.57 0.57 0 1 0 -1.14 0M237.6 139.0a0.38 0.38 0 1 0 0.77 0a0.38 0.38 0 1 0 -0.77 0M245.0 156.3a0.65 0.65 0 1 0 1.29 0a0.65 0.65 0 1 0 -1.29 0M232.8 164.0a0.37 0.37 0 1 0 0.73 0a0.37 0.37 0 1 0 -0.73 0M278.8 140.3a0.53 0.53 0 1 0 1.05 0a0.53 0.53 0 1 0 -1.05 0M234.6 161.1a0.45 0.45 0 1 0 0.90 0a0.45 0.45 0 1 0 -0.90 0M240.3 165.9a0.39 0.39 0 1 0 0.79 0a0.39 0.39 0 1 0 -0.79 0M260.5 153.0a0.61 0.61 0 1 0 1.21 0a0.61 0.61 0 1 0 -1.21 0M237.1 159.5a0.60 0.60 0 1 0 1.20 0a0.60 0.60 0 1 0 -1.20 0M256.3 147.4a0.54 0.54 0 1 0 1.07 0a0.54 0.54 0 1 0 -1.07 0M281.0 136.9a0.54 0.54 0 1 0 1.08 0a0.54 0.54 0 1 0 -1.08 0M252.6 135.3a0.53 0.53 0 1 0 1.06 0a0.53 0.53 0 1 0 -1.06 0M282.1 140.2a0.51 0.51 0 1 0 1.02 0a0.51 0.51 0 1 0 -1.02 0M244.7 154.2a0.62 0.62 0 1 0 1.24 0a0.62 0.62 0 1 0 -1.24 0M265.4 151.8a0.44 0.44 0 1 0 0.88 0a0.44 0.44 0 1 0 -0.88 0M256.6 140.5a0.63 0.63 0 1 0 1.27 0a0.63 0.63 0 1 0 -1.27 0M255.3 156.6a0.53 0.53 0 1 0 1.06 0a0.53 0.53 0 1 0 -1.06 0M265.8 136.1a0.61 0.61 0 1 0 1.22 0a0.61 0.61 0 1 0 -1.22 0M265.1 156.2a0.60 0.60 0 1 0 1.20 0a0.60 0.60 0 1 0 -1.20 0M276.9 141.9a0.44 0.44 0 1 0 0.87 0a0.44 0.44 0 1 0 -0.87 0M283.6 146.4a0.38 0.38 0 1 0 0.76 0a0.38 0.38 0 1 0 -0.76 0M284.3 154.8a0.49 0.49 0 1 0 0.98 0a0.49 0.49 0 1 0 -0.98 0M254.9 163.4a0.52 0.52 0 1 0 1.05 0a0.52 0.52 0 1 0 -1.05 0M232.5 167.0a0.47 0.47 0 1 0 0.93 0a0.47 0.47 0 1 0 -0.93 0M272.5 158.9a0.55 0.55 0 1 0 1.09 0a0.55 0.55 0 1 0 -1.09 0M253.0 143.1a0.49 0.49 0 1 0 0.98 0a0.49 0.49 0 1 0 -0.98 0M257.1 140.1a0.39 0.39 0 1 0 0.77 0a0.39 0.39 0 1 0 -0.77 0M267.2 141.1a0.38 0.38 0 1 0 0.76 0a0.38 0.38 0 1 0 -0.76 0M271.1 160.0a0.50 0.50 0 1 0 1.00 0a0.50 0.50 0 1 0 -1.00 0M235.7 145.2a0.36 0.36 0 1 0 0.71 0a0.36 0.36 0 1 0 -0.71 0M284.1 147.9a0.43 0.43 0 1 0 0.87 0a0.43 0.43 0 1 0 -0.87 0M266.0 134.4a0.55 0.55 0 1 0 1.11 0a0.55 0.55 0 1 0 -1.11 0M237.1 154.3a0.63 0.63 0 1 0 1.25 0a0.63 0.63 0 1 0 -1.25 0M233.4 141.3a0.39 0.39 0 1 0 0.79 0a0.39 0.39 0 1 0 -0.79 0M271.8 160.2a0.50 0.50 0 1 0 1.01 0a0.50 0.50 0 1 0 -1.01 0M243.4 159.0a0.60 0.60 0 1 0 1.20 0a0.60 0.60 0 1 0 -1.20 0M239.7 137.4a0.38 0.38 0 1 0 0.76 0a0.38 0.38 0 1 0 -0.76 0M248.5 137.5a0.48 0.48 0 1 0 0.96 0a0.48 0.48 0 1 0 -0.96 0M261.6 144.4a0.60 0.60 0 1 0 1.21 0a0.60 0.60 0 1 0 -1.21 0M232.3 144.2a0.49 0.49 0 1 0 0.97 0a0.49 0.49 0 1 0 -0.97 0M259.5 165.5a0.42 0.42 0 1 0 0.85 0a0.42 0.42 0 1 0 -0.85 0M236.6 152.9a0.39 0.39 0 1 0 0.79 0a0.39 0.39 0 1 0 -0.79 0M246.8 156.7a0.56 0.56 0 1 0 1.12 0a0.56 0.56 0 1 0 -1.12 0M260.7 152.1a0.42 0.42 0 1 0 0.84 0a0.42 0.42 0 1 0 -0.84 0M250.3 146.7a0.42 0.42 0 1 0 0.84 0a0.42 0.42 0 1 0 -0.84 0M276.3 146.0a0.47 0.47 0 1 0 0.94 0a0.47 0.47 0 1 0 -0.94 0" fill="#fff" fill-opacity="0.6"/>
<path d="M232.1 152.3a0.55 0.55 0 1 0 1.09 0a0.55 0.55 0 1 0 -1.09 0M256.5 164.5a0.32 0.32 0 1 0 0.64 0a0.32 0.32 0 1 0 -0.64 0M279.8 150.5a0.47 0.47 0 1 0 0.95 0a0.47 0.47 0 1 0 -0.95 0M266.5 162.1a0.39 0.39 0 1 0 0.79 0a0.39 0.39 0 1 0 -0.79 0M230.0 146.1a0.48 0.48 0 1 0 0.97 0a0.48 0.48 0 1 0 -0.97 0M243.3 165.7a0.49 0.49 0 1 0 0.99 0a0.49 0.49 0 1 0 -0.99 0M259.4 160.2a0.61 0.61 0 1 0 1.22 0a0.61 0.61 0 1 0 -1.22 0M237.0 157.6a0.61 0.61 0 1 0 1.22 0a0.61 0.61 0 1 0 -1.22 0M281.0 134.9a0.61 0.61 0 1 0 1.22 0a0.61 0.61 0 1 0 -1.22 0M258.5 151.3a0.52 0.52 0 1 0 1.05 0a0.52 0.52 0 1 0 -1.05 0M272.9 163.0a0.49 0.49 0 1 0 0.98 0a0.49 0.49 0 1 0 -0.98 0M244.8 157.9a0.35 0.35 0 1 0 0.70 0a0.35 0.35 0 1 0 -0.70 0M264.0 135.7a0.31 0.31 0 1 0 0.62 0a0.31 0.31 0 1 0 -0.62 0M261.6 154.2a0.44 0.44 0 1 0 0.89 0a0.44 0.44 0 1 0 -0.89 0M258.6 149.7a0.57 0.57 0 1 0 1.14 0a0.57 0.57 0 1 0 -1.14 0M230.4 136.5a0.64 0.64 0 1 0 1.28 0a0.64 0.64 0 1 0 -1.28 0M238.1 157.5a0.61 0.61 0 1 0 1.23 0a0.61 0.61 0 1 0 -1.23 0M261.6 165.0a0.56 0.56 0 1 0 1.11 0a0.56 0.56 0 1 0 -1.11 0M246.0 161.5a0.48 0.48 0 1 0 0.95 0a0.48 0.48 0 1 0 -0.95 0M254.0 134.1a0.37 0.37 0 1 0 0.74 0a0.37 0.37 0 1 0 -0.74 0M260.9 162.7a0.54 0.54 0 1 0 1.08 0a0.54 0.54 0 1 0 -1.08 0M270.3 145.5a0.32 0.32 0 1 0 0.64 0a0.32 0.32 0 1 0 -0.64 0M243.5 145.4a0.37 0.37 0 1 0 0.73 0a0.37 0.37 0 1 0 -0.73 0M239.8 140.7a0.50 0.50 0 1 0 1.00 0a0.50 0.50 0 1 0 -1.00 0M282.9 140.1a0.30 0.30 0 1 0 0.61 0a0.30 0.30 0 1 0 -0.61 0M237.4 135.9a0.50 0.50 0 1 0 1.01 0a0.50 0.50 0 1 0 -1.01 0M272.1 149.0a0.31 0.31 0 1 0 0.63 0a0.31 0.31 0 1 0 -0.63 0M237.3 138.7a0.55 0.55 0 1 0 1.10 0a0.55 0.55 0 1 0 -1.10 0M263.9 160.2a0.43 0.43 0 1 0 0.87 0a0.43 0.43 0 1 0 -0.87 0M270.8 163.2a0.35 0.35 0 1 0 0.71 0a0.35 0.35 0 1 0 -0.71 0M251.2 158.7a0.52 0.52 0 1 0 1.05 0a0.52 0.52 0 1 0 -1.05 0M233.0 165.8a0.39 0.39 0 1 0 0.78 0a0.39 0.39 0 1 0 -0.78 0M284.4 158.4a0.49 0.49 0 1 0 0.97 0a0.49 0.49 0 1 0 -0.97 0M240.4 139.9a0.45 0.45 0 1 0 0.89 0a0.45 0.45 0 1 0 -0.89 0M248.1 158.0a0.38 0.38 0 1 0 0.76 0a0.38 0.38 0 1 0 -0.76 0M273.6 150.8a0.36 0.36 0 1 0 0.73 0a0.36 0.36 0 1 0 -0.73 0M264.5 160.4a0.41 0.41 0 1 0 0.83 0a0.41 0.41 0 1 0 -0.83 0M243.7 158.1a0.53 0.53 0 1 0 1.05 0a0.53 0.53 0 1 0 -1.05 0M254.7 153.4a0.51 0.51 0 1 0 1.03 0a0.51 0.51 0 1 0 -1.03 0M252.4 153.3a0.54 0.54 0 1 0 1.09 0a0.54 0.54 0 1 0 -1.09 0M246.2 158.3a0.63 0.63 0 1 0 1.27 0a0.63 0.63 0 1 0 -1.27 0M232.3 159.8a0.40 0.40 0 1 0 0.80 0a0.40 0.40 0 1 0 -0.80 0M229.8 140.9a0.61 0.61 0 1 0 1.22 0a0.61 0.61 0 1 0 -1.22 0M260.1 136.6a0.60 0.60 0 1 0 1.21 0a0.60 0.60 0 1 0 -1.21 0M248.7 141.4a0.54 0.54 0 1 0 1.09 0a0.54 0.54 0 1 0 -1.09 0M265.9 140.5a0.49 0.49 0 1 0 0.98 0a0.49 0.49 0 1 0 -0.98 0M273.5 146.8a0.62 0.62 0 1 0 1.23 0a0.62 0.62 0 1 0 -1.23 0M259.8 165.2a0.38 0.38 0 1 0 0.75 0a0.38 0.38 0 1 0 -0.75 0M244.4 140.8a0.36 0.36 0 1 0 0.71 0a0.36 0.36 0 1 0 -0.71 0M273.5 134.6a0.36 0.36 0 1 0 0.73 0a0.36 0.36 0 1 0 -0.73 0M268.5 143.3a0.47 0.47 0 1 0 0.94 0a0.47 0.47 0 1 0 -0.94 0M251.2 143.3a0.48 0.48 0 1 0 0.95 0a0.48 0.48 0 1 0 -0.95 0M278.4 152.7a0.40 0.40 0 1 0 0.80 0a0.40 0.40 0 1 0 -0.80 0M276.5 156.5a0.55 0.55 0 1 0 1.11 0a0.55 0.55 0 1 0 -1.11 0M238.4 160.6a0.41 0.41 0 1 0 0.81 0a0.41 0.41 0 1 0 -0.81 0M258.9 142.8a0.39 0.39 0 1 0 0.78 0a0.39 0.39 0 1 0 -0.78 0M260.0 139.8a0.32 0.32 0 1 0 0.64 0a0.32 0.32 0 1 0 -0.64 0M228.0 155.3a0.33 0.33 0 1 0 0.65 0a0.33 0.33 0 1 0 -0.65 0M238.5 138.7a0.50 0.50 0 1 0 1.00 0a0.50 0.50 0 1 0 -1.00 0M253.6 149.3a0.51 0.51 0 1 0 1.02 0a0.51 0.51 0 1 0 -1.02 0M246.8 154.6a0.31 0.31 0 1 0 0.62 0a0.31 0.31 0 1 0 -0.62 0M251.1 146.0a0.53 0.53 0 1 0 1.07 0a0.53 0.53 0 1 0 -1.07 0M269.8 140.0a0.63 0.63 0 1 0 1.26 0a0.63 0.63 0 1 0 -1.26 0M252.0 144.7a0.44 0.44 0 1 0 0.88 0a0.44 0.44 0 1 0 -0.88 0M251.6 136.6a0.40 0.40 0 1 0 0.81 0a0.40 0.40 0 1 0 -0.81 0M259.1 158.2a0.55 0.55 0 1 0 1.10 0a0.55 0.55 0 1 0 -1.10 0M281.0 147.7a0.63 0.63 0 1 0 1.27 0a0.63 0.63 0 1 0 -1.27 0M284.3 157.7a0.52 0.52 0 1 0 1.04 0a0.52 0.52 0 1 0 -1.04 0M247.2 149.9a0.64 0.64 0 1 0 1.28 0a0.64 0.64 0 1 0 -1.28 0M281.3 146.8a0.54 0.54 0 1 0 1.08 0a0.54 0.54 0 1 0 -1.08 0M239.0 137.3a0.38 0.38 0 1 0 0.75 0a0.38 0.38 0 1 0 -0.75 0M272.3 159.7a0.58 0.58 0 1 0 1.16 0a0.58 0.58 0 1 0 -1.16 0M245.4 155.8a0.31 0.31 0 1 0 0.62 0a0.31 0.31 0 1 0 -0.62 0M274.6 149.4a0.52 0.52 0 1 0 1.05 0a0.52 0.52 0 1 0 -1.05 0M257.0 152.6a0.30 0.30 0 1 0 0.61 0a0.30 0.30 0 1 0 -0.61 0M231.7 153.2a0.49 0.49 0 1 0 0.97 0a0.49 0.49 0 1 0 -0.97 0M283.3 139.3a0.49 0.49 0 1 0 0.98 0a0.49 0.49 0 1 0 -0.98 0M249.9 158.4a0.51 0.51 0 1 0 1.02 0a0.51 0.51 0 1 0 -1.02 0M269.4 156.3a0.64 0.64 0 1 0 1.29 0a0.64 0.64 0 1 0 -1.29 0M231.6 149.6a0.62 0.62 0 1 0 1.24 0a0.62 0.62 0 1 0 -1.24 0M275.7 143.9a0.51 0.51 0 1 0 1.01 0a0.51 0.51 0 1 0 -1.01 0M253.7 150.3a0.42 0.42 0 1 0 0.84 0a0.42 0.42 0 1 0 -0.84 0M259.8 143.7a0.52 0.52 0 1 0 1.04 0a0.52 0.52 0 1 0 -1.04 0M236.1 165.7a0.32 0.32 0 1 0 0.63 0a0.32 0.32 0 1 0 -0.63 0M260.8 164.7a0.55 0.55 0 1 0 1.10 0a0.55 0.55 0 1 0 -1.10 0M259.2 159.0a0.47 0.47 0 1 0 0.95 0a0.47 0.47 0 1 0 -0.95 0M254.0 140.5a0.48 0.48 0 1 0 0.97 0a0.48 0.48 0 1 0 -0.97 0M281.2 135.3a0.62 0.62 0 1 0 1.23 0a0.62 0.62 0 1 0 -1.23 0M283.2 151.5a0.64 0.64 0 1 0 1.28 0a0.64 0.64 0 1 0 -1.28 0M228.1 150.5a0.34 0.34 0 1 0 0.67 0a0.34 0.34 0 1 0 -0.67 0M275.3 143.8a0.44 0.44 0 1 0 0.88 0a0.44 0.44 0 1 0 -0.88 0M246.9 154.1a0.49 0.49 0 1 0 0.98 0a0.49 0.49 0 1 0 -0.98 0M247.6 166.7a0.54 0.54 0 1 0 1.08 0a0.54 0.54 0 1 0 -1.08 0M280.5 147.9a0.56 0.56 0 1 0 1.12 0a0.56 0.56 0 1 0 -1.12 0M270.5 158.9a0.46 0.46 0 1 0 0.92 0a0.46 0.46 0 1 0 -0.92 0M282.8 160.5a0.50 0.50 0 1 0 1.01 0a0.50 0.50 0 1 0 -1.01 0M253.4 166.4a0.38 0.38 0 1 0 0.76 0a0.38 0.38 0 1 0 -0.76 0M250.7 154.9a0.44 0.44 0 1 0 0.88 0a0.44 0.44 0 1 0 -0.88 0M277.8 148.4a0.52 0.52 0 1 0 1.04 0a0.52 0.52 0 1 0 -1.04 0M280.7 154.8a0.43 0.43 0 1 0 0.85 0a0.43 0.43 0 1 0 -0.85 0M243.3 134.3a0.46 0.46 0 1 0 0.91 0a0.46 0.46 0 1 0 -0.91 0M239.4 147.9a0.48 0.48 0 1 0 0.97 0a0.48 0.48 0 1 0 -0.97 0M267.3 160.7a0.32 0.32 0 1 0 0.64 0a0.32 0.32 0 1 0 -0.64 0M272.6 156.0a0.54 0.54 0 1 0 1.09 0a0.54 0.54 0 1 0 -1.09 0M265.1 141.9a0.55 0.55 0 1 0 1.09 0a0.55 0.55 0 1 0 -1.09 0M277.5 144.0a0.58 0.58 0 1 0 1.17 0a0.58 0.58 0 1 0 -1.17 0M256.4 147.0a0.32 0.32 0 1 0 0.64 0a0.32 0.32 0 1 0 -0.64 0M268.4 149.6a0.31 0.31 0 1 0 0.62 0a0.31 0.31 0 1 0 -0.62 0M234.0 135.6a0.65 0.65 0 1 0 1.29 0a0.65 0.65 0 1 0 -1.29 0M282.3 141.9a0.50 0.50 0 1 0 1.00 0a0.50 0.50 0 1 0 -1.00 0M262.8 166.8a0.44 0.44 0 1 0 0.88 0a0.44 0.44 0 1 0 -0.88 0M244.9 162.0a0.46 0.46 0 1 0 0.92 0a0.46 0.46 0 1 0 -0.92 0M246.5 162.1a0.53 0.53 0 1 0 1.07 0a0.53 0.53 0 1 0 -1.07 0M283.4 160.2a0.47 0.47 0 1 0 0.93 0a0.47 0.47 0 1 0 -0.93 0M271.3 161.4a0.33 0.33 0 1 0 0.65 0a0.33 0.33 0 1 0 -0.65 0M280.8 159.1a0.64 0.64 0 1 0 1.28 0a0.64 0.64 0 1 0 -1.28 0M266.6 147.1a0.43 0.43 0 1 0 0.85 0a0.43 0.43 0 1 0 -0.85 0M236.7 147.3a0.36 0.36 0 1 0 0.72 0a0.36 0.36 0 1 0 -0.72 0M260.2 151.9a0.53 0.53 0 1 0 1.06 0a0.53 0.53 0 1 0 -1.06 0M263.1 134.6a0.59 0.59 0 1 0 1.17 0a0.59 0.59 0 1 0 -1.17 0M247.0 154.2a0.57 0.57 0 1 0 1.15 0a0.57 0.57 0 1 0 -1.15 0M242.7 161.3a0.49 0.49 0 1 0 0.99 0a0.49 0.49 0 1 0 -0.99 0M272.4 150.0a0.39 0.39 0 1 0 0.79 0a0.39 0.39 0 1 0 -0.79 0M281.8 163.4a0.59 0.59 0 1 0 1.19 0a0.59 0.59 0 1 0 -1.19 0M248.3 157.2a0.53 0.53 0 1 0 1.06 0a0.53 0.53 0 1 0 -1.06 0M260.1 146.0a0.41 0.41 0 1 0 0.82 0a0.41 0.41 0 1 0 -0.82 0M243.2 161.3a0.48 0.48 0 1 0 0.96 0a0.48 0.48 0 1 0 -0.96 0M247.1 161.7a0.47 0.47 0 1 0 0.93 0a0.47 0.47 0 1 0 -0.93 0M256.3 164.4a0.33 0.33 0 1 0 0.67 0a0.33 0.33 0 1 0 -0.67 0M238.3 141.6a0.60 0.60 0 1 0 1.21 0a0.60 0.60 0 1 0 -1.21 0M245.1 151.8a0.56 0.56 0 1 0 1.12 0a0.56 0.56 0 1 0 -1.12 0M277.8 140.2a0.53 0.53 0 1 0 1.07 0a0.53 0.53 0 1 0 -1.07 0M243.8 160.0a0.41 0.41 0 1 0 0.82 0a0.41 0.41 0 1 0 -0.82 0M254.8 164.8a0.57 0.57 0 1 0 1.14 0a0.57 0.57 0 1 0 -1.14 0M258.2 142.2a0.31 0.31 0 1 0 0.62 0a0.31 0.31 0 1 0 -0.62 0M230.9 134.5a0.43 0.43 0 1 0 0.86 0a0.43 0.43 0 1 0 -0.86 0M258.5 142.8a0.37 0.37 0 1 0 0.74 0a0.37 0.37 0 1 0 -0.74 0" fill="#fff" fill-opacity="0.85"/>
</g>
</g>
<clipPath id="c13"><rect x="317.2" y="111.7" width="95.6" height="83.3"/></clipPath>
<g clip-path="url(#c13)">
<g filter="url(#soft)">
<rect x="315.2" y="109.7" width="99.6" height="87.3" fill="rgb(110,110,110)"/>
<polygon points="315.33,109.83 360.1,109.83 354.51,121.03 315.33,122.9" fill="rgb(210,210,210)" fill-opacity="0.8" filter="url(#b3)"/>
<polyline points="369.43,109.83 417.93,128.5" fill="none" stroke="rgb(215,215,215)" stroke-opacity="0.75" stroke-width="6.53" stroke-linejoin="round" stroke-linecap="round" filter="url(#b2)"/>
<polygon points="315.33,147.17 328.39,147.17 354.51,162.1 376.89,171.43 378.76,197.57 315.33,197.57" fill="rgb(215,215,215)" fill-opacity="0.85" filter="url(#b3)"/>
<polyline points="384.35,137.83 417.93,156.5" fill="none" stroke="rgb(205,205,205)" stroke-opacity="0.65" stroke-width="4.66" stroke-linejoin="round" stroke-linecap="round" filter="url(#b2)"/>
<polyline points="373.16,177.03 417.93,191.97" fill="none" stroke="rgb(205,205,205)" stroke-opacity="0.6" stroke-width="4.66" stroke-linejoin="round" stroke-linecap="round" filter="url(#b3)"/>
<filter id="c13f0" x="0" y="0" width="100%" height="100%" color-interpolation-filters="sRGB"><feTurbulence type="fractalNoise" baseFrequency="0.3 0.05" numOctaves="2" seed="91"/><feColorMatrix type="matrix" values="1.6 0 0 0 -0.3  1.6 0 0 0 -0.3  1.6 0 0 0 -0.3  0 0 0 0 1"/></filter>
<g transform="rotate(-60 365 153.35)" opacity="0.6" style="mix-blend-mode:hard-light"><rect x="290" y="78.35" width="150" height="150" filter="url(#c13f0)"/></g>
<filter id="c13f1" x="0" y="0" width="100%" height="100%" color-interpolation-filters="sRGB"><feTurbulence type="fractalNoise" baseFrequency="0.4 0.4" numOctaves="2" seed="94"/><feColorMatrix type="matrix" values="1.5 0 0 0 -0.25  1.5 0 0 0 -0.25  1.5 0 0 0 -0.25  0 0 0 0 1"/></filter>
<g transform="rotate(0 365 153.35)" opacity="0.5" style="mix-blend-mode:hard-light"><rect x="290" y="78.35" width="150" height="150" filter="url(#c13f1)"/></g>
<path d="M383.0 136.0L387.9 137.3M401.8 119.1L411.2 126.2M366.1 192.7L372.5 198.6M311.9 102.2L322.0 107.3M417.5 108.7L423.0 114.1M388.5 104.6L397.8 109.3M392.1 146.9L401.1 152.2M404.3 100.8L410.0 103.0M364.8 175.3L375.0 176.8M389.9 178.4L393.4 181.0M398.1 161.6L402.8 163.4M367.5 107.6L370.4 108.7M372.3 202.1L382.7 207.8" stroke="#fff" stroke-opacity="0.55" stroke-width="1.45" stroke-linecap="round" fill="none"/>
<path d="M386.8 116.5L396.0 121.9M317.7 147.2L327.0 155.7" stroke="#000" stroke-opacity="0.68" stroke-width="1.45" stroke-linecap="round" fill="none"/>
<path d="M410.1 160.9L417.9 164.5M347.0 182.7L353.5 185.7M357.2 129.9L362.9 133.0M407.7 195.2L413.0 199.1M343.2 111.3L347.7 116.3M312.4 169.1L317.4 169.9" stroke="#000" stroke-opacity="0.55" stroke-width="1.82" stroke-linecap="round" fill="none"/>
<path d="M325.2 121.7L336.6 128.0M337.0 171.2L339.8 173.3M351.2 187.3L361.0 191.1M310.3 137.4L323.7 139.3M315.9 105.7L321.6 108.6M330.6 122.3L339.6 125.7M308.0 190.4L314.0 195.6M341.2 188.1L350.4 190.9" stroke="#000" stroke-opacity="0.68" stroke-width="1.82" stroke-linecap="round" fill="none"/>
<path d="M387.5 101.7L390.8 102.8M412.1 168.1L419.8 173.8M395.0 194.4L403.3 200.0M325.3 130.8L331.2 135.6M315.9 123.6L326.8 128.6M377.7 166.5L386.0 170.6M316.6 164.8L321.2 167.3M313.1 130.2L324.5 137.5M375.8 123.0L378.6 125.3M364.1 135.6L373.2 141.3M414.6 158.2L423.7 165.7M381.4 198.3L388.7 199.3" stroke="#fff" stroke-opacity="0.68" stroke-width="1.82" stroke-linecap="round" fill="none"/>
<path d="M354.9 194.5L357.7 196.1M359.4 108.0L369.3 115.9M331.3 115.5L334.9 116.3M368.5 145.2L377.4 149.1M322.3 190.5L335.1 195.2M338.1 105.3L345.7 110.5M372.0 144.6L376.3 147.0M349.0 104.6L360.8 109.0M322.7 145.6L332.1 151.9" stroke="#fff" stroke-opacity="0.55" stroke-width="1.08" stroke-linecap="round" fill="none"/>
<path d="M407.8 113.3L412.9 117.6M386.6 201.1L391.5 203.4M399.2 153.2L406.0 153.9M411.3 176.6L423.5 181.5" stroke="#000" stroke-opacity="0.55" stroke-width="1.45" stroke-linecap="round" fill="none"/>
<path d="M351.5 137.8L360.0 147.8M335.9 184.8L340.9 187.0M330.1 125.9L338.9 130.5M368.3 98.7L378.0 106.7M380.1 108.0L389.0 115.3M349.0 199.9L353.1 202.0M317.8 132.0L325.1 135.5M386.8 154.0L391.9 156.5M347.6 148.4L350.7 150.8M379.2 115.9L384.7 118.6M361.9 108.8L371.0 113.8M420.1 146.3L424.8 148.6M312.1 142.3L315.2 145.0M416.2 173.3L428.7 178.5M405.7 134.6L415.6 140.0M410.7 107.9L414.7 111.5M398.8 158.8L405.4 162.5M366.3 100.3L374.3 108.4M361.7 151.7L374.3 157.8M358.1 147.1L364.4 148.2M320.8 191.8L329.2 195.2" stroke="#fff" stroke-opacity="0.42" stroke-width="1.45" stroke-linecap="round" fill="none"/>
<path d="M315.2 171.1L327.3 178.1M326.6 199.1L332.5 202.1" stroke="#000" stroke-opacity="0.42" stroke-width="1.45" stroke-linecap="round" fill="none"/>
<path d="M368.5 171.0L376.5 174.5M391.0 138.3L400.0 144.2M346.9 193.2L351.8 195.4M361.1 134.7L370.9 142.6M401.6 127.9L405.7 130.5M393.1 173.5L397.3 176.4M405.2 169.0L411.6 171.9M354.0 158.7L360.1 162.9M323.5 139.7L333.8 145.3" stroke="#000" stroke-opacity="0.42" stroke-width="1.82" stroke-linecap="round" fill="none"/>
<path d="M349.7 203.2L357.7 203.9M317.8 183.4L320.5 185.2M303.2 168.3L314.0 171.9M397.9 146.5L404.9 150.3M346.3 181.0L351.0 184.8M416.2 188.3L423.8 191.0M304.0 200.1L311.7 204.4M379.9 190.4L385.3 193.4M359.4 140.5L371.3 144.2" stroke="#fff" stroke-opacity="0.42" stroke-width="1.82" stroke-linecap="round" fill="none"/>
<path d="M396.0 184.4L398.9 185.8M402.5 127.4L406.9 129.5M360.6 198.6L365.2 200.3M412.1 122.0L414.5 123.8M400.6 126.1L403.9 128.0M406.9 134.5L414.9 141.0M387.6 106.6L395.5 110.0M392.5 188.0L396.2 189.3M311.1 201.0L321.8 201.8M381.6 131.3L393.7 138.0M408.2 135.1L415.3 137.0M375.5 140.9L383.9 145.7M352.5 137.1L361.4 142.7M354.1 101.8L361.1 106.6M417.4 180.3L422.5 182.9M313.8 194.1L324.7 197.1M306.6 186.7L316.1 194.4M385.6 190.6L391.6 194.3M302.6 131.0L313.7 135.6" stroke="#fff" stroke-opacity="0.68" stroke-width="1.08" stroke-linecap="round" fill="none"/>
<path d="M393.7 152.9L396.6 155.8M404.1 132.8L410.8 137.5M377.7 133.8L384.3 136.4M326.5 167.3L333.7 170.9" stroke="#000" stroke-opacity="0.55" stroke-width="1.08" stroke-linecap="round" fill="none"/>
<path d="M313.0 122.3L315.5 124.2M318.7 102.1L326.3 109.3M400.7 203.6L404.3 205.5M362.2 150.6L370.6 155.7M418.2 177.2L427.0 178.7M335.0 191.3L339.1 194.6M378.7 141.4L388.0 147.3M350.9 151.9L359.0 154.2M374.9 114.9L377.8 116.2M401.1 120.0L406.3 124.5M398.6 166.3L402.1 170.1M376.5 157.6L389.5 162.5M400.7 112.7L405.9 115.3M376.0 195.7L383.4 203.9M410.3 197.2L418.3 204.0M325.1 119.4L328.9 123.5M389.9 192.2L395.4 193.7M305.2 159.5L312.6 161.0M386.7 170.4L389.7 172.6M315.4 147.5L320.5 150.7M306.7 124.1L314.8 128.6" stroke="#fff" stroke-opacity="0.55" stroke-width="1.82" stroke-linecap="round" fill="none"/>
<path d="M359.9 129.4L365.7 131.4M413.2 200.5L419.6 204.0M354.6 102.5L365.5 106.3M332.1 166.4L335.9 170.2M361.3 197.4L367.5 199.7M396.9 191.8L405.5 198.5" stroke="#000" stroke-opacity="0.68" stroke-width="1.08" stroke-linecap="round" fill="none"/>
<path d="M334.0 148.2L336.8 150.0M305.1 162.5L317.6 164.3M341.1 179.2L350.5 186.0M353.4 132.4L359.1 134.8M319.6 178.4L331.2 184.0M409.0 120.4L413.7 122.2M373.1 169.3L380.7 173.7M394.2 136.2L399.0 136.9M377.8 125.9L381.1 127.6M362.5 109.1L371.1 112.5" stroke="#fff" stroke-opacity="0.68" stroke-width="1.45" stroke-linecap="round" fill="none"/>
<path d="M345.8 124.4L349.2 126.8M402.1 195.4L415.0 198.1M404.5 197.5L414.3 202.8" stroke="#000" stroke-opacity="0.42" stroke-width="1.08" stroke-linecap="round" fill="none"/>
<path d="M314.2 167.6L317.5 169.1M404.7 192.4L413.4 195.4M326.7 184.7L334.0 190.7M352.6 144.9L356.2 146.6M402.0 129.2L412.7 133.5M378.0 146.7L390.1 153.1M374.0 124.5L385.1 131.9M347.9 108.8L350.9 110.8M348.5 120.2L352.4 121.8M378.7 186.6L383.9 188.2M371.8 148.9L381.7 153.1M371.4 145.9L376.1 149.3" stroke="#fff" stroke-opacity="0.42" stroke-width="1.08" stroke-linecap="round" fill="none"/>
<polygon points="315.33,122.9 354.51,121.97 378.76,132.23 378.76,149.03 354.51,149.03 315.33,144.37" fill="rgb(92,92,92)" fill-opacity="0.7" filter="url(#b3)"/>
<polyline points="360.1,109.83 395.55,132.23 417.93,144.37" fill="none" stroke="rgb(25,25,25)" stroke-opacity="0.8" stroke-width="5.6" stroke-linejoin="round" stroke-linecap="round" filter="url(#b2)"/>
<polyline points="380.62,147.17 417.93,171.43" fill="none" stroke="rgb(30,30,30)" stroke-opacity="0.7" stroke-width="5.22" stroke-linejoin="round" stroke-linecap="round" filter="url(#b2)"/>
<polyline points="324.66,147.17 354.51,164.9 373.16,170.5 417.93,184.5" fill="none" stroke="rgb(20,20,20)" stroke-opacity="0.8" stroke-width="4.1" stroke-linejoin="round" stroke-linecap="round" filter="url(#b2)"/>
<polyline points="335.85,163.97 350.78,175.17 371.3,197.57" fill="none" stroke="rgb(15,15,15)" stroke-opacity="0.8" stroke-width="7.09" stroke-linejoin="round" stroke-linecap="round" filter="url(#b2)"/>
<polyline points="315.33,178.9 332.12,197.57" fill="none" stroke="rgb(25,25,25)" stroke-opacity="0.7" stroke-width="5.22" stroke-linejoin="round" stroke-linecap="round" filter="url(#b2)"/>
</g>
<polygon points="328.3,142 333.5,139.1 339.3,139.1 345.1,139.7 350.8,140.8 356.6,143.7 362.4,147.1 368.1,150 372.7,152.9 376.2,157.5 376.8,161.6 375.1,164.4 371.6,166.8 365.8,167.9 360.1,166.8 354.3,163.9 348.5,160.4 342.8,156.4 337,151.8 332.4,148.3 328.9,144.8" fill="#f5283a" filter="url(#b05)" stroke-linejoin="round"/>
<polygon points="333.5,149.5 338,149 341.6,153 344,156 340,156.5 335.5,152.5" fill="#ffb020" fill-opacity="0.8" filter="url(#b05)" stroke-linejoin="round"/>
<polygon points="345.1,150.6 350.8,148.3 356.6,150 362.4,153.5 367,157.5 370.4,159.8 368.1,163.3 360.1,163.9 353.1,162.1 347.4,159.3 345.1,156.4" fill="#ffff20" filter="url(#b05)" stroke-linejoin="round"/>
<polygon points="353.1,158.7 360.1,158.7 368.1,161 372.7,163.9 370.4,166.8 362.4,166.8 355.4,164.4" fill="#ffffff" fill-opacity="0.9" filter="url(#b05)" stroke-linejoin="round"/>
<polygon points="356.6,164.4 372.7,165.6 371.6,167.9 364.7,168.5 357.8,166.2" fill="#3040ff" filter="url(#b05)" stroke-linejoin="round"/>
<clipPath id="c13s"><polygon points="328.3,142 333.5,139.1 339.3,139.1 345.1,139.7 350.8,140.8 356.6,143.7 362.4,147.1 368.1,150 372.7,152.9 376.2,157.5 376.8,161.6 375.1,164.4 371.6,166.8 365.8,167.9 360.1,166.8 354.3,163.9 348.5,160.4 342.8,156.4 337,151.8 332.4,148.3 328.9,144.8"/></clipPath>
<g clip-path="url(#c13s)">
<path d="M355.7 151.4a0.31 0.31 0 1 0 0.61 0a0.31 0.31 0 1 0 -0.61 0M337.1 165.4a0.43 0.43 0 1 0 0.86 0a0.43 0.43 0 1 0 -0.86 0M371.6 148.1a0.46 0.46 0 1 0 0.92 0a0.46 0.46 0 1 0 -0.92 0M329.0 147.7a0.53 0.53 0 1 0 1.06 0a0.53 0.53 0 1 0 -1.06 0M361.0 143.2a0.36 0.36 0 1 0 0.72 0a0.36 0.36 0 1 0 -0.72 0M351.8 164.9a0.48 0.48 0 1 0 0.97 0a0.48 0.48 0 1 0 -0.97 0M372.1 154.1a0.47 0.47 0 1 0 0.95 0a0.47 0.47 0 1 0 -0.95 0M361.7 151.3a0.48 0.48 0 1 0 0.96 0a0.48 0.48 0 1 0 -0.96 0M361.2 157.6a0.50 0.50 0 1 0 1.00 0a0.50 0.50 0 1 0 -1.00 0M348.9 163.9a0.40 0.40 0 1 0 0.80 0a0.40 0.40 0 1 0 -0.80 0M331.8 156.3a0.57 0.57 0 1 0 1.14 0a0.57 0.57 0 1 0 -1.14 0M348.3 167.6a0.65 0.65 0 1 0 1.30 0a0.65 0.65 0 1 0 -1.30 0M370.9 152.4a0.56 0.56 0 1 0 1.13 0a0.56 0.56 0 1 0 -1.13 0M370.5 164.3a0.37 0.37 0 1 0 0.74 0a0.37 0.37 0 1 0 -0.74 0M341.4 159.2a0.47 0.47 0 1 0 0.95 0a0.47 0.47 0 1 0 -0.95 0M372.1 150.7a0.42 0.42 0 1 0 0.84 0a0.42 0.42 0 1 0 -0.84 0M356.2 141.4a0.55 0.55 0 1 0 1.10 0a0.55 0.55 0 1 0 -1.10 0M363.5 147.9a0.41 0.41 0 1 0 0.83 0a0.41 0.41 0 1 0 -0.83 0M343.4 160.5a0.43 0.43 0 1 0 0.86 0a0.43 0.43 0 1 0 -0.86 0M331.1 151.2a0.50 0.50 0 1 0 1.00 0a0.50 0.50 0 1 0 -1.00 0M349.2 167.3a0.31 0.31 0 1 0 0.61 0a0.31 0.31 0 1 0 -0.61 0M337.5 163.6a0.37 0.37 0 1 0 0.73 0a0.37 0.37 0 1 0 -0.73 0M369.6 150.5a0.52 0.52 0 1 0 1.05 0a0.52 0.52 0 1 0 -1.05 0M328.9 165.7a0.58 0.58 0 1 0 1.16 0a0.58 0.58 0 1 0 -1.16 0M348.3 162.9a0.48 0.48 0 1 0 0.96 0a0.48 0.48 0 1 0 -0.96 0M346.7 141.8a0.35 0.35 0 1 0 0.71 0a0.35 0.35 0 1 0 -0.71 0M373.3 144.4a0.37 0.37 0 1 0 0.73 0a0.37 0.37 0 1 0 -0.73 0M335.9 164.5a0.55 0.55 0 1 0 1.09 0a0.55 0.55 0 1 0 -1.09 0M335.1 157.6a0.44 0.44 0 1 0 0.87 0a0.44 0.44 0 1 0 -0.87 0M348.3 157.5a0.40 0.40 0 1 0 0.80 0a0.40 0.40 0 1 0 -0.80 0M328.2 143.6a0.44 0.44 0 1 0 0.87 0a0.44 0.44 0 1 0 -0.87 0M375.0 144.5a0.49 0.49 0 1 0 0.97 0a0.49 0.49 0 1 0 -0.97 0M339.6 156.8a0.51 0.51 0 1 0 1.02 0a0.51 0.51 0 1 0 -1.02 0M353.7 147.3a0.58 0.58 0 1 0 1.16 0a0.58 0.58 0 1 0 -1.16 0M367.1 155.7a0.63 0.63 0 1 0 1.25 0a0.63 0.63 0 1 0 -1.25 0M358.7 156.7a0.37 0.37 0 1 0 0.75 0a0.37 0.37 0 1 0 -0.75 0M328.1 143.3a0.59 0.59 0 1 0 1.19 0a0.59 0.59 0 1 0 -1.19 0M334.9 139.8a0.53 0.53 0 1 0 1.07 0a0.53 0.53 0 1 0 -1.07 0M358.3 139.8a0.35 0.35 0 1 0 0.71 0a0.35 0.35 0 1 0 -0.71 0M344.9 166.9a0.43 0.43 0 1 0 0.87 0a0.43 0.43 0 1 0 -0.87 0M371.0 166.6a0.63 0.63 0 1 0 1.26 0a0.63 0.63 0 1 0 -1.26 0M333.9 152.3a0.42 0.42 0 1 0 0.83 0a0.42 0.42 0 1 0 -0.83 0M353.3 140.4a0.57 0.57 0 1 0 1.14 0a0.57 0.57 0 1 0 -1.14 0M366.2 165.5a0.31 0.31 0 1 0 0.63 0a0.31 0.31 0 1 0 -0.63 0M359.8 163.2a0.55 0.55 0 1 0 1.11 0a0.55 0.55 0 1 0 -1.11 0M352.8 153.2a0.44 0.44 0 1 0 0.87 0a0.44 0.44 0 1 0 -0.87 0M374.5 167.6a0.56 0.56 0 1 0 1.11 0a0.56 0.56 0 1 0 -1.11 0M335.2 156.6a0.35 0.35 0 1 0 0.69 0a0.35 0.35 0 1 0 -0.69 0M337.8 148.7a0.39 0.39 0 1 0 0.78 0a0.39 0.39 0 1 0 -0.78 0M360.4 153.5a0.61 0.61 0 1 0 1.21 0a0.61 0.61 0 1 0 -1.21 0M353.4 166.7a0.59 0.59 0 1 0 1.18 0a0.59 0.59 0 1 0 -1.18 0M350.4 147.8a0.49 0.49 0 1 0 0.99 0a0.49 0.49 0 1 0 -0.99 0M349.5 161.0a0.49 0.49 0 1 0 0.98 0a0.49 0.49 0 1 0 -0.98 0M338.4 156.5a0.57 0.57 0 1 0 1.15 0a0.57 0.57 0 1 0 -1.15 0M344.8 151.2a0.42 0.42 0 1 0 0.85 0a0.42 0.42 0 1 0 -0.85 0M360.0 145.9a0.55 0.55 0 1 0 1.10 0a0.55 0.55 0 1 0 -1.10 0M354.6 161.6a0.42 0.42 0 1 0 0.83 0a0.42 0.42 0 1 0 -0.83 0M363.0 149.4a0.45 0.45 0 1 0 0.91 0a0.45 0.45 0 1 0 -0.91 0M343.3 144.8a0.50 0.50 0 1 0 1.01 0a0.50 0.50 0 1 0 -1.01 0M363.1 140.2a0.36 0.36 0 1 0 0.72 0a0.36 0.36 0 1 0 -0.72 0M366.1 144.9a0.60 0.60 0 1 0 1.19 0a0.60 0.60 0 1 0 -1.19 0M351.5 164.4a0.59 0.59 0 1 0 1.19 0a0.59 0.59 0 1 0 -1.19 0M340.0 141.4a0.62 0.62 0 1 0 1.24 0a0.62 0.62 0 1 0 -1.24 0M355.1 158.9a0.38 0.38 0 1 0 0.76 0a0.38 0.38 0 1 0 -0.76 0M347.7 145.7a0.60 0.60 0 1 0 1.20 0a0.60 0.60 0 1 0 -1.20 0M367.0 162.3a0.60 0.60 0 1 0 1.20 0a0.60 0.60 0 1 0 -1.20 0M330.0 158.9a0.58 0.58 0 1 0 1.16 0a0.58 0.58 0 1 0 -1.16 0M336.7 159.9a0.54 0.54 0 1 0 1.08 0a0.54 0.54 0 1 0 -1.08 0M351.7 165.7a0.36 0.36 0 1 0 0.72 0a0.36 0.36 0 1 0 -0.72 0M332.9 156.5a0.33 0.33 0 1 0 0.66 0a0.33 0.33 0 1 0 -0.66 0M367.5 149.2a0.52 0.52 0 1 0 1.05 0a0.52 0.52 0 1 0 -1.05 0M369.2 162.6a0.33 0.33 0 1 0 0.65 0a0.33 0.33 0 1 0 -0.65 0M328.3 161.3a0.34 0.34 0 1 0 0.68 0a0.34 0.34 0 1 0 -0.68 0M367.7 165.0a0.64 0.64 0 1 0 1.28 0a0.64 0.64 0 1 0 -1.28 0M329.2 164.8a0.44 0.44 0 1 0 0.89 0a0.44 0.44 0 1 0 -0.89 0M353.7 160.5a0.54 0.54 0 1 0 1.08 0a0.54 0.54 0 1 0 -1.08 0M341.9 142.9a0.42 0.42 0 1 0 0.83 0a0.42 0.42 0 1 0 -0.83 0M360.5 140.5a0.36 0.36 0 1 0 0.72 0a0.36 0.36 0 1 0 -0.72 0M375.2 141.1a0.64 0.64 0 1 0 1.28 0a0.64 0.64 0 1 0 -1.28 0M339.7 161.7a0.38 0.38 0 1 0 0.77 0a0.38 0.38 0 1 0 -0.77 0M341.7 143.7a0.37 0.37 0 1 0 0.74 0a0.37 0.37 0 1 0 -0.74 0M371.7 156.2a0.34 0.34 0 1 0 0.69 0a0.34 0.34 0 1 0 -0.69 0M330.3 161.5a0.35 0.35 0 1 0 0.69 0a0.35 0.35 0 1 0 -0.69 0M356.3 143.4a0.65 0.65 0 1 0 1.29 0a0.65 0.65 0 1 0 -1.29 0M364.3 167.1a0.41 0.41 0 1 0 0.81 0a0.41 0.41 0 1 0 -0.81 0M368.9 143.8a0.57 0.57 0 1 0 1.14 0a0.57 0.57 0 1 0 -1.14 0M347.3 156.2a0.55 0.55 0 1 0 1.10 0a0.55 0.55 0 1 0 -1.10 0M369.0 140.0a0.59 0.59 0 1 0 1.18 0a0.59 0.59 0 1 0 -1.18 0M344.5 147.6a0.57 0.57 0 1 0 1.15 0a0.57 0.57 0 1 0 -1.15 0M329.4 166.5a0.49 0.49 0 1 0 0.99 0a0.49 0.49 0 1 0 -0.99 0M345.6 165.9a0.51 0.51 0 1 0 1.03 0a0.51 0.51 0 1 0 -1.03 0M331.0 163.2a0.42 0.42 0 1 0 0.85 0a0.42 0.42 0 1 0 -0.85 0M344.5 153.4a0.43 0.43 0 1 0 0.85 0a0.43 0.43 0 1 0 -0.85 0M343.2 157.5a0.30 0.30 0 1 0 0.61 0a0.30 0.30 0 1 0 -0.61 0M352.7 142.3a0.55 0.55 0 1 0 1.10 0a0.55 0.55 0 1 0 -1.10 0M370.7 150.0a0.55 0.55 0 1 0 1.10 0a0.55 0.55 0 1 0 -1.10 0M358.5 164.2a0.62 0.62 0 1 0 1.24 0a0.62 0.62 0 1 0 -1.24 0M369.2 160.0a0.34 0.34 0 1 0 0.69 0a0.34 0.34 0 1 0 -0.69 0" fill="#fff" fill-opacity="0.85"/>
<path d="M350.1 153.2a0.53 0.53 0 1 0 1.06 0a0.53 0.53 0 1 0 -1.06 0M335.5 154.1a0.33 0.33 0 1 0 0.65 0a0.33 0.33 0 1 0 -0.65 0M374.4 160.6a0.32 0.32 0 1 0 0.63 0a0.32 0.32 0 1 0 -0.63 0M369.7 156.5a0.45 0.45 0 1 0 0.89 0a0.45 0.45 0 1 0 -0.89 0M350.4 157.9a0.60 0.60 0 1 0 1.19 0a0.60 0.60 0 1 0 -1.19 0M335.3 145.5a0.38 0.38 0 1 0 0.77 0a0.38 0.38 0 1 0 -0.77 0M336.9 149.1a0.46 0.46 0 1 0 0.91 0a0.46 0.46 0 1 0 -0.91 0M349.3 155.9a0.62 0.62 0 1 0 1.24 0a0.62 0.62 0 1 0 -1.24 0M335.8 158.6a0.35 0.35 0 1 0 0.70 0a0.35 0.35 0 1 0 -0.70 0M354.1 149.1a0.47 0.47 0 1 0 0.94 0a0.47 0.47 0 1 0 -0.94 0M335.5 151.8a0.59 0.59 0 1 0 1.18 0a0.59 0.59 0 1 0 -1.18 0M332.0 142.2a0.59 0.59 0 1 0 1.18 0a0.59 0.59 0 1 0 -1.18 0M366.6 143.0a0.57 0.57 0 1 0 1.14 0a0.57 0.57 0 1 0 -1.14 0M372.6 149.0a0.61 0.61 0 1 0 1.23 0a0.61 0.61 0 1 0 -1.23 0M353.1 160.4a0.52 0.52 0 1 0 1.03 0a0.52 0.52 0 1 0 -1.03 0M374.8 167.5a0.36 0.36 0 1 0 0.71 0a0.36 0.36 0 1 0 -0.71 0M350.8 149.5a0.62 0.62 0 1 0 1.24 0a0.62 0.62 0 1 0 -1.24 0M368.0 160.0a0.53 0.53 0 1 0 1.06 0a0.53 0.53 0 1 0 -1.06 0M354.9 146.7a0.34 0.34 0 1 0 0.68 0a0.34 0.34 0 1 0 -0.68 0M365.8 139.2a0.51 0.51 0 1 0 1.03 0a0.51 0.51 0 1 0 -1.03 0M363.0 153.0a0.60 0.60 0 1 0 1.20 0a0.60 0.60 0 1 0 -1.20 0M357.3 146.0a0.33 0.33 0 1 0 0.67 0a0.33 0.33 0 1 0 -0.67 0M373.1 155.4a0.60 0.60 0 1 0 1.21 0a0.60 0.60 0 1 0 -1.21 0M365.2 142.4a0.65 0.65 0 1 0 1.30 0a0.65 0.65 0 1 0 -1.30 0M332.0 151.7a0.32 0.32 0 1 0 0.64 0a0.32 0.32 0 1 0 -0.64 0M372.8 151.9a0.51 0.51 0 1 0 1.03 0a0.51 0.51 0 1 0 -1.03 0M348.5 165.4a0.50 0.50 0 1 0 0.99 0a0.50 0.50 0 1 0 -0.99 0M355.0 163.2a0.63 0.63 0 1 0 1.26 0a0.63 0.63 0 1 0 -1.26 0M329.8 156.3a0.33 0.33 0 1 0 0.65 0a0.33 0.33 0 1 0 -0.65 0M364.3 152.6a0.61 0.61 0 1 0 1.22 0a0.61 0.61 0 1 0 -1.22 0M359.2 164.9a0.59 0.59 0 1 0 1.18 0a0.59 0.59 0 1 0 -1.18 0M338.9 153.8a0.33 0.33 0 1 0 0.67 0a0.33 0.33 0 1 0 -0.67 0M372.0 155.9a0.42 0.42 0 1 0 0.85 0a0.42 0.42 0 1 0 -0.85 0M346.3 139.4a0.56 0.56 0 1 0 1.12 0a0.56 0.56 0 1 0 -1.12 0M330.1 149.9a0.46 0.46 0 1 0 0.92 0a0.46 0.46 0 1 0 -0.92 0M336.6 150.6a0.47 0.47 0 1 0 0.94 0a0.47 0.47 0 1 0 -0.94 0M333.3 147.7a0.36 0.36 0 1 0 0.72 0a0.36 0.36 0 1 0 -0.72 0M360.3 143.5a0.51 0.51 0 1 0 1.01 0a0.51 0.51 0 1 0 -1.01 0M329.2 139.3a0.45 0.45 0 1 0 0.90 0a0.45 0.45 0 1 0 -0.90 0M331.9 141.0a0.58 0.58 0 1 0 1.17 0a0.58 0.58 0 1 0 -1.17 0M364.2 159.9a0.38 0.38 0 1 0 0.75 0a0.38 0.38 0 1 0 -0.75 0M349.8 158.3a0.43 0.43 0 1 0 0.87 0a0.43 0.43 0 1 0 -0.87 0M330.6 151.1a0.30 0.30 0 1 0 0.60 0a0.30 0.30 0 1 0 -0.60 0M330.0 159.7a0.36 0.36 0 1 0 0.72 0a0.36 0.36 0 1 0 -0.72 0M368.0 164.8a0.45 0.45 0 1 0 0.90 0a0.45 0.45 0 1 0 -0.90 0M333.1 150.8a0.59 0.59 0 1 0 1.17 0a0.59 0.59 0 1 0 -1.17 0M346.8 139.7a0.52 0.52 0 1 0 1.04 0a0.52 0.52 0 1 0 -1.04 0M362.4 159.2a0.50 0.50 0 1 0 0.99 0a0.50 0.50 0 1 0 -0.99 0M335.1 143.8a0.47 0.47 0 1 0 0.95 0a0.47 0.47 0 1 0 -0.95 0M358.5 162.6a0.36 0.36 0 1 0 0.73 0a0.36 0.36 0 1 0 -0.73 0M329.3 143.1a0.46 0.46 0 1 0 0.92 0a0.46 0.46 0 1 0 -0.92 0M373.1 161.5a0.42 0.42 0 1 0 0.85 0a0.42 0.42 0 1 0 -0.85 0M359.1 143.9a0.61 0.61 0 1 0 1.23 0a0.61 0.61 0 1 0 -1.23 0M361.4 165.1a0.41 0.41 0 1 0 0.82 0a0.41 0.41 0 1 0 -0.82 0M366.8 146.0a0.46 0.46 0 1 0 0.92 0a0.46 0.46 0 1 0 -0.92 0M330.5 160.0a0.39 0.39 0 1 0 0.77 0a0.39 0.39 0 1 0 -0.77 0M362.7 148.9a0.49 0.49 0 1 0 0.97 0a0.49 0.49 0 1 0 -0.97 0M334.3 146.0a0.32 0.32 0 1 0 0.65 0a0.32 0.32 0 1 0 -0.65 0M331.3 157.8a0.57 0.57 0 1 0 1.14 0a0.57 0.57 0 1 0 -1.14 0M358.7 164.7a0.55 0.55 0 1 0 1.09 0a0.55 0.55 0 1 0 -1.09 0M330.9 146.6a0.53 0.53 0 1 0 1.06 0a0.53 0.53 0 1 0 -1.06 0M361.9 155.2a0.52 0.52 0 1 0 1.04 0a0.52 0.52 0 1 0 -1.04 0M349.3 162.3a0.45 0.45 0 1 0 0.90 0a0.45 0.45 0 1 0 -0.90 0M344.9 152.4a0.41 0.41 0 1 0 0.82 0a0.41 0.41 0 1 0 -0.82 0M358.2 155.1a0.32 0.32 0 1 0 0.63 0a0.32 0.32 0 1 0 -0.63 0M352.1 158.1a0.46 0.46 0 1 0 0.93 0a0.46 0.46 0 1 0 -0.93 0M361.7 149.8a0.47 0.47 0 1 0 0.94 0a0.47 0.47 0 1 0 -0.94 0M371.1 155.9a0.63 0.63 0 1 0 1.25 0a0.63 0.63 0 1 0 -1.25 0M343.4 146.9a0.34 0.34 0 1 0 0.68 0a0.34 0.34 0 1 0 -0.68 0M343.0 148.9a0.37 0.37 0 1 0 0.73 0a0.37 0.37 0 1 0 -0.73 0M346.6 143.8a0.53 0.53 0 1 0 1.06 0a0.53 0.53 0 1 0 -1.06 0M369.4 152.9a0.51 0.51 0 1 0 1.03 0a0.51 0.51 0 1 0 -1.03 0M339.4 141.2a0.56 0.56 0 1 0 1.11 0a0.56 0.56 0 1 0 -1.11 0M329.8 141.0a0.48 0.48 0 1 0 0.97 0a0.48 0.48 0 1 0 -0.97 0M357.3 147.6a0.62 0.62 0 1 0 1.24 0a0.62 0.62 0 1 0 -1.24 0M328.4 154.7a0.38 0.38 0 1 0 0.76 0a0.38 0.38 0 1 0 -0.76 0M370.9 152.5a0.36 0.36 0 1 0 0.72 0a0.36 0.36 0 1 0 -0.72 0M344.8 139.5a0.49 0.49 0 1 0 0.98 0a0.49 0.49 0 1 0 -0.98 0M374.8 144.5a0.63 0.63 0 1 0 1.27 0a0.63 0.63 0 1 0 -1.27 0M367.5 164.9a0.45 0.45 0 1 0 0.89 0a0.45 0.45 0 1 0 -0.89 0" fill="#fff" fill-opacity="0.6"/>
<path d="M368.0 146.6a0.54 0.54 0 1 0 1.08 0a0.54 0.54 0 1 0 -1.08 0M359.8 142.9a0.64 0.64 0 1 0 1.28 0a0.64 0.64 0 1 0 -1.28 0M357.7 140.3a0.38 0.38 0 1 0 0.76 0a0.38 0.38 0 1 0 -0.76 0M353.7 163.8a0.43 0.43 0 1 0 0.87 0a0.43 0.43 0 1 0 -0.87 0M374.0 165.5a0.34 0.34 0 1 0 0.68 0a0.34 0.34 0 1 0 -0.68 0M365.4 141.8a0.64 0.64 0 1 0 1.29 0a0.64 0.64 0 1 0 -1.29 0M333.3 152.2a0.53 0.53 0 1 0 1.06 0a0.53 0.53 0 1 0 -1.06 0M373.7 144.1a0.47 0.47 0 1 0 0.94 0a0.47 0.47 0 1 0 -0.94 0M344.5 151.6a0.49 0.49 0 1 0 0.98 0a0.49 0.49 0 1 0 -0.98 0M329.8 165.0a0.33 0.33 0 1 0 0.66 0a0.33 0.33 0 1 0 -0.66 0M370.4 151.7a0.32 0.32 0 1 0 0.64 0a0.32 0.32 0 1 0 -0.64 0M358.2 139.7a0.64 0.64 0 1 0 1.27 0a0.64 0.64 0 1 0 -1.27 0M336.9 149.1a0.51 0.51 0 1 0 1.01 0a0.51 0.51 0 1 0 -1.01 0M365.4 162.1a0.42 0.42 0 1 0 0.84 0a0.42 0.42 0 1 0 -0.84 0M345.1 151.3a0.52 0.52 0 1 0 1.04 0a0.52 0.52 0 1 0 -1.04 0M366.6 150.8a0.64 0.64 0 1 0 1.28 0a0.64 0.64 0 1 0 -1.28 0M376.1 159.9a0.51 0.51 0 1 0 1.02 0a0.51 0.51 0 1 0 -1.02 0M366.2 166.1a0.50 0.50 0 1 0 1.00 0a0.50 0.50 0 1 0 -1.00 0M359.7 155.8a0.50 0.50 0 1 0 1.00 0a0.50 0.50 0 1 0 -1.00 0M363.0 167.6a0.42 0.42 0 1 0 0.85 0a0.42 0.42 0 1 0 -0.85 0M374.6 156.6a0.41 0.41 0 1 0 0.82 0a0.41 0.41 0 1 0 -0.82 0M374.2 140.4a0.33 0.33 0 1 0 0.67 0a0.33 0.33 0 1 0 -0.67 0M364.8 153.3a0.44 0.44 0 1 0 0.88 0a0.44 0.44 0 1 0 -0.88 0M332.2 166.8a0.38 0.38 0 1 0 0.76 0a0.38 0.38 0 1 0 -0.76 0M353.1 152.8a0.49 0.49 0 1 0 0.97 0a0.49 0.49 0 1 0 -0.97 0M331.1 162.5a0.53 0.53 0 1 0 1.06 0a0.53 0.53 0 1 0 -1.06 0M348.5 163.2a0.55 0.55 0 1 0 1.11 0a0.55 0.55 0 1 0 -1.11 0M345.3 157.1a0.31 0.31 0 1 0 0.61 0a0.31 0.31 0 1 0 -0.61 0M333.9 166.8a0.39 0.39 0 1 0 0.77 0a0.39 0.39 0 1 0 -0.77 0M370.5 161.1a0.30 0.30 0 1 0 0.60 0a0.30 0.30 0 1 0 -0.60 0M329.0 140.6a0.34 0.34 0 1 0 0.69 0a0.34 0.34 0 1 0 -0.69 0M336.5 151.2a0.49 0.49 0 1 0 0.99 0a0.49 0.49 0 1 0 -0.99 0M362.4 149.6a0.35 0.35 0 1 0 0.70 0a0.35 0.35 0 1 0 -0.70 0M340.1 141.6a0.35 0.35 0 1 0 0.71 0a0.35 0.35 0 1 0 -0.71 0M331.3 154.2a0.57 0.57 0 1 0 1.14 0a0.57 0.57 0 1 0 -1.14 0M352.8 164.4a0.55 0.55 0 1 0 1.10 0a0.55 0.55 0 1 0 -1.10 0M359.7 159.3a0.42 0.42 0 1 0 0.84 0a0.42 0.42 0 1 0 -0.84 0M335.7 159.4a0.47 0.47 0 1 0 0.95 0a0.47 0.47 0 1 0 -0.95 0M348.4 144.2a0.57 0.57 0 1 0 1.13 0a0.57 0.57 0 1 0 -1.13 0M347.0 159.2a0.54 0.54 0 1 0 1.08 0a0.54 0.54 0 1 0 -1.08 0M359.6 152.2a0.63 0.63 0 1 0 1.26 0a0.63 0.63 0 1 0 -1.26 0M332.0 152.4a0.59 0.59 0 1 0 1.17 0a0.59 0.59 0 1 0 -1.17 0M354.5 155.6a0.45 0.45 0 1 0 0.90 0a0.45 0.45 0 1 0 -0.90 0M329.0 155.4a0.32 0.32 0 1 0 0.64 0a0.32 0.32 0 1 0 -0.64 0M348.0 161.1a0.57 0.57 0 1 0 1.14 0a0.57 0.57 0 1 0 -1.14 0M328.9 152.5a0.48 0.48 0 1 0 0.95 0a0.48 0.48 0 1 0 -0.95 0M328.3 146.4a0.53 0.53 0 1 0 1.06 0a0.53 0.53 0 1 0 -1.06 0M367.7 151.5a0.47 0.47 0 1 0 0.94 0a0.47 0.47 0 1 0 -0.94 0M345.0 143.6a0.49 0.49 0 1 0 0.98 0a0.49 0.49 0 1 0 -0.98 0M366.6 149.5a0.44 0.44 0 1 0 0.87 0a0.44 0.44 0 1 0 -0.87 0M357.7 167.4a0.39 0.39 0 1 0 0.77 0a0.39 0.39 0 1 0 -0.77 0M345.1 163.3a0.56 0.56 0 1 0 1.13 0a0.56 0.56 0 1 0 -1.13 0M327.6 153.6a0.58 0.58 0 1 0 1.15 0a0.58 0.58 0 1 0 -1.15 0M347.4 156.8a0.36 0.36 0 1 0 0.71 0a0.36 0.36 0 1 0 -0.71 0M343.0 151.4a0.40 0.40 0 1 0 0.79 0a0.40 0.40 0 1 0 -0.79 0M334.8 155.1a0.60 0.60 0 1 0 1.19 0a0.60 0.60 0 1 0 -1.19 0M340.6 148.1a0.54 0.54 0 1 0 1.08 0a0.54 0.54 0 1 0 -1.08 0M353.7 155.0a0.50 0.50 0 1 0 1.00 0a0.50 0.50 0 1 0 -1.00 0M344.8 141.0a0.56 0.56 0 1 0 1.12 0a0.56 0.56 0 1 0 -1.12 0M368.2 154.6a0.43 0.43 0 1 0 0.86 0a0.43 0.43 0 1 0 -0.86 0M367.6 162.8a0.44 0.44 0 1 0 0.87 0a0.44 0.44 0 1 0 -0.87 0M332.9 146.5a0.36 0.36 0 1 0 0.72 0a0.36 0.36 0 1 0 -0.72 0M360.9 144.1a0.48 0.48 0 1 0 0.95 0a0.48 0.48 0 1 0 -0.95 0M369.5 147.5a0.62 0.62 0 1 0 1.25 0a0.62 0.62 0 1 0 -1.25 0M358.4 157.5a0.60 0.60 0 1 0 1.20 0a0.60 0.60 0 1 0 -1.20 0M346.2 148.9a0.43 0.43 0 1 0 0.85 0a0.43 0.43 0 1 0 -0.85 0M328.0 143.3a0.37 0.37 0 1 0 0.74 0a0.37 0.37 0 1 0 -0.74 0M368.7 149.7a0.52 0.52 0 1 0 1.04 0a0.52 0.52 0 1 0 -1.04 0M336.1 167.3a0.54 0.54 0 1 0 1.08 0a0.54 0.54 0 1 0 -1.08 0M374.8 153.2a0.58 0.58 0 1 0 1.17 0a0.58 0.58 0 1 0 -1.17 0M350.7 147.8a0.47 0.47 0 1 0 0.95 0a0.47 0.47 0 1 0 -0.95 0M362.2 147.5a0.47 0.47 0 1 0 0.93 0a0.47 0.47 0 1 0 -0.93 0M374.1 157.9a0.34 0.34 0 1 0 0.69 0a0.34 0.34 0 1 0 -0.69 0M366.6 158.5a0.33 0.33 0 1 0 0.65 0a0.33 0.33 0 1 0 -0.65 0M374.2 164.3a0.44 0.44 0 1 0 0.89 0a0.44 0.44 0 1 0 -0.89 0M340.7 154.8a0.41 0.41 0 1 0 0.83 0a0.41 0.41 0 1 0 -0.83 0M330.2 155.6a0.40 0.40 0 1 0 0.79 0a0.40 0.40 0 1 0 -0.79 0M373.3 152.1a0.43 0.43 0 1 0 0.87 0a0.43 0.43 0 1 0 -0.87 0M343.7 158.6a0.51 0.51 0 1 0 1.01 0a0.51 0.51 0 1 0 -1.01 0M349.0 139.6a0.38 0.38 0 1 0 0.76 0a0.38 0.38 0 1 0 -0.76 0M365.1 145.1a0.64 0.64 0 1 0 1.27 0a0.64 0.64 0 1 0 -1.27 0M345.2 142.1a0.56 0.56 0 1 0 1.12 0a0.56 0.56 0 1 0 -1.12 0" fill="#fff" fill-opacity="0.35"/>
</g>
</g>
<clipPath id="c14"><rect x="415.2" y="111.7" width="95.1" height="83.3"/></clipPath>
<g clip-path="url(#c14)">
<g filter="url(#soft)">
<rect x="413.2" y="109.7" width="99.1" height="87.3" fill="rgb(110,110,110)"/>
<polygon points="413.33,109.83 458.1,109.83 452.51,121.03 413.33,122.9" fill="rgb(210,210,210)" fill-opacity="0.8" filter="url(#b3)"/>
<polyline points="467.43,109.83 515.93,128.5" fill="none" stroke="rgb(215,215,215)" stroke-opacity="0.75" stroke-width="6.53" stroke-linejoin="round" stroke-linecap="round" filter="url(#b2)"/>
<polygon points="413.33,147.17 426.39,147.17 452.51,162.1 474.89,171.43 476.76,197.57 413.33,197.57" fill="rgb(215,215,215)" fill-opacity="0.85" filter="url(#b3)"/>
<polyline points="482.35,137.83 515.93,156.5" fill="none" stroke="rgb(205,205,205)" stroke-opacity="0.65" stroke-width="4.66" stroke-linejoin="round" stroke-linecap="round" filter="url(#b2)"/>
<polyline points="471.16,177.03 515.93,191.97" fill="none" stroke="rgb(205,205,205)" stroke-opacity="0.6" stroke-width="4.66" stroke-linejoin="round" stroke-linecap="round" filter="url(#b3)"/>
<filter id="c14f0" x="0" y="0" width="100%" height="100%" color-interpolation-filters="sRGB"><feTurbulence type="fractalNoise" baseFrequency="0.3 0.05" numOctaves="2" seed="101"/><feColorMatrix type="matrix" values="1.6 0 0 0 -0.3  1.6 0 0 0 -0.3  1.6 0 0 0 -0.3  0 0 0 0 1"/></filter>
<g transform="rotate(-60 462.75 153.35)" opacity="0.6" style="mix-blend-mode:hard-light"><rect x="387.75" y="78.35" width="150" height="150" filter="url(#c14f0)"/></g>
<filter id="c14f1" x="0" y="0" width="100%" height="100%" color-interpolation-filters="sRGB"><feTurbulence type="fractalNoise" baseFrequency="0.4 0.4" numOctaves="2" seed="104"/><feColorMatrix type="matrix" values="1.5 0 0 0 -0.25  1.5 0 0 0 -0.25  1.5 0 0 0 -0.25  0 0 0 0 1"/></filter>
<g transform="rotate(0 462.75 153.35)" opacity="0.5" style="mix-blend-mode:hard-light"><rect x="387.75" y="78.35" width="150" height="150" filter="url(#c14f1)"/></g>
<path d="M457.3 151.4L459.6 153.5M441.9 144.2L448.6 149.0M404.5 110.3L411.7 117.1M469.9 137.5L477.1 147.0M510.3 132.3L519.9 138.6M503.5 140.9L511.8 143.5M475.2 175.0L482.3 177.8M402.7 116.0L410.6 120.0M412.9 102.2L418.4 104.0M457.8 158.8L462.5 161.5M449.2 108.4L460.1 114.1M478.3 158.6L488.8 163.4M435.9 199.5L444.0 200.8M421.6 136.8L427.9 137.8M419.6 197.7L427.8 206.4M477.2 194.2L480.7 196.6M444.0 190.3L450.6 191.9" stroke="#fff" stroke-opacity="0.68" stroke-width="1.08" stroke-linecap="round" fill="none"/>
<path d="M430.9 198.9L437.0 201.4M448.2 197.9L450.7 200.9M465.8 106.4L476.9 113.0M505.4 176.5L514.8 179.8M409.4 104.6L418.8 107.1" stroke="#000" stroke-opacity="0.42" stroke-width="1.82" stroke-linecap="round" fill="none"/>
<path d="M430.1 116.7L440.6 122.8M470.6 106.3L478.4 110.1M509.9 153.4L512.5 155.5M456.2 146.0L462.5 150.7M479.6 115.5L484.8 119.8M436.5 105.6L447.0 109.2M414.1 168.6L421.0 172.3M484.8 148.1L491.5 151.9M443.3 194.2L456.0 199.2M434.1 199.3L443.9 202.3M429.3 202.2L432.3 204.1" stroke="#fff" stroke-opacity="0.55" stroke-width="1.45" stroke-linecap="round" fill="none"/>
<path d="M470.0 102.7L481.6 109.9M487.8 120.6L493.8 125.8M421.5 142.4L431.0 148.1M435.0 122.8L445.2 129.0M470.5 157.4L473.6 159.5M449.7 153.6L457.8 156.6M438.7 129.0L445.7 131.0M456.0 172.6L458.7 175.1M473.9 197.0L485.2 204.6M495.7 131.6L506.6 137.2M440.0 172.1L449.2 178.1M483.5 148.9L490.7 152.6M449.6 174.0L455.2 177.8" stroke="#fff" stroke-opacity="0.42" stroke-width="1.82" stroke-linecap="round" fill="none"/>
<path d="M479.1 147.9L484.7 148.6M420.0 198.1L428.5 202.8M404.4 160.0L415.8 167.0M473.3 162.2L483.0 167.0M469.8 116.8L476.2 118.6M506.1 171.9L510.9 175.8M480.9 129.3L489.6 135.8M485.4 135.5L490.5 138.2M432.4 132.5L439.5 135.6M442.2 191.1L454.2 196.6M407.2 106.3L414.0 111.0M491.8 115.5L496.3 117.0M465.7 101.7L476.8 105.3M485.6 124.8L492.7 132.3" stroke="#fff" stroke-opacity="0.55" stroke-width="1.08" stroke-linecap="round" fill="none"/>
<path d="M429.0 143.1L433.0 145.6M416.9 147.4L421.0 150.1M409.1 136.3L416.3 139.4M505.6 114.9L514.2 120.3M459.4 128.5L467.9 129.4M449.7 104.4L452.8 105.4M440.8 102.7L446.9 107.8M496.4 114.7L507.8 119.8M474.9 103.9L479.6 105.2M417.5 165.8L422.1 167.8M465.0 101.4L475.8 105.5M456.2 125.3L465.6 127.1M451.0 102.5L460.0 105.3M469.6 141.2L473.5 143.7M474.7 150.0L484.7 155.7M447.4 131.8L455.8 138.5M490.4 173.9L501.9 179.4M432.9 188.4L440.6 193.6" stroke="#fff" stroke-opacity="0.55" stroke-width="1.82" stroke-linecap="round" fill="none"/>
<path d="M514.9 119.3L521.5 123.6M506.4 134.3L516.4 140.1M443.6 144.1L449.8 146.9M475.6 180.3L481.7 182.8M406.3 125.6L413.9 128.5M504.5 157.8L511.6 161.3M478.6 188.7L482.1 191.6M413.2 139.6L416.6 140.8M466.7 162.6L474.8 172.1M484.4 132.5L493.4 139.7" stroke="#fff" stroke-opacity="0.68" stroke-width="1.45" stroke-linecap="round" fill="none"/>
<path d="M419.9 195.5L426.9 198.1M482.4 158.6L489.5 160.2M410.9 154.9L418.8 160.0M512.9 174.2L526.0 178.1M443.8 155.2L455.5 160.8M504.7 174.7L516.0 177.7M404.2 126.3L410.1 129.9M506.2 182.1L515.6 184.4M420.5 189.5L425.4 193.0M418.0 175.2L423.6 177.8M466.9 118.6L471.4 119.7M464.5 106.0L472.5 109.9M403.7 123.2L412.0 128.7M406.5 142.4L417.2 147.7M431.2 161.8L436.8 165.2M472.1 162.4L475.2 164.7M470.6 112.6L478.7 115.5" stroke="#fff" stroke-opacity="0.68" stroke-width="1.82" stroke-linecap="round" fill="none"/>
<path d="M404.3 194.5L416.7 197.6M455.1 172.6L466.0 178.0M460.8 203.0L464.1 205.5M440.6 129.7L449.9 134.8M445.3 115.0L449.1 117.5M417.2 140.2L427.5 144.2M484.0 184.3L492.9 192.7" stroke="#000" stroke-opacity="0.68" stroke-width="1.82" stroke-linecap="round" fill="none"/>
<path d="M448.2 181.5L454.5 184.4M510.8 154.1L519.3 156.7M504.9 104.2L512.6 106.9M457.9 136.0L465.3 140.6" stroke="#000" stroke-opacity="0.42" stroke-width="1.45" stroke-linecap="round" fill="none"/>
<path d="M413.9 203.7L418.6 206.2M512.8 179.5L518.8 182.8M420.7 139.9L425.7 142.5M458.5 196.0L464.8 197.4M475.0 101.6L482.5 108.1M478.2 155.8L483.8 160.2M452.8 156.1L457.9 157.5" stroke="#000" stroke-opacity="0.55" stroke-width="1.82" stroke-linecap="round" fill="none"/>
<path d="M472.8 191.5L478.0 192.7M460.3 176.8L473.3 181.4M480.5 194.6L491.3 199.7M481.1 158.3L491.1 160.5M428.6 120.7L440.7 123.9M404.5 184.6L416.1 190.8M431.0 200.8L440.9 205.3" stroke="#000" stroke-opacity="0.55" stroke-width="1.08" stroke-linecap="round" fill="none"/>
<path d="M449.0 139.8L452.7 140.8M411.6 192.7L421.7 197.9M434.2 164.0L442.5 167.2M419.7 181.8L430.2 186.2M407.1 167.9L415.4 177.0M488.4 188.7L499.0 192.8M506.9 161.0L510.5 164.7M495.9 99.3L506.6 105.8M498.7 126.2L510.4 133.6M480.6 109.8L486.4 114.2M514.0 178.2L522.0 187.5M483.2 166.2L494.1 171.1" stroke="#fff" stroke-opacity="0.42" stroke-width="1.08" stroke-linecap="round" fill="none"/>
<path d="M507.8 121.6L518.0 127.2M407.0 106.8L409.8 108.0M499.4 173.3L502.8 174.8" stroke="#000" stroke-opacity="0.68" stroke-width="1.08" stroke-linecap="round" fill="none"/>
<path d="M439.3 156.7L450.1 162.1M475.4 204.6L486.6 204.2M469.7 117.6L483.1 119.5M492.3 117.8L502.0 120.8M431.8 171.6L444.0 175.5M416.1 169.2L423.9 170.5M402.4 99.3L408.1 104.7M503.6 178.0L510.7 181.2M452.5 119.2L456.6 122.9" stroke="#fff" stroke-opacity="0.42" stroke-width="1.45" stroke-linecap="round" fill="none"/>
<path d="M423.3 142.7L430.9 149.2" stroke="#000" stroke-opacity="0.68" stroke-width="1.45" stroke-linecap="round" fill="none"/>
<path d="M496.2 200.0L500.4 202.4M441.2 164.6L451.7 168.0M405.8 143.9L418.0 146.3M423.9 116.1L436.5 120.9M428.7 118.6L437.4 127.3M472.4 121.7L478.0 123.8" stroke="#000" stroke-opacity="0.42" stroke-width="1.08" stroke-linecap="round" fill="none"/>
<path d="M413.0 197.0L417.9 202.4M456.6 123.1L463.6 125.9M462.0 146.5L475.3 149.5M512.9 148.7L520.7 152.5M407.0 144.3L415.8 149.5M512.9 191.1L516.5 192.3M405.1 111.6L409.2 112.9M412.7 175.5L421.9 180.0M501.3 197.6L508.2 198.0" stroke="#000" stroke-opacity="0.55" stroke-width="1.45" stroke-linecap="round" fill="none"/>
<polygon points="413.33,122.9 452.51,121.97 476.76,132.23 476.76,149.03 452.51,149.03 413.33,144.37" fill="rgb(92,92,92)" fill-opacity="0.7" filter="url(#b3)"/>
<polyline points="458.1,109.83 493.55,132.23 515.93,144.37" fill="none" stroke="rgb(25,25,25)" stroke-opacity="0.8" stroke-width="5.6" stroke-linejoin="round" stroke-linecap="round" filter="url(#b2)"/>
<polyline points="478.62,147.17 515.93,171.43" fill="none" stroke="rgb(30,30,30)" stroke-opacity="0.7" stroke-width="5.22" stroke-linejoin="round" stroke-linecap="round" filter="url(#b2)"/>
<polyline points="422.66,147.17 452.51,164.9 471.16,170.5 515.93,184.5" fill="none" stroke="rgb(20,20,20)" stroke-opacity="0.8" stroke-width="4.1" stroke-linejoin="round" stroke-linecap="round" filter="url(#b2)"/>
<polyline points="433.85,163.97 448.78,175.17 469.3,197.57" fill="none" stroke="rgb(15,15,15)" stroke-opacity="0.8" stroke-width="7.09" stroke-linejoin="round" stroke-linecap="round" filter="url(#b2)"/>
<polyline points="413.33,178.9 430.12,197.57" fill="none" stroke="rgb(25,25,25)" stroke-opacity="0.7" stroke-width="5.22" stroke-linejoin="round" stroke-linecap="round" filter="url(#b2)"/>
</g>
<polygon points="429.5,144.3 433.5,140.8 439.3,139.3 445.1,139.7 450.8,141.4 456.6,143.1 462.4,145.4 468.1,149.5 472.2,153.5 473.3,157.5 472.7,161 470.4,163.9 467,165.6 461.2,165.6 455.4,163.9 449.7,161 443.9,157.5 438.1,153.5 433.5,149.5 430.1,146" fill="#f5283a" filter="url(#b05)" stroke-linejoin="round"/>
<polygon points="433.5,144.8 439.3,142.5 445.1,142.5 450.8,144.3 456.6,147.1 462.4,150.6 468.1,154.1 472.2,158.7 471.6,162.1 465.8,163.9 456.6,163.3 449.7,160.4 442.8,156.4 437,151.8 433.5,148.3" fill="#ffff20" filter="url(#b05)" stroke-linejoin="round"/>
<polygon points="450.8,156.4 458.9,155.8 467,158.7 471.6,162.1 468.1,165 460.1,165 453.1,162.1" fill="#ffffff" fill-opacity="0.9" filter="url(#b05)" stroke-linejoin="round"/>
<polygon points="456.6,163.3 470.4,163.9 468.1,166.2 460.1,165.6" fill="#40e0ff" filter="url(#b05)" stroke-linejoin="round"/>
<clipPath id="c14s"><polygon points="429.5,144.3 433.5,140.8 439.3,139.3 445.1,139.7 450.8,141.4 456.6,143.1 462.4,145.4 468.1,149.5 472.2,153.5 473.3,157.5 472.7,161 470.4,163.9 467,165.6 461.2,165.6 455.4,163.9 449.7,161 443.9,157.5 438.1,153.5 433.5,149.5 430.1,146"/></clipPath>
<g clip-path="url(#c14s)">
<path d="M448.4 154.1a0.46 0.46 0 1 0 0.92 0a0.46 0.46 0 1 0 -0.92 0M455.6 144.0a0.41 0.41 0 1 0 0.81 0a0.41 0.41 0 1 0 -0.81 0M454.7 149.7a0.53 0.53 0 1 0 1.06 0a0.53 0.53 0 1 0 -1.06 0M451.5 156.3a0.30 0.30 0 1 0 0.60 0a0.30 0.30 0 1 0 -0.60 0M432.1 156.7a0.65 0.65 0 1 0 1.30 0a0.65 0.65 0 1 0 -1.30 0M462.3 149.8a0.44 0.44 0 1 0 0.87 0a0.44 0.44 0 1 0 -0.87 0M469.1 140.4a0.64 0.64 0 1 0 1.29 0a0.64 0.64 0 1 0 -1.29 0M458.3 148.1a0.42 0.42 0 1 0 0.83 0a0.42 0.42 0 1 0 -0.83 0M459.5 139.3a0.58 0.58 0 1 0 1.16 0a0.58 0.58 0 1 0 -1.16 0M436.3 154.1a0.48 0.48 0 1 0 0.96 0a0.48 0.48 0 1 0 -0.96 0M471.8 159.8a0.53 0.53 0 1 0 1.05 0a0.53 0.53 0 1 0 -1.05 0M467.3 144.7a0.65 0.65 0 1 0 1.30 0a0.65 0.65 0 1 0 -1.30 0M456.6 139.4a0.43 0.43 0 1 0 0.86 0a0.43 0.43 0 1 0 -0.86 0M448.3 164.9a0.59 0.59 0 1 0 1.18 0a0.59 0.59 0 1 0 -1.18 0M439.0 158.0a0.45 0.45 0 1 0 0.89 0a0.45 0.45 0 1 0 -0.89 0M434.6 151.2a0.53 0.53 0 1 0 1.06 0a0.53 0.53 0 1 0 -1.06 0M469.1 151.8a0.55 0.55 0 1 0 1.09 0a0.55 0.55 0 1 0 -1.09 0M453.8 155.9a0.43 0.43 0 1 0 0.87 0a0.43 0.43 0 1 0 -0.87 0M469.7 157.7a0.45 0.45 0 1 0 0.91 0a0.45 0.45 0 1 0 -0.91 0M439.9 139.3a0.35 0.35 0 1 0 0.70 0a0.35 0.35 0 1 0 -0.70 0M455.4 153.0a0.53 0.53 0 1 0 1.06 0a0.53 0.53 0 1 0 -1.06 0M448.0 163.1a0.44 0.44 0 1 0 0.88 0a0.44 0.44 0 1 0 -0.88 0M445.5 154.7a0.37 0.37 0 1 0 0.75 0a0.37 0.37 0 1 0 -0.75 0M449.3 164.0a0.43 0.43 0 1 0 0.87 0a0.43 0.43 0 1 0 -0.87 0M453.6 162.7a0.46 0.46 0 1 0 0.92 0a0.46 0.46 0 1 0 -0.92 0M468.1 165.5a0.49 0.49 0 1 0 0.98 0a0.49 0.49 0 1 0 -0.98 0M443.9 141.2a0.42 0.42 0 1 0 0.84 0a0.42 0.42 0 1 0 -0.84 0M458.8 164.5a0.50 0.50 0 1 0 1.01 0a0.50 0.50 0 1 0 -1.01 0" fill="#fff" fill-opacity="0.6"/>
<path d="M466.2 144.1a0.47 0.47 0 1 0 0.93 0a0.47 0.47 0 1 0 -0.93 0M432.5 160.9a0.52 0.52 0 1 0 1.04 0a0.52 0.52 0 1 0 -1.04 0M462.6 147.8a0.59 0.59 0 1 0 1.19 0a0.59 0.59 0 1 0 -1.19 0M472.4 161.7a0.39 0.39 0 1 0 0.78 0a0.39 0.39 0 1 0 -0.78 0M446.1 141.0a0.37 0.37 0 1 0 0.74 0a0.37 0.37 0 1 0 -0.74 0M466.6 165.3a0.41 0.41 0 1 0 0.81 0a0.41 0.41 0 1 0 -0.81 0M438.0 146.0a0.42 0.42 0 1 0 0.83 0a0.42 0.42 0 1 0 -0.83 0M434.6 149.4a0.35 0.35 0 1 0 0.71 0a0.35 0.35 0 1 0 -0.71 0M435.6 156.0a0.37 0.37 0 1 0 0.74 0a0.37 0.37 0 1 0 -0.74 0M470.5 162.8a0.33 0.33 0 1 0 0.65 0a0.33 0.33 0 1 0 -0.65 0M430.4 141.9a0.64 0.64 0 1 0 1.27 0a0.64 0.64 0 1 0 -1.27 0M468.5 152.3a0.36 0.36 0 1 0 0.72 0a0.36 0.36 0 1 0 -0.72 0M471.0 139.6a0.33 0.33 0 1 0 0.65 0a0.33 0.33 0 1 0 -0.65 0M432.0 153.7a0.32 0.32 0 1 0 0.63 0a0.32 0.32 0 1 0 -0.63 0M468.8 148.5a0.47 0.47 0 1 0 0.93 0a0.47 0.47 0 1 0 -0.93 0M472.3 162.8a0.42 0.42 0 1 0 0.83 0a0.42 0.42 0 1 0 -0.83 0M465.6 141.3a0.31 0.31 0 1 0 0.62 0a0.31 0.31 0 1 0 -0.62 0M433.3 160.1a0.62 0.62 0 1 0 1.24 0a0.62 0.62 0 1 0 -1.24 0M451.3 157.1a0.59 0.59 0 1 0 1.19 0a0.59 0.59 0 1 0 -1.19 0M440.7 155.4a0.55 0.55 0 1 0 1.10 0a0.55 0.55 0 1 0 -1.10 0M453.8 147.3a0.31 0.31 0 1 0 0.61 0a0.31 0.31 0 1 0 -0.61 0M433.5 141.9a0.53 0.53 0 1 0 1.06 0a0.53 0.53 0 1 0 -1.06 0M464.2 164.9a0.37 0.37 0 1 0 0.74 0a0.37 0.37 0 1 0 -0.74 0M464.9 145.9a0.30 0.30 0 1 0 0.61 0a0.30 0.30 0 1 0 -0.61 0M462.8 153.6a0.48 0.48 0 1 0 0.95 0a0.48 0.48 0 1 0 -0.95 0M472.2 143.3a0.62 0.62 0 1 0 1.23 0a0.62 0.62 0 1 0 -1.23 0M432.4 164.2a0.44 0.44 0 1 0 0.87 0a0.44 0.44 0 1 0 -0.87 0M457.1 144.5a0.60 0.60 0 1 0 1.21 0a0.60 0.60 0 1 0 -1.21 0M463.2 147.7a0.60 0.60 0 1 0 1.20 0a0.60 0.60 0 1 0 -1.20 0M472.4 163.3a0.59 0.59 0 1 0 1.19 0a0.59 0.59 0 1 0 -1.19 0" fill="#fff" fill-opacity="0.85"/>
<path d="M455.5 143.3a0.59 0.59 0 1 0 1.18 0a0.59 0.59 0 1 0 -1.18 0M431.3 140.0a0.51 0.51 0 1 0 1.02 0a0.51 0.51 0 1 0 -1.02 0M462.0 152.8a0.32 0.32 0 1 0 0.65 0a0.32 0.32 0 1 0 -0.65 0M470.8 161.9a0.37 0.37 0 1 0 0.75 0a0.37 0.37 0 1 0 -0.75 0M471.1 159.5a0.35 0.35 0 1 0 0.69 0a0.35 0.35 0 1 0 -0.69 0M433.8 150.4a0.30 0.30 0 1 0 0.60 0a0.30 0.30 0 1 0 -0.60 0M454.8 154.6a0.65 0.65 0 1 0 1.29 0a0.65 0.65 0 1 0 -1.29 0M441.7 141.0a0.37 0.37 0 1 0 0.75 0a0.37 0.37 0 1 0 -0.75 0M468.4 161.1a0.55 0.55 0 1 0 1.11 0a0.55 0.55 0 1 0 -1.11 0M460.2 140.9a0.47 0.47 0 1 0 0.94 0a0.47 0.47 0 1 0 -0.94 0M457.4 155.6a0.40 0.40 0 1 0 0.80 0a0.40 0.40 0 1 0 -0.80 0M469.0 144.5a0.32 0.32 0 1 0 0.65 0a0.32 0.32 0 1 0 -0.65 0M446.7 145.7a0.36 0.36 0 1 0 0.72 0a0.36 0.36 0 1 0 -0.72 0M444.9 154.4a0.33 0.33 0 1 0 0.66 0a0.33 0.33 0 1 0 -0.66 0M458.9 154.8a0.51 0.51 0 1 0 1.01 0a0.51 0.51 0 1 0 -1.01 0M431.3 147.4a0.65 0.65 0 1 0 1.30 0a0.65 0.65 0 1 0 -1.30 0M469.6 158.9a0.58 0.58 0 1 0 1.16 0a0.58 0.58 0 1 0 -1.16 0M431.8 162.1a0.60 0.60 0 1 0 1.20 0a0.60 0.60 0 1 0 -1.20 0M429.0 141.0a0.52 0.52 0 1 0 1.05 0a0.52 0.52 0 1 0 -1.05 0M454.8 152.0a0.64 0.64 0 1 0 1.27 0a0.64 0.64 0 1 0 -1.27 0M439.4 156.1a0.61 0.61 0 1 0 1.22 0a0.61 0.61 0 1 0 -1.22 0M434.4 148.5a0.55 0.55 0 1 0 1.10 0a0.55 0.55 0 1 0 -1.10 0M470.5 146.5a0.34 0.34 0 1 0 0.68 0a0.34 0.34 0 1 0 -0.68 0M471.6 151.2a0.59 0.59 0 1 0 1.18 0a0.59 0.59 0 1 0 -1.18 0M434.4 151.3a0.57 0.57 0 1 0 1.14 0a0.57 0.57 0 1 0 -1.14 0M440.1 160.0a0.64 0.64 0 1 0 1.29 0a0.64 0.64 0 1 0 -1.29 0M449.4 158.3a0.38 0.38 0 1 0 0.76 0a0.38 0.38 0 1 0 -0.76 0M448.4 144.3a0.43 0.43 0 1 0 0.86 0a0.43 0.43 0 1 0 -0.86 0M463.8 164.0a0.37 0.37 0 1 0 0.75 0a0.37 0.37 0 1 0 -0.75 0M447.2 146.4a0.38 0.38 0 1 0 0.75 0a0.38 0.38 0 1 0 -0.75 0M466.8 150.6a0.36 0.36 0 1 0 0.72 0a0.36 0.36 0 1 0 -0.72 0M443.3 160.3a0.46 0.46 0 1 0 0.93 0a0.46 0.46 0 1 0 -0.93 0" fill="#fff" fill-opacity="0.35"/>
</g>
</g>
<g style="isolation:isolate">
<circle cx="85.6" cy="39.6" r="13.5" fill="#ff0000"/>
<circle cx="101.7" cy="39.6" r="13.5" fill="#00ff00" style="mix-blend-mode:screen"/>
<circle cx="93.3" cy="51.4" r="13.6" fill="#0000ff" style="mix-blend-mode:screen"/>
</g>
<text x="72.93" y="40.3" font-size="6.8" class="nb" fill="#000" textLength="13.93" lengthAdjust="spacingAndGlyphs">CD41</text>
<text x="99.7" y="40.3" font-size="6.8" class="nb" fill="#000" textLength="14.23" lengthAdjust="spacingAndGlyphs">P-sel</text>
<text x="84.78" y="58" font-size="6.8" class="nb" fill="#fff" textLength="16.14" lengthAdjust="spacingAndGlyphs">Fibrin</text>
<text x="23.04" y="102" font-size="6.2" font-weight="bold" class="nb" fill="#fff" textLength="17.53" lengthAdjust="spacingAndGlyphs" stroke="#000" stroke-opacity="0.35" stroke-width="1.0" paint-order="stroke">10 μm</text>
<rect x="23" y="103.6" width="17.6" height="1.0" fill="#fff"/>
<text x="83.56" y="103.1" font-size="6.2" font-weight="bold" class="nb" fill="#fff" textLength="32.91" lengthAdjust="spacingAndGlyphs" stroke="#000" stroke-opacity="0.35" stroke-width="1.0" paint-order="stroke">0:00:00.000</text>
<text x="121.94" y="102" font-size="6.2" font-weight="bold" class="nb" fill="#fff" textLength="17.53" lengthAdjust="spacingAndGlyphs" stroke="#000" stroke-opacity="0.35" stroke-width="1.0" paint-order="stroke">10 μm</text>
<rect x="121.9" y="103.6" width="17.6" height="1.0" fill="#fff"/>
<text x="181.76" y="103.1" font-size="6.2" font-weight="bold" class="nb" fill="#fff" textLength="32.88" lengthAdjust="spacingAndGlyphs" stroke="#000" stroke-opacity="0.35" stroke-width="1.0" paint-order="stroke">0:00:20.176</text>
<text x="220.24" y="102" font-size="6.2" font-weight="bold" class="nb" fill="#fff" textLength="17.53" lengthAdjust="spacingAndGlyphs" stroke="#000" stroke-opacity="0.35" stroke-width="1.0" paint-order="stroke">10 μm</text>
<rect x="220.2" y="103.6" width="17.6" height="1.0" fill="#fff"/>
<text x="279.76" y="103.1" font-size="6.2" font-weight="bold" class="nb" fill="#fff" textLength="32.85" lengthAdjust="spacingAndGlyphs" stroke="#000" stroke-opacity="0.35" stroke-width="1.0" paint-order="stroke">0:01:00.058</text>
<text x="318.24" y="102" font-size="6.2" font-weight="bold" class="nb" fill="#fff" textLength="17.53" lengthAdjust="spacingAndGlyphs" stroke="#000" stroke-opacity="0.35" stroke-width="1.0" paint-order="stroke">10 μm</text>
<rect x="318.2" y="103.6" width="17.6" height="1.0" fill="#fff"/>
<text x="377.76" y="103.1" font-size="6.2" font-weight="bold" class="nb" fill="#fff" textLength="32.88" lengthAdjust="spacingAndGlyphs" stroke="#000" stroke-opacity="0.35" stroke-width="1.0" paint-order="stroke">0:02:00.153</text>
<text x="416.24" y="102" font-size="6.2" font-weight="bold" class="nb" fill="#fff" textLength="17.53" lengthAdjust="spacingAndGlyphs" stroke="#000" stroke-opacity="0.35" stroke-width="1.0" paint-order="stroke">10 μm</text>
<rect x="416.2" y="103.6" width="17.6" height="1.0" fill="#fff"/>
<text x="475.26" y="103.1" font-size="6.2" font-weight="bold" class="nb" fill="#fff" textLength="32.88" lengthAdjust="spacingAndGlyphs" stroke="#000" stroke-opacity="0.35" stroke-width="1.0" paint-order="stroke">0:02:56.213</text>
<text x="23.04" y="191" font-size="6.2" font-weight="bold" class="nb" fill="#fff" textLength="17.53" lengthAdjust="spacingAndGlyphs" stroke="#000" stroke-opacity="0.35" stroke-width="1.0" paint-order="stroke">10 μm</text>
<rect x="23" y="192.6" width="17.6" height="1.0" fill="#fff"/>
<text x="83.56" y="192.1" font-size="6.2" font-weight="bold" class="nb" fill="#fff" textLength="32.91" lengthAdjust="spacingAndGlyphs" stroke="#000" stroke-opacity="0.35" stroke-width="1.0" paint-order="stroke">0:00:00.000</text>
<text x="121.94" y="191" font-size="6.2" font-weight="bold" class="nb" fill="#fff" textLength="17.53" lengthAdjust="spacingAndGlyphs" stroke="#000" stroke-opacity="0.35" stroke-width="1.0" paint-order="stroke">10 μm</text>
<rect x="121.9" y="192.6" width="17.6" height="1.0" fill="#fff"/>
<text x="181.76" y="192.1" font-size="6.2" font-weight="bold" class="nb" fill="#fff" textLength="32.85" lengthAdjust="spacingAndGlyphs" stroke="#000" stroke-opacity="0.35" stroke-width="1.0" paint-order="stroke">0:00:20.888</text>
<text x="220.24" y="191" font-size="6.2" font-weight="bold" class="nb" fill="#fff" textLength="17.53" lengthAdjust="spacingAndGlyphs" stroke="#000" stroke-opacity="0.35" stroke-width="1.0" paint-order="stroke">10 μm</text>
<rect x="220.2" y="192.6" width="17.6" height="1.0" fill="#fff"/>
<text x="279.76" y="192.1" font-size="6.2" font-weight="bold" class="nb" fill="#fff" textLength="32.91" lengthAdjust="spacingAndGlyphs" stroke="#000" stroke-opacity="0.35" stroke-width="1.0" paint-order="stroke">0:01:00.030</text>
<text x="318.24" y="191" font-size="6.2" font-weight="bold" class="nb" fill="#fff" textLength="17.53" lengthAdjust="spacingAndGlyphs" stroke="#000" stroke-opacity="0.35" stroke-width="1.0" paint-order="stroke">10 μm</text>
<rect x="318.2" y="192.6" width="17.6" height="1.0" fill="#fff"/>
<text x="377.76" y="192.1" font-size="6.2" font-weight="bold" class="nb" fill="#fff" textLength="32.69" lengthAdjust="spacingAndGlyphs" stroke="#000" stroke-opacity="0.35" stroke-width="1.0" paint-order="stroke">0:01:58.044</text>
<text x="416.24" y="191" font-size="6.2" font-weight="bold" class="nb" fill="#fff" textLength="17.53" lengthAdjust="spacingAndGlyphs" stroke="#000" stroke-opacity="0.35" stroke-width="1.0" paint-order="stroke">10 μm</text>
<rect x="416.2" y="192.6" width="17.6" height="1.0" fill="#fff"/>
<text x="475.26" y="192.1" font-size="6.2" font-weight="bold" class="nb" fill="#fff" textLength="32.82" lengthAdjust="spacingAndGlyphs" stroke="#000" stroke-opacity="0.35" stroke-width="1.0" paint-order="stroke">0:02:56.065</text>
<g filter="url(#b05)"><line x1="31.5" y1="78" x2="48" y2="71.2" stroke="#fff" stroke-width="1.2"/><polygon points="50.5,70.2 45.6,70.6 47.3,74.3" fill="#fff"/>
<line x1="32.5" y1="123.2" x2="46" y2="129.2" stroke="#fff" stroke-width="1.2"/><polygon points="48.6,130.4 43.8,130.6 45.6,127" fill="#fff"/></g>
<g class="ct">
<text x="6.19" y="222.3" font-size="11.2" font-weight="bold" fill="#000" textLength="7.93" lengthAdjust="spacingAndGlyphs">B</text>
<text x="63.13" y="225.9" font-size="10.4" fill="#231f20" textLength="91.91" lengthAdjust="spacingAndGlyphs">Platelet accumulation</text>
<line x1="49.4" y1="225.2" x2="49.4" y2="319.9" stroke="#000" stroke-width="0.9"/>
<line x1="46.2" y1="319.4" x2="49.4" y2="319.4" stroke="#000" stroke-width="0.9"/>
<text x="38.6" y="325.7" font-size="8.75" fill="#231f20" textLength="4.28" lengthAdjust="spacingAndGlyphs">0</text>
<line x1="46.2" y1="301.5" x2="49.4" y2="301.5" stroke="#000" stroke-width="0.9"/>
<text x="30.06" y="304.5" font-size="8.75" fill="#231f20" textLength="12.84" lengthAdjust="spacingAndGlyphs">200</text>
<line x1="46.2" y1="283.6" x2="49.4" y2="283.6" stroke="#000" stroke-width="0.9"/>
<text x="30.06" y="286.6" font-size="8.75" fill="#231f20" textLength="12.84" lengthAdjust="spacingAndGlyphs">400</text>
<line x1="46.2" y1="265.7" x2="49.4" y2="265.7" stroke="#000" stroke-width="0.9"/>
<text x="30.06" y="268.7" font-size="8.75" fill="#231f20" textLength="12.84" lengthAdjust="spacingAndGlyphs">600</text>
<line x1="46.2" y1="247.8" x2="49.4" y2="247.8" stroke="#000" stroke-width="0.9"/>
<text x="30.06" y="250.8" font-size="8.75" fill="#231f20" textLength="12.84" lengthAdjust="spacingAndGlyphs">800</text>
<line x1="46.2" y1="229.9" x2="49.4" y2="229.9" stroke="#000" stroke-width="0.9"/>
<text x="25.75" y="232.9" font-size="8.75" fill="#231f20" textLength="17.12" lengthAdjust="spacingAndGlyphs">1000</text>
<line x1="48.95" y1="319.4" x2="168.7" y2="319.4" stroke="#000" stroke-width="0.9"/>
<line x1="49.4" y1="319.4" x2="49.4" y2="322.4" stroke="#000" stroke-width="0.9"/>
<text x="47.25" y="330.7" font-size="8.75" fill="#231f20" textLength="4.28" lengthAdjust="spacingAndGlyphs">0</text>
<line x1="82.7" y1="319.4" x2="82.7" y2="322.4" stroke="#000" stroke-width="0.9"/>
<text x="78.41" y="330.7" font-size="8.75" fill="#231f20" textLength="8.56" lengthAdjust="spacingAndGlyphs">50</text>
<line x1="116" y1="319.4" x2="116" y2="322.4" stroke="#000" stroke-width="0.9"/>
<text x="109.44" y="330.7" font-size="8.75" fill="#231f20" textLength="12.84" lengthAdjust="spacingAndGlyphs">100</text>
<line x1="149.3" y1="319.4" x2="149.3" y2="322.4" stroke="#000" stroke-width="0.9"/>
<text x="142.74" y="330.7" font-size="8.75" fill="#231f20" textLength="12.84" lengthAdjust="spacingAndGlyphs">150</text>
<text x="91.76" y="342.9" font-size="9.4" fill="#231f20" textLength="33.1" lengthAdjust="spacingAndGlyphs">Time (sec)</text>
<g transform="translate(22,272.2) rotate(-90)"><text x="-29.04" y="0" font-size="9.3" fill="#231f20" textLength="58.17" lengthAdjust="spacingAndGlyphs">CD41 area (μm²)</text></g>
<polygon points="49.4,314.37 49.73,313.58 50.07,313.45 50.4,313.48 50.73,313.4 51.06,312.62 51.4,312.36 51.73,312.11 52.06,311.2 52.4,310.12 52.73,308.99 53.06,308.51 53.4,307.58 53.73,306.74 54.06,306.44 54.39,305.08 54.73,304.11 55.06,302.43 55.39,302.01 55.73,301.48 56.06,300.32 56.39,299.68 56.73,298.73 57.06,298.22 57.39,297.38 57.73,296.2 58.06,295.3 58.39,294.53 58.72,294.13 59.06,292.86 59.39,291.95 59.72,290.73 60.06,289.84 60.39,288.6 60.72,287.85 61.05,286.91 61.39,285.8 61.72,285.31 62.05,284.35 62.39,283.35 62.72,281.45 63.05,280.67 63.39,279.39 63.72,278.33 64.05,277.54 64.39,277.23 64.72,275.74 65.05,274.98 65.38,273.72 65.72,273.47 66.05,272.4 66.38,270.77 66.72,269.4 67.05,269.11 67.38,268.48 67.72,267.33 68.05,265.83 68.38,264.84 68.71,263.86 69.05,263.2 69.38,261.82 69.71,260.45 70.05,259.8 70.38,259.45 70.71,258.58 71.05,257.13 71.38,256.81 71.71,255.56 72.04,254.94 72.38,253.69 72.71,252.49 73.04,251.31 73.38,249.5 73.71,248.54 74.04,247.12 74.38,246.36 74.71,245.46 75.04,244.13 75.37,243.99 75.71,243.03 76.04,242.37 76.37,242.48 76.71,241.86 77.04,241.88 77.37,242.45 77.7,241.84 78.04,241.61 78.37,241.4 78.7,241 79.04,239.98 79.37,239.99 79.7,239.9 80.04,239.47 80.37,239.84 80.7,238.63 81.03,238.79 81.37,237.97 81.7,237.7 82.03,237.53 82.37,236.84 82.7,235.39 83.03,235.26 83.37,235.5 83.7,235.64 84.03,235.91 84.37,235.57 84.7,235.61 85.03,235.03 85.36,235.43 85.7,235.26 86.03,235.41 86.36,235.53 86.7,235.1 87.03,235.16 87.36,235.07 87.69,234.81 88.03,234.81 88.36,235.87 88.69,235.76 89.03,236.42 89.36,236.19 89.69,235.48 90.03,236 90.36,236.51 90.69,236.52 91.03,236.77 91.36,237.09 91.69,237.75 92.02,237.68 92.36,237.86 92.69,238.33 93.02,238.75 93.36,238.82 93.69,238.82 94.02,238.99 94.36,239.02 94.69,239.31 95.02,240.14 95.35,240.26 95.69,239.98 96.02,239.99 96.35,240.58 96.69,241.31 97.02,241.58 97.35,241.34 97.69,241.47 98.02,242.43 98.35,242.81 98.68,243.68 99.02,244.01 99.35,243.86 99.68,243.87 100.02,243.69 100.35,243.68 100.68,243.99 101.02,244.21 101.35,245.21 101.68,246.02 102.01,245.86 102.35,245.15 102.68,245.77 103.01,246.57 103.35,246.6 103.68,246.25 104.01,247.22 104.34,247.21 104.68,247.8 105.01,247.64 105.34,248.07 105.68,248.45 106.01,248.28 106.34,249.18 106.68,250.06 107.01,249.79 107.34,250.68 107.68,250.12 108.01,250.75 108.34,251.59 108.67,251.63 109.01,251.5 109.34,251.52 109.67,251.79 110.01,251.49 110.34,252.75 110.67,252.79 111,252.84 111.34,252.32 111.67,253.49 112,253.52 112.34,253.89 112.67,253.98 113,253.63 113.34,253.61 113.67,253.25 114,253.94 114.34,254.14 114.67,254.14 115,254.26 115.33,254.85 115.67,254.76 116,255.68 116.33,255.12 116.67,255.52 117,255.88 117.33,256.19 117.66,256.24 118,255.89 118.33,256.41 118.66,256.96 119,256.86 119.33,257.52 119.66,258.04 120,257.42 120.33,257.67 120.66,257.31 121,257.89 121.33,258.96 121.66,258.37 121.99,258.27 122.33,257.75 122.66,258.03 122.99,258.33 123.33,258.38 123.66,258.84 123.99,258.93 124.32,259.5 124.66,259.25 124.99,259.67 125.32,259.67 125.66,259.42 125.99,259.2 126.32,259.89 126.66,259.2 126.99,259.97 127.32,259.8 127.66,259.9 127.99,260.23 128.32,260.5 128.65,260.12 128.99,260.42 129.32,260.62 129.65,261.65 129.99,261.74 130.32,261.4 130.65,261.57 130.99,262.08 131.32,262.31 131.65,262.48 131.98,262.19 132.32,262.21 132.65,262.02 132.98,262.7 133.32,262.52 133.65,262.82 133.98,263.02 134.31,262.42 134.65,262.79 134.98,263.01 135.31,263.32 135.65,263.47 135.98,263.12 136.31,263.02 136.65,263.23 136.98,263.61 137.31,263.46 137.65,263.83 137.98,263.82 138.31,263.76 138.64,263.9 138.98,263.58 139.31,263.35 139.64,263.47 139.98,264.73 140.31,264.14 140.64,264.36 140.97,264.77 141.31,264.69 141.64,264.37 141.97,264.29 142.31,264.2 142.64,264.36 142.97,264.37 143.31,264.2 143.64,264.57 143.97,264.87 144.31,264.99 144.64,264.9 144.97,264.84 145.3,264.18 145.64,265.11 145.97,264.89 146.3,265.13 146.64,265.02 146.97,264.57 147.3,264.33 147.63,264.71 147.97,265.12 148.3,265.52 148.63,265.25 148.97,264.59 149.3,264.83 149.63,264.5 149.97,264.5 150.3,264.46 150.63,264.25 150.97,264.61 151.3,265.1 151.63,265.53 151.96,265 152.3,265.13 152.63,265.21 152.96,264.89 153.3,265.35 153.63,264.56 153.96,264.74 154.3,265.38 154.63,265.62 154.96,265.27 155.29,265.89 155.63,265.95 155.96,265.83 156.29,265.47 156.63,265.27 156.96,265.22 157.29,265.39 157.62,265.28 157.96,264.78 158.29,264.76 158.62,265.26 158.96,264.81 159.29,265.85 159.62,265.64 159.96,265.47 160.29,265.2 160.62,265.39 160.96,265.68 161.29,265.54 161.62,265.72 161.95,265.64 162.29,266.91 162.62,266.53 162.95,266.94 163.29,266.46 163.62,266.34 163.95,266.44 164.28,267 164.62,267.03 164.95,267.33 165.28,267.37 165.62,267.71 165.95,268.18 166.28,267.48 166.62,267.68 166.95,268.85 167.28,268.37 167.28,277 166.95,277.63 166.62,276.58 166.28,276.49 165.95,277.25 165.62,276.85 165.28,276.76 164.95,276.72 164.62,276.32 164.28,276.32 163.95,275.91 163.62,275.93 163.29,275.97 162.95,276.35 162.62,276.26 162.29,276.82 161.95,275.6 161.62,275.55 161.29,275.13 160.96,275.16 160.62,274.66 160.29,274.24 159.96,274.25 159.62,274.46 159.29,274.44 158.96,273.41 158.62,274.2 158.29,274 157.96,274.09 157.62,274.63 157.29,274.56 156.96,274.4 156.63,274.7 156.29,274.6 155.96,274.63 155.63,274.94 155.29,274.89 154.96,274.43 154.63,275.12 154.3,274.77 153.96,274.46 153.63,274.51 153.3,275.09 152.96,274.7 152.63,275.07 152.3,274.96 151.96,274.69 151.63,275.26 151.3,274.97 150.97,274.56 150.63,274.22 150.3,274.38 149.97,274.17 149.63,274.4 149.3,274.51 148.97,274.25 148.63,274.76 148.3,274.96 147.97,274.43 147.63,274.14 147.3,273.69 146.97,273.79 146.64,274.19 146.3,274.26 145.97,274.3 145.64,274.51 145.3,273.63 144.97,274.53 144.64,274.89 144.31,274.99 143.97,274.84 143.64,274.29 143.31,274.15 142.97,274.32 142.64,273.94 142.31,273.53 141.97,273.37 141.64,273.64 141.31,274.04 140.97,273.8 140.64,273.27 140.31,273.33 139.98,274.15 139.64,272.95 139.31,272.94 138.98,273.17 138.64,273.74 138.31,273.54 137.98,273.36 137.65,273.3 137.31,272.94 136.98,273.04 136.65,272.81 136.31,272.69 135.98,272.92 135.65,273.63 135.31,273.33 134.98,273.17 134.65,272.78 134.31,272.44 133.98,272.99 133.65,272.79 133.32,272.21 132.98,272.59 132.65,272.03 132.32,272.16 131.98,272.16 131.65,272.44 131.32,272.5 130.99,272.23 130.65,271.6 130.32,271.43 129.99,272.09 129.65,271.74 129.32,270.66 128.99,270.18 128.65,270.06 128.32,270.44 127.99,270.19 127.66,269.87 127.32,270 126.99,270.03 126.66,269.51 126.32,270.2 125.99,269.58 125.66,269.71 125.32,270.05 124.99,269.82 124.66,269.48 124.32,269.84 123.99,269.16 123.66,269.03 123.33,268.64 122.99,268.56 122.66,268.44 122.33,268.39 121.99,268.97 121.66,269.24 121.33,269.77 121,268.76 120.66,268.06 120.33,268.46 120,268.27 119.66,268.73 119.33,268.02 119,267.6 118.66,267.66 118.33,267.37 118,266.75 117.66,267.04 117.33,267.2 117,267.23 116.67,266.81 116.33,266.38 116,266.87 115.67,266.3 115.33,266.53 115,265.97 114.67,265.91 114.34,266.28 114,266.26 113.67,265.61 113.34,265.81 113,265.79 112.67,266.08 112.34,265.95 112,265.53 111.67,265.46 111.34,264.38 111,265.19 110.67,265.23 110.34,265.18 110.01,264.07 109.67,264.24 109.34,263.96 109.01,263.79 108.67,263.51 108.34,263.31 108.01,262.47 107.68,261.75 107.34,262.22 107.01,261.31 106.68,261.92 106.34,261.46 106.01,260.62 105.68,260.98 105.34,260.55 105.01,260.59 104.68,260.89 104.34,260.25 104.01,260.37 103.68,259.53 103.35,259.61 103.01,259.36 102.68,258.17 102.35,257.5 102.01,258.13 101.68,258.09 101.35,257.34 101.02,256.62 100.68,256.63 100.35,256.38 100.02,256.43 99.68,256.51 99.35,256.24 99.02,256.32 98.68,255.76 98.35,254.97 98.02,254.6 97.69,253.71 97.35,253.62 97.02,253.94 96.69,253.92 96.35,253.42 96.02,253.1 95.69,253.22 95.35,253.6 95.02,253.29 94.69,252.83 94.36,252.07 94.02,251.79 93.69,251.32 93.36,251.33 93.02,251.29 92.69,251.28 92.36,250.65 92.02,250.71 91.69,251.17 91.36,250.76 91.03,250.57 90.69,250.28 90.36,249.95 90.03,249.5 89.69,248.84 89.36,249.31 89.03,249.26 88.69,248.3 88.36,248.49 88.03,247.64 87.69,247.68 87.36,247.8 87.03,247.84 86.7,247.74 86.36,248.07 86.03,247.91 85.7,247.56 85.36,247.57 85.03,247.22 84.7,247.8 84.37,247.99 84.03,248.4 83.7,248.26 83.37,248.49 83.03,248.13 82.7,248.35 82.37,249.63 82.03,250.17 81.7,250.65 81.37,250.53 81.03,251.28 80.7,251.47 80.37,252.67 80.04,252.51 79.7,252.98 79.37,253 79.04,253.11 78.7,253.62 78.37,253.94 78.04,254.31 77.7,254.24 77.37,254.75 77.04,254.07 76.71,254.06 76.37,254.57 76.04,254.25 75.71,254.47 75.37,255.47 75.04,255.4 74.71,256.59 74.38,257.27 74.04,257.95 73.71,259.31 73.38,260.38 73.04,261.97 72.71,263.04 72.38,263.91 72.04,265.02 71.71,265.96 71.38,267.19 71.05,267.55 70.71,269.09 70.38,270.09 70.05,270.58 69.71,271.06 69.38,272.28 69.05,273.47 68.71,273.81 68.38,274.8 68.05,275.69 67.72,276.87 67.38,278.11 67.05,278.5 66.72,278.44 66.38,279.62 66.05,281.05 65.72,281.83 65.38,282.25 65.05,283.41 64.72,284.08 64.39,285.59 64.05,285.88 63.72,286.5 63.39,287.54 63.05,288.48 62.72,289.09 62.39,290.92 62.05,291.83 61.72,292.82 61.39,293.22 61.05,294.23 60.72,295 60.39,295.5 60.06,296.61 59.72,297.39 59.39,298.43 59.06,299.33 58.72,300.41 58.39,300.75 58.06,301.4 57.73,302.13 57.39,303.13 57.06,303.9 56.73,304.21 56.39,305.14 56.06,305.67 55.73,306.77 55.39,307.19 55.06,307.6 54.73,309.14 54.39,310.11 54.06,311.33 53.73,311.65 53.4,312.5 53.06,313.44 52.73,313.77 52.4,314.75 52.06,315.68 51.73,316.52 51.4,316.59 51.06,316.68 50.73,317.22 50.4,317.3 50.07,317.26 49.73,317.3 49.4,317.95" fill="#dcdcdc" stroke="#d0d0d0" stroke-width="0.5"/>
<polygon points="49.4,315.43 49.73,315.57 50.07,315.13 50.4,314.77 50.73,314.12 51.06,314.3 51.4,313.88 51.73,313.61 52.06,313.37 52.4,312.95 52.73,312.46 53.06,311.96 53.4,311.65 53.73,310.77 54.06,310.41 54.39,310.83 54.73,309.44 55.06,308.99 55.39,308.58 55.73,307.88 56.06,307.32 56.39,306.83 56.73,306.65 57.06,305.95 57.39,305.96 57.73,304.78 58.06,304.77 58.39,304.03 58.72,303.22 59.06,302.43 59.39,301.91 59.72,300.99 60.06,301.6 60.39,300.45 60.72,299.6 61.05,298.94 61.39,297.63 61.72,297.41 62.05,296.72 62.39,296.64 62.72,295.64 63.05,295.41 63.39,295.01 63.72,293.32 64.05,292.64 64.39,292.29 64.72,291.67 65.05,291.58 65.38,291.13 65.72,290.12 66.05,290.14 66.38,289.14 66.72,288.94 67.05,288 67.38,287.64 67.72,286.21 68.05,285.42 68.38,285.23 68.71,285.29 69.05,284.61 69.38,283.83 69.71,283.49 70.05,282.7 70.38,281.95 70.71,281.59 71.05,281.36 71.38,280.68 71.71,280.34 72.04,279.6 72.38,279.29 72.71,278.27 73.04,278.17 73.38,277.96 73.71,277.23 74.04,276.8 74.38,276.3 74.71,275.6 75.04,274.65 75.37,274.76 75.71,273.93 76.04,273.22 76.37,272.62 76.71,271.76 77.04,271.7 77.37,270.92 77.7,270.87 78.04,270.58 78.37,270.41 78.7,270.31 79.04,270.24 79.37,269.83 79.7,268.92 80.04,268.66 80.37,268.61 80.7,268.57 81.03,268.86 81.37,268.5 81.7,267.83 82.03,268.64 82.37,268.24 82.7,267.93 83.03,267.93 83.37,267.56 83.7,267.2 84.03,266.61 84.37,266.47 84.7,266.26 85.03,266.42 85.36,266.38 85.7,266.59 86.03,266.62 86.36,266.88 86.7,266.62 87.03,266.09 87.36,266.47 87.69,266.48 88.03,266.33 88.36,266.47 88.69,266.14 89.03,266.19 89.36,266.72 89.69,266.84 90.03,266.3 90.36,265.94 90.69,265.51 91.03,265.49 91.36,265.33 91.69,265.82 92.02,265.03 92.36,265.18 92.69,264.62 93.02,264.87 93.36,264.98 93.69,264.83 94.02,264.81 94.36,264.93 94.69,264.52 95.02,264.37 95.35,264.47 95.69,264.59 96.02,264.91 96.35,265.02 96.69,265.03 97.02,264.98 97.35,264.64 97.69,264.77 98.02,265.29 98.35,265.53 98.68,265.07 99.02,265.27 99.35,265.39 99.68,265.63 100.02,265.74 100.35,266.03 100.68,266.01 101.02,266.31 101.35,267.63 101.68,267.65 102.01,266.64 102.35,267.54 102.68,267.51 103.01,267.26 103.35,267.49 103.68,267.27 104.01,268.02 104.34,268.56 104.68,268.52 105.01,268.8 105.34,269.02 105.68,268.61 106.01,268.67 106.34,268.62 106.68,268.76 107.01,268.73 107.34,268.69 107.68,268.93 108.01,268.71 108.34,268.57 108.67,268.77 109.01,268.66 109.34,269.17 109.67,269.25 110.01,269.26 110.34,268.7 110.67,268.72 111,268.16 111.34,268.05 111.67,268.77 112,269.51 112.34,269.66 112.67,270.17 113,270.52 113.34,271.16 113.67,271.19 114,271.39 114.34,271.58 114.67,271.75 115,272.27 115.33,273.02 115.67,272.89 116,273.05 116.33,273.09 116.67,272.74 117,273.03 117.33,272.69 117.66,273.03 118,273.16 118.33,273.32 118.66,273.46 119,274.14 119.33,273.77 119.66,274.04 120,274.51 120.33,274.23 120.66,274.24 121,274 121.33,274.16 121.66,274.34 121.99,275.05 122.33,274.57 122.66,274.42 122.99,274.6 123.33,274.83 123.66,274.82 123.99,275.55 124.32,275.59 124.66,275.82 124.99,276.34 125.32,276.22 125.66,276.23 125.99,275.76 126.32,275.85 126.66,276.72 126.99,277.37 127.32,277.09 127.66,277.01 127.99,277.22 128.32,277.57 128.65,277.49 128.99,277.78 129.32,277.79 129.65,277.37 129.99,277.43 130.32,277.9 130.65,278.17 130.99,277.94 131.32,277.22 131.65,277.6 131.98,277.21 132.32,277.88 132.65,277.94 132.98,277.82 133.32,278.35 133.65,278.34 133.98,278.81 134.31,278.44 134.65,278.11 134.98,278.59 135.31,278.64 135.65,278.81 135.98,279.65 136.31,278.48 136.65,278.64 136.98,278.6 137.31,278.89 137.65,279.12 137.98,278.59 138.31,279.63 138.64,279.77 138.98,279.79 139.31,279.93 139.64,279.58 139.98,279.85 140.31,280.19 140.64,280.33 140.97,279.94 141.31,279.7 141.64,279.55 141.97,279.36 142.31,279.99 142.64,279.86 142.97,279.93 143.31,280.23 143.64,280.55 143.97,280.26 144.31,280.63 144.64,280.64 144.97,280.85 145.3,280.15 145.64,280.36 145.97,280.63 146.3,280.61 146.64,280.58 146.97,280.58 147.3,281.25 147.63,281.28 147.97,280.9 148.3,280.62 148.63,281.12 148.97,281.11 149.3,281.3 149.63,281.93 149.97,281.76 150.3,281.82 150.63,281.24 150.97,281.41 151.3,281.39 151.63,281.77 151.96,281.57 152.3,282.07 152.63,281.78 152.96,281.28 153.3,281.81 153.63,281.47 153.96,281.27 154.3,281.53 154.63,281.26 154.96,281.41 155.29,281.67 155.63,282.29 155.96,282.25 156.29,282.41 156.63,281.35 156.96,281.47 157.29,281.64 157.62,282.19 157.96,281.52 158.29,282.12 158.62,281.53 158.96,281.36 159.29,281.72 159.62,282.24 159.96,282.27 160.29,282.82 160.62,282.48 160.96,282.07 161.29,282.12 161.62,282.13 161.95,282.67 162.29,282.54 162.62,282.84 162.95,282.86 163.29,282.43 163.62,281.73 163.95,282.13 164.28,282.29 164.62,283 164.95,282.73 165.28,282.82 165.62,282.99 165.95,283.14 166.28,282.6 166.62,282.52 166.95,282.2 167.28,282.19 167.28,290.29 166.95,290.06 166.62,290.51 166.28,290.58 165.95,290.96 165.62,290.86 165.28,290.58 164.95,290.33 164.62,290.7 164.28,290.04 163.95,289.84 163.62,289.5 163.29,290.33 162.95,290.68 162.62,290.72 162.29,290.3 161.95,290.18 161.62,289.57 161.29,289.6 160.96,289.58 160.62,290.14 160.29,290.54 159.96,290.2 159.62,290.17 159.29,289.88 158.96,289.66 158.62,289.7 158.29,290.13 157.96,289.55 157.62,290.25 157.29,289.79 156.96,289.53 156.63,289.38 156.29,290.54 155.96,290.35 155.63,290.2 155.29,289.51 154.96,289.14 154.63,288.81 154.3,288.97 153.96,288.52 153.63,288.97 153.3,289.32 152.96,288.73 152.63,289.3 152.3,289.78 151.96,289.17 151.63,289.47 151.3,288.91 150.97,288.85 150.63,288.83 150.3,289.3 149.97,289.09 149.63,289.46 149.3,288.78 148.97,288.59 148.63,288.75 148.3,288.26 147.97,288.74 147.63,289.23 147.3,289 146.97,288.54 146.64,288.64 146.3,288.5 145.97,288.32 145.64,288.02 145.3,287.75 144.97,288.44 144.64,288.1 144.31,287.96 143.97,287.61 143.64,287.95 143.31,287.56 142.97,287.25 142.64,287.26 142.31,287.49 141.97,287.02 141.64,287.38 141.31,287.44 140.97,287.87 140.64,288.28 140.31,288.12 139.98,287.7 139.64,287.3 139.31,287.47 138.98,287.56 138.64,287.32 138.31,287.24 137.98,286.11 137.65,286.67 137.31,286.47 136.98,286.35 136.65,286.22 136.31,286.11 135.98,287.23 135.65,286.65 135.31,286.35 134.98,286.38 134.65,285.93 134.31,286.18 133.98,286.51 133.65,286.01 133.32,286.02 132.98,285.71 132.65,285.91 132.32,285.64 131.98,285.08 131.65,285.57 131.32,285.07 130.99,285.56 130.65,285.49 130.32,285.09 129.99,284.84 129.65,284.86 129.32,285.32 128.99,285.29 128.65,285.09 128.32,285.39 127.99,285.08 127.66,284.8 127.32,284.81 126.99,285.03 126.66,284.43 126.32,283.47 125.99,283.32 125.66,283.57 125.32,283.56 124.99,283.69 124.66,283.21 124.32,282.99 123.99,283.2 123.66,282.54 123.33,282.63 122.99,282.34 122.66,282.11 122.33,282.29 121.99,282.96 121.66,282.05 121.33,281.76 121,281.65 120.66,281.83 120.33,281.75 120,281.84 119.66,281.31 119.33,281.17 119,281.43 118.66,280.66 118.33,280.73 118,280.6 117.66,280.63 117.33,280.38 117,280.73 116.67,280.61 116.33,281.02 116,280.75 115.67,280.45 115.33,280.41 115,279.4 114.67,278.64 114.34,278.31 114,278.15 113.67,277.93 113.34,278.16 113,277.67 112.67,277.44 112.34,277.16 112,277.25 111.67,276.42 111.34,275.67 111,275.66 110.67,276.05 110.34,276.03 110.01,276.48 109.67,276.25 109.34,276.39 109.01,275.88 108.67,276.04 108.34,276.09 108.01,276.08 107.68,276.36 107.34,276.09 107.01,275.89 106.68,276.02 106.34,275.71 106.01,275.45 105.68,275.6 105.34,275.9 105.01,275.66 104.68,275.61 104.34,275.75 104.01,275.47 103.68,274.75 103.35,275.03 103.01,274.74 102.68,274.98 102.35,274.88 102.01,273.9 101.68,274.75 101.35,274.95 101.02,273.63 100.68,273.6 100.35,273.77 100.02,273.5 99.68,273.44 99.35,273.32 99.02,273.04 98.68,272.72 98.35,273.01 98.02,272.72 97.69,272.33 97.35,272.14 97.02,272.4 96.69,272.59 96.35,272.49 96.02,272.49 95.69,272.21 95.35,271.81 95.02,271.83 94.69,271.93 94.36,272.36 94.02,272.18 93.69,271.95 93.36,272.17 93.02,272.13 92.69,271.75 92.36,272.35 92.02,272.01 91.69,272.83 91.36,272.43 91.03,272.43 90.69,272.46 90.36,272.86 90.03,273.09 89.69,273.59 89.36,273.42 89.03,273.07 88.69,273.04 88.36,273.28 88.03,273.26 87.69,273.44 87.36,273.51 87.03,273.35 86.7,273.66 86.36,273.99 86.03,273.81 85.7,273.82 85.36,273.79 85.03,273.99 84.7,273.69 84.37,273.92 84.03,273.9 83.7,274.39 83.37,274.82 83.03,274.96 82.7,274.95 82.37,275.3 82.03,275.7 81.7,275.18 81.37,275.85 81.03,276.04 80.7,275.81 80.37,275.78 80.04,275.86 79.7,276.1 79.37,277.02 79.04,277.6 78.7,277.84 78.37,278.09 78.04,278.28 77.7,278.6 77.37,278.86 77.04,279.54 76.71,279.51 76.37,280.35 76.04,280.92 75.71,281.48 75.37,282.29 75.04,281.96 74.71,282.84 74.38,283.57 74.04,283.81 73.71,284.16 73.38,284.83 73.04,284.86 72.71,284.98 72.38,285.82 72.04,285.91 71.71,286.57 71.38,286.72 71.05,287.49 70.71,287.75 70.38,287.99 70.05,288.88 69.71,289.77 69.38,290.12 69.05,290.87 68.71,291.3 68.38,291.13 68.05,291.18 67.72,291.77 67.38,293 67.05,293.33 66.72,294.31 66.38,294.45 66.05,295.51 65.72,295.48 65.38,296.41 65.05,296.83 64.72,296.84 64.39,297.29 64.05,297.7 63.72,298.28 63.39,300.04 63.05,300.45 62.72,300.61 62.39,301.63 62.05,301.63 61.72,302.29 61.39,302.38 61.05,303.59 60.72,304.24 60.39,305.08 60.06,306.12 59.72,305.6 59.39,306.31 59.06,306.88 58.72,307.59 58.39,308.27 58.06,308.96 57.73,308.92 57.39,310.04 57.06,310.04 56.73,310.59 56.39,310.72 56.06,311.13 55.73,311.68 55.39,312.37 55.06,312.59 54.73,312.96 54.39,314.31 54.06,313.82 53.73,314.09 53.4,314.79 53.06,315.09 52.73,315.64 52.4,316.13 52.06,316.48 51.73,316.72 51.4,317.02 51.06,317.39 50.73,317.13 50.4,317.64 50.07,317.95 49.73,318.38 49.4,318.15" fill="#dcdcdc" stroke="#d0d0d0" stroke-width="0.5"/>
<polyline points="49.4,316.16 49.73,315.44 50.07,315.35 50.4,315.39 50.73,315.31 51.06,314.65 51.4,314.47 51.73,314.32 52.06,313.44 52.4,312.43 52.73,311.38 53.06,310.97 53.4,310.04 53.73,309.19 54.06,308.88 54.39,307.59 54.73,306.63 55.06,305.02 55.39,304.6 55.73,304.12 56.06,303 56.39,302.41 56.73,301.47 57.06,301.06 57.39,300.25 57.73,299.17 58.06,298.35 58.39,297.64 58.72,297.27 59.06,296.09 59.39,295.19 59.72,294.06 60.06,293.23 60.39,292.05 60.72,291.42 61.05,290.57 61.39,289.51 61.72,289.06 62.05,288.09 62.39,287.14 62.72,285.27 63.05,284.58 63.39,283.46 63.72,282.41 64.05,281.71 64.39,281.41 64.72,279.91 65.05,279.2 65.38,277.98 65.72,277.65 66.05,276.72 66.38,275.2 66.72,273.92 67.05,273.81 67.38,273.29 67.72,272.1 68.05,270.76 68.38,269.82 68.71,268.83 69.05,268.33 69.38,267.05 69.71,265.75 70.05,265.19 70.38,264.77 70.71,263.83 71.05,262.34 71.38,262 71.71,260.76 72.04,259.98 72.38,258.8 72.71,257.77 73.04,256.64 73.38,254.94 73.71,253.92 74.04,252.53 74.38,251.81 74.71,251.02 75.04,249.77 75.37,249.73 75.71,248.75 76.04,248.31 76.37,248.53 76.71,247.96 77.04,247.98 77.37,248.6 77.7,248.04 78.04,247.96 78.37,247.67 78.7,247.31 79.04,246.55 79.37,246.5 79.7,246.44 80.04,245.99 80.37,246.25 80.7,245.05 81.03,245.04 81.37,244.25 81.7,244.18 82.03,243.85 82.37,243.24 82.7,241.87 83.03,241.7 83.37,241.99 83.7,241.95 84.03,242.16 84.37,241.78 84.7,241.71 85.03,241.13 85.36,241.5 85.7,241.41 86.03,241.66 86.36,241.8 86.7,241.42 87.03,241.5 87.36,241.44 87.69,241.25 88.03,241.23 88.36,242.18 88.69,242.03 89.03,242.84 89.36,242.75 89.69,242.16 90.03,242.75 90.36,243.23 90.69,243.4 91.03,243.67 91.36,243.92 91.69,244.46 92.02,244.19 92.36,244.25 92.69,244.81 93.02,245.02 93.36,245.07 93.69,245.07 94.02,245.39 94.36,245.55 94.69,246.07 95.02,246.71 95.35,246.93 95.69,246.6 96.02,246.55 96.35,247 96.69,247.62 97.02,247.76 97.35,247.48 97.69,247.59 98.02,248.52 98.35,248.89 98.68,249.72 99.02,250.16 99.35,250.05 99.68,250.19 100.02,250.06 100.35,250.03 100.68,250.31 101.02,250.41 101.35,251.27 101.68,252.05 102.01,252 102.35,251.33 102.68,251.97 103.01,252.96 103.35,253.1 103.68,252.89 104.01,253.8 104.34,253.73 104.68,254.34 105.01,254.11 105.34,254.31 105.68,254.72 106.01,254.45 106.34,255.32 106.68,255.99 107.01,255.55 107.34,256.45 107.68,255.93 108.01,256.61 108.34,257.45 108.67,257.57 109.01,257.65 109.34,257.74 109.67,258.02 110.01,257.78 110.34,258.97 110.67,259.01 111,259.01 111.34,258.35 111.67,259.47 112,259.52 112.34,259.92 112.67,260.03 113,259.71 113.34,259.71 113.67,259.43 114,260.1 114.34,260.21 114.67,260.03 115,260.11 115.33,260.69 115.67,260.53 116,261.28 116.33,260.75 116.67,261.17 117,261.56 117.33,261.7 117.66,261.64 118,261.32 118.33,261.89 118.66,262.31 119,262.23 119.33,262.77 119.66,263.39 120,262.84 120.33,263.06 120.66,262.69 121,263.32 121.33,264.37 121.66,263.8 121.99,263.62 122.33,263.07 122.66,263.23 122.99,263.45 123.33,263.51 123.66,263.94 123.99,264.05 124.32,264.67 124.66,264.37 124.99,264.74 125.32,264.86 125.66,264.56 125.99,264.39 126.32,265.05 126.66,264.35 126.99,265 127.32,264.9 127.66,264.89 127.99,265.21 128.32,265.47 128.65,265.09 128.99,265.3 129.32,265.64 129.65,266.7 129.99,266.91 130.32,266.41 130.65,266.58 130.99,267.15 131.32,267.4 131.65,267.46 131.98,267.17 132.32,267.19 132.65,267.03 132.98,267.65 133.32,267.36 133.65,267.81 133.98,268.01 134.31,267.43 134.65,267.79 134.98,268.09 135.31,268.32 135.65,268.55 135.98,268.02 136.31,267.85 136.65,268.02 136.98,268.33 137.31,268.2 137.65,268.57 137.98,268.59 138.31,268.65 138.64,268.82 138.98,268.38 139.31,268.15 139.64,268.21 139.98,269.44 140.31,268.73 140.64,268.82 140.97,269.28 141.31,269.37 141.64,269.01 141.97,268.83 142.31,268.87 142.64,269.15 142.97,269.35 143.31,269.17 143.64,269.43 143.97,269.86 144.31,269.99 144.64,269.89 144.97,269.69 145.3,268.91 145.64,269.81 145.97,269.6 146.3,269.7 146.64,269.6 146.97,269.18 147.3,269.01 147.63,269.42 147.97,269.78 148.3,270.24 148.63,270.01 148.97,269.42 149.3,269.67 149.63,269.45 149.97,269.33 150.3,269.42 150.63,269.23 150.97,269.59 151.3,270.03 151.63,270.4 151.96,269.84 152.3,270.04 152.63,270.14 152.96,269.79 153.3,270.22 153.63,269.53 153.96,269.6 154.3,270.08 154.63,270.37 154.96,269.85 155.29,270.39 155.63,270.45 155.96,270.23 156.29,270.03 156.63,269.98 156.96,269.81 157.29,269.98 157.62,269.96 157.96,269.43 158.29,269.38 158.62,269.73 158.96,269.11 159.29,270.14 159.62,270.05 159.96,269.86 160.29,269.72 160.62,270.03 160.96,270.42 161.29,270.34 161.62,270.64 161.95,270.62 162.29,271.86 162.62,271.39 162.95,271.64 163.29,271.22 163.62,271.14 163.95,271.17 164.28,271.66 164.62,271.67 164.95,272.02 165.28,272.07 165.62,272.28 165.95,272.72 166.28,271.98 166.62,272.13 166.95,273.24 167.28,272.69" fill="none" stroke="#0f4c89" stroke-width="1.9" stroke-linejoin="round"/>
<polyline points="49.4,316.79 49.73,316.97 50.07,316.54 50.4,316.2 50.73,315.63 51.06,315.84 51.4,315.45 51.73,315.16 52.06,314.93 52.4,314.54 52.73,314.05 53.06,313.53 53.4,313.22 53.73,312.43 54.06,312.12 54.39,312.57 54.73,311.2 55.06,310.79 55.39,310.47 55.73,309.78 56.06,309.22 56.39,308.78 56.73,308.62 57.06,307.99 57.39,308 57.73,306.85 58.06,306.86 58.39,306.15 58.72,305.4 59.06,304.66 59.39,304.11 59.72,303.29 60.06,303.86 60.39,302.76 60.72,301.92 61.05,301.26 61.39,300.01 61.72,299.85 62.05,299.18 62.39,299.13 62.72,298.13 63.05,297.93 63.39,297.53 63.72,295.8 64.05,295.17 64.39,294.79 64.72,294.25 65.05,294.21 65.38,293.77 65.72,292.8 66.05,292.83 66.38,291.79 66.72,291.63 67.05,290.66 67.38,290.32 67.72,288.99 68.05,288.3 68.38,288.18 68.71,288.3 69.05,287.74 69.38,286.98 69.71,286.63 70.05,285.79 70.38,284.97 70.71,284.67 71.05,284.43 71.38,283.7 71.71,283.46 72.04,282.75 72.38,282.55 72.71,281.62 73.04,281.52 73.38,281.4 73.71,280.7 74.04,280.31 74.38,279.93 74.71,279.22 75.04,278.31 75.37,278.53 75.71,277.71 76.04,277.07 76.37,276.49 76.71,275.64 77.04,275.62 77.37,274.89 77.7,274.74 78.04,274.43 78.37,274.25 78.7,274.07 79.04,273.92 79.37,273.42 79.7,272.51 80.04,272.26 80.37,272.2 80.7,272.19 81.03,272.45 81.37,272.17 81.7,271.5 82.03,272.17 82.37,271.77 82.7,271.44 83.03,271.44 83.37,271.19 83.7,270.8 84.03,270.26 84.37,270.2 84.7,269.97 85.03,270.2 85.36,270.08 85.7,270.21 86.03,270.22 86.36,270.43 86.7,270.14 87.03,269.72 87.36,269.99 87.69,269.96 88.03,269.8 88.36,269.87 88.69,269.59 89.03,269.63 89.36,270.07 89.69,270.22 90.03,269.7 90.36,269.4 90.69,268.98 91.03,268.96 91.36,268.88 91.69,269.32 92.02,268.52 92.36,268.77 92.69,268.18 93.02,268.5 93.36,268.58 93.69,268.39 94.02,268.49 94.36,268.64 94.69,268.23 95.02,268.1 95.35,268.14 95.69,268.4 96.02,268.7 96.35,268.75 96.69,268.81 97.02,268.69 97.35,268.39 97.69,268.55 98.02,269 98.35,269.27 98.68,268.89 99.02,269.15 99.35,269.36 99.68,269.54 100.02,269.62 100.35,269.9 100.68,269.81 101.02,269.97 101.35,271.29 101.68,271.2 102.01,270.27 102.35,271.21 102.68,271.24 103.01,271 103.35,271.26 103.68,271.01 104.01,271.75 104.34,272.15 104.68,272.06 105.01,272.23 105.34,272.46 105.68,272.11 106.01,272.06 106.34,272.17 106.68,272.39 107.01,272.31 107.34,272.39 107.68,272.64 108.01,272.39 108.34,272.33 108.67,272.4 109.01,272.27 109.34,272.78 109.67,272.75 110.01,272.87 110.34,272.36 110.67,272.38 111,271.91 111.34,271.86 111.67,272.6 112,273.38 112.34,273.41 112.67,273.8 113,274.1 113.34,274.66 113.67,274.56 114,274.77 114.34,274.95 114.67,275.2 115,275.84 115.33,276.71 115.67,276.67 116,276.9 116.33,277.05 116.67,276.67 117,276.88 117.33,276.53 117.66,276.83 118,276.88 118.33,277.02 118.66,277.06 119,277.78 119.33,277.47 119.66,277.67 120,278.18 120.33,277.99 120.66,278.04 121,277.83 121.33,277.96 121.66,278.2 121.99,279 122.33,278.43 122.66,278.27 122.99,278.47 123.33,278.73 123.66,278.68 123.99,279.37 124.32,279.29 124.66,279.52 124.99,280.01 125.32,279.89 125.66,279.9 125.99,279.54 126.32,279.66 126.66,280.58 126.99,281.2 127.32,280.95 127.66,280.9 127.99,281.15 128.32,281.48 128.65,281.29 128.99,281.53 129.32,281.55 129.65,281.12 129.99,281.13 130.32,281.5 130.65,281.83 130.99,281.75 131.32,281.15 131.65,281.59 131.98,281.15 132.32,281.76 132.65,281.92 132.98,281.76 133.32,282.18 133.65,282.18 133.98,282.66 134.31,282.31 134.65,282.02 134.98,282.48 135.31,282.5 135.65,282.73 135.98,283.44 136.31,282.3 136.65,282.43 136.98,282.48 137.31,282.68 137.65,282.89 137.98,282.35 138.31,283.44 138.64,283.55 138.98,283.68 139.31,283.7 139.64,283.44 139.98,283.78 140.31,284.15 140.64,284.3 140.97,283.9 141.31,283.57 141.64,283.47 141.97,283.19 142.31,283.74 142.64,283.56 142.97,283.59 143.31,283.89 143.64,284.25 143.97,283.94 144.31,284.29 144.64,284.37 144.97,284.64 145.3,283.95 145.64,284.19 145.97,284.47 146.3,284.55 146.64,284.61 146.97,284.56 147.3,285.12 147.63,285.25 147.97,284.82 148.3,284.44 148.63,284.93 148.97,284.85 149.3,285.04 149.63,285.69 149.97,285.43 150.3,285.56 150.63,285.03 150.97,285.13 151.3,285.15 151.63,285.62 151.96,285.37 152.3,285.92 152.63,285.54 152.96,285 153.3,285.57 153.63,285.22 153.96,284.89 154.3,285.25 154.63,285.04 154.96,285.27 155.29,285.59 155.63,286.24 155.96,286.3 156.29,286.47 156.63,285.37 156.96,285.5 157.29,285.72 157.62,286.22 157.96,285.53 158.29,286.12 158.62,285.61 158.96,285.51 159.29,285.8 159.62,286.2 159.96,286.24 160.29,286.68 160.62,286.31 160.96,285.83 161.29,285.86 161.62,285.85 161.95,286.42 162.29,286.42 162.62,286.78 162.95,286.77 163.29,286.38 163.62,285.62 163.95,285.99 164.28,286.17 164.62,286.85 164.95,286.53 165.28,286.7 165.62,286.92 165.95,287.05 166.28,286.59 166.62,286.52 166.95,286.13 167.28,286.24" fill="none" stroke="#c8102e" stroke-width="1.9" stroke-linejoin="round"/>
<circle cx="136.9" cy="259.1" r="1.1" fill="#0f4c89"/>
<text x="140.24" y="261.5" font-size="8.2" fill="#231f20" textLength="9.02" lengthAdjust="spacingAndGlyphs">FV</text>
<text x="149.54" y="257.8" font-size="5.6" class="nb" fill="#231f20" textLength="10.75" lengthAdjust="spacingAndGlyphs">Q/Q</text>
<circle cx="136.9" cy="297.2" r="1.1" fill="#c8102e"/>
<text x="140.56" y="298.6" font-size="7.6" fill="#231f20" textLength="32.31" lengthAdjust="spacingAndGlyphs">Wild-type</text>
<text x="179.02" y="222.4" font-size="11.2" font-weight="bold" fill="#000" textLength="8.71" lengthAdjust="spacingAndGlyphs">C</text>
<text x="235.54" y="225.9" font-size="10.4" fill="#231f20" textLength="90.17" lengthAdjust="spacingAndGlyphs">P-selectin expression</text>
<line x1="221" y1="225.4" x2="221" y2="319.8" stroke="#000" stroke-width="0.9"/>
<line x1="217.8" y1="319.3" x2="221" y2="319.3" stroke="#000" stroke-width="0.9"/>
<text x="211" y="322.3" font-size="8.75" fill="#231f20" textLength="4.28" lengthAdjust="spacingAndGlyphs">0</text>
<line x1="217.8" y1="296.9" x2="221" y2="296.9" stroke="#000" stroke-width="0.9"/>
<text x="202.46" y="299.9" font-size="8.75" fill="#231f20" textLength="12.84" lengthAdjust="spacingAndGlyphs">100</text>
<line x1="217.8" y1="274.5" x2="221" y2="274.5" stroke="#000" stroke-width="0.9"/>
<text x="202.46" y="277.5" font-size="8.75" fill="#231f20" textLength="12.84" lengthAdjust="spacingAndGlyphs">200</text>
<line x1="217.8" y1="252.1" x2="221" y2="252.1" stroke="#000" stroke-width="0.9"/>
<text x="202.46" y="255.1" font-size="8.75" fill="#231f20" textLength="12.84" lengthAdjust="spacingAndGlyphs">300</text>
<line x1="217.8" y1="229.7" x2="221" y2="229.7" stroke="#000" stroke-width="0.9"/>
<text x="202.46" y="232.7" font-size="8.75" fill="#231f20" textLength="12.84" lengthAdjust="spacingAndGlyphs">400</text>
<line x1="220.55" y1="319.3" x2="340" y2="319.3" stroke="#000" stroke-width="0.9"/>
<line x1="221" y1="319.3" x2="221" y2="322.3" stroke="#000" stroke-width="0.9"/>
<text x="218.85" y="330.7" font-size="8.75" fill="#231f20" textLength="4.28" lengthAdjust="spacingAndGlyphs">0</text>
<line x1="254.25" y1="319.3" x2="254.25" y2="322.3" stroke="#000" stroke-width="0.9"/>
<text x="249.96" y="330.7" font-size="8.75" fill="#231f20" textLength="8.56" lengthAdjust="spacingAndGlyphs">50</text>
<line x1="287.5" y1="319.3" x2="287.5" y2="322.3" stroke="#000" stroke-width="0.9"/>
<text x="280.94" y="330.7" font-size="8.75" fill="#231f20" textLength="12.84" lengthAdjust="spacingAndGlyphs">100</text>
<line x1="320.75" y1="319.3" x2="320.75" y2="322.3" stroke="#000" stroke-width="0.9"/>
<text x="314.19" y="330.7" font-size="8.75" fill="#231f20" textLength="12.84" lengthAdjust="spacingAndGlyphs">150</text>
<text x="264.16" y="342.9" font-size="9.4" fill="#231f20" textLength="33.41" lengthAdjust="spacingAndGlyphs">Time (sec)</text>
<g transform="translate(196,271.8) rotate(-90)"><text x="-35.91" y="0" font-size="9.3" fill="#231f20" textLength="71.68" lengthAdjust="spacingAndGlyphs">P-selectin area (μm²)</text></g>
<polygon points="221,317.9 221.33,317.49 221.66,317.06 222,317.34 222.33,317.74 222.66,317.45 223,317.06 223.33,316.63 223.66,317.22 223.99,317.5 224.32,316.9 224.66,316.63 224.99,316.09 225.32,316 225.66,316.31 225.99,316.5 226.32,315.49 226.65,315.95 226.99,316.35 227.32,316.62 227.65,316.29 227.98,316.05 228.31,316.06 228.65,315.91 228.98,315.7 229.31,315.37 229.65,315.03 229.98,315.12 230.31,315.74 230.64,315.09 230.97,315.44 231.31,315.09 231.64,315.3 231.97,314.8 232.31,314.72 232.64,314.27 232.97,312.83 233.3,313.23 233.63,313.03 233.97,313.63 234.3,313.31 234.63,312.65 234.97,312.43 235.3,311.97 235.63,311.69 235.96,311.75 236.3,311.08 236.63,311.08 236.96,309.95 237.29,310.06 237.62,309.58 237.96,309.43 238.29,308.87 238.62,309.01 238.96,308.35 239.29,308.28 239.62,307.67 239.95,307.43 240.28,307.31 240.62,307.51 240.95,306.9 241.28,306.56 241.62,305.86 241.95,306.03 242.28,305.65 242.61,305.33 242.94,305.05 243.28,304.81 243.61,304.59 243.94,304.55 244.28,304.53 244.61,304.07 244.94,303.39 245.27,302.57 245.6,302.12 245.94,301.71 246.27,301.47 246.6,301.3 246.94,301.31 247.27,300.91 247.6,300.25 247.93,300.52 248.26,300.63 248.6,299.59 248.93,299.55 249.26,299.1 249.59,298.77 249.93,299.1 250.26,297.83 250.59,297.27 250.93,297.49 251.26,297.24 251.59,297.11 251.92,297.27 252.25,296.95 252.59,296.54 252.92,295.94 253.25,295.57 253.59,295.46 253.92,294.85 254.25,295.18 254.58,294.61 254.91,293.99 255.25,294.09 255.58,294.52 255.91,294.22 256.25,293.54 256.58,292.91 256.91,292.14 257.24,292.53 257.57,292.2 257.91,291.59 258.24,291.42 258.57,291.92 258.9,290.79 259.24,289.5 259.57,289.19 259.9,289.47 260.24,289.33 260.57,288.82 260.9,287.57 261.23,287.53 261.56,287.44 261.9,286.68 262.23,286.74 262.56,285.93 262.89,286.39 263.23,286.36 263.56,285.71 263.89,285.06 264.23,284.85 264.56,284.74 264.89,285.36 265.22,285.07 265.56,284.88 265.89,284.63 266.22,283.93 266.55,283.8 266.88,283.16 267.22,282.87 267.55,282.72 267.88,282.28 268.22,281.71 268.55,281.11 268.88,281.08 269.21,280.79 269.55,280.9 269.88,279.73 270.21,279.02 270.54,279.12 270.88,279.13 271.21,279.22 271.54,278.62 271.87,278.11 272.2,277.1 272.54,277.08 272.87,277.33 273.2,277.95 273.54,276.75 273.87,276.51 274.2,276.99 274.53,276.39 274.87,276.73 275.2,275 275.53,274.74 275.86,274.73 276.19,274.83 276.53,275.4 276.86,274.88 277.19,274.91 277.52,274.05 277.86,274.54 278.19,274.29 278.52,273.23 278.86,272.47 279.19,273.04 279.52,273.31 279.85,272.52 280.19,272.04 280.52,272.3 280.85,272.22 281.18,272.08 281.51,272.06 281.85,271.75 282.18,270.73 282.51,270.25 282.85,269.31 283.18,269.51 283.51,269.52 283.84,269.55 284.18,269.22 284.51,269.32 284.84,269.34 285.17,268.38 285.5,267.52 285.84,267.13 286.17,266.71 286.5,266.77 286.84,266.89 287.17,266.61 287.5,266.38 287.83,266.31 288.17,266.44 288.5,266.11 288.83,265.23 289.16,264.77 289.5,264.48 289.83,263.63 290.16,263.52 290.49,263.01 290.82,262.58 291.16,262.97 291.49,263.25 291.82,262.38 292.15,262.29 292.49,261.3 292.82,261.07 293.15,260.5 293.49,260.26 293.82,261.02 294.15,260.28 294.48,260.28 294.81,260.3 295.15,260.02 295.48,259.36 295.81,258.74 296.14,258.26 296.48,258.84 296.81,258.58 297.14,258.86 297.48,258.11 297.81,257.21 298.14,257.14 298.47,256.56 298.81,256.07 299.14,255.37 299.47,255.63 299.8,255.65 300.13,255.44 300.47,254.26 300.8,253.85 301.13,254.02 301.47,253.86 301.8,253.56 302.13,253.2 302.46,253.11 302.8,252.97 303.13,253.06 303.46,252.78 303.79,251.67 304.12,251.31 304.46,251.12 304.79,250.96 305.12,250.78 305.45,250.52 305.79,250.52 306.12,250.05 306.45,249.75 306.79,249.92 307.12,249.87 307.45,249.74 307.78,249.56 308.12,248.55 308.45,249.08 308.78,248.47 309.11,248.09 309.44,247.8 309.78,247.22 310.11,246.4 310.44,246.28 310.77,246.13 311.11,246.25 311.44,246.01 311.77,245.32 312.11,245.27 312.44,245.36 312.77,245.48 313.1,245.39 313.44,245.26 313.77,244.07 314.1,243.78 314.43,243.68 314.76,242.86 315.1,243.1 315.43,242.58 315.76,242.1 316.1,242.62 316.43,242.76 316.76,242.55 317.09,241.82 317.43,241 317.76,241.53 318.09,240.95 318.42,241.06 318.75,240.95 319.09,240.78 319.42,240.49 319.75,240.8 320.09,240.53 320.42,240.34 320.75,239.51 321.08,238.49 321.42,237.67 321.75,238.12 322.08,238.78 322.41,238.59 322.75,238.65 323.08,237.64 323.41,237.41 323.74,237.75 324.07,237.4 324.41,237.24 324.74,237.81 325.07,237.51 325.4,237.15 325.74,236.84 326.07,236.59 326.4,236.43 326.74,236.26 327.07,236.41 327.4,236.61 327.73,235.73 328.06,235.65 328.4,235.56 328.73,236.26 329.06,235.98 329.39,235.42 329.73,235.85 330.06,235.26 330.39,235.53 330.73,235.18 331.06,235.08 331.39,234.85 331.72,234.23 332.06,234.46 332.39,233.87 332.72,234.21 333.05,234.37 333.38,233.94 333.72,234.37 334.05,234.29 334.38,233.78 334.72,233.37 335.05,234.23 335.38,233.94 335.71,233.16 336.05,233.08 336.38,233.56 336.71,233.89 337.04,234.09 337.38,234.65 337.71,234.51 338.04,234.53 338.37,234.38 338.71,233.94 338.71,244.41 338.37,244.93 338.04,244.85 337.71,245.02 337.38,245.1 337.04,244.92 336.71,244.92 336.38,244.46 336.05,243.94 335.71,243.99 335.38,244.51 335.05,244.89 334.72,243.9 334.38,244.12 334.05,244.62 333.72,244.82 333.38,244.61 333.05,245.24 332.72,244.92 332.39,244.31 332.06,244.97 331.72,244.66 331.39,245.04 331.06,245.17 330.73,245.06 330.39,245.26 330.06,245.27 329.73,246.07 329.39,245.63 329.06,246.15 328.73,246.39 328.4,245.86 328.06,246.01 327.73,246.08 327.4,246.94 327.07,246.93 326.74,246.88 326.4,247.2 326.07,247.04 325.74,247.24 325.4,247.45 325.07,247.54 324.74,247.49 324.41,246.78 324.07,246.91 323.74,247.5 323.41,247.11 323.08,247.05 322.75,248.17 322.41,248.12 322.08,248.21 321.75,247.56 321.42,246.91 321.08,247.87 320.75,249.03 320.42,249.81 320.09,249.93 319.75,250.17 319.42,249.88 319.09,250.07 318.75,250.09 318.42,250.16 318.09,250.17 317.76,251 317.43,250.65 317.09,251.22 316.76,252.29 316.43,252.59 316.1,252.41 315.76,251.83 315.43,252.09 315.1,252.54 314.76,252.24 314.43,252.94 314.1,253.01 313.77,253.45 313.44,254.35 313.1,254.39 312.77,254.62 312.44,254.69 312.11,254.42 311.77,254.28 311.44,254.83 311.11,255.14 310.77,255.22 310.44,255.24 310.11,255.31 309.78,256.01 309.44,256.52 309.11,256.81 308.78,257.07 308.45,257.66 308.12,257.06 307.78,257.89 307.45,258.05 307.12,258.15 306.79,258.31 306.45,258.41 306.12,258.83 305.79,259.21 305.45,259.16 305.12,259.66 304.79,260.05 304.46,260.08 304.12,260.11 303.79,260.34 303.46,261.44 303.13,261.76 302.8,261.61 302.46,261.78 302.13,261.95 301.8,262.14 301.47,262.26 301.13,262.56 300.8,262.59 300.47,263.11 300.13,264.18 299.8,264.32 299.47,264.39 299.14,264.23 298.81,264.74 298.47,265.03 298.14,265.48 297.81,265.49 297.48,266.14 297.14,266.92 296.81,266.43 296.48,266.64 296.14,266.05 295.81,266.49 295.48,266.98 295.15,267.78 294.81,268.14 294.48,268.42 294.15,268.49 293.82,269.31 293.49,268.63 293.15,268.99 292.82,269.42 292.49,269.68 292.15,270.48 291.82,270.53 291.49,271.44 291.16,270.85 290.82,270.58 290.49,271.24 290.16,271.42 289.83,271.6 289.5,272.58 289.16,272.68 288.83,273.35 288.5,273.95 288.17,273.94 287.83,273.86 287.5,273.66 287.17,273.68 286.84,274.04 286.5,273.74 286.17,273.79 285.84,274.37 285.5,274.75 285.17,275.71 284.84,276.74 284.51,276.63 284.18,276.55 283.84,276.98 283.51,276.73 283.18,276.79 282.85,276.61 282.51,277.39 282.18,277.82 281.85,278.74 281.51,279.02 281.18,279.02 280.85,279.17 280.52,279.25 280.19,278.94 279.85,279.5 279.52,280.4 279.19,280.13 278.86,279.68 278.52,280.48 278.19,281.49 277.86,281.85 277.52,281.36 277.19,282.08 276.86,281.76 276.53,282.2 276.19,281.38 275.86,281.13 275.53,281.07 275.2,281.11 274.87,282.96 274.53,282.74 274.2,283.21 273.87,282.93 273.54,283.34 273.2,284.6 272.87,284.07 272.54,283.85 272.2,283.79 271.87,284.91 271.54,285.28 271.21,285.82 270.88,285.62 270.54,285.58 270.21,285.43 269.88,286.08 269.55,287.25 269.21,287.13 268.88,287.31 268.55,287.23 268.22,287.75 267.88,288.14 267.55,288.51 267.22,288.66 266.88,288.87 266.55,289.59 266.22,289.89 265.89,290.61 265.56,290.97 265.22,291.35 264.89,291.53 264.56,290.99 264.23,291.07 263.89,291.24 263.56,291.92 263.23,292.39 262.89,292.37 262.56,292.02 262.23,292.73 261.9,292.59 261.56,293.25 261.23,293.24 260.9,293.4 260.57,294.6 260.24,295.04 259.9,295.24 259.57,294.79 259.24,295.11 258.9,296.27 258.57,297.21 258.24,296.63 257.91,296.75 257.57,297.24 257.24,297.57 256.91,297.24 256.58,298.1 256.25,298.66 255.91,299.36 255.58,299.56 255.25,299.13 254.91,299.07 254.58,299.54 254.25,300.1 253.92,299.84 253.59,300.5 253.25,300.51 252.92,300.76 252.59,301.43 252.25,301.96 251.92,302.26 251.59,302.02 251.26,301.97 250.93,302.21 250.59,302.07 250.26,302.51 249.93,303.66 249.59,303.15 249.26,303.44 248.93,303.84 248.6,303.87 248.26,304.89 247.93,304.75 247.6,304.49 247.27,305.21 246.94,305.58 246.6,305.71 246.27,305.97 245.94,306.17 245.6,306.48 245.27,306.76 244.94,307.57 244.61,308.26 244.28,308.54 243.94,308.5 243.61,308.45 243.28,308.74 242.94,308.96 242.61,309.13 242.28,309.46 241.95,309.82 241.62,309.51 241.28,310.24 240.95,310.56 240.62,311.16 240.28,311.02 239.95,311.04 239.62,311.25 239.29,311.94 238.96,311.95 238.62,312.54 238.29,312.36 237.96,312.87 237.62,313.02 237.29,313.53 236.96,313.33 236.63,314.39 236.3,314.34 235.96,314.97 235.63,314.78 235.3,315.01 234.97,315.37 234.63,315.54 234.3,316.13 233.97,316.39 233.63,315.76 233.3,315.93 232.97,315.49 232.64,316.86 232.31,317.31 231.97,317.32 231.64,317.79 231.31,317.56 230.97,317.89 230.64,317.51 230.31,318.13 229.98,317.42 229.65,317.29 229.31,317.6 228.98,317.87 228.65,318.1 228.31,318.2 227.98,318.16 227.65,318.37 227.32,318.71 226.99,318.41 226.65,318.03 226.32,317.48 225.99,318.41 225.66,318.21 225.32,317.86 224.99,317.94 224.66,318.44 224.32,318.64 223.99,319.21 223.66,318.89 223.33,318.28 223,318.69 222.66,319 222.33,319.24 222,318.8 221.66,318.5 221.33,318.95 221,319.33" fill="#dcdcdc" stroke="#d0d0d0" stroke-width="0.5"/>
<polygon points="221,318.11 221.33,317.82 221.66,317.79 222,317.82 222.33,317.42 222.66,317.45 223,317.53 223.33,316.95 223.66,317.3 223.99,317.7 224.32,317.92 224.66,317.73 224.99,317.29 225.32,316.99 225.66,316.74 225.99,316.4 226.32,316.24 226.65,316.45 226.99,316.36 227.32,316.48 227.65,316.88 227.98,316.63 228.31,316.71 228.65,316.82 228.98,316.18 229.31,316.21 229.65,316.57 229.98,316.6 230.31,315.86 230.64,316.15 230.97,315.97 231.31,315.87 231.64,315.76 231.97,315.61 232.31,315.81 232.64,315.84 232.97,315.72 233.3,315.65 233.63,315.18 233.97,314.72 234.3,315.17 234.63,314.9 234.97,315.13 235.3,315.11 235.63,314.9 235.96,314.63 236.3,314.59 236.63,315.12 236.96,314.18 237.29,314.15 237.62,314.19 237.96,313.74 238.29,313.85 238.62,314.09 238.96,313.6 239.29,313.28 239.62,313.43 239.95,312.94 240.28,312.78 240.62,313.08 240.95,312.31 241.28,312.32 241.62,312.72 241.95,312.33 242.28,312.18 242.61,311.81 242.94,312.22 243.28,311.63 243.61,311.33 243.94,311.13 244.28,311.05 244.61,310.76 244.94,310.72 245.27,310.85 245.6,311.18 245.94,310.68 246.27,310.46 246.6,310.48 246.94,310.49 247.27,310.27 247.6,311.02 247.93,310.5 248.26,311 248.6,310.36 248.93,309.72 249.26,309.12 249.59,309.46 249.93,309.31 250.26,309.29 250.59,309.85 250.93,309.22 251.26,309.12 251.59,308.96 251.92,309.08 252.25,308.85 252.59,308.67 252.92,308.17 253.25,308.17 253.59,307.15 253.92,307.69 254.25,307.95 254.58,307.95 254.91,308.14 255.25,307.48 255.58,307.3 255.91,307.74 256.25,307.54 256.58,307.07 256.91,307.54 257.24,307.24 257.57,307.2 257.91,306.41 258.24,306.47 258.57,306.69 258.9,306.75 259.24,306 259.57,306.23 259.9,305.49 260.24,306.17 260.57,306.08 260.9,306 261.23,306.01 261.56,305.9 261.9,305.5 262.23,305.65 262.56,305.91 262.89,305.18 263.23,304.75 263.56,305.17 263.89,304.96 264.23,305.7 264.56,304.96 264.89,305.24 265.22,305.14 265.56,304.18 265.89,304.67 266.22,304.55 266.55,304.8 266.88,305.13 267.22,305.09 267.55,304.64 267.88,304.8 268.22,304.68 268.55,304.14 268.88,304.12 269.21,304.32 269.55,303.56 269.88,303.55 270.21,303.12 270.54,303.47 270.88,302.77 271.21,303.26 271.54,303.61 271.87,303.29 272.2,303.04 272.54,302.69 272.87,302.69 273.2,302.29 273.54,301.74 273.87,301.99 274.2,302.31 274.53,302.05 274.87,301.53 275.2,301.24 275.53,301.42 275.86,301.62 276.19,301.39 276.53,300.92 276.86,301.13 277.19,300.56 277.52,300.51 277.86,300.35 278.19,300.49 278.52,299.83 278.86,299.71 279.19,300 279.52,299.4 279.85,299.3 280.19,298.76 280.52,298.61 280.85,298.73 281.18,298.5 281.51,298.44 281.85,298.38 282.18,298.03 282.51,297.52 282.85,297.46 283.18,297.25 283.51,297.25 283.84,296.88 284.18,296.67 284.51,296.24 284.84,296.05 285.17,295.27 285.5,295.93 285.84,295.67 286.17,295.21 286.5,294.87 286.84,295.4 287.17,295.43 287.5,295.04 287.83,294.45 288.17,294.07 288.5,294.67 288.83,294.39 289.16,293.88 289.5,293.99 289.83,294.29 290.16,294.24 290.49,294.29 290.82,293.5 291.16,293.44 291.49,293.37 291.82,293.36 292.15,293.08 292.49,293.11 292.82,293.09 293.15,292.72 293.49,292.55 293.82,292.22 294.15,292.11 294.48,291.69 294.81,291.86 295.15,291.82 295.48,291.73 295.81,291.97 296.14,291.37 296.48,291.6 296.81,291.9 297.14,291.14 297.48,290.89 297.81,291.09 298.14,290.68 298.47,290.48 298.81,290.32 299.14,290.79 299.47,290.59 299.8,290.78 300.13,290.75 300.47,290.64 300.8,290.64 301.13,290.27 301.47,290.42 301.8,290.07 302.13,290 302.46,290.06 302.8,289.86 303.13,289.47 303.46,289.16 303.79,289.43 304.12,288.79 304.46,288.7 304.79,288.39 305.12,288.9 305.45,289.08 305.79,288.28 306.12,288.21 306.45,287.91 306.79,287.52 307.12,288.03 307.45,287.62 307.78,286.88 308.12,286.78 308.45,286.87 308.78,286.78 309.11,286.76 309.44,286.44 309.78,285.99 310.11,286.07 310.44,285.86 310.77,285.71 311.11,285.44 311.44,285.1 311.77,285.47 312.11,284.99 312.44,284.76 312.77,285.08 313.1,284.96 313.44,285.14 313.77,284.8 314.1,284.37 314.43,284.44 314.76,284.34 315.1,284.29 315.43,284.08 315.76,283.87 316.1,283.79 316.43,283.07 316.76,282.93 317.09,282.95 317.43,282.36 317.76,282.41 318.09,281.88 318.42,282.17 318.75,281.57 319.09,281.69 319.42,281.69 319.75,281.26 320.09,281.5 320.42,281.56 320.75,281.11 321.08,281 321.42,280.58 321.75,280.53 322.08,280.28 322.41,280.15 322.75,279.81 323.08,279.83 323.41,279.36 323.74,279.19 324.07,279.76 324.41,280.01 324.74,278.98 325.07,278.99 325.4,278.74 325.74,278.76 326.07,278.56 326.4,277.86 326.74,278.22 327.07,278.23 327.4,278.16 327.73,278.45 328.06,278.44 328.4,278.18 328.73,277.98 329.06,277.72 329.39,278.06 329.73,278.09 330.06,277.02 330.39,276.84 330.73,276.39 331.06,276.38 331.39,276.36 331.72,275.51 332.06,276.05 332.39,276.09 332.72,275.68 333.05,275.52 333.38,275.85 333.72,275.4 334.05,274.9 334.38,275.18 334.72,275.02 335.05,274.32 335.38,273.63 335.71,274.36 336.05,274.21 336.38,273.85 336.71,273.81 337.04,273.62 337.38,273.41 337.71,272.85 338.04,273.01 338.37,272.37 338.71,271.97 338.71,278.34 338.37,278.76 338.04,279.38 337.71,279.36 337.38,279.89 337.04,280.25 336.71,280.31 336.38,280.34 336.05,280.81 335.71,281.07 335.38,280.27 335.05,281.06 334.72,281.6 334.38,281.91 334.05,281.56 333.72,282 333.38,282.42 333.05,282.08 332.72,282.21 332.39,282.83 332.06,282.76 331.72,282.38 331.39,283.28 331.06,283.17 330.73,282.98 330.39,283.33 330.06,283.25 329.73,284.2 329.39,284.18 329.06,283.65 328.73,284.07 328.4,284.46 328.06,284.76 327.73,284.78 327.4,284.63 327.07,284.72 326.74,284.88 326.4,284.38 326.07,285.15 325.74,285.38 325.4,285.56 325.07,285.73 324.74,285.62 324.41,286.43 324.07,286.23 323.74,285.42 323.41,285.66 323.08,285.95 322.75,285.96 322.41,286.2 322.08,286.29 321.75,286.4 321.42,286.66 321.08,286.96 320.75,287 320.42,287.45 320.09,287.52 319.75,287.32 319.42,287.75 319.09,287.51 318.75,287.43 318.42,288.23 318.09,287.93 317.76,288.35 317.43,288.27 317.09,288.89 316.76,288.87 316.43,289.05 316.1,289.54 315.76,289.61 315.43,289.71 315.1,289.9 314.76,290.08 314.43,290.24 314.1,290.03 313.77,290.48 313.44,290.79 313.1,290.6 312.77,290.77 312.44,290.39 312.11,290.71 311.77,291.36 311.44,291.02 311.11,291.18 310.77,291.45 310.44,291.55 310.11,291.8 309.78,291.55 309.44,291.89 309.11,292.2 308.78,292.21 308.45,292.49 308.12,292.44 307.78,292.56 307.45,293.27 307.12,293.67 306.79,293.24 306.45,293.74 306.12,294.03 305.79,293.99 305.45,294.58 305.12,294.57 304.79,294.03 304.46,294.33 304.12,294.33 303.79,294.77 303.46,294.61 303.13,294.95 302.8,295.16 302.46,295.36 302.13,295.15 301.8,295.3 301.47,295.75 301.13,295.67 300.8,296.17 300.47,296.17 300.13,296.24 299.8,296.32 299.47,296.09 299.14,296.29 298.81,295.82 298.47,295.83 298.14,296.11 297.81,296.46 297.48,296.24 297.14,296.41 296.81,297.04 296.48,296.61 296.14,296.4 295.81,296.88 295.48,296.73 295.15,296.86 294.81,297.04 294.48,297.04 294.15,297.5 293.82,297.67 293.49,298.05 293.15,298.24 292.82,298.56 292.49,298.58 292.15,298.52 291.82,298.74 291.49,298.59 291.16,298.56 290.82,298.51 290.49,299.22 290.16,299.06 289.83,299.05 289.5,298.82 289.16,298.88 288.83,299.39 288.5,299.67 288.17,299.21 287.83,299.57 287.5,300.18 287.17,300.58 286.84,300.48 286.5,300.09 286.17,300.45 285.84,300.74 285.5,300.92 285.17,300.28 284.84,300.87 284.51,300.94 284.18,301.34 283.84,301.59 283.51,302.1 283.18,302.14 282.85,302.16 282.51,302.37 282.18,302.89 281.85,303.26 281.51,303.24 281.18,303.28 280.85,303.63 280.52,303.59 280.19,303.66 279.85,304.24 279.52,304.21 279.19,304.83 278.86,304.44 278.52,304.37 278.19,304.99 277.86,304.85 277.52,304.89 277.19,304.9 276.86,305.46 276.53,305.29 276.19,305.79 275.86,306.08 275.53,305.92 275.2,305.87 274.87,306.24 274.53,306.78 274.2,306.93 273.87,306.68 273.54,306.35 273.2,306.77 272.87,307.21 272.54,307.22 272.2,307.61 271.87,307.83 271.54,308.11 271.21,307.86 270.88,307.34 270.54,307.96 270.21,307.46 269.88,307.9 269.55,307.88 269.21,308.55 268.88,308.18 268.55,308.22 268.22,308.7 267.88,308.9 267.55,308.71 267.22,309.27 266.88,309.41 266.55,309.15 266.22,308.98 265.89,309.17 265.56,308.61 265.22,309.45 264.89,309.59 264.56,309.27 264.23,310 263.89,309.25 263.56,309.32 263.23,308.97 262.89,309.42 262.56,310.12 262.23,309.83 261.9,309.67 261.56,310.07 261.23,310.31 260.9,310.23 260.57,310.33 260.24,310.42 259.9,309.65 259.57,310.35 259.24,310.02 258.9,310.7 258.57,310.54 258.24,310.29 257.91,310.16 257.57,311.07 257.24,311.18 256.91,311.44 256.58,310.97 256.25,311.45 255.91,311.72 255.58,311.25 255.25,311.32 254.91,311.96 254.58,311.82 254.25,311.84 253.92,311.69 253.59,311.02 253.25,312.01 252.92,312.04 252.59,312.55 252.25,312.77 251.92,313 251.59,312.77 251.26,312.91 250.93,313.09 250.59,313.71 250.26,313.07 249.93,313 249.59,313.13 249.26,312.76 248.93,313.35 248.6,313.89 248.26,314.43 247.93,313.86 247.6,314.31 247.27,313.47 246.94,313.69 246.6,313.68 246.27,313.65 245.94,313.95 245.6,314.44 245.27,314.21 244.94,314.13 244.61,314.16 244.28,314.49 243.94,314.61 243.61,314.67 243.28,314.96 242.94,315.45 242.61,314.97 242.28,315.34 241.95,315.45 241.62,315.75 241.28,315.42 240.95,315.41 240.62,316.14 240.28,315.82 239.95,315.96 239.62,316.39 239.29,316.2 238.96,316.45 238.62,316.96 238.29,316.72 237.96,316.6 237.62,316.99 237.29,316.95 236.96,316.98 236.63,317.92 236.3,317.28 235.96,317.26 235.63,317.49 235.3,317.65 234.97,317.63 234.63,317.32 234.3,317.57 233.97,317.17 233.63,317.66 233.3,318.04 232.97,318.07 232.64,318.18 232.31,318.11 231.97,317.89 231.64,317.96 231.31,318 230.97,318.11 230.64,318.29 230.31,317.93 229.98,318.73 229.65,318.64 229.31,318.24 228.98,318.18 228.65,318.75 228.31,318.62 227.98,318.5 227.65,318.68 227.32,318.27 226.99,318.12 226.65,318.24 226.32,318.01 225.99,318.13 225.66,318.47 225.32,318.7 224.99,318.97 224.66,319.4 224.32,319.5 223.99,319.28 223.66,318.88 223.33,318.48 223,319.03 222.66,318.9 222.33,318.84 222,319.27 221.66,319.22 221.33,319.22 221,319.54" fill="#dcdcdc" stroke="#d0d0d0" stroke-width="0.5"/>
<polyline points="221,318.62 221.33,318.22 221.66,317.78 222,318.07 222.33,318.49 222.66,318.22 223,317.87 223.33,317.45 223.66,318.05 223.99,318.36 224.32,317.77 224.66,317.54 224.99,317.02 225.32,316.93 225.66,317.26 225.99,317.46 226.32,316.49 226.65,316.99 226.99,317.38 227.32,317.67 227.65,317.33 227.98,317.1 228.31,317.13 228.65,317.01 228.98,316.79 229.31,316.49 229.65,316.16 229.98,316.27 230.31,316.93 230.64,316.3 230.97,316.66 231.31,316.33 231.64,316.55 231.97,316.06 232.31,316.02 232.64,315.57 232.97,314.16 233.3,314.58 233.63,314.4 233.97,315.01 234.3,314.72 234.63,314.09 234.97,313.9 235.3,313.49 235.63,313.24 235.96,313.36 236.3,312.71 236.63,312.74 236.96,311.64 237.29,311.79 237.62,311.3 237.96,311.15 238.29,310.61 238.62,310.77 238.96,310.15 239.29,310.11 239.62,309.46 239.95,309.24 240.28,309.17 240.62,309.33 240.95,308.73 241.28,308.4 241.62,307.69 241.95,307.93 242.28,307.55 242.61,307.23 242.94,307.01 243.28,306.77 243.61,306.52 243.94,306.53 244.28,306.53 244.61,306.16 244.94,305.48 245.27,304.66 245.6,304.3 245.94,303.94 246.27,303.72 246.6,303.51 246.94,303.44 247.27,303.06 247.6,302.37 247.93,302.64 248.26,302.76 248.6,301.73 248.93,301.69 249.26,301.27 249.59,300.96 249.93,301.38 250.26,300.17 250.59,299.67 250.93,299.85 251.26,299.6 251.59,299.56 251.92,299.77 252.25,299.46 252.59,298.99 252.92,298.35 253.25,298.04 253.59,297.98 253.92,297.35 254.25,297.64 254.58,297.08 254.91,296.53 255.25,296.61 255.58,297.04 255.91,296.79 256.25,296.1 256.58,295.51 256.91,294.69 257.24,295.05 257.57,294.72 257.91,294.17 258.24,294.03 258.57,294.56 258.9,293.53 259.24,292.3 259.57,291.99 259.9,292.35 260.24,292.19 260.57,291.71 260.9,290.49 261.23,290.38 261.56,290.34 261.9,289.64 262.23,289.73 262.56,288.98 262.89,289.38 263.23,289.37 263.56,288.81 263.89,288.15 264.23,287.96 264.56,287.87 264.89,288.45 265.22,288.21 265.56,287.92 265.89,287.62 266.22,286.91 266.55,286.69 266.88,286.02 267.22,285.76 267.55,285.61 267.88,285.21 268.22,284.73 268.55,284.17 268.88,284.2 269.21,283.96 269.55,284.07 269.88,282.9 270.21,282.22 270.54,282.35 270.88,282.37 271.21,282.52 271.54,281.95 271.87,281.51 272.2,280.44 272.54,280.46 272.87,280.7 273.2,281.28 273.54,280.04 273.87,279.72 274.2,280.1 274.53,279.57 274.87,279.84 275.2,278.06 275.53,277.91 275.86,277.93 276.19,278.11 276.53,278.8 276.86,278.32 277.19,278.49 277.52,277.71 277.86,278.19 278.19,277.89 278.52,276.86 278.86,276.07 279.19,276.58 279.52,276.85 279.85,276.01 280.19,275.49 280.52,275.77 280.85,275.7 281.18,275.55 281.51,275.54 281.85,275.24 282.18,274.28 282.51,273.82 282.85,272.96 283.18,273.15 283.51,273.12 283.84,273.27 284.18,272.88 284.51,272.98 284.84,273.04 285.17,272.04 285.5,271.13 285.84,270.75 286.17,270.25 286.5,270.25 286.84,270.47 287.17,270.15 287.5,270.02 287.83,270.09 288.17,270.19 288.5,270.03 288.83,269.29 289.16,268.73 289.5,268.53 289.83,267.62 290.16,267.47 290.49,267.12 290.82,266.58 291.16,266.91 291.49,267.35 291.82,266.46 292.15,266.39 292.49,265.49 292.82,265.25 293.15,264.75 293.49,264.44 293.82,265.17 294.15,264.38 294.48,264.35 294.81,264.22 295.15,263.9 295.48,263.17 295.81,262.62 296.14,262.16 296.48,262.74 296.81,262.51 297.14,262.89 297.48,262.12 297.81,261.35 298.14,261.31 298.47,260.8 298.81,260.41 299.14,259.8 299.47,260.01 299.8,259.98 300.13,259.81 300.47,258.68 300.8,258.22 301.13,258.29 301.47,258.06 301.8,257.85 302.13,257.57 302.46,257.45 302.8,257.29 303.13,257.41 303.46,257.11 303.79,256 304.12,255.71 304.46,255.6 304.79,255.5 305.12,255.22 305.45,254.84 305.79,254.87 306.12,254.44 306.45,254.08 306.79,254.11 307.12,254.01 307.45,253.9 307.78,253.72 308.12,252.8 308.45,253.37 308.78,252.77 309.11,252.45 309.44,252.16 309.78,251.62 310.11,250.85 310.44,250.76 310.77,250.68 311.11,250.69 311.44,250.42 311.77,249.8 312.11,249.84 312.44,250.03 312.77,250.05 313.1,249.89 313.44,249.81 313.77,248.76 314.1,248.39 314.43,248.31 314.76,247.55 315.1,247.82 315.43,247.34 315.76,246.97 316.1,247.51 316.43,247.68 316.76,247.42 317.09,246.52 317.43,245.82 317.76,246.27 318.09,245.56 318.42,245.61 318.75,245.52 319.09,245.42 319.42,245.18 319.75,245.48 320.09,245.23 320.42,245.08 320.75,244.27 321.08,243.18 321.42,242.29 321.75,242.84 322.08,243.49 322.41,243.35 322.75,243.41 323.08,242.34 323.41,242.26 323.74,242.62 324.07,242.15 324.41,242.01 324.74,242.65 325.07,242.53 325.4,242.3 325.74,242.04 326.07,241.82 326.4,241.82 326.74,241.57 327.07,241.67 327.4,241.77 327.73,240.91 328.06,240.83 328.4,240.71 328.73,241.32 329.06,241.06 329.39,240.53 329.73,240.96 330.06,240.26 330.39,240.4 330.73,240.12 331.06,240.12 331.39,239.94 331.72,239.44 332.06,239.72 332.39,239.09 332.72,239.57 333.05,239.8 333.38,239.28 333.72,239.6 334.05,239.45 334.38,238.95 334.72,238.63 335.05,239.56 335.38,239.22 335.71,238.57 336.05,238.51 336.38,239.01 336.71,239.4 337.04,239.5 337.38,239.88 337.71,239.76 338.04,239.69 338.37,239.65 338.71,239.18" fill="none" stroke="#0f4c89" stroke-width="1.9" stroke-linejoin="round"/>
<polyline points="221,318.82 221.33,318.52 221.66,318.51 222,318.55 222.33,318.13 222.66,318.17 223,318.28 223.33,317.72 223.66,318.09 223.99,318.49 224.32,318.71 224.66,318.56 224.99,318.13 225.32,317.84 225.66,317.61 225.99,317.27 226.32,317.12 226.65,317.34 226.99,317.24 227.32,317.37 227.65,317.78 227.98,317.57 228.31,317.67 228.65,317.78 228.98,317.18 229.31,317.23 229.65,317.61 229.98,317.66 230.31,316.89 230.64,317.22 230.97,317.04 231.31,316.93 231.64,316.86 231.97,316.75 232.31,316.96 232.64,317.01 232.97,316.89 233.3,316.84 233.63,316.42 233.97,315.94 234.3,316.37 234.63,316.11 234.97,316.38 235.3,316.38 235.63,316.19 235.96,315.95 236.3,315.93 236.63,316.52 236.96,315.58 237.29,315.55 237.62,315.59 237.96,315.17 238.29,315.28 238.62,315.52 238.96,315.02 239.29,314.74 239.62,314.91 239.95,314.45 240.28,314.3 240.62,314.61 240.95,313.86 241.28,313.87 241.62,314.23 241.95,313.89 242.28,313.76 242.61,313.39 242.94,313.83 243.28,313.29 243.61,313 243.94,312.87 244.28,312.77 244.61,312.46 244.94,312.43 245.27,312.53 245.6,312.81 245.94,312.32 246.27,312.06 246.6,312.08 246.94,312.09 247.27,311.87 247.6,312.67 247.93,312.18 248.26,312.71 248.6,312.12 248.93,311.54 249.26,310.94 249.59,311.3 249.93,311.15 250.26,311.18 250.59,311.78 250.93,311.16 251.26,311.01 251.59,310.87 251.92,311.04 252.25,310.81 252.59,310.61 252.92,310.1 253.25,310.09 253.59,309.09 253.92,309.69 254.25,309.89 254.58,309.88 254.91,310.05 255.25,309.4 255.58,309.27 255.91,309.73 256.25,309.5 256.58,309.02 256.91,309.49 257.24,309.21 257.57,309.13 257.91,308.29 258.24,308.38 258.57,308.61 258.9,308.73 259.24,308.01 259.57,308.29 259.9,307.57 260.24,308.3 260.57,308.2 260.9,308.12 261.23,308.16 261.56,307.99 261.9,307.58 262.23,307.74 262.56,308.01 262.89,307.3 263.23,306.86 263.56,307.25 263.89,307.11 264.23,307.85 264.56,307.12 264.89,307.41 265.22,307.29 265.56,306.39 265.89,306.92 266.22,306.77 266.55,306.97 266.88,307.27 267.22,307.18 267.55,306.67 267.88,306.85 268.22,306.69 268.55,306.18 268.88,306.15 269.21,306.44 269.55,305.72 269.88,305.72 270.21,305.29 270.54,305.71 270.88,305.06 271.21,305.56 271.54,305.86 271.87,305.56 272.2,305.33 272.54,304.96 272.87,304.95 273.2,304.53 273.54,304.05 273.87,304.33 274.2,304.62 274.53,304.41 274.87,303.88 275.2,303.55 275.53,303.67 275.86,303.85 276.19,303.59 276.53,303.11 276.86,303.29 277.19,302.73 277.52,302.7 277.86,302.6 278.19,302.74 278.52,302.1 278.86,302.07 279.19,302.41 279.52,301.8 279.85,301.77 280.19,301.21 280.52,301.1 280.85,301.18 281.18,300.89 281.51,300.84 281.85,300.82 282.18,300.46 282.51,299.94 282.85,299.81 283.18,299.69 283.51,299.67 283.84,299.23 284.18,299 284.51,298.59 284.84,298.46 285.17,297.77 285.5,298.43 285.84,298.21 286.17,297.83 286.5,297.48 286.84,297.94 287.17,298 287.5,297.61 287.83,297.01 288.17,296.64 288.5,297.17 288.83,296.89 289.16,296.38 289.5,296.4 289.83,296.67 290.16,296.65 290.49,296.76 290.82,296.01 291.16,296 291.49,295.98 291.82,296.05 292.15,295.8 292.49,295.84 292.82,295.83 293.15,295.48 293.49,295.3 293.82,294.95 294.15,294.8 294.48,294.37 294.81,294.45 295.15,294.34 295.48,294.23 295.81,294.42 296.14,293.89 296.48,294.1 296.81,294.47 297.14,293.78 297.48,293.57 297.81,293.78 298.14,293.39 298.47,293.16 298.81,293.07 299.14,293.54 299.47,293.34 299.8,293.55 300.13,293.49 300.47,293.41 300.8,293.4 301.13,292.97 301.47,293.09 301.8,292.69 302.13,292.58 302.46,292.71 302.8,292.51 303.13,292.21 303.46,291.89 303.79,292.1 304.12,291.56 304.46,291.51 304.79,291.21 305.12,291.74 305.45,291.83 305.79,291.13 306.12,291.12 306.45,290.82 306.79,290.38 307.12,290.85 307.45,290.45 307.78,289.72 308.12,289.61 308.45,289.68 308.78,289.5 309.11,289.48 309.44,289.17 309.78,288.77 310.11,288.94 310.44,288.7 310.77,288.58 311.11,288.31 311.44,288.06 311.77,288.42 312.11,287.85 312.44,287.57 312.77,287.93 313.1,287.78 313.44,287.97 313.77,287.64 314.1,287.2 314.43,287.34 314.76,287.21 315.1,287.09 315.43,286.9 315.76,286.74 316.1,286.66 316.43,286.06 316.76,285.9 317.09,285.92 317.43,285.31 317.76,285.38 318.09,284.9 318.42,285.2 318.75,284.5 319.09,284.6 319.42,284.72 319.75,284.29 320.09,284.51 320.42,284.5 320.75,284.05 321.08,283.98 321.42,283.62 321.75,283.46 322.08,283.29 322.41,283.17 322.75,282.89 323.08,282.89 323.41,282.51 323.74,282.3 324.07,282.99 324.41,283.22 324.74,282.3 325.07,282.36 325.4,282.15 325.74,282.07 326.07,281.86 326.4,281.12 326.74,281.55 327.07,281.48 327.4,281.4 327.73,281.61 328.06,281.6 328.4,281.32 328.73,281.03 329.06,280.68 329.39,281.12 329.73,281.14 330.06,280.13 330.39,280.08 330.73,279.69 331.06,279.77 331.39,279.82 331.72,278.94 332.06,279.4 332.39,279.46 332.72,278.94 333.05,278.8 333.38,279.13 333.72,278.7 334.05,278.23 334.38,278.55 334.72,278.31 335.05,277.69 335.38,276.95 335.71,277.71 336.05,277.51 336.38,277.1 336.71,277.06 337.04,276.93 337.38,276.65 337.71,276.11 338.04,276.19 338.37,275.56 338.71,275.16" fill="none" stroke="#c8102e" stroke-width="1.9" stroke-linejoin="round"/>
<circle cx="270.6" cy="249.2" r="1.1" fill="#0f4c89"/>
<text x="274.24" y="251.6" font-size="8.2" fill="#231f20" textLength="9.02" lengthAdjust="spacingAndGlyphs">FV</text>
<text x="283.54" y="248.1" font-size="5.6" class="nb" fill="#231f20" textLength="10.75" lengthAdjust="spacingAndGlyphs">Q/Q</text>
<circle cx="303.1" cy="303.2" r="1.1" fill="#c8102e"/>
<text x="306.86" y="304.6" font-size="7.6" fill="#231f20" textLength="32.11" lengthAdjust="spacingAndGlyphs">Wild-type</text>
<text x="352.29" y="221.9" font-size="11.2" font-weight="bold" fill="#000" textLength="9.04" lengthAdjust="spacingAndGlyphs">D</text>
<text x="418.71" y="225.6" font-size="10.4" fill="#231f20" textLength="68.96" lengthAdjust="spacingAndGlyphs">Fibrin formation</text>
<line x1="393.6" y1="225" x2="393.6" y2="319.4" stroke="#000" stroke-width="0.9"/>
<line x1="390.4" y1="318.9" x2="393.6" y2="318.9" stroke="#000" stroke-width="0.9"/>
<text x="384" y="321.9" font-size="8.75" fill="#231f20" textLength="4.28" lengthAdjust="spacingAndGlyphs">0</text>
<line x1="390.4" y1="296.6" x2="393.6" y2="296.6" stroke="#000" stroke-width="0.9"/>
<text x="379.73" y="299.6" font-size="8.75" fill="#231f20" textLength="8.56" lengthAdjust="spacingAndGlyphs">50</text>
<line x1="390.4" y1="274.3" x2="393.6" y2="274.3" stroke="#000" stroke-width="0.9"/>
<text x="375.46" y="277.3" font-size="8.75" fill="#231f20" textLength="12.84" lengthAdjust="spacingAndGlyphs">100</text>
<line x1="390.4" y1="252" x2="393.6" y2="252" stroke="#000" stroke-width="0.9"/>
<text x="375.46" y="255" font-size="8.75" fill="#231f20" textLength="12.84" lengthAdjust="spacingAndGlyphs">150</text>
<line x1="390.4" y1="229.7" x2="393.6" y2="229.7" stroke="#000" stroke-width="0.9"/>
<text x="375.46" y="232.7" font-size="8.75" fill="#231f20" textLength="12.84" lengthAdjust="spacingAndGlyphs">200</text>
<line x1="393.15" y1="318.9" x2="513.4" y2="318.9" stroke="#000" stroke-width="0.9"/>
<line x1="393.6" y1="318.9" x2="393.6" y2="321.9" stroke="#000" stroke-width="0.9"/>
<text x="391.45" y="330.7" font-size="8.75" fill="#231f20" textLength="4.28" lengthAdjust="spacingAndGlyphs">0</text>
<line x1="426.8" y1="318.9" x2="426.8" y2="321.9" stroke="#000" stroke-width="0.9"/>
<text x="422.51" y="330.7" font-size="8.75" fill="#231f20" textLength="8.56" lengthAdjust="spacingAndGlyphs">50</text>
<line x1="460" y1="318.9" x2="460" y2="321.9" stroke="#000" stroke-width="0.9"/>
<text x="453.44" y="330.7" font-size="8.75" fill="#231f20" textLength="12.84" lengthAdjust="spacingAndGlyphs">100</text>
<line x1="493.2" y1="318.9" x2="493.2" y2="321.9" stroke="#000" stroke-width="0.9"/>
<text x="486.64" y="330.7" font-size="8.75" fill="#231f20" textLength="12.84" lengthAdjust="spacingAndGlyphs">150</text>
<text x="436.06" y="342.9" font-size="9.4" fill="#231f20" textLength="33.41" lengthAdjust="spacingAndGlyphs">Time (sec)</text>
<g transform="translate(369.7,271.5) rotate(-90)"><text x="-29.68" y="0" font-size="9.3" fill="#231f20" textLength="59.22" lengthAdjust="spacingAndGlyphs">Fibrin area (μm²)</text></g>
<polygon points="393.6,316.73 393.93,315.41 394.26,316.54 394.6,316.99 394.93,315.76 395.26,313.57 395.59,313.57 395.92,314.83 396.26,314.83 396.59,313.94 396.92,312.28 397.25,312.15 397.58,312.22 397.92,311.85 398.25,311.06 398.58,311.34 398.91,310.57 399.24,309.73 399.58,307.76 399.91,308.16 400.24,307.17 400.57,308.39 400.9,307 401.24,306.65 401.57,306.95 401.9,306.36 402.23,304.89 402.56,304.92 402.9,303.35 403.23,301.7 403.56,300.5 403.89,299.54 404.22,301.59 404.56,300.74 404.89,301.02 405.22,299.29 405.55,298.95 405.88,298.29 406.22,297.44 406.55,297.66 406.88,296.76 407.21,296.73 407.54,293.62 407.88,294.25 408.21,293.74 408.54,294.86 408.87,294.79 409.2,293.67 409.54,291.23 409.87,289.65 410.2,288.97 410.53,289.36 410.86,286.82 411.2,287.97 411.53,288.14 411.86,286.58 412.19,286.96 412.52,285.6 412.86,283.94 413.19,283.8 413.52,282.99 413.85,282.66 414.18,282.92 414.52,285.07 414.85,283.94 415.18,281.88 415.51,282 415.84,280.68 416.18,278.9 416.51,276.52 416.84,277.6 417.17,276.92 417.5,275.49 417.84,274.24 418.17,275.22 418.5,272.4 418.83,273.36 419.16,271.77 419.5,271.96 419.83,271.27 420.16,269.48 420.49,269.13 420.82,269.31 421.16,270.32 421.49,270.42 421.82,271.09 422.15,267.73 422.48,269.33 422.82,271.01 423.15,267.63 423.48,266.04 423.81,266.55 424.14,265.43 424.48,266.23 424.81,266.11 425.14,264.82 425.47,264.06 425.8,264.23 426.14,262.04 426.47,261.54 426.8,261.8 427.13,262.89 427.46,261.71 427.8,261.37 428.13,260.76 428.46,259.3 428.79,259.76 429.12,258.68 429.46,257.52 429.79,257.06 430.12,254.6 430.45,257.15 430.78,256.63 431.12,257.1 431.45,256.08 431.78,252.82 432.11,254.98 432.44,254.51 432.78,253.03 433.11,252.61 433.44,251.76 433.77,253.76 434.1,252.19 434.44,253.19 434.77,253.86 435.1,252.51 435.43,251.67 435.76,252.3 436.1,252.71 436.43,251.93 436.76,251.3 437.09,250.98 437.42,251.4 437.76,252.77 438.09,249.84 438.42,249.16 438.75,250.14 439.08,250.84 439.42,250.3 439.75,249.59 440.08,250.92 440.41,247.99 440.74,247.42 441.08,247.85 441.41,247.17 441.74,246.97 442.07,245.96 442.4,246.48 442.74,245.83 443.07,245.26 443.4,246.79 443.73,247.96 444.06,248.86 444.4,248.91 444.73,249.36 445.06,248.95 445.39,248.61 445.72,248.34 446.06,249.9 446.39,248.54 446.72,249.17 447.05,249.32 447.38,249.65 447.72,251.35 448.05,250.01 448.38,251.2 448.71,249.06 449.04,248.96 449.38,247.42 449.71,247.71 450.04,247.62 450.37,246.8 450.7,247.9 451.04,246.79 451.37,247.79 451.7,248.05 452.03,248.98 452.36,248.24 452.7,247.64 453.03,248.37 453.36,249.42 453.69,248.87 454.02,247.99 454.36,248.08 454.69,248.82 455.02,249.05 455.35,248.57 455.68,250.77 456.02,249.65 456.35,246.98 456.68,248.22 457.01,247.87 457.34,245.79 457.68,245.61 458.01,245.26 458.34,245.98 458.67,247.53 459,244.14 459.34,244.92 459.67,245.32 460,244.23 460.33,244.25 460.66,245.08 461,246.63 461.33,246.37 461.66,246.3 461.99,246.65 462.32,247.31 462.66,247.9 462.99,247.35 463.32,247.56 463.65,246.97 463.98,246.03 464.32,246.4 464.65,246.81 464.98,245.64 465.31,246.17 465.64,248.62 465.98,248.98 466.31,248.42 466.64,249.15 466.97,248.08 467.3,250.07 467.64,251.24 467.97,249.12 468.3,248.35 468.63,249.91 468.96,249.07 469.3,247.35 469.63,248.83 469.96,249.44 470.29,249.72 470.62,249.55 470.96,250.22 471.29,249.21 471.62,249.43 471.95,248 472.28,245.15 472.62,246.87 472.95,245.6 473.28,244.58 473.61,247.31 473.94,246.36 474.28,245.82 474.61,245.85 474.94,244.52 475.27,244.95 475.6,244.25 475.94,244.6 476.27,244.43 476.6,244.72 476.93,241.7 477.26,242.52 477.6,243.85 477.93,241.36 478.26,240.34 478.59,241.32 478.92,242.23 479.26,242.78 479.59,240.76 479.92,241.34 480.25,242.39 480.58,241.4 480.92,242.31 481.25,242.69 481.58,240.91 481.91,241.38 482.24,241.29 482.58,242.06 482.91,241.84 483.24,243.09 483.57,242.7 483.9,242.52 484.24,243.85 484.57,245.43 484.9,244.57 485.23,244.94 485.56,244.52 485.9,245.66 486.23,244.79 486.56,243.91 486.89,242.08 487.22,241.66 487.56,242.75 487.89,242.29 488.22,243.95 488.55,243.11 488.88,243.67 489.22,242.7 489.55,243.11 489.88,243.65 490.21,244.38 490.54,242.66 490.88,242.93 491.21,242.21 491.54,242.01 491.87,244.31 492.2,243.19 492.54,243.61 492.87,243.28 493.2,242.97 493.53,245.32 493.86,245.1 494.2,244.8 494.53,244.32 494.86,243.54 495.19,244.94 495.52,245.32 495.86,244.73 496.19,246.89 496.52,244.48 496.85,246.3 497.18,245.18 497.52,245.65 497.85,244.43 498.18,244.48 498.51,245.59 498.84,247.93 499.18,247.13 499.51,246.72 499.84,246.41 500.17,248.02 500.5,248.47 500.84,248.78 501.17,247.91 501.5,248.59 501.83,248.18 502.16,246.95 502.5,247.61 502.83,246.16 503.16,246.4 503.49,247.01 503.82,246.25 504.16,246.26 504.49,247.31 504.82,248.05 505.15,248.12 505.48,247.91 505.82,247.11 506.15,247.52 506.48,248.68 506.81,249.84 507.14,249.07 507.48,248.49 507.81,247.59 508.14,248.79 508.47,250.24 508.8,249.02 509.14,249.41 509.47,250.62 509.8,248.67 510.13,248.26 510.46,248.84 510.8,248.85 511.13,249.8 511.13,261.24 510.8,260.1 510.46,259.9 510.13,259.18 509.8,259.26 509.47,261.51 509.14,260.18 508.8,259.78 508.47,261.17 508.14,259.77 507.81,258.51 507.48,259.41 507.14,259.8 506.81,260.66 506.48,259.15 506.15,257.98 505.82,257.46 505.48,258.44 505.15,258.93 504.82,259.11 504.49,258.2 504.16,257.37 503.82,257.08 503.49,258.14 503.16,257.26 502.83,256.73 502.5,257.94 502.16,257.1 501.83,258.23 501.5,258.56 501.17,257.87 500.84,258.86 500.5,258.83 500.17,258.51 499.84,256.98 499.51,257.56 499.18,258.13 498.84,258.64 498.51,256.55 498.18,255.39 497.85,255.2 497.52,256.54 497.18,255.76 496.85,257.17 496.52,255.67 496.19,258.01 495.86,255.69 495.52,256.19 495.19,255.86 494.86,254.52 494.53,255.04 494.2,255.46 493.86,255.65 493.53,255.85 493.2,253.68 492.87,253.7 492.54,254.14 492.2,253.56 491.87,254.7 491.54,252.4 491.21,252.51 490.88,252.99 490.54,252.74 490.21,254.34 489.88,253.65 489.55,252.9 489.22,252.58 488.88,253.71 488.55,253.45 488.22,254.67 487.89,253.06 487.56,253.78 487.22,252.8 486.89,253.35 486.56,255.37 486.23,256.36 485.9,257.18 485.56,256.17 485.23,256.61 484.9,256.29 484.57,257.06 484.24,255.23 483.9,253.61 483.57,253.68 483.24,253.89 482.91,252.38 482.58,252.77 482.24,251.8 481.91,251.92 481.58,251.78 481.25,253.39 480.92,253.23 480.58,252.68 480.25,253.54 479.92,252.67 479.59,252.25 479.26,253.88 478.92,253.6 478.59,252.7 478.26,251.43 477.93,252.36 477.6,254.81 477.26,253.56 476.93,252.94 476.6,255.7 476.27,255.17 475.94,255.43 475.6,255.2 475.27,255.79 474.94,255.28 474.61,256.44 474.28,256.59 473.94,257.11 473.61,258.22 473.28,255.25 472.95,256.08 472.62,257.14 472.28,255.51 471.95,258.47 471.62,259.83 471.29,259.36 470.96,260.41 470.62,259.96 470.29,260.12 469.96,259.82 469.63,259.05 469.3,257.69 468.96,259.55 468.63,260.57 468.3,258.98 467.97,260.06 467.64,262.18 467.3,260.86 466.97,258.86 466.64,259.94 466.31,258.95 465.98,259.46 465.64,258.76 465.31,256.48 464.98,256.21 464.65,257.33 464.32,256.66 463.98,256.37 463.65,257.19 463.32,258.09 462.99,257.71 462.66,258.19 462.32,257.76 461.99,257.22 461.66,256.81 461.33,257.1 461,257.32 460.66,255.94 460.33,255.25 460,254.97 459.67,256.32 459.34,255.93 459,255.18 458.67,258.59 458.34,257.1 458.01,256.16 457.68,256.49 457.34,256.61 457.01,258.77 456.68,259.27 456.35,257.82 456.02,260.23 455.68,261.11 455.35,259.2 455.02,259.56 454.69,259.55 454.36,258.65 454.02,258.51 453.69,259.29 453.36,260.11 453.03,258.87 452.7,257.94 452.36,258.42 452.03,259.21 451.7,258.28 451.37,258.32 451.04,257.23 450.7,258.29 450.37,257.39 450.04,258.01 449.71,257.89 449.38,257.9 449.04,259.37 448.71,259.35 448.38,261.53 448.05,260.12 447.72,261.5 447.38,259.85 447.05,259.28 446.72,259.21 446.39,258.59 446.06,260.09 445.72,258.54 445.39,258.98 445.06,259.45 444.73,259.8 444.4,259.2 444.06,259.36 443.73,258.25 443.4,257.4 443.07,255.71 442.74,256.24 442.4,257 442.07,256.57 441.74,257.63 441.41,257.97 441.08,258.46 440.74,258.22 440.41,258.85 440.08,261.74 439.75,260.56 439.42,261.15 439.08,261.74 438.75,261.14 438.42,260.2 438.09,260.6 437.76,263.66 437.42,262.25 437.09,261.65 436.76,261.96 436.43,262.64 436.1,263.12 435.76,262.76 435.43,261.92 435.1,262.52 434.77,264.11 434.44,263.41 434.1,262.39 433.77,264.02 433.44,262.26 433.11,263.22 432.78,263.52 432.44,264.76 432.11,265.15 431.78,262.92 431.45,266.15 431.12,267.17 430.78,266.48 430.45,267.13 430.12,264.56 429.79,266.88 429.46,267.36 429.12,268.7 428.79,269.46 428.46,269.27 428.13,270.73 427.8,271.48 427.46,271.84 427.13,272.74 426.8,271.55 426.47,271.5 426.14,271.84 425.8,273.89 425.47,273.6 425.14,274.35 424.81,275.62 424.48,275.58 424.14,274.7 423.81,275.63 423.48,274.86 423.15,276.33 422.82,279.82 422.48,278.18 422.15,276.42 421.82,279.49 421.49,278.98 421.16,279.01 420.82,277.98 420.49,277.68 420.16,277.71 419.83,279.51 419.5,280.21 419.16,279.94 418.83,281.52 418.5,280.56 418.17,283.37 417.84,282.53 417.5,283.86 417.17,285.12 416.84,285.56 416.51,284.35 416.18,286.52 415.84,288.14 415.51,289.33 415.18,289.03 414.85,291.1 414.52,292.23 414.18,290.08 413.85,289.91 413.52,290.21 413.19,290.95 412.86,290.97 412.52,292.51 412.19,293.74 411.86,293.3 411.53,294.7 411.2,294.51 410.86,293.19 410.53,295.64 410.2,295.32 409.87,295.78 409.54,297.18 409.2,299.51 408.87,300.31 408.54,300.31 408.21,299.14 407.88,299.59 407.54,299 407.21,301.93 406.88,301.86 406.55,302.7 406.22,302.45 405.88,303.33 405.55,303.87 405.22,304.17 404.89,305.9 404.56,305.64 404.22,306.43 403.89,304.4 403.56,305.19 403.23,306.33 402.9,307.77 402.56,309.28 402.23,309.1 401.9,310.55 401.57,311 401.24,310.58 400.9,310.69 400.57,312.09 400.24,310.83 399.91,311.75 399.58,311.23 399.24,313.14 398.91,313.97 398.58,314.73 398.25,314.37 397.92,315.03 397.58,315.23 397.25,315.1 396.92,315.13 396.59,316.67 396.26,317.5 395.92,317.34 395.59,315.95 395.26,315.91 394.93,317.96 394.6,319.07 394.26,318.55 393.93,317.33 393.6,318.65" fill="#dcdcdc" stroke="#d0d0d0" stroke-width="0.5"/>
<polygon points="393.6,317.55 393.93,317.61 394.26,314.53 394.6,315.31 394.93,315.83 395.26,315.76 395.59,316.4 395.92,316.76 396.26,315.76 396.59,315.96 396.92,314.9 397.25,315.12 397.58,316.4 397.92,316.49 398.25,316.07 398.58,316.7 398.91,315.26 399.24,314.57 399.58,313.08 399.91,313.74 400.24,313.32 400.57,312.25 400.9,311.36 401.24,312.24 401.57,310.35 401.9,311.01 402.23,309.65 402.56,310.07 402.9,310.19 403.23,310.79 403.56,309.92 403.89,307.2 404.22,308.19 404.56,306.68 404.89,305.87 405.22,306.71 405.55,305.69 405.88,304.83 406.22,305.64 406.55,306.09 406.88,304.74 407.21,304.55 407.54,302.83 407.88,303.15 408.21,304.47 408.54,304 408.87,304.52 409.2,303.02 409.54,302.08 409.87,302.33 410.2,302.8 410.53,301.42 410.86,301.77 411.2,300.54 411.53,301.65 411.86,301.57 412.19,301.62 412.52,301.95 412.86,298.93 413.19,298.17 413.52,299.64 413.85,299.07 414.18,300.87 414.52,299.15 414.85,298.38 415.18,299.01 415.51,299.28 415.84,298.72 416.18,298.19 416.51,298.54 416.84,299.01 417.17,298.66 417.5,298.6 417.84,297.45 418.17,297.44 418.5,297.21 418.83,298.57 419.16,298.14 419.5,297.79 419.83,297.66 420.16,297.18 420.49,297.02 420.82,297.87 421.16,296.13 421.49,295.23 421.82,295.96 422.15,295.26 422.48,296.1 422.82,296.64 423.15,295.91 423.48,294.08 423.81,294.45 424.14,295.71 424.48,294.72 424.81,294.86 425.14,295.02 425.47,294.1 425.8,295.33 426.14,295.8 426.47,295.69 426.8,293.38 427.13,292.93 427.46,293.23 427.8,293.39 428.13,292.18 428.46,290.88 428.79,291.77 429.12,291.24 429.46,289.06 429.79,289.3 430.12,290.08 430.45,289.66 430.78,289.53 431.12,288.77 431.45,288.49 431.78,288.88 432.11,288.61 432.44,288.03 432.78,288.58 433.11,288.11 433.44,288.67 433.77,287.06 434.1,285.95 434.44,287.35 434.77,286.51 435.1,286.66 435.43,286.78 435.76,287.05 436.1,286.64 436.43,285.75 436.76,287.16 437.09,285.93 437.42,286.25 437.76,287.04 438.09,286.53 438.42,285.66 438.75,285.78 439.08,285.44 439.42,285.75 439.75,286.03 440.08,284.77 440.41,285.73 440.74,284.61 441.08,284.48 441.41,284.93 441.74,285.08 442.07,285.16 442.4,284.91 442.74,284.75 443.07,284.73 443.4,286.11 443.73,286.81 444.06,285.04 444.4,284.85 444.73,284.5 445.06,283.74 445.39,283.92 445.72,281.69 446.06,281.69 446.39,281.66 446.72,282.24 447.05,280.76 447.38,280.06 447.72,278.9 448.05,278.58 448.38,279.84 448.71,280.76 449.04,278.81 449.38,279.52 449.71,279.22 450.04,279.01 450.37,278.29 450.7,277.73 451.04,278.61 451.37,278.64 451.7,279.39 452.03,277.73 452.36,277.4 452.7,278.33 453.03,276.46 453.36,276.3 453.69,277 454.02,276.72 454.36,276.45 454.69,275.37 455.02,274.46 455.35,274.33 455.68,273.11 456.02,274.7 456.35,274.03 456.68,273 457.01,272.31 457.34,272.16 457.68,273.65 458.01,275.03 458.34,274.64 458.67,272.41 459,272.94 459.34,274.09 459.67,275.55 460,274.8 460.33,275.02 460.66,274.43 461,274.43 461.33,276.66 461.66,275.97 461.99,274.95 462.32,275.52 462.66,276.31 462.99,276.68 463.32,276.95 463.65,274.08 463.98,273.2 464.32,274.39 464.65,273.37 464.98,274.83 465.31,275.02 465.64,275.31 465.98,275.07 466.31,274.25 466.64,272.63 466.97,272.91 467.3,273.61 467.64,273.83 467.97,274.09 468.3,273.66 468.63,274.45 468.96,273.91 469.3,273.38 469.63,272.83 469.96,273.92 470.29,273.47 470.62,273.3 470.96,274.18 471.29,275.56 471.62,275.1 471.95,273.62 472.28,273.82 472.62,271.74 472.95,272.12 473.28,273.31 473.61,273.42 473.94,272.95 474.28,272.64 474.61,273.09 474.94,272.77 475.27,270.54 475.6,271.06 475.94,271.83 476.27,272.7 476.6,274.17 476.93,273.19 477.26,273.14 477.6,272.83 477.93,273.04 478.26,272.07 478.59,271.29 478.92,272.36 479.26,273.54 479.59,272.7 479.92,271.28 480.25,271.33 480.58,271.32 480.92,272.91 481.25,273.02 481.58,272.03 481.91,271.68 482.24,271.9 482.58,271.5 482.91,271.01 483.24,271.34 483.57,272.12 483.9,273.15 484.24,272.4 484.57,272.22 484.9,272.08 485.23,270.99 485.56,271.79 485.9,271.79 486.23,270.99 486.56,271.8 486.89,273.2 487.22,272.61 487.56,271.18 487.89,271.73 488.22,271.62 488.55,272.85 488.88,270.97 489.22,272.43 489.55,272.36 489.88,271.81 490.21,269.7 490.54,270.24 490.88,271.12 491.21,272.12 491.54,271.67 491.87,272.08 492.2,271.75 492.54,271.06 492.87,269.79 493.2,271.01 493.53,269.59 493.86,271.48 494.2,269.3 494.53,270.33 494.86,270.58 495.19,270.79 495.52,270.36 495.86,270.45 496.19,270.64 496.52,271.14 496.85,271.3 497.18,270.9 497.52,271.12 497.85,271.42 498.18,272.08 498.51,271.38 498.84,270.52 499.18,271.3 499.51,270.12 499.84,270.35 500.17,270.27 500.5,271.72 500.84,270.47 501.17,269.3 501.5,268.16 501.83,269.69 502.16,269.99 502.5,269.58 502.83,269.47 503.16,270.44 503.49,270.33 503.82,269.61 504.16,269.44 504.49,269.98 504.82,269.23 505.15,271 505.48,270.22 505.82,270.88 506.15,270.98 506.48,270.05 506.81,268.78 507.14,269.23 507.48,269.71 507.81,268.69 508.14,268.82 508.47,271.2 508.8,271.13 509.14,271.06 509.47,271.07 509.8,271.76 510.13,270.44 510.46,270.12 510.8,268.74 511.13,269.73 511.13,277.81 510.8,276.96 510.46,278.43 510.13,278.75 509.8,280.22 509.47,279.56 509.14,279.53 508.8,279.41 508.47,279.42 508.14,276.78 507.81,276.46 507.48,277.42 507.14,276.94 506.81,276.53 506.48,277.7 506.15,278.65 505.82,278.68 505.48,278.26 505.15,278.88 504.82,277.2 504.49,277.77 504.16,277.37 503.82,277.32 503.49,278.2 503.16,278.31 502.83,277.46 502.5,277.51 502.16,278.08 501.83,277.76 501.5,276.26 501.17,277.31 500.84,278.33 500.5,279.39 500.17,277.91 499.84,277.83 499.51,277.59 499.18,278.86 498.84,277.97 498.51,278.7 498.18,279.64 497.85,278.82 497.52,278.61 497.18,278.32 496.85,278.82 496.52,278.81 496.19,278.49 495.86,278.23 495.52,278.32 495.19,278.8 494.86,278.57 494.53,278.23 494.2,277.2 493.86,279.35 493.53,277.31 493.2,278.74 492.87,277.53 492.54,278.89 492.2,279.6 491.87,279.79 491.54,279.19 491.21,279.65 490.88,278.53 490.54,277.62 490.21,277.2 489.88,279.1 489.55,279.57 489.22,279.86 488.88,278.44 488.55,280.33 488.22,279.07 487.89,279.15 487.56,278.85 487.22,280.29 486.89,280.9 486.56,279.4 486.23,278.45 485.9,279.09 485.56,278.9 485.23,277.95 484.9,279.09 484.57,279.11 484.24,279.21 483.9,280.18 483.57,279.27 483.24,278.41 482.91,277.98 482.58,278.41 482.24,278.87 481.91,278.81 481.58,279.07 481.25,279.93 480.92,279.96 480.58,278.52 480.25,278.54 479.92,278.37 479.59,279.61 479.26,280.51 478.92,279.57 478.59,278.52 478.26,279.25 477.93,280.25 477.6,280.01 477.26,280.33 476.93,280.27 476.6,281.04 476.27,279.5 475.94,278.53 475.6,277.62 475.27,277.11 474.94,279.43 474.61,279.88 474.28,279.48 473.94,279.71 473.61,280.15 473.28,280.13 472.95,278.9 472.62,278.56 472.28,280.55 471.95,280.37 471.62,281.84 471.29,282.44 470.96,281.17 470.62,280.47 470.29,280.63 469.96,281.2 469.63,280.04 469.3,280.78 468.96,281.15 468.63,281.65 468.3,280.75 467.97,280.97 467.64,280.46 467.3,280.36 466.97,279.44 466.64,279.21 466.31,280.78 465.98,281.72 465.64,282.14 465.31,281.83 464.98,281.44 464.65,279.94 464.32,280.96 463.98,279.61 463.65,280.26 463.32,282.96 462.99,282.67 462.66,282.4 462.32,281.7 461.99,281.22 461.66,282.28 461.33,282.98 461,280.88 460.66,280.87 460.33,281.54 460,281.39 459.67,282.1 459.34,280.7 459,279.47 458.67,278.84 458.34,281.21 458.01,281.58 457.68,280.26 457.34,278.74 457.01,278.95 456.68,279.73 456.35,280.86 456.02,281.47 455.68,279.79 455.35,280.91 455.02,280.99 454.69,281.91 454.36,283.03 454.02,283.26 453.69,283.56 453.36,282.97 453.03,283.21 452.7,285.09 452.36,284.02 452.03,284.32 451.7,285.89 451.37,285 451.04,284.96 450.7,283.95 450.37,284.45 450.04,285.24 449.71,285.42 449.38,285.64 449.04,285.02 448.71,286.8 448.38,285.95 448.05,284.82 447.72,285.04 447.38,286.28 447.05,287.16 446.72,288.7 446.39,288.16 446.06,288.18 445.72,288.17 445.39,290.45 445.06,290.08 444.73,290.71 444.4,291.11 444.06,291.38 443.73,293 443.4,292.07 443.07,290.59 442.74,290.65 442.4,290.81 442.07,291.02 441.74,290.96 441.41,290.87 441.08,290.47 440.74,290.51 440.41,291.75 440.08,290.76 439.75,291.9 439.42,291.61 439.08,291.27 438.75,291.55 438.42,291.42 438.09,292.3 437.76,292.84 437.42,291.97 437.09,291.52 436.76,292.81 436.43,291.45 436.1,292.3 435.76,292.64 435.43,292.39 435.1,292.4 434.77,292.32 434.44,293.09 434.1,291.64 433.77,292.79 433.44,294.38 433.11,293.81 432.78,294.17 432.44,293.57 432.11,294.01 431.78,294.28 431.45,293.83 431.12,294.06 430.78,294.73 430.45,294.92 430.12,295.23 429.79,294.56 429.46,294.39 429.12,296.66 428.79,297.29 428.46,296.5 428.13,297.84 427.8,299 427.46,298.9 427.13,298.58 426.8,298.92 426.47,301.17 426.14,301.23 425.8,300.59 425.47,299.4 425.14,300.36 424.81,300.32 424.48,300.2 424.14,301.08 423.81,299.74 423.48,299.4 423.15,301.38 422.82,301.98 422.48,301.27 422.15,300.38 421.82,301.09 421.49,300.47 421.16,301.4 420.82,303.08 420.49,302.18 420.16,302.32 419.83,302.78 419.5,302.88 419.16,303.1 418.83,303.58 418.5,302.11 418.17,302.34 417.84,302.44 417.5,303.57 417.17,303.68 416.84,303.95 416.51,303.36 416.18,302.95 415.84,303.38 415.51,303.74 415.18,303.45 414.85,302.66 414.52,303.52 414.18,305.29 413.85,303.43 413.52,303.95 413.19,302.43 412.86,303.16 412.52,306.28 412.19,305.86 411.86,305.74 411.53,305.88 411.2,304.71 410.86,306.02 410.53,305.7 410.2,306.93 409.87,306.47 409.54,306.05 409.2,306.86 408.87,308.36 408.54,307.71 408.21,308.06 407.88,306.66 407.54,306.22 407.21,308 406.88,308.18 406.55,309.51 406.22,309.08 405.88,308.27 405.55,309.19 405.22,310.15 404.89,309.18 404.56,309.85 404.22,311.31 403.89,310.25 403.56,312.92 403.23,313.69 402.9,313.11 402.56,312.95 402.23,312.56 401.9,313.9 401.57,313.16 401.24,315 400.9,314.11 400.57,314.9 400.24,315.96 399.91,316.35 399.58,315.69 399.24,317.13 398.91,317.73 398.58,319.11 398.25,318.5 397.92,318.93 397.58,318.73 397.25,317.39 396.92,317.19 396.59,318.25 396.26,318.01 395.92,318.96 395.59,318.54 395.26,317.86 394.93,317.89 394.6,317.3 394.26,316.47 393.93,319.53 393.6,319.4" fill="#dcdcdc" stroke="#d0d0d0" stroke-width="0.5"/>
<polyline points="393.6,317.69 393.93,316.37 394.26,317.55 394.6,318.03 394.93,316.86 395.26,314.74 395.59,314.76 395.92,316.08 396.26,316.16 396.59,315.3 396.92,313.7 397.25,313.63 397.58,313.72 397.92,313.44 398.25,312.72 398.58,313.03 398.91,312.27 399.24,311.43 399.58,309.49 399.91,309.96 400.24,309 400.57,310.24 400.9,308.84 401.24,308.62 401.57,308.97 401.9,308.46 402.23,306.99 402.56,307.1 402.9,305.56 403.23,304.01 403.56,302.85 403.89,301.97 404.22,304.01 404.56,303.19 404.89,303.46 405.22,301.73 405.55,301.41 405.88,300.81 406.22,299.94 406.55,300.18 406.88,299.31 407.21,299.33 407.54,296.31 407.88,296.92 408.21,296.44 408.54,297.58 408.87,297.55 409.2,296.59 409.54,294.21 409.87,292.71 410.2,292.15 410.53,292.5 410.86,290 411.2,291.24 411.53,291.42 411.86,289.94 412.19,290.35 412.52,289.06 412.86,287.45 413.19,287.38 413.52,286.6 413.85,286.29 414.18,286.5 414.52,288.65 414.85,287.52 415.18,285.45 415.51,285.67 415.84,284.41 416.18,282.71 416.51,280.44 416.84,281.58 417.17,281.02 417.5,279.68 417.84,278.39 418.17,279.3 418.5,276.48 418.83,277.44 419.16,275.85 419.5,276.08 419.83,275.39 420.16,273.6 420.49,273.41 420.82,273.65 421.16,274.66 421.49,274.7 421.82,275.29 422.15,272.08 422.48,273.76 422.82,275.41 423.15,271.98 423.48,270.45 423.81,271.09 424.14,270.06 424.48,270.9 424.81,270.87 425.14,269.59 425.47,268.83 425.8,269.06 426.14,266.94 426.47,266.52 426.8,266.67 427.13,267.82 427.46,266.78 427.8,266.43 428.13,265.75 428.46,264.28 428.79,264.61 429.12,263.69 429.46,262.44 429.79,261.97 430.12,259.58 430.45,262.14 430.78,261.56 431.12,262.14 431.45,261.12 431.78,257.87 432.11,260.07 432.44,259.63 432.78,258.27 433.11,257.91 433.44,257.01 433.77,258.89 434.1,257.29 434.44,258.3 434.77,258.98 435.1,257.51 435.43,256.79 435.76,257.53 436.1,257.91 436.43,257.28 436.76,256.63 437.09,256.31 437.42,256.83 437.76,258.21 438.09,255.22 438.42,254.68 438.75,255.64 439.08,256.29 439.42,255.72 439.75,255.07 440.08,256.33 440.41,253.42 440.74,252.82 441.08,253.15 441.41,252.57 441.74,252.3 442.07,251.26 442.4,251.74 442.74,251.04 443.07,250.48 443.4,252.09 443.73,253.11 444.06,254.11 444.4,254.05 444.73,254.58 445.06,254.2 445.39,253.8 445.72,253.44 446.06,254.99 446.39,253.57 446.72,254.19 447.05,254.3 447.38,254.75 447.72,256.43 448.05,255.07 448.38,256.36 448.71,254.2 449.04,254.16 449.38,252.66 449.71,252.8 450.04,252.81 450.37,252.1 450.7,253.09 451.04,252.01 451.37,253.06 451.7,253.17 452.03,254.09 452.36,253.33 452.7,252.79 453.03,253.62 453.36,254.76 453.69,254.08 454.02,253.25 454.36,253.37 454.69,254.18 455.02,254.31 455.35,253.89 455.68,255.94 456.02,254.94 456.35,252.4 456.68,253.74 457.01,253.32 457.34,251.2 457.68,251.05 458.01,250.71 458.34,251.54 458.67,253.06 459,249.66 459.34,250.43 459.67,250.82 460,249.6 460.33,249.75 460.66,250.51 461,251.98 461.33,251.73 461.66,251.56 461.99,251.93 462.32,252.53 462.66,253.05 462.99,252.53 463.32,252.82 463.65,252.08 463.98,251.2 464.32,251.53 464.65,252.07 464.98,250.93 465.31,251.33 465.64,253.69 465.98,254.22 466.31,253.68 466.64,254.55 466.97,253.47 467.3,255.47 467.64,256.71 467.97,254.59 468.3,253.66 468.63,255.24 468.96,254.31 469.3,252.52 469.63,253.94 469.96,254.63 470.29,254.92 470.62,254.75 470.96,255.31 471.29,254.29 471.62,254.63 471.95,253.24 472.28,250.33 472.62,252 472.95,250.84 473.28,249.92 473.61,252.76 473.94,251.74 474.28,251.21 474.61,251.15 474.94,249.9 475.27,250.37 475.6,249.72 475.94,250.01 476.27,249.8 476.6,250.21 476.93,247.32 477.26,248.04 477.6,249.33 477.93,246.86 478.26,245.88 478.59,247.01 478.92,247.91 479.26,248.33 479.59,246.51 479.92,247.01 480.25,247.97 480.58,247.04 480.92,247.77 481.25,248.04 481.58,246.34 481.91,246.65 482.24,246.55 482.58,247.41 482.91,247.11 483.24,248.49 483.57,248.19 483.9,248.07 484.24,249.54 484.57,251.24 484.9,250.43 485.23,250.77 485.56,250.34 485.9,251.42 486.23,250.57 486.56,249.64 486.89,247.71 487.22,247.23 487.56,248.26 487.89,247.67 488.22,249.31 488.55,248.28 488.88,248.69 489.22,247.64 489.55,248.01 489.88,248.65 490.21,249.36 490.54,247.7 490.88,247.96 491.21,247.36 491.54,247.2 491.87,249.5 492.2,248.38 492.54,248.88 492.87,248.49 493.2,248.32 493.53,250.59 493.86,250.37 494.2,250.13 494.53,249.68 494.86,249.03 495.19,250.4 495.52,250.75 495.86,250.21 496.19,252.45 496.52,250.07 496.85,251.74 497.18,250.47 497.52,251.09 497.85,249.82 498.18,249.94 498.51,251.07 498.84,253.28 499.18,252.63 499.51,252.14 499.84,251.7 500.17,253.27 500.5,253.65 500.84,253.82 501.17,252.89 501.5,253.58 501.83,253.21 502.16,252.02 502.5,252.77 502.83,251.45 503.16,251.83 503.49,252.58 503.82,251.66 504.16,251.82 504.49,252.76 504.82,253.58 505.15,253.52 505.48,253.18 505.82,252.29 506.15,252.75 506.48,253.91 506.81,255.25 507.14,254.43 507.48,253.95 507.81,253.05 508.14,254.28 508.47,255.71 508.8,254.4 509.14,254.79 509.47,256.07 509.8,253.96 510.13,253.72 510.46,254.37 510.8,254.47 511.13,255.52" fill="none" stroke="#0f4c89" stroke-width="1.7" stroke-linejoin="round" stroke-dasharray="1.6 0.7"/>
<polyline points="393.6,318.47 393.93,318.57 394.26,315.5 394.6,316.31 394.93,316.86 395.26,316.81 395.59,317.47 395.92,317.86 396.26,316.89 396.59,317.1 396.92,316.04 397.25,316.26 397.58,317.57 397.92,317.71 398.25,317.28 398.58,317.91 398.91,316.49 399.24,315.85 399.58,314.38 399.91,315.04 400.24,314.64 400.57,313.58 400.9,312.73 401.24,313.62 401.57,311.76 401.9,312.46 402.23,311.1 402.56,311.51 402.9,311.65 403.23,312.24 403.56,311.42 403.89,308.73 404.22,309.75 404.56,308.26 404.89,307.52 405.22,308.43 405.55,307.44 405.88,306.55 406.22,307.36 406.55,307.8 406.88,306.46 407.21,306.27 407.54,304.52 407.88,304.91 408.21,306.27 408.54,305.86 408.87,306.44 409.2,304.94 409.54,304.06 409.87,304.4 410.2,304.87 410.53,303.56 410.86,303.9 411.2,302.63 411.53,303.77 411.86,303.65 412.19,303.74 412.52,304.11 412.86,301.05 413.19,300.3 413.52,301.79 413.85,301.25 414.18,303.08 414.52,301.34 414.85,300.52 415.18,301.23 415.51,301.51 415.84,301.05 416.18,300.57 416.51,300.95 416.84,301.48 417.17,301.17 417.5,301.09 417.84,299.95 418.17,299.89 418.5,299.66 418.83,301.07 419.16,300.62 419.5,300.33 419.83,300.22 420.16,299.75 420.49,299.6 420.82,300.47 421.16,298.76 421.49,297.85 421.82,298.53 422.15,297.82 422.48,298.69 422.82,299.31 423.15,298.64 423.48,296.74 423.81,297.1 424.14,298.39 424.48,297.46 424.81,297.59 425.14,297.69 425.47,296.75 425.8,297.96 426.14,298.52 426.47,298.43 426.8,296.15 427.13,295.75 427.46,296.06 427.8,296.19 428.13,295.01 428.46,293.69 428.79,294.53 429.12,293.95 429.46,291.73 429.79,291.93 430.12,292.65 430.45,292.29 430.78,292.13 431.12,291.42 431.45,291.16 431.78,291.58 432.11,291.31 432.44,290.8 432.78,291.37 433.11,290.96 433.44,291.52 433.77,289.93 434.1,288.8 434.44,290.22 434.77,289.42 435.1,289.53 435.43,289.58 435.76,289.84 436.1,289.47 436.43,288.6 436.76,289.98 437.09,288.72 437.42,289.11 437.76,289.94 438.09,289.42 438.42,288.54 438.75,288.66 439.08,288.35 439.42,288.68 439.75,288.96 440.08,287.76 440.41,288.74 440.74,287.56 441.08,287.47 441.41,287.9 441.74,288.02 442.07,288.09 442.4,287.86 442.74,287.7 443.07,287.66 443.4,289.09 443.73,289.91 444.06,288.21 444.4,287.98 444.73,287.6 445.06,286.91 445.39,287.18 445.72,284.93 446.06,284.93 446.39,284.91 446.72,285.47 447.05,283.96 447.38,283.17 447.72,281.97 448.05,281.7 448.38,282.89 448.71,283.78 449.04,281.91 449.38,282.58 449.71,282.32 450.04,282.13 450.37,281.37 450.7,280.84 451.04,281.78 451.37,281.82 451.7,282.64 452.03,281.03 452.36,280.71 452.7,281.71 453.03,279.83 453.36,279.64 453.69,280.28 454.02,279.99 454.36,279.74 454.69,278.64 455.02,277.72 455.35,277.62 455.68,276.45 456.02,278.09 456.35,277.44 456.68,276.36 457.01,275.63 457.34,275.45 457.68,276.95 458.01,278.3 458.34,277.92 458.67,275.62 459,276.21 459.34,277.39 459.67,278.82 460,278.09 460.33,278.28 460.66,277.65 461,277.65 461.33,279.82 461.66,279.12 461.99,278.08 462.32,278.61 462.66,279.35 462.99,279.67 463.32,279.96 463.65,277.17 463.98,276.4 464.32,277.67 464.65,276.65 464.98,278.13 465.31,278.43 465.64,278.73 465.98,278.39 466.31,277.51 466.64,275.92 466.97,276.17 467.3,276.98 467.64,277.14 467.97,277.53 468.3,277.21 468.63,278.05 468.96,277.53 469.3,277.08 469.63,276.44 469.96,277.56 470.29,277.05 470.62,276.89 470.96,277.68 471.29,279 471.62,278.47 471.95,277 472.28,277.18 472.62,275.15 472.95,275.51 473.28,276.72 473.61,276.79 473.94,276.33 474.28,276.06 474.61,276.48 474.94,276.1 475.27,273.82 475.6,274.34 475.94,275.18 476.27,276.1 476.6,277.61 476.93,276.73 477.26,276.74 477.6,276.42 477.93,276.64 478.26,275.66 478.59,274.91 478.92,275.96 479.26,277.03 479.59,276.15 479.92,274.82 480.25,274.94 480.58,274.92 480.92,276.43 481.25,276.48 481.58,275.55 481.91,275.24 482.24,275.38 482.58,274.96 482.91,274.49 483.24,274.87 483.57,275.7 483.9,276.66 484.24,275.8 484.57,275.67 484.9,275.59 485.23,274.47 485.56,275.34 485.9,275.44 486.23,274.72 486.56,275.6 486.89,277.05 487.22,276.45 487.56,275.02 487.89,275.44 488.22,275.34 488.55,276.59 488.88,274.7 489.22,276.15 489.55,275.96 489.88,275.46 490.21,273.45 490.54,273.93 490.88,274.82 491.21,275.89 491.54,275.43 491.87,275.94 492.2,275.67 492.54,274.98 492.87,273.66 493.2,274.87 493.53,273.45 493.86,275.42 494.2,273.25 494.53,274.28 494.86,274.57 495.19,274.8 495.52,274.34 495.86,274.34 496.19,274.56 496.52,274.98 496.85,275.06 497.18,274.61 497.52,274.87 497.85,275.12 498.18,275.86 498.51,275.04 498.84,274.25 499.18,275.08 499.51,273.86 499.84,274.09 500.17,274.09 500.5,275.56 500.84,274.4 501.17,273.31 501.5,272.21 501.83,273.73 502.16,274.04 502.5,273.54 502.83,273.47 503.16,274.38 503.49,274.26 503.82,273.46 504.16,273.4 504.49,273.87 504.82,273.22 505.15,274.94 505.48,274.24 505.82,274.78 506.15,274.81 506.48,273.88 506.81,272.65 507.14,273.09 507.48,273.56 507.81,272.57 508.14,272.8 508.47,275.31 508.8,275.27 509.14,275.29 509.47,275.31 509.8,275.99 510.13,274.59 510.46,274.28 510.8,272.85 511.13,273.77" fill="none" stroke="#c8102e" stroke-width="1.7" stroke-linejoin="round" stroke-dasharray="1.6 0.7"/>
<circle cx="477.6" cy="235.6" r="1.1" fill="#0f4c89"/>
<text x="480.54" y="238" font-size="8.2" fill="#231f20" textLength="9.02" lengthAdjust="spacingAndGlyphs">FV</text>
<text x="489.92" y="234.5" font-size="5.6" class="nb" fill="#231f20" textLength="11.38" lengthAdjust="spacingAndGlyphs">Q/Q</text>
<circle cx="477.6" cy="288.8" r="1.1" fill="#c8102e"/>
<text x="480.56" y="290.3" font-size="7.6" fill="#231f20" textLength="32.21" lengthAdjust="spacingAndGlyphs">Wild-type</text>
<text x="6.28" y="362.8" font-size="11.2" font-weight="bold" fill="#000" textLength="7.44" lengthAdjust="spacingAndGlyphs">E</text>
<line x1="49.4" y1="366.6" x2="49.4" y2="460.5" stroke="#000" stroke-width="0.9"/>
<line x1="46.2" y1="460" x2="49.4" y2="460" stroke="#000" stroke-width="0.9"/>
<text x="39.4" y="463" font-size="8.75" fill="#231f20" textLength="4.28" lengthAdjust="spacingAndGlyphs">0</text>
<line x1="46.2" y1="430.65" x2="49.4" y2="430.65" stroke="#000" stroke-width="0.9"/>
<text x="22.28" y="433.65" font-size="8.75" fill="#231f20" textLength="21.4" lengthAdjust="spacingAndGlyphs">50000</text>
<line x1="46.2" y1="401.3" x2="49.4" y2="401.3" stroke="#000" stroke-width="0.9"/>
<text x="18.01" y="404.3" font-size="8.75" fill="#231f20" textLength="25.68" lengthAdjust="spacingAndGlyphs">100000</text>
<line x1="46.2" y1="371.95" x2="49.4" y2="371.95" stroke="#000" stroke-width="0.9"/>
<text x="18.01" y="374.95" font-size="8.75" fill="#231f20" textLength="25.68" lengthAdjust="spacingAndGlyphs">150000</text>
<rect x="58.2" y="417.1" width="34" height="42.9" fill="#c8102e" stroke="#b80f2a" stroke-width="0.6"/>
<rect x="109.6" y="399" width="34" height="61" fill="#145589" stroke="#0e4a80" stroke-width="0.6"/>
<line x1="75.2" y1="413.4" x2="75.2" y2="420.8" stroke="#000" stroke-width="1"/>
<line x1="67" y1="413.4" x2="83.4" y2="413.4" stroke="#000" stroke-width="1"/>
<line x1="67" y1="420.8" x2="83.4" y2="420.8" stroke="#000" stroke-width="1"/>
<line x1="126.6" y1="393" x2="126.6" y2="404.2" stroke="#000" stroke-width="1"/>
<line x1="118.4" y1="393" x2="134.8" y2="393" stroke="#000" stroke-width="1"/>
<line x1="118.4" y1="404.2" x2="134.8" y2="404.2" stroke="#000" stroke-width="1"/>
<polyline points="74.1,391 74.1,386.8 127,386.8 127,391" fill="none" stroke="#000" stroke-width="0.9"/>
<text x="86.63" y="382.2" font-size="8.2" fill="#231f20" textLength="27.03" lengthAdjust="spacingAndGlyphs">p&lt;0.05</text>
<line x1="48.95" y1="460" x2="153" y2="460" stroke="#000" stroke-width="1"/>
<text x="57.46" y="470" font-size="8.2" fill="#231f20" textLength="35.14" lengthAdjust="spacingAndGlyphs">Wild-type</text>
<text x="115.42" y="469.8" font-size="8.9" fill="#231f20" textLength="9.34" lengthAdjust="spacingAndGlyphs">FV</text>
<text x="125.19" y="466" font-size="6.2" class="nb" fill="#231f20" textLength="12.54" lengthAdjust="spacingAndGlyphs">Q/Q</text>
<g transform="translate(12.8,413) rotate(-90)"><text x="-20.89" y="0" font-size="8.7" fill="#231f20" textLength="41.47" lengthAdjust="spacingAndGlyphs">Platelet AUC</text></g>
<text x="179.35" y="363.1" font-size="11.2" font-weight="bold" fill="#000" textLength="7.07" lengthAdjust="spacingAndGlyphs">F</text>
<line x1="221.5" y1="366.8" x2="221.5" y2="460.5" stroke="#000" stroke-width="0.9"/>
<line x1="218.3" y1="460" x2="221.5" y2="460" stroke="#000" stroke-width="0.9"/>
<text x="210.9" y="463" font-size="8.75" fill="#231f20" textLength="4.28" lengthAdjust="spacingAndGlyphs">0</text>
<line x1="218.3" y1="438.1" x2="221.5" y2="438.1" stroke="#000" stroke-width="0.9"/>
<text x="193.78" y="441.1" font-size="8.75" fill="#231f20" textLength="21.4" lengthAdjust="spacingAndGlyphs">10000</text>
<line x1="218.3" y1="416.2" x2="221.5" y2="416.2" stroke="#000" stroke-width="0.9"/>
<text x="193.78" y="419.2" font-size="8.75" fill="#231f20" textLength="21.4" lengthAdjust="spacingAndGlyphs">20000</text>
<line x1="218.3" y1="394.3" x2="221.5" y2="394.3" stroke="#000" stroke-width="0.9"/>
<text x="193.78" y="397.3" font-size="8.75" fill="#231f20" textLength="21.4" lengthAdjust="spacingAndGlyphs">30000</text>
<line x1="218.3" y1="372.4" x2="221.5" y2="372.4" stroke="#000" stroke-width="0.9"/>
<text x="193.78" y="375.4" font-size="8.75" fill="#231f20" textLength="21.4" lengthAdjust="spacingAndGlyphs">40000</text>
<rect x="229.9" y="428.3" width="34" height="31.7" fill="#c8102e" stroke="#b80f2a" stroke-width="0.6"/>
<rect x="281" y="387.8" width="34.3" height="72.2" fill="#145589" stroke="#0e4a80" stroke-width="0.6"/>
<line x1="246.8" y1="424.6" x2="246.8" y2="432.3" stroke="#000" stroke-width="1"/>
<line x1="238.6" y1="424.6" x2="255" y2="424.6" stroke="#000" stroke-width="1"/>
<line x1="238.6" y1="432.3" x2="255" y2="432.3" stroke="#000" stroke-width="1"/>
<line x1="298.6" y1="381.6" x2="298.6" y2="393.8" stroke="#000" stroke-width="1"/>
<line x1="290.4" y1="381.6" x2="306.8" y2="381.6" stroke="#000" stroke-width="1"/>
<line x1="290.4" y1="393.8" x2="306.8" y2="393.8" stroke="#000" stroke-width="1"/>
<polyline points="245.5,378.6 245.5,374.9 298.7,374.9 298.7,378.6" fill="none" stroke="#000" stroke-width="0.9"/>
<text x="254.16" y="370.2" font-size="8.2" fill="#231f20" textLength="35.01" lengthAdjust="spacingAndGlyphs">p&lt;0.0001</text>
<line x1="221.05" y1="460" x2="324.7" y2="460" stroke="#000" stroke-width="1"/>
<text x="229.86" y="470" font-size="8.2" fill="#231f20" textLength="34.43" lengthAdjust="spacingAndGlyphs">Wild-type</text>
<text x="286.62" y="469.8" font-size="8.9" fill="#231f20" textLength="9.34" lengthAdjust="spacingAndGlyphs">FV</text>
<text x="296.39" y="466" font-size="6.2" class="nb" fill="#231f20" textLength="12.54" lengthAdjust="spacingAndGlyphs">Q/Q</text>
<g transform="translate(188.1,413.3) rotate(-90)"><text x="-16.78" y="0" font-size="8.7" fill="#231f20" textLength="33.25" lengthAdjust="spacingAndGlyphs">P-sel AUC</text></g>
<text x="352.09" y="363.6" font-size="11.2" font-weight="bold" fill="#000" textLength="9.91" lengthAdjust="spacingAndGlyphs">G</text>
<line x1="393.5" y1="366.8" x2="393.5" y2="460.5" stroke="#000" stroke-width="0.9"/>
<line x1="390.3" y1="460" x2="393.5" y2="460" stroke="#000" stroke-width="0.9"/>
<text x="384.2" y="463" font-size="8.75" fill="#231f20" textLength="4.28" lengthAdjust="spacingAndGlyphs">0</text>
<line x1="390.3" y1="442.4" x2="393.5" y2="442.4" stroke="#000" stroke-width="0.9"/>
<text x="371.35" y="445.4" font-size="8.75" fill="#231f20" textLength="17.12" lengthAdjust="spacingAndGlyphs">5000</text>
<line x1="390.3" y1="424.8" x2="393.5" y2="424.8" stroke="#000" stroke-width="0.9"/>
<text x="367.08" y="427.8" font-size="8.75" fill="#231f20" textLength="21.4" lengthAdjust="spacingAndGlyphs">10000</text>
<line x1="390.3" y1="407.2" x2="393.5" y2="407.2" stroke="#000" stroke-width="0.9"/>
<text x="367.08" y="410.2" font-size="8.75" fill="#231f20" textLength="21.4" lengthAdjust="spacingAndGlyphs">15000</text>
<line x1="390.3" y1="389.6" x2="393.5" y2="389.6" stroke="#000" stroke-width="0.9"/>
<text x="367.08" y="392.6" font-size="8.75" fill="#231f20" textLength="21.4" lengthAdjust="spacingAndGlyphs">20000</text>
<line x1="390.3" y1="372" x2="393.5" y2="372" stroke="#000" stroke-width="0.9"/>
<text x="367.08" y="375" font-size="8.75" fill="#231f20" textLength="21.4" lengthAdjust="spacingAndGlyphs">25000</text>
<rect x="402.4" y="415.1" width="34" height="44.9" fill="#c8102e" stroke="#b80f2a" stroke-width="0.6"/>
<rect x="453.8" y="383.6" width="33.8" height="76.4" fill="#145589" stroke="#0e4a80" stroke-width="0.6"/>
<line x1="419.6" y1="409.7" x2="419.6" y2="420.8" stroke="#000" stroke-width="1"/>
<line x1="411.4" y1="409.7" x2="427.8" y2="409.7" stroke="#000" stroke-width="1"/>
<line x1="411.4" y1="420.8" x2="427.8" y2="420.8" stroke="#000" stroke-width="1"/>
<line x1="470.7" y1="377.4" x2="470.7" y2="390.3" stroke="#000" stroke-width="1"/>
<line x1="462.5" y1="377.4" x2="478.9" y2="377.4" stroke="#000" stroke-width="1"/>
<line x1="462.5" y1="390.3" x2="478.9" y2="390.3" stroke="#000" stroke-width="1"/>
<polyline points="419,374.9 419,371.2 471.2,371.2 471.2,374.9" fill="none" stroke="#000" stroke-width="0.9"/>
<text x="427.16" y="366.6" font-size="8.2" fill="#231f20" textLength="34.7" lengthAdjust="spacingAndGlyphs">p&lt;0.0001</text>
<line x1="393.05" y1="460" x2="497" y2="460" stroke="#000" stroke-width="1"/>
<text x="402.36" y="470" font-size="8.2" fill="#231f20" textLength="34.43" lengthAdjust="spacingAndGlyphs">Wild-type</text>
<text x="459.82" y="469.8" font-size="8.9" fill="#231f20" textLength="9.34" lengthAdjust="spacingAndGlyphs">FV</text>
<text x="469.59" y="466" font-size="6.2" class="nb" fill="#231f20" textLength="12.54" lengthAdjust="spacingAndGlyphs">Q/Q</text>
<g transform="translate(361.3,412.75) rotate(-90)"><text x="-18.35" y="0" font-size="8.7" fill="#231f20" textLength="36.36" lengthAdjust="spacingAndGlyphs">Fibrin AUC</text></g>
</g>
<rect x="0.5" y="0.5" width="519" height="478" fill="none" stroke="#000" stroke-width="1"/>
<rect x="1.5" y="1.5" width="517" height="476" fill="none" stroke="#000" stroke-width="1" opacity="0.45"/>
</svg>
</body></html>
